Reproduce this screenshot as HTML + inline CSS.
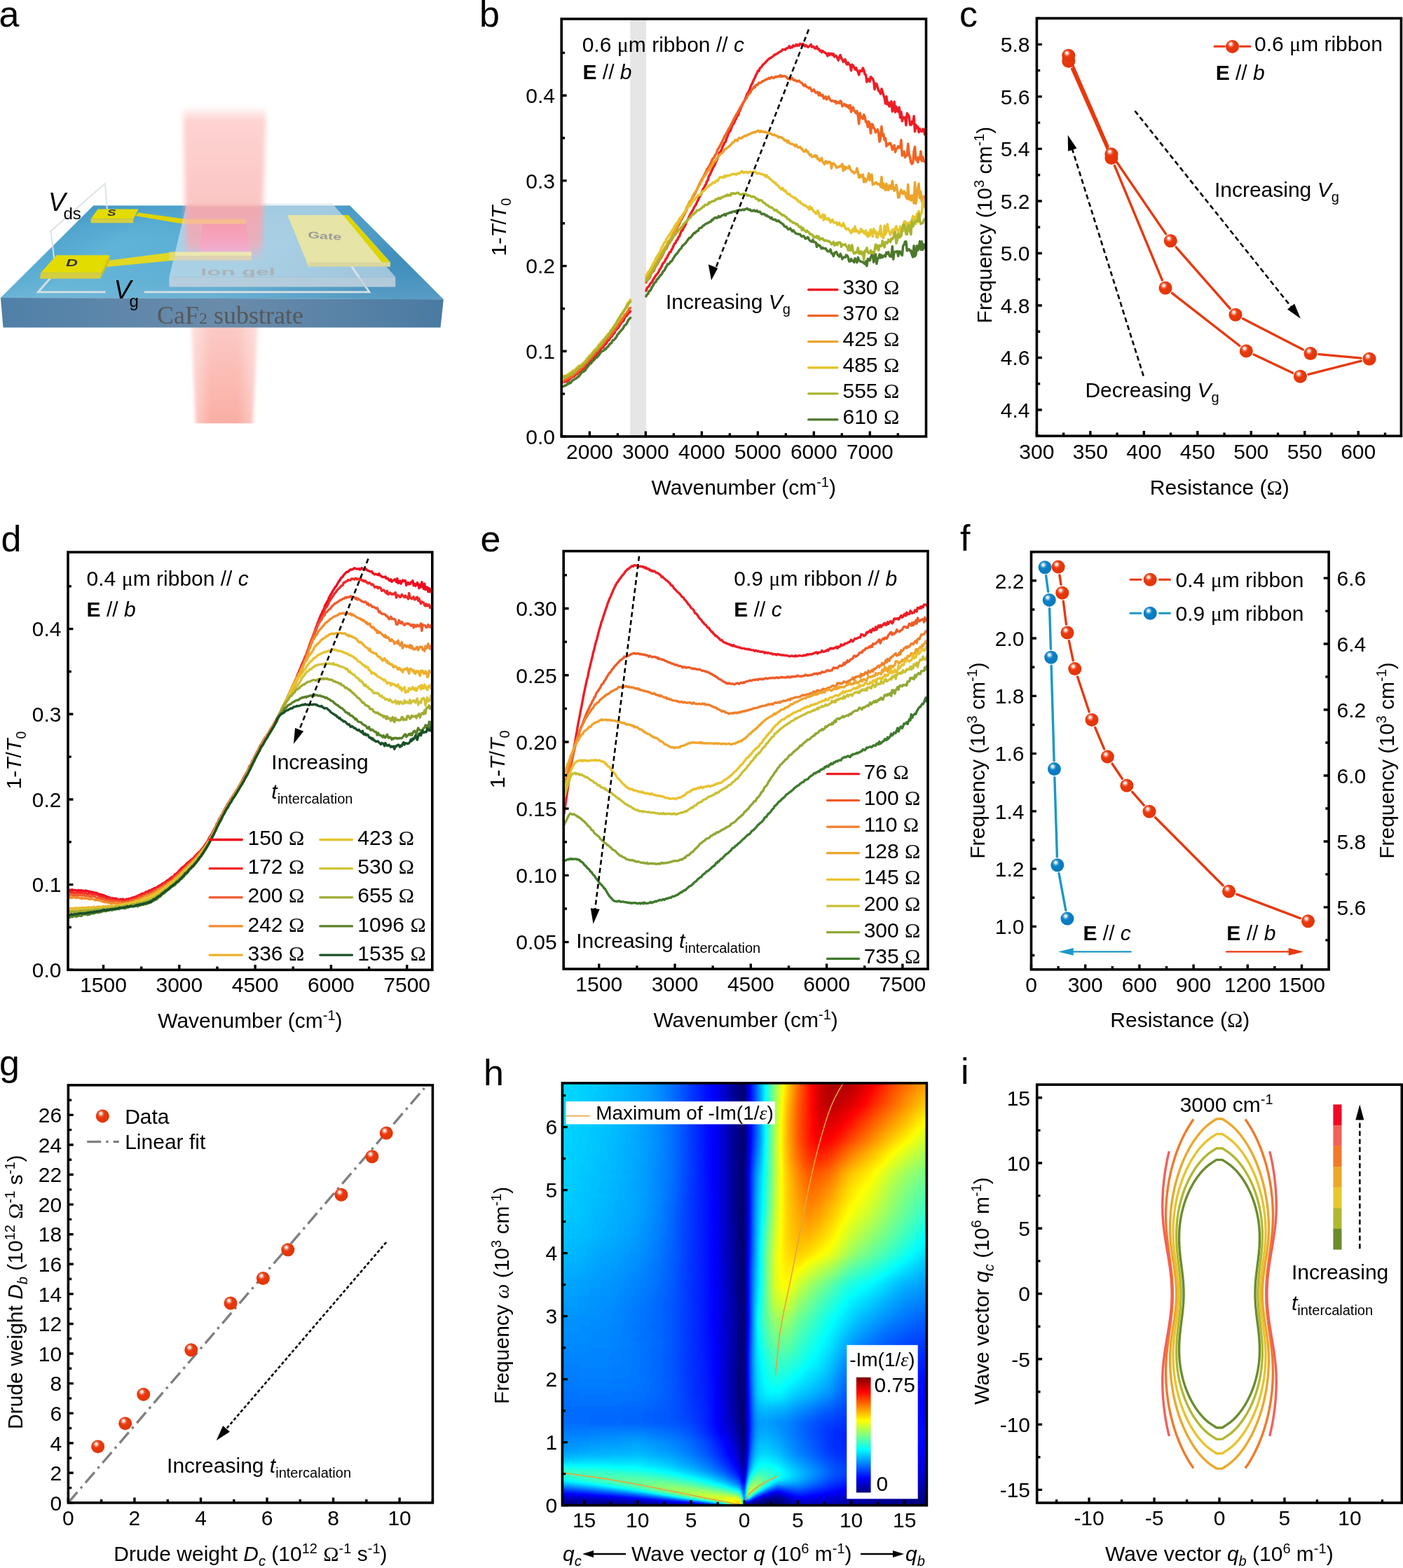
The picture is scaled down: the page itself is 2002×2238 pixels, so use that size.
<!DOCTYPE html>
<html><head><meta charset="utf-8"><title>Figure</title>
<style>html,body{margin:0;padding:0;background:#fff;}svg{display:block;}</style></head>
<body><svg xmlns="http://www.w3.org/2000/svg" width="2002" height="2238" viewBox="0 0 2002 2238" font-family="'Liberation Sans', Arial, sans-serif">
<defs><radialGradient id="ballR" cx="0.4" cy="0.37" r="0.62" fx="0.37" fy="0.3">
<stop offset="0" stop-color="#ffffff"/><stop offset="0.12" stop-color="#fde4dc"/><stop offset="0.3" stop-color="#ef6a48"/><stop offset="0.45" stop-color="#e8380d"/><stop offset="1" stop-color="#e33508"/></radialGradient>
<radialGradient id="ballB" cx="0.4" cy="0.37" r="0.62" fx="0.37" fy="0.3">
<stop offset="0" stop-color="#ffffff"/><stop offset="0.12" stop-color="#d8ecf6"/><stop offset="0.3" stop-color="#4aa2d4"/><stop offset="0.45" stop-color="#0a7fc4"/><stop offset="1" stop-color="#0479bf"/></radialGradient>
<linearGradient id="subTop" x1="0" y1="0" x2="1" y2="0.3">
 <stop offset="0" stop-color="#3f8fc0"/><stop offset="0.35" stop-color="#5fb4d8"/><stop offset="0.7" stop-color="#5aaad2"/><stop offset="1" stop-color="#3d8bba"/></linearGradient>
<linearGradient id="subTop2" x1="0" y1="0" x2="0" y2="1">
 <stop offset="0" stop-color="#3a8cbc" stop-opacity="0.5"/><stop offset="0.5" stop-color="#60b5d8" stop-opacity="0"/><stop offset="1" stop-color="#8fbfd8" stop-opacity="0.35"/></linearGradient>
<linearGradient id="subFront" x1="0" y1="0" x2="1" y2="0">
 <stop offset="0" stop-color="#5080a8"/><stop offset="0.5" stop-color="#6a8cab"/><stop offset="1" stop-color="#4a7aa2"/></linearGradient>
<linearGradient id="beamTop" gradientUnits="userSpaceOnUse" x1="0" y1="150" x2="0" y2="375">
 <stop offset="0" stop-color="#fdd6d4" stop-opacity="0"/>
 <stop offset="0.1" stop-color="#fdd3d1" stop-opacity="1"/>
 <stop offset="0.63" stop-color="#fbc6c4" stop-opacity="1"/>
 <stop offset="0.64" stop-color="#f7a5ab" stop-opacity="0.92"/>
 <stop offset="0.88" stop-color="#f7a8b4" stop-opacity="0.8"/>
 <stop offset="1" stop-color="#f7b4c4" stop-opacity="0"/></linearGradient>
<linearGradient id="beamBot" x1="0" y1="0" x2="0" y2="1">
 <stop offset="0" stop-color="#fccbc6"/><stop offset="1" stop-color="#faaea4"/></linearGradient>
<linearGradient id="beamEdge" x1="0" y1="0" x2="1" y2="0">
 <stop offset="0" stop-color="#fff" stop-opacity="0.45"/><stop offset="0.3" stop-color="#fff" stop-opacity="0"/><stop offset="0.7" stop-color="#fff" stop-opacity="0"/><stop offset="1" stop-color="#fff" stop-opacity="0.45"/></linearGradient>
<filter id="blur3" x="-20%" y="-20%" width="140%" height="140%"><feGaussianBlur stdDeviation="2.5 0.5"/></filter>
<filter id="blur6" x="-20%" y="-20%" width="140%" height="140%"><feGaussianBlur stdDeviation="3.5 2"/></filter>
<linearGradient id="chan" x1="0" y1="0" x2="0" y2="1">
 <stop offset="0" stop-color="#f59cae"/><stop offset="0.6" stop-color="#f6a4c0"/><stop offset="1" stop-color="#f2b0d4"/></linearGradient>
<filter id="jet" x="0" y="0" width="1" height="1" color-interpolation-filters="sRGB"><feGaussianBlur stdDeviation="2.5"/><feComponentTransfer><feFuncR type="table" tableValues="0 0 0 0 0.5 1 1 1 0.5"/><feFuncG type="table" tableValues="0 0 0.5 1 1 1 0.5 0 0"/><feFuncB type="table" tableValues="0.4 1 1 1 0.5 0 0 0 0"/></feComponentTransfer></filter><linearGradient id="vramp" x1="0" y1="0" x2="0" y2="1"><stop offset="0" stop-color="#000" stop-opacity="1"/><stop offset="1" stop-color="#000" stop-opacity="0"/></linearGradient><mask id="vm" maskContentUnits="objectBoundingBox" style="mask-type:alpha"><rect width="1" height="1" fill="url(#vramp)"/></mask><linearGradient id="hr0" gradientUnits="userSpaceOnUse" x1="803.12" y1="0" x2="1321.28" y2="0"><stop offset="0.0000" stop-color="#050505"/><stop offset="0.0294" stop-color="#050505"/><stop offset="0.0588" stop-color="#050505"/><stop offset="0.0882" stop-color="#050505"/><stop offset="0.1176" stop-color="#050505"/><stop offset="0.1471" stop-color="#060606"/><stop offset="0.1765" stop-color="#060606"/><stop offset="0.2059" stop-color="#060606"/><stop offset="0.2353" stop-color="#060606"/><stop offset="0.2647" stop-color="#070707"/><stop offset="0.2941" stop-color="#070707"/><stop offset="0.3235" stop-color="#080808"/><stop offset="0.3529" stop-color="#090909"/><stop offset="0.3824" stop-color="#0a0a0a"/><stop offset="0.3971" stop-color="#0b0b0b"/><stop offset="0.4118" stop-color="#0d0d0d"/><stop offset="0.4265" stop-color="#0f0f0f"/><stop offset="0.4412" stop-color="#121212"/><stop offset="0.4559" stop-color="#181818"/><stop offset="0.4632" stop-color="#1d1d1d"/><stop offset="0.4706" stop-color="#252525"/><stop offset="0.4779" stop-color="#333333"/><stop offset="0.4853" stop-color="#4b4b4b"/><stop offset="0.4926" stop-color="#7d7d7d"/><stop offset="0.5000" stop-color="#000000"/><stop offset="0.5074" stop-color="#040404"/><stop offset="0.5147" stop-color="#020202"/><stop offset="0.5221" stop-color="#020202"/><stop offset="0.5294" stop-color="#020202"/><stop offset="0.5368" stop-color="#020202"/><stop offset="0.5441" stop-color="#020202"/><stop offset="0.5588" stop-color="#010101"/><stop offset="0.5735" stop-color="#010101"/><stop offset="0.5882" stop-color="#010101"/><stop offset="0.6029" stop-color="#030303"/><stop offset="0.6176" stop-color="#060606"/><stop offset="0.6471" stop-color="#101010"/><stop offset="0.6765" stop-color="#0f0f0f"/><stop offset="0.7059" stop-color="#0f0f0f"/><stop offset="0.7353" stop-color="#0e0e0e"/><stop offset="0.7647" stop-color="#0c0c0c"/><stop offset="0.7941" stop-color="#0b0b0b"/><stop offset="0.8235" stop-color="#090909"/><stop offset="0.8529" stop-color="#080808"/><stop offset="0.8824" stop-color="#070707"/><stop offset="0.9118" stop-color="#060606"/><stop offset="0.9412" stop-color="#060606"/><stop offset="0.9706" stop-color="#050505"/><stop offset="1.0000" stop-color="#040404"/></linearGradient><linearGradient id="hr1" gradientUnits="userSpaceOnUse" x1="803.12" y1="0" x2="1321.28" y2="0"><stop offset="0.0000" stop-color="#060606"/><stop offset="0.0294" stop-color="#060606"/><stop offset="0.0588" stop-color="#070707"/><stop offset="0.0882" stop-color="#070707"/><stop offset="0.1176" stop-color="#070707"/><stop offset="0.1471" stop-color="#080808"/><stop offset="0.1765" stop-color="#080808"/><stop offset="0.2059" stop-color="#080808"/><stop offset="0.2353" stop-color="#090909"/><stop offset="0.2647" stop-color="#0a0a0a"/><stop offset="0.2941" stop-color="#0c0c0c"/><stop offset="0.3235" stop-color="#0e0e0e"/><stop offset="0.3529" stop-color="#111111"/><stop offset="0.3824" stop-color="#161616"/><stop offset="0.3971" stop-color="#1a1a1a"/><stop offset="0.4118" stop-color="#202020"/><stop offset="0.4265" stop-color="#2a2a2a"/><stop offset="0.4412" stop-color="#3a3a3a"/><stop offset="0.4559" stop-color="#585858"/><stop offset="0.4632" stop-color="#707070"/><stop offset="0.4706" stop-color="#8e8e8e"/><stop offset="0.4779" stop-color="#ababab"/><stop offset="0.4853" stop-color="#b2b2b2"/><stop offset="0.4926" stop-color="#b8b8b8"/><stop offset="0.5000" stop-color="#000000"/><stop offset="0.5074" stop-color="#0a0a0a"/><stop offset="0.5147" stop-color="#060606"/><stop offset="0.5221" stop-color="#040404"/><stop offset="0.5294" stop-color="#030303"/><stop offset="0.5368" stop-color="#030303"/><stop offset="0.5441" stop-color="#030303"/><stop offset="0.5588" stop-color="#020202"/><stop offset="0.5735" stop-color="#020202"/><stop offset="0.5882" stop-color="#020202"/><stop offset="0.6029" stop-color="#040404"/><stop offset="0.6176" stop-color="#080808"/><stop offset="0.6471" stop-color="#121212"/><stop offset="0.6765" stop-color="#111111"/><stop offset="0.7059" stop-color="#101010"/><stop offset="0.7353" stop-color="#0f0f0f"/><stop offset="0.7647" stop-color="#0d0d0d"/><stop offset="0.7941" stop-color="#0c0c0c"/><stop offset="0.8235" stop-color="#0a0a0a"/><stop offset="0.8529" stop-color="#090909"/><stop offset="0.8824" stop-color="#080808"/><stop offset="0.9118" stop-color="#070707"/><stop offset="0.9412" stop-color="#060606"/><stop offset="0.9706" stop-color="#050505"/><stop offset="1.0000" stop-color="#050505"/></linearGradient><linearGradient id="hr2" gradientUnits="userSpaceOnUse" x1="803.12" y1="0" x2="1321.28" y2="0"><stop offset="0.0000" stop-color="#080808"/><stop offset="0.0294" stop-color="#080808"/><stop offset="0.0588" stop-color="#090909"/><stop offset="0.0882" stop-color="#090909"/><stop offset="0.1176" stop-color="#090909"/><stop offset="0.1471" stop-color="#0a0a0a"/><stop offset="0.1765" stop-color="#0b0b0b"/><stop offset="0.2059" stop-color="#0c0c0c"/><stop offset="0.2353" stop-color="#0d0d0d"/><stop offset="0.2647" stop-color="#0f0f0f"/><stop offset="0.2941" stop-color="#121212"/><stop offset="0.3235" stop-color="#161616"/><stop offset="0.3529" stop-color="#1d1d1d"/><stop offset="0.3824" stop-color="#292929"/><stop offset="0.3971" stop-color="#333333"/><stop offset="0.4118" stop-color="#424242"/><stop offset="0.4265" stop-color="#585858"/><stop offset="0.4412" stop-color="#777777"/><stop offset="0.4559" stop-color="#9f9f9f"/><stop offset="0.4632" stop-color="#a8a8a8"/><stop offset="0.4706" stop-color="#ababab"/><stop offset="0.4779" stop-color="#aeaeae"/><stop offset="0.4853" stop-color="#b0b0b0"/><stop offset="0.4926" stop-color="#b5b5b5"/><stop offset="0.5000" stop-color="#000000"/><stop offset="0.5074" stop-color="#191919"/><stop offset="0.5147" stop-color="#0c0c0c"/><stop offset="0.5221" stop-color="#080808"/><stop offset="0.5294" stop-color="#060606"/><stop offset="0.5368" stop-color="#050505"/><stop offset="0.5441" stop-color="#040404"/><stop offset="0.5588" stop-color="#030303"/><stop offset="0.5735" stop-color="#030303"/><stop offset="0.5882" stop-color="#020202"/><stop offset="0.6029" stop-color="#050505"/><stop offset="0.6176" stop-color="#0a0a0a"/><stop offset="0.6471" stop-color="#141414"/><stop offset="0.6765" stop-color="#131313"/><stop offset="0.7059" stop-color="#121212"/><stop offset="0.7353" stop-color="#111111"/><stop offset="0.7647" stop-color="#0f0f0f"/><stop offset="0.7941" stop-color="#0d0d0d"/><stop offset="0.8235" stop-color="#0b0b0b"/><stop offset="0.8529" stop-color="#0a0a0a"/><stop offset="0.8824" stop-color="#090909"/><stop offset="0.9118" stop-color="#080808"/><stop offset="0.9412" stop-color="#070707"/><stop offset="0.9706" stop-color="#060606"/><stop offset="1.0000" stop-color="#050505"/></linearGradient><linearGradient id="hr3" gradientUnits="userSpaceOnUse" x1="803.12" y1="0" x2="1321.28" y2="0"><stop offset="0.0000" stop-color="#0a0a0a"/><stop offset="0.0294" stop-color="#0a0a0a"/><stop offset="0.0588" stop-color="#0b0b0b"/><stop offset="0.0882" stop-color="#0b0b0b"/><stop offset="0.1176" stop-color="#0c0c0c"/><stop offset="0.1471" stop-color="#0d0d0d"/><stop offset="0.1765" stop-color="#0e0e0e"/><stop offset="0.2059" stop-color="#101010"/><stop offset="0.2353" stop-color="#131313"/><stop offset="0.2647" stop-color="#161616"/><stop offset="0.2941" stop-color="#1b1b1b"/><stop offset="0.3235" stop-color="#232323"/><stop offset="0.3529" stop-color="#2f2f2f"/><stop offset="0.3824" stop-color="#454545"/><stop offset="0.3971" stop-color="#565656"/><stop offset="0.4118" stop-color="#6c6c6c"/><stop offset="0.4265" stop-color="#888888"/><stop offset="0.4412" stop-color="#9d9d9d"/><stop offset="0.4559" stop-color="#a4a4a4"/><stop offset="0.4632" stop-color="#a7a7a7"/><stop offset="0.4706" stop-color="#a9a9a9"/><stop offset="0.4779" stop-color="#ababab"/><stop offset="0.4853" stop-color="#ababab"/><stop offset="0.4926" stop-color="#aeaeae"/><stop offset="0.5000" stop-color="#000000"/><stop offset="0.5074" stop-color="#343434"/><stop offset="0.5147" stop-color="#171717"/><stop offset="0.5221" stop-color="#0f0f0f"/><stop offset="0.5294" stop-color="#0b0b0b"/><stop offset="0.5368" stop-color="#080808"/><stop offset="0.5441" stop-color="#070707"/><stop offset="0.5588" stop-color="#050505"/><stop offset="0.5735" stop-color="#040404"/><stop offset="0.5882" stop-color="#030303"/><stop offset="0.6029" stop-color="#060606"/><stop offset="0.6176" stop-color="#0c0c0c"/><stop offset="0.6471" stop-color="#171717"/><stop offset="0.6765" stop-color="#161616"/><stop offset="0.7059" stop-color="#141414"/><stop offset="0.7353" stop-color="#121212"/><stop offset="0.7647" stop-color="#101010"/><stop offset="0.7941" stop-color="#0e0e0e"/><stop offset="0.8235" stop-color="#0c0c0c"/><stop offset="0.8529" stop-color="#0b0b0b"/><stop offset="0.8824" stop-color="#0a0a0a"/><stop offset="0.9118" stop-color="#080808"/><stop offset="0.9412" stop-color="#080808"/><stop offset="0.9706" stop-color="#070707"/><stop offset="1.0000" stop-color="#060606"/></linearGradient><linearGradient id="hr4" gradientUnits="userSpaceOnUse" x1="803.12" y1="0" x2="1321.28" y2="0"><stop offset="0.0000" stop-color="#0c0c0c"/><stop offset="0.0294" stop-color="#0d0d0d"/><stop offset="0.0588" stop-color="#0e0e0e"/><stop offset="0.0882" stop-color="#0e0e0e"/><stop offset="0.1176" stop-color="#101010"/><stop offset="0.1471" stop-color="#111111"/><stop offset="0.1765" stop-color="#131313"/><stop offset="0.2059" stop-color="#151515"/><stop offset="0.2353" stop-color="#191919"/><stop offset="0.2647" stop-color="#1f1f1f"/><stop offset="0.2941" stop-color="#262626"/><stop offset="0.3235" stop-color="#323232"/><stop offset="0.3529" stop-color="#454545"/><stop offset="0.3824" stop-color="#656565"/><stop offset="0.3971" stop-color="#7a7a7a"/><stop offset="0.4118" stop-color="#8f8f8f"/><stop offset="0.4265" stop-color="#9c9c9c"/><stop offset="0.4412" stop-color="#9e9e9e"/><stop offset="0.4559" stop-color="#a2a2a2"/><stop offset="0.4632" stop-color="#a4a4a4"/><stop offset="0.4706" stop-color="#a5a5a5"/><stop offset="0.4779" stop-color="#a5a5a5"/><stop offset="0.4853" stop-color="#a4a4a4"/><stop offset="0.4926" stop-color="#a5a5a5"/><stop offset="0.5000" stop-color="#000000"/><stop offset="0.5074" stop-color="#5a5a5a"/><stop offset="0.5147" stop-color="#282828"/><stop offset="0.5221" stop-color="#181818"/><stop offset="0.5294" stop-color="#111111"/><stop offset="0.5368" stop-color="#0d0d0d"/><stop offset="0.5441" stop-color="#0a0a0a"/><stop offset="0.5588" stop-color="#070707"/><stop offset="0.5735" stop-color="#060606"/><stop offset="0.5882" stop-color="#050505"/><stop offset="0.6029" stop-color="#080808"/><stop offset="0.6176" stop-color="#0e0e0e"/><stop offset="0.6471" stop-color="#1a1a1a"/><stop offset="0.6765" stop-color="#181818"/><stop offset="0.7059" stop-color="#161616"/><stop offset="0.7353" stop-color="#141414"/><stop offset="0.7647" stop-color="#121212"/><stop offset="0.7941" stop-color="#101010"/><stop offset="0.8235" stop-color="#0e0e0e"/><stop offset="0.8529" stop-color="#0c0c0c"/><stop offset="0.8824" stop-color="#0a0a0a"/><stop offset="0.9118" stop-color="#090909"/><stop offset="0.9412" stop-color="#080808"/><stop offset="0.9706" stop-color="#070707"/><stop offset="1.0000" stop-color="#060606"/></linearGradient><linearGradient id="hr5" gradientUnits="userSpaceOnUse" x1="803.12" y1="0" x2="1321.28" y2="0"><stop offset="0.0000" stop-color="#0f0f0f"/><stop offset="0.0294" stop-color="#101010"/><stop offset="0.0588" stop-color="#111111"/><stop offset="0.0882" stop-color="#121212"/><stop offset="0.1176" stop-color="#141414"/><stop offset="0.1471" stop-color="#161616"/><stop offset="0.1765" stop-color="#181818"/><stop offset="0.2059" stop-color="#1c1c1c"/><stop offset="0.2353" stop-color="#212121"/><stop offset="0.2647" stop-color="#292929"/><stop offset="0.2941" stop-color="#343434"/><stop offset="0.3235" stop-color="#454545"/><stop offset="0.3529" stop-color="#5e5e5e"/><stop offset="0.3824" stop-color="#818181"/><stop offset="0.3971" stop-color="#929292"/><stop offset="0.4118" stop-color="#999999"/><stop offset="0.4265" stop-color="#9b9b9b"/><stop offset="0.4412" stop-color="#9b9b9b"/><stop offset="0.4559" stop-color="#9e9e9e"/><stop offset="0.4632" stop-color="#9f9f9f"/><stop offset="0.4706" stop-color="#9f9f9f"/><stop offset="0.4779" stop-color="#9e9e9e"/><stop offset="0.4853" stop-color="#9c9c9c"/><stop offset="0.4926" stop-color="#9b9b9b"/><stop offset="0.5000" stop-color="#000000"/><stop offset="0.5074" stop-color="#828282"/><stop offset="0.5147" stop-color="#3f3f3f"/><stop offset="0.5221" stop-color="#262626"/><stop offset="0.5294" stop-color="#1a1a1a"/><stop offset="0.5368" stop-color="#141414"/><stop offset="0.5441" stop-color="#101010"/><stop offset="0.5588" stop-color="#0b0b0b"/><stop offset="0.5735" stop-color="#080808"/><stop offset="0.5882" stop-color="#060606"/><stop offset="0.6029" stop-color="#0a0a0a"/><stop offset="0.6176" stop-color="#111111"/><stop offset="0.6471" stop-color="#1d1d1d"/><stop offset="0.6765" stop-color="#1b1b1b"/><stop offset="0.7059" stop-color="#191919"/><stop offset="0.7353" stop-color="#161616"/><stop offset="0.7647" stop-color="#141414"/><stop offset="0.7941" stop-color="#111111"/><stop offset="0.8235" stop-color="#0f0f0f"/><stop offset="0.8529" stop-color="#0d0d0d"/><stop offset="0.8824" stop-color="#0b0b0b"/><stop offset="0.9118" stop-color="#0a0a0a"/><stop offset="0.9412" stop-color="#090909"/><stop offset="0.9706" stop-color="#080808"/><stop offset="1.0000" stop-color="#070707"/></linearGradient><linearGradient id="hr6" gradientUnits="userSpaceOnUse" x1="803.12" y1="0" x2="1321.28" y2="0"><stop offset="0.0000" stop-color="#141414"/><stop offset="0.0294" stop-color="#151515"/><stop offset="0.0588" stop-color="#171717"/><stop offset="0.0882" stop-color="#191919"/><stop offset="0.1176" stop-color="#1b1b1b"/><stop offset="0.1471" stop-color="#1e1e1e"/><stop offset="0.1765" stop-color="#222222"/><stop offset="0.2059" stop-color="#282828"/><stop offset="0.2353" stop-color="#303030"/><stop offset="0.2647" stop-color="#3c3c3c"/><stop offset="0.2941" stop-color="#4c4c4c"/><stop offset="0.3235" stop-color="#636363"/><stop offset="0.3529" stop-color="#7f7f7f"/><stop offset="0.3824" stop-color="#949494"/><stop offset="0.3971" stop-color="#969696"/><stop offset="0.4118" stop-color="#979797"/><stop offset="0.4265" stop-color="#979797"/><stop offset="0.4412" stop-color="#969696"/><stop offset="0.4559" stop-color="#969696"/><stop offset="0.4632" stop-color="#959595"/><stop offset="0.4706" stop-color="#939393"/><stop offset="0.4779" stop-color="#909090"/><stop offset="0.4853" stop-color="#8d8d8d"/><stop offset="0.4926" stop-color="#8a8a8a"/><stop offset="0.5000" stop-color="#000000"/><stop offset="0.5074" stop-color="#a2a2a2"/><stop offset="0.5147" stop-color="#696969"/><stop offset="0.5221" stop-color="#434343"/><stop offset="0.5294" stop-color="#2e2e2e"/><stop offset="0.5368" stop-color="#222222"/><stop offset="0.5441" stop-color="#1a1a1a"/><stop offset="0.5588" stop-color="#111111"/><stop offset="0.5735" stop-color="#0d0d0d"/><stop offset="0.5882" stop-color="#0a0a0a"/><stop offset="0.6029" stop-color="#0f0f0f"/><stop offset="0.6176" stop-color="#161616"/><stop offset="0.6471" stop-color="#212121"/><stop offset="0.6765" stop-color="#1f1f1f"/><stop offset="0.7059" stop-color="#1c1c1c"/><stop offset="0.7353" stop-color="#191919"/><stop offset="0.7647" stop-color="#161616"/><stop offset="0.7941" stop-color="#131313"/><stop offset="0.8235" stop-color="#111111"/><stop offset="0.8529" stop-color="#0f0f0f"/><stop offset="0.8824" stop-color="#0d0d0d"/><stop offset="0.9118" stop-color="#0c0c0c"/><stop offset="0.9412" stop-color="#0a0a0a"/><stop offset="0.9706" stop-color="#090909"/><stop offset="1.0000" stop-color="#080808"/></linearGradient><linearGradient id="hr7" gradientUnits="userSpaceOnUse" x1="803.12" y1="0" x2="1321.28" y2="0"><stop offset="0.0000" stop-color="#191919"/><stop offset="0.0294" stop-color="#1b1b1b"/><stop offset="0.0588" stop-color="#1e1e1e"/><stop offset="0.0882" stop-color="#212121"/><stop offset="0.1176" stop-color="#242424"/><stop offset="0.1471" stop-color="#292929"/><stop offset="0.1765" stop-color="#2f2f2f"/><stop offset="0.2059" stop-color="#363636"/><stop offset="0.2353" stop-color="#424242"/><stop offset="0.2647" stop-color="#515151"/><stop offset="0.2941" stop-color="#666666"/><stop offset="0.3235" stop-color="#7d7d7d"/><stop offset="0.3529" stop-color="#8f8f8f"/><stop offset="0.3824" stop-color="#939393"/><stop offset="0.3971" stop-color="#939393"/><stop offset="0.4118" stop-color="#929292"/><stop offset="0.4265" stop-color="#919191"/><stop offset="0.4412" stop-color="#8e8e8e"/><stop offset="0.4559" stop-color="#8b8b8b"/><stop offset="0.4632" stop-color="#898989"/><stop offset="0.4706" stop-color="#868686"/><stop offset="0.4779" stop-color="#828282"/><stop offset="0.4853" stop-color="#7d7d7d"/><stop offset="0.4926" stop-color="#797979"/><stop offset="0.5000" stop-color="#000000"/><stop offset="0.5074" stop-color="#a1a1a1"/><stop offset="0.5147" stop-color="#8d8d8d"/><stop offset="0.5221" stop-color="#646464"/><stop offset="0.5294" stop-color="#484848"/><stop offset="0.5368" stop-color="#363636"/><stop offset="0.5441" stop-color="#2a2a2a"/><stop offset="0.5588" stop-color="#1b1b1b"/><stop offset="0.5735" stop-color="#141414"/><stop offset="0.5882" stop-color="#0f0f0f"/><stop offset="0.6029" stop-color="#141414"/><stop offset="0.6176" stop-color="#1c1c1c"/><stop offset="0.6471" stop-color="#272727"/><stop offset="0.6765" stop-color="#232323"/><stop offset="0.7059" stop-color="#202020"/><stop offset="0.7353" stop-color="#1c1c1c"/><stop offset="0.7647" stop-color="#191919"/><stop offset="0.7941" stop-color="#161616"/><stop offset="0.8235" stop-color="#131313"/><stop offset="0.8529" stop-color="#101010"/><stop offset="0.8824" stop-color="#0f0f0f"/><stop offset="0.9118" stop-color="#0d0d0d"/><stop offset="0.9412" stop-color="#0c0c0c"/><stop offset="0.9706" stop-color="#0a0a0a"/><stop offset="1.0000" stop-color="#090909"/></linearGradient><linearGradient id="hr8" gradientUnits="userSpaceOnUse" x1="803.12" y1="0" x2="1321.28" y2="0"><stop offset="0.0000" stop-color="#232323"/><stop offset="0.0294" stop-color="#262626"/><stop offset="0.0588" stop-color="#292929"/><stop offset="0.0882" stop-color="#2d2d2d"/><stop offset="0.1176" stop-color="#333333"/><stop offset="0.1471" stop-color="#393939"/><stop offset="0.1765" stop-color="#414141"/><stop offset="0.2059" stop-color="#4c4c4c"/><stop offset="0.2353" stop-color="#5b5b5b"/><stop offset="0.2647" stop-color="#6d6d6d"/><stop offset="0.2941" stop-color="#7f7f7f"/><stop offset="0.3235" stop-color="#8b8b8b"/><stop offset="0.3529" stop-color="#8d8d8d"/><stop offset="0.3824" stop-color="#8d8d8d"/><stop offset="0.3971" stop-color="#8c8c8c"/><stop offset="0.4118" stop-color="#898989"/><stop offset="0.4265" stop-color="#868686"/><stop offset="0.4412" stop-color="#818181"/><stop offset="0.4559" stop-color="#7c7c7c"/><stop offset="0.4632" stop-color="#797979"/><stop offset="0.4706" stop-color="#757575"/><stop offset="0.4779" stop-color="#707070"/><stop offset="0.4853" stop-color="#6a6a6a"/><stop offset="0.4926" stop-color="#656565"/><stop offset="0.5000" stop-color="#000000"/><stop offset="0.5074" stop-color="#999999"/><stop offset="0.5147" stop-color="#999999"/><stop offset="0.5221" stop-color="#898989"/><stop offset="0.5294" stop-color="#6d6d6d"/><stop offset="0.5368" stop-color="#565656"/><stop offset="0.5441" stop-color="#444444"/><stop offset="0.5588" stop-color="#2d2d2d"/><stop offset="0.5735" stop-color="#212121"/><stop offset="0.5882" stop-color="#191919"/><stop offset="0.6029" stop-color="#1e1e1e"/><stop offset="0.6176" stop-color="#262626"/><stop offset="0.6471" stop-color="#2e2e2e"/><stop offset="0.6765" stop-color="#292929"/><stop offset="0.7059" stop-color="#252525"/><stop offset="0.7353" stop-color="#202020"/><stop offset="0.7647" stop-color="#1d1d1d"/><stop offset="0.7941" stop-color="#191919"/><stop offset="0.8235" stop-color="#161616"/><stop offset="0.8529" stop-color="#131313"/><stop offset="0.8824" stop-color="#111111"/><stop offset="0.9118" stop-color="#0f0f0f"/><stop offset="0.9412" stop-color="#0e0e0e"/><stop offset="0.9706" stop-color="#0c0c0c"/><stop offset="1.0000" stop-color="#0b0b0b"/></linearGradient><linearGradient id="hr9" gradientUnits="userSpaceOnUse" x1="803.12" y1="0" x2="1321.28" y2="0"><stop offset="0.0000" stop-color="#313131"/><stop offset="0.0294" stop-color="#353535"/><stop offset="0.0588" stop-color="#3a3a3a"/><stop offset="0.0882" stop-color="#404040"/><stop offset="0.1176" stop-color="#474747"/><stop offset="0.1471" stop-color="#505050"/><stop offset="0.1765" stop-color="#5a5a5a"/><stop offset="0.2059" stop-color="#666666"/><stop offset="0.2353" stop-color="#757575"/><stop offset="0.2647" stop-color="#818181"/><stop offset="0.2941" stop-color="#868686"/><stop offset="0.3235" stop-color="#888888"/><stop offset="0.3529" stop-color="#868686"/><stop offset="0.3824" stop-color="#828282"/><stop offset="0.3971" stop-color="#7f7f7f"/><stop offset="0.4118" stop-color="#7b7b7b"/><stop offset="0.4265" stop-color="#767676"/><stop offset="0.4412" stop-color="#717171"/><stop offset="0.4559" stop-color="#6a6a6a"/><stop offset="0.4632" stop-color="#666666"/><stop offset="0.4706" stop-color="#616161"/><stop offset="0.4779" stop-color="#5c5c5c"/><stop offset="0.4853" stop-color="#565656"/><stop offset="0.4926" stop-color="#505050"/><stop offset="0.5000" stop-color="#000000"/><stop offset="0.5074" stop-color="#898989"/><stop offset="0.5147" stop-color="#939393"/><stop offset="0.5221" stop-color="#929292"/><stop offset="0.5294" stop-color="#8b8b8b"/><stop offset="0.5368" stop-color="#7a7a7a"/><stop offset="0.5441" stop-color="#676767"/><stop offset="0.5588" stop-color="#484848"/><stop offset="0.5735" stop-color="#363636"/><stop offset="0.5882" stop-color="#292929"/><stop offset="0.6029" stop-color="#2d2d2d"/><stop offset="0.6176" stop-color="#323232"/><stop offset="0.6471" stop-color="#373737"/><stop offset="0.6765" stop-color="#313131"/><stop offset="0.7059" stop-color="#2b2b2b"/><stop offset="0.7353" stop-color="#262626"/><stop offset="0.7647" stop-color="#222222"/><stop offset="0.7941" stop-color="#1e1e1e"/><stop offset="0.8235" stop-color="#1a1a1a"/><stop offset="0.8529" stop-color="#161616"/><stop offset="0.8824" stop-color="#141414"/><stop offset="0.9118" stop-color="#121212"/><stop offset="0.9412" stop-color="#101010"/><stop offset="0.9706" stop-color="#0e0e0e"/><stop offset="1.0000" stop-color="#0d0d0d"/></linearGradient><linearGradient id="hr10" gradientUnits="userSpaceOnUse" x1="803.12" y1="0" x2="1321.28" y2="0"><stop offset="0.0000" stop-color="#414141"/><stop offset="0.0294" stop-color="#474747"/><stop offset="0.0588" stop-color="#4d4d4d"/><stop offset="0.0882" stop-color="#545454"/><stop offset="0.1176" stop-color="#5c5c5c"/><stop offset="0.1471" stop-color="#656565"/><stop offset="0.1765" stop-color="#6e6e6e"/><stop offset="0.2059" stop-color="#777777"/><stop offset="0.2353" stop-color="#7e7e7e"/><stop offset="0.2647" stop-color="#828282"/><stop offset="0.2941" stop-color="#828282"/><stop offset="0.3235" stop-color="#818181"/><stop offset="0.3529" stop-color="#7c7c7c"/><stop offset="0.3824" stop-color="#767676"/><stop offset="0.3971" stop-color="#727272"/><stop offset="0.4118" stop-color="#6d6d6d"/><stop offset="0.4265" stop-color="#686868"/><stop offset="0.4412" stop-color="#626262"/><stop offset="0.4559" stop-color="#5a5a5a"/><stop offset="0.4632" stop-color="#565656"/><stop offset="0.4706" stop-color="#515151"/><stop offset="0.4779" stop-color="#4c4c4c"/><stop offset="0.4853" stop-color="#464646"/><stop offset="0.4926" stop-color="#404040"/><stop offset="0.5000" stop-color="#000000"/><stop offset="0.5074" stop-color="#767676"/><stop offset="0.5147" stop-color="#878787"/><stop offset="0.5221" stop-color="#8c8c8c"/><stop offset="0.5294" stop-color="#8b8b8b"/><stop offset="0.5368" stop-color="#868686"/><stop offset="0.5441" stop-color="#7e7e7e"/><stop offset="0.5588" stop-color="#636363"/><stop offset="0.5735" stop-color="#4e4e4e"/><stop offset="0.5882" stop-color="#3d3d3d"/><stop offset="0.6029" stop-color="#3e3e3e"/><stop offset="0.6176" stop-color="#404040"/><stop offset="0.6471" stop-color="#404040"/><stop offset="0.6765" stop-color="#393939"/><stop offset="0.7059" stop-color="#323232"/><stop offset="0.7353" stop-color="#2b2b2b"/><stop offset="0.7647" stop-color="#262626"/><stop offset="0.7941" stop-color="#222222"/><stop offset="0.8235" stop-color="#1e1e1e"/><stop offset="0.8529" stop-color="#1a1a1a"/><stop offset="0.8824" stop-color="#171717"/><stop offset="0.9118" stop-color="#151515"/><stop offset="0.9412" stop-color="#131313"/><stop offset="0.9706" stop-color="#111111"/><stop offset="1.0000" stop-color="#0f0f0f"/></linearGradient><linearGradient id="hr11" gradientUnits="userSpaceOnUse" x1="803.12" y1="0" x2="1321.28" y2="0"><stop offset="0.0000" stop-color="#555555"/><stop offset="0.0294" stop-color="#5b5b5b"/><stop offset="0.0588" stop-color="#616161"/><stop offset="0.0882" stop-color="#686868"/><stop offset="0.1176" stop-color="#6f6f6f"/><stop offset="0.1471" stop-color="#757575"/><stop offset="0.1765" stop-color="#797979"/><stop offset="0.2059" stop-color="#7a7a7a"/><stop offset="0.2353" stop-color="#7c7c7c"/><stop offset="0.2647" stop-color="#7c7c7c"/><stop offset="0.2941" stop-color="#7a7a7a"/><stop offset="0.3235" stop-color="#757575"/><stop offset="0.3529" stop-color="#6f6f6f"/><stop offset="0.3824" stop-color="#686868"/><stop offset="0.3971" stop-color="#636363"/><stop offset="0.4118" stop-color="#5e5e5e"/><stop offset="0.4265" stop-color="#595959"/><stop offset="0.4412" stop-color="#535353"/><stop offset="0.4559" stop-color="#4b4b4b"/><stop offset="0.4632" stop-color="#474747"/><stop offset="0.4706" stop-color="#434343"/><stop offset="0.4779" stop-color="#3d3d3d"/><stop offset="0.4853" stop-color="#373737"/><stop offset="0.4926" stop-color="#2f2f2f"/><stop offset="0.5000" stop-color="#000000"/><stop offset="0.5074" stop-color="#5c5c5c"/><stop offset="0.5147" stop-color="#767676"/><stop offset="0.5221" stop-color="#808080"/><stop offset="0.5294" stop-color="#848484"/><stop offset="0.5368" stop-color="#838383"/><stop offset="0.5441" stop-color="#808080"/><stop offset="0.5588" stop-color="#757575"/><stop offset="0.5735" stop-color="#666666"/><stop offset="0.5882" stop-color="#555555"/><stop offset="0.6029" stop-color="#515151"/><stop offset="0.6176" stop-color="#4f4f4f"/><stop offset="0.6471" stop-color="#494949"/><stop offset="0.6765" stop-color="#404040"/><stop offset="0.7059" stop-color="#383838"/><stop offset="0.7353" stop-color="#303030"/><stop offset="0.7647" stop-color="#2b2b2b"/><stop offset="0.7941" stop-color="#272727"/><stop offset="0.8235" stop-color="#222222"/><stop offset="0.8529" stop-color="#1e1e1e"/><stop offset="0.8824" stop-color="#1b1b1b"/><stop offset="0.9118" stop-color="#191919"/><stop offset="0.9412" stop-color="#161616"/><stop offset="0.9706" stop-color="#141414"/><stop offset="1.0000" stop-color="#111111"/></linearGradient><linearGradient id="hr12" gradientUnits="userSpaceOnUse" x1="803.12" y1="0" x2="1321.28" y2="0"><stop offset="0.0000" stop-color="#676767"/><stop offset="0.0294" stop-color="#6c6c6c"/><stop offset="0.0588" stop-color="#717171"/><stop offset="0.0882" stop-color="#747474"/><stop offset="0.1176" stop-color="#767676"/><stop offset="0.1471" stop-color="#767676"/><stop offset="0.1765" stop-color="#767676"/><stop offset="0.2059" stop-color="#757575"/><stop offset="0.2353" stop-color="#747474"/><stop offset="0.2647" stop-color="#717171"/><stop offset="0.2941" stop-color="#6d6d6d"/><stop offset="0.3235" stop-color="#686868"/><stop offset="0.3529" stop-color="#626262"/><stop offset="0.3824" stop-color="#5a5a5a"/><stop offset="0.3971" stop-color="#565656"/><stop offset="0.4118" stop-color="#515151"/><stop offset="0.4265" stop-color="#4b4b4b"/><stop offset="0.4412" stop-color="#464646"/><stop offset="0.4559" stop-color="#3e3e3e"/><stop offset="0.4632" stop-color="#3a3a3a"/><stop offset="0.4706" stop-color="#363636"/><stop offset="0.4779" stop-color="#313131"/><stop offset="0.4853" stop-color="#2c2c2c"/><stop offset="0.4926" stop-color="#222222"/><stop offset="0.5000" stop-color="#000000"/><stop offset="0.5074" stop-color="#464646"/><stop offset="0.5147" stop-color="#646464"/><stop offset="0.5221" stop-color="#707070"/><stop offset="0.5294" stop-color="#787878"/><stop offset="0.5368" stop-color="#7a7a7a"/><stop offset="0.5441" stop-color="#7a7a7a"/><stop offset="0.5588" stop-color="#747474"/><stop offset="0.5735" stop-color="#6f6f6f"/><stop offset="0.5882" stop-color="#676767"/><stop offset="0.6029" stop-color="#606060"/><stop offset="0.6176" stop-color="#5a5a5a"/><stop offset="0.6471" stop-color="#505050"/><stop offset="0.6765" stop-color="#474747"/><stop offset="0.7059" stop-color="#3e3e3e"/><stop offset="0.7353" stop-color="#353535"/><stop offset="0.7647" stop-color="#303030"/><stop offset="0.7941" stop-color="#2b2b2b"/><stop offset="0.8235" stop-color="#272727"/><stop offset="0.8529" stop-color="#222222"/><stop offset="0.8824" stop-color="#1f1f1f"/><stop offset="0.9118" stop-color="#1c1c1c"/><stop offset="0.9412" stop-color="#191919"/><stop offset="0.9706" stop-color="#171717"/><stop offset="1.0000" stop-color="#141414"/></linearGradient><linearGradient id="hr13" gradientUnits="userSpaceOnUse" x1="803.12" y1="0" x2="1321.28" y2="0"><stop offset="0.0000" stop-color="#707070"/><stop offset="0.0294" stop-color="#717171"/><stop offset="0.0588" stop-color="#707070"/><stop offset="0.0882" stop-color="#6f6f6f"/><stop offset="0.1176" stop-color="#6e6e6e"/><stop offset="0.1471" stop-color="#6c6c6c"/><stop offset="0.1765" stop-color="#6b6b6b"/><stop offset="0.2059" stop-color="#696969"/><stop offset="0.2353" stop-color="#676767"/><stop offset="0.2647" stop-color="#646464"/><stop offset="0.2941" stop-color="#606060"/><stop offset="0.3235" stop-color="#5a5a5a"/><stop offset="0.3529" stop-color="#545454"/><stop offset="0.3824" stop-color="#4d4d4d"/><stop offset="0.3971" stop-color="#494949"/><stop offset="0.4118" stop-color="#454545"/><stop offset="0.4265" stop-color="#3f3f3f"/><stop offset="0.4412" stop-color="#3a3a3a"/><stop offset="0.4559" stop-color="#333333"/><stop offset="0.4632" stop-color="#2f2f2f"/><stop offset="0.4706" stop-color="#2c2c2c"/><stop offset="0.4779" stop-color="#272727"/><stop offset="0.4853" stop-color="#222222"/><stop offset="0.4926" stop-color="#181818"/><stop offset="0.5000" stop-color="#000000"/><stop offset="0.5074" stop-color="#333333"/><stop offset="0.5147" stop-color="#525252"/><stop offset="0.5221" stop-color="#5f5f5f"/><stop offset="0.5294" stop-color="#696969"/><stop offset="0.5368" stop-color="#6c6c6c"/><stop offset="0.5441" stop-color="#6e6e6e"/><stop offset="0.5588" stop-color="#6c6c6c"/><stop offset="0.5735" stop-color="#6a6a6a"/><stop offset="0.5882" stop-color="#676767"/><stop offset="0.6029" stop-color="#616161"/><stop offset="0.6176" stop-color="#5b5b5b"/><stop offset="0.6471" stop-color="#515151"/><stop offset="0.6765" stop-color="#494949"/><stop offset="0.7059" stop-color="#414141"/><stop offset="0.7353" stop-color="#383838"/><stop offset="0.7647" stop-color="#333333"/><stop offset="0.7941" stop-color="#2f2f2f"/><stop offset="0.8235" stop-color="#2a2a2a"/><stop offset="0.8529" stop-color="#252525"/><stop offset="0.8824" stop-color="#222222"/><stop offset="0.9118" stop-color="#202020"/><stop offset="0.9412" stop-color="#1d1d1d"/><stop offset="0.9706" stop-color="#1a1a1a"/><stop offset="1.0000" stop-color="#171717"/></linearGradient><linearGradient id="hr14" gradientUnits="userSpaceOnUse" x1="803.12" y1="0" x2="1321.28" y2="0"><stop offset="0.0000" stop-color="#656565"/><stop offset="0.0294" stop-color="#646464"/><stop offset="0.0588" stop-color="#636363"/><stop offset="0.0882" stop-color="#636363"/><stop offset="0.1176" stop-color="#626262"/><stop offset="0.1471" stop-color="#616161"/><stop offset="0.1765" stop-color="#606060"/><stop offset="0.2059" stop-color="#606060"/><stop offset="0.2353" stop-color="#5d5d5d"/><stop offset="0.2647" stop-color="#5a5a5a"/><stop offset="0.2941" stop-color="#565656"/><stop offset="0.3235" stop-color="#515151"/><stop offset="0.3529" stop-color="#4c4c4c"/><stop offset="0.3824" stop-color="#454545"/><stop offset="0.3971" stop-color="#414141"/><stop offset="0.4118" stop-color="#3d3d3d"/><stop offset="0.4265" stop-color="#383838"/><stop offset="0.4412" stop-color="#333333"/><stop offset="0.4559" stop-color="#2c2c2c"/><stop offset="0.4632" stop-color="#292929"/><stop offset="0.4706" stop-color="#252525"/><stop offset="0.4779" stop-color="#212121"/><stop offset="0.4853" stop-color="#1c1c1c"/><stop offset="0.4926" stop-color="#121212"/><stop offset="0.5000" stop-color="#000000"/><stop offset="0.5074" stop-color="#282828"/><stop offset="0.5147" stop-color="#474747"/><stop offset="0.5221" stop-color="#545454"/><stop offset="0.5294" stop-color="#5e5e5e"/><stop offset="0.5368" stop-color="#626262"/><stop offset="0.5441" stop-color="#656565"/><stop offset="0.5588" stop-color="#656565"/><stop offset="0.5735" stop-color="#636363"/><stop offset="0.5882" stop-color="#616161"/><stop offset="0.6029" stop-color="#5c5c5c"/><stop offset="0.6176" stop-color="#565656"/><stop offset="0.6471" stop-color="#4e4e4e"/><stop offset="0.6765" stop-color="#464646"/><stop offset="0.7059" stop-color="#3f3f3f"/><stop offset="0.7353" stop-color="#373737"/><stop offset="0.7647" stop-color="#333333"/><stop offset="0.7941" stop-color="#2f2f2f"/><stop offset="0.8235" stop-color="#2b2b2b"/><stop offset="0.8529" stop-color="#262626"/><stop offset="0.8824" stop-color="#242424"/><stop offset="0.9118" stop-color="#212121"/><stop offset="0.9412" stop-color="#1e1e1e"/><stop offset="0.9706" stop-color="#1c1c1c"/><stop offset="1.0000" stop-color="#191919"/></linearGradient><linearGradient id="hr15" gradientUnits="userSpaceOnUse" x1="803.12" y1="0" x2="1321.28" y2="0"><stop offset="0.0000" stop-color="#565656"/><stop offset="0.0294" stop-color="#575757"/><stop offset="0.0588" stop-color="#585858"/><stop offset="0.0882" stop-color="#585858"/><stop offset="0.1176" stop-color="#585858"/><stop offset="0.1471" stop-color="#585858"/><stop offset="0.1765" stop-color="#585858"/><stop offset="0.2059" stop-color="#585858"/><stop offset="0.2353" stop-color="#555555"/><stop offset="0.2647" stop-color="#535353"/><stop offset="0.2941" stop-color="#505050"/><stop offset="0.3235" stop-color="#4b4b4b"/><stop offset="0.3529" stop-color="#464646"/><stop offset="0.3824" stop-color="#404040"/><stop offset="0.3971" stop-color="#3c3c3c"/><stop offset="0.4118" stop-color="#383838"/><stop offset="0.4265" stop-color="#333333"/><stop offset="0.4412" stop-color="#2d2d2d"/><stop offset="0.4559" stop-color="#272727"/><stop offset="0.4632" stop-color="#242424"/><stop offset="0.4706" stop-color="#212121"/><stop offset="0.4779" stop-color="#1c1c1c"/><stop offset="0.4853" stop-color="#181818"/><stop offset="0.4926" stop-color="#0e0e0e"/><stop offset="0.5000" stop-color="#000000"/><stop offset="0.5074" stop-color="#212121"/><stop offset="0.5147" stop-color="#404040"/><stop offset="0.5221" stop-color="#4c4c4c"/><stop offset="0.5294" stop-color="#575757"/><stop offset="0.5368" stop-color="#5b5b5b"/><stop offset="0.5441" stop-color="#5e5e5e"/><stop offset="0.5588" stop-color="#5e5e5e"/><stop offset="0.5735" stop-color="#5c5c5c"/><stop offset="0.5882" stop-color="#5a5a5a"/><stop offset="0.6029" stop-color="#565656"/><stop offset="0.6176" stop-color="#505050"/><stop offset="0.6471" stop-color="#494949"/><stop offset="0.6765" stop-color="#424242"/><stop offset="0.7059" stop-color="#3b3b3b"/><stop offset="0.7353" stop-color="#343434"/><stop offset="0.7647" stop-color="#303030"/><stop offset="0.7941" stop-color="#2d2d2d"/><stop offset="0.8235" stop-color="#2a2a2a"/><stop offset="0.8529" stop-color="#262626"/><stop offset="0.8824" stop-color="#242424"/><stop offset="0.9118" stop-color="#212121"/><stop offset="0.9412" stop-color="#1f1f1f"/><stop offset="0.9706" stop-color="#1c1c1c"/><stop offset="1.0000" stop-color="#1a1a1a"/></linearGradient><linearGradient id="hr16" gradientUnits="userSpaceOnUse" x1="803.12" y1="0" x2="1321.28" y2="0"><stop offset="0.0000" stop-color="#4a4a4a"/><stop offset="0.0294" stop-color="#4c4c4c"/><stop offset="0.0588" stop-color="#4d4d4d"/><stop offset="0.0882" stop-color="#4e4e4e"/><stop offset="0.1176" stop-color="#4e4e4e"/><stop offset="0.1471" stop-color="#4f4f4f"/><stop offset="0.1765" stop-color="#4f4f4f"/><stop offset="0.2059" stop-color="#505050"/><stop offset="0.2353" stop-color="#4e4e4e"/><stop offset="0.2647" stop-color="#4b4b4b"/><stop offset="0.2941" stop-color="#494949"/><stop offset="0.3235" stop-color="#454545"/><stop offset="0.3529" stop-color="#404040"/><stop offset="0.3824" stop-color="#3a3a3a"/><stop offset="0.3971" stop-color="#363636"/><stop offset="0.4118" stop-color="#323232"/><stop offset="0.4265" stop-color="#2d2d2d"/><stop offset="0.4412" stop-color="#282828"/><stop offset="0.4559" stop-color="#222222"/><stop offset="0.4632" stop-color="#1f1f1f"/><stop offset="0.4706" stop-color="#1c1c1c"/><stop offset="0.4779" stop-color="#181818"/><stop offset="0.4853" stop-color="#141414"/><stop offset="0.4926" stop-color="#0a0a0a"/><stop offset="0.5000" stop-color="#000000"/><stop offset="0.5074" stop-color="#191919"/><stop offset="0.5147" stop-color="#383838"/><stop offset="0.5221" stop-color="#444444"/><stop offset="0.5294" stop-color="#505050"/><stop offset="0.5368" stop-color="#535353"/><stop offset="0.5441" stop-color="#575757"/><stop offset="0.5588" stop-color="#575757"/><stop offset="0.5735" stop-color="#555555"/><stop offset="0.5882" stop-color="#535353"/><stop offset="0.6029" stop-color="#4f4f4f"/><stop offset="0.6176" stop-color="#4a4a4a"/><stop offset="0.6471" stop-color="#434343"/><stop offset="0.6765" stop-color="#3d3d3d"/><stop offset="0.7059" stop-color="#363636"/><stop offset="0.7353" stop-color="#303030"/><stop offset="0.7647" stop-color="#2d2d2d"/><stop offset="0.7941" stop-color="#2a2a2a"/><stop offset="0.8235" stop-color="#282828"/><stop offset="0.8529" stop-color="#252525"/><stop offset="0.8824" stop-color="#242424"/><stop offset="0.9118" stop-color="#222222"/><stop offset="0.9412" stop-color="#212121"/><stop offset="0.9706" stop-color="#1f1f1f"/><stop offset="1.0000" stop-color="#1d1d1d"/></linearGradient><linearGradient id="hr17" gradientUnits="userSpaceOnUse" x1="803.12" y1="0" x2="1321.28" y2="0"><stop offset="0.0000" stop-color="#464646"/><stop offset="0.0294" stop-color="#474747"/><stop offset="0.0588" stop-color="#484848"/><stop offset="0.0882" stop-color="#494949"/><stop offset="0.1176" stop-color="#4a4a4a"/><stop offset="0.1471" stop-color="#4a4a4a"/><stop offset="0.1765" stop-color="#4b4b4b"/><stop offset="0.2059" stop-color="#4c4c4c"/><stop offset="0.2353" stop-color="#4a4a4a"/><stop offset="0.2647" stop-color="#474747"/><stop offset="0.2941" stop-color="#454545"/><stop offset="0.3235" stop-color="#414141"/><stop offset="0.3529" stop-color="#3d3d3d"/><stop offset="0.3824" stop-color="#373737"/><stop offset="0.3971" stop-color="#333333"/><stop offset="0.4118" stop-color="#2f2f2f"/><stop offset="0.4265" stop-color="#2a2a2a"/><stop offset="0.4412" stop-color="#252525"/><stop offset="0.4559" stop-color="#1f1f1f"/><stop offset="0.4632" stop-color="#1c1c1c"/><stop offset="0.4706" stop-color="#1a1a1a"/><stop offset="0.4779" stop-color="#151515"/><stop offset="0.4853" stop-color="#111111"/><stop offset="0.4926" stop-color="#080808"/><stop offset="0.5000" stop-color="#000000"/><stop offset="0.5074" stop-color="#151515"/><stop offset="0.5147" stop-color="#323232"/><stop offset="0.5221" stop-color="#404040"/><stop offset="0.5294" stop-color="#4c4c4c"/><stop offset="0.5368" stop-color="#4f4f4f"/><stop offset="0.5441" stop-color="#535353"/><stop offset="0.5588" stop-color="#535353"/><stop offset="0.5735" stop-color="#515151"/><stop offset="0.5882" stop-color="#4f4f4f"/><stop offset="0.6029" stop-color="#4b4b4b"/><stop offset="0.6176" stop-color="#474747"/><stop offset="0.6471" stop-color="#404040"/><stop offset="0.6765" stop-color="#3a3a3a"/><stop offset="0.7059" stop-color="#343434"/><stop offset="0.7353" stop-color="#2e2e2e"/><stop offset="0.7647" stop-color="#2b2b2b"/><stop offset="0.7941" stop-color="#292929"/><stop offset="0.8235" stop-color="#272727"/><stop offset="0.8529" stop-color="#242424"/><stop offset="0.8824" stop-color="#242424"/><stop offset="0.9118" stop-color="#232323"/><stop offset="0.9412" stop-color="#222222"/><stop offset="0.9706" stop-color="#212121"/><stop offset="1.0000" stop-color="#1f1f1f"/></linearGradient><linearGradient id="hr18" gradientUnits="userSpaceOnUse" x1="803.12" y1="0" x2="1321.28" y2="0"><stop offset="0.0000" stop-color="#434343"/><stop offset="0.0294" stop-color="#444444"/><stop offset="0.0588" stop-color="#454545"/><stop offset="0.0882" stop-color="#464646"/><stop offset="0.1176" stop-color="#474747"/><stop offset="0.1471" stop-color="#474747"/><stop offset="0.1765" stop-color="#484848"/><stop offset="0.2059" stop-color="#494949"/><stop offset="0.2353" stop-color="#474747"/><stop offset="0.2647" stop-color="#454545"/><stop offset="0.2941" stop-color="#434343"/><stop offset="0.3235" stop-color="#3f3f3f"/><stop offset="0.3529" stop-color="#3b3b3b"/><stop offset="0.3824" stop-color="#353535"/><stop offset="0.3971" stop-color="#313131"/><stop offset="0.4118" stop-color="#2d2d2d"/><stop offset="0.4265" stop-color="#282828"/><stop offset="0.4412" stop-color="#232323"/><stop offset="0.4559" stop-color="#1d1d1d"/><stop offset="0.4632" stop-color="#1b1b1b"/><stop offset="0.4706" stop-color="#181818"/><stop offset="0.4779" stop-color="#141414"/><stop offset="0.4853" stop-color="#0e0e0e"/><stop offset="0.4926" stop-color="#070707"/><stop offset="0.5000" stop-color="#000000"/><stop offset="0.5074" stop-color="#131313"/><stop offset="0.5147" stop-color="#2d2d2d"/><stop offset="0.5221" stop-color="#3d3d3d"/><stop offset="0.5294" stop-color="#494949"/><stop offset="0.5368" stop-color="#4d4d4d"/><stop offset="0.5441" stop-color="#505050"/><stop offset="0.5588" stop-color="#505050"/><stop offset="0.5735" stop-color="#4e4e4e"/><stop offset="0.5882" stop-color="#4c4c4c"/><stop offset="0.6029" stop-color="#494949"/><stop offset="0.6176" stop-color="#454545"/><stop offset="0.6471" stop-color="#3f3f3f"/><stop offset="0.6765" stop-color="#393939"/><stop offset="0.7059" stop-color="#333333"/><stop offset="0.7353" stop-color="#2d2d2d"/><stop offset="0.7647" stop-color="#2b2b2b"/><stop offset="0.7941" stop-color="#282828"/><stop offset="0.8235" stop-color="#262626"/><stop offset="0.8529" stop-color="#242424"/><stop offset="0.8824" stop-color="#242424"/><stop offset="0.9118" stop-color="#232323"/><stop offset="0.9412" stop-color="#232323"/><stop offset="0.9706" stop-color="#222222"/><stop offset="1.0000" stop-color="#212121"/></linearGradient><linearGradient id="hr19" gradientUnits="userSpaceOnUse" x1="803.12" y1="0" x2="1321.28" y2="0"><stop offset="0.0000" stop-color="#414141"/><stop offset="0.0294" stop-color="#424242"/><stop offset="0.0588" stop-color="#424242"/><stop offset="0.0882" stop-color="#424242"/><stop offset="0.1176" stop-color="#434343"/><stop offset="0.1471" stop-color="#434343"/><stop offset="0.1765" stop-color="#444444"/><stop offset="0.2059" stop-color="#444444"/><stop offset="0.2353" stop-color="#424242"/><stop offset="0.2647" stop-color="#404040"/><stop offset="0.2941" stop-color="#3e3e3e"/><stop offset="0.3235" stop-color="#3b3b3b"/><stop offset="0.3529" stop-color="#373737"/><stop offset="0.3824" stop-color="#313131"/><stop offset="0.3971" stop-color="#2d2d2d"/><stop offset="0.4118" stop-color="#292929"/><stop offset="0.4265" stop-color="#242424"/><stop offset="0.4412" stop-color="#1f1f1f"/><stop offset="0.4559" stop-color="#1a1a1a"/><stop offset="0.4632" stop-color="#171717"/><stop offset="0.4706" stop-color="#141414"/><stop offset="0.4779" stop-color="#101010"/><stop offset="0.4853" stop-color="#0b0b0b"/><stop offset="0.4926" stop-color="#050505"/><stop offset="0.5000" stop-color="#000000"/><stop offset="0.5074" stop-color="#121212"/><stop offset="0.5147" stop-color="#292929"/><stop offset="0.5221" stop-color="#3a3a3a"/><stop offset="0.5294" stop-color="#454545"/><stop offset="0.5368" stop-color="#494949"/><stop offset="0.5441" stop-color="#4c4c4c"/><stop offset="0.5588" stop-color="#4c4c4c"/><stop offset="0.5735" stop-color="#4b4b4b"/><stop offset="0.5882" stop-color="#494949"/><stop offset="0.6029" stop-color="#464646"/><stop offset="0.6176" stop-color="#434343"/><stop offset="0.6471" stop-color="#3d3d3d"/><stop offset="0.6765" stop-color="#373737"/><stop offset="0.7059" stop-color="#323232"/><stop offset="0.7353" stop-color="#2d2d2d"/><stop offset="0.7647" stop-color="#2a2a2a"/><stop offset="0.7941" stop-color="#272727"/><stop offset="0.8235" stop-color="#262626"/><stop offset="0.8529" stop-color="#242424"/><stop offset="0.8824" stop-color="#242424"/><stop offset="0.9118" stop-color="#232323"/><stop offset="0.9412" stop-color="#232323"/><stop offset="0.9706" stop-color="#232323"/><stop offset="1.0000" stop-color="#222222"/></linearGradient><linearGradient id="hr20" gradientUnits="userSpaceOnUse" x1="803.12" y1="0" x2="1321.28" y2="0"><stop offset="0.0000" stop-color="#3e3e3e"/><stop offset="0.0294" stop-color="#3e3e3e"/><stop offset="0.0588" stop-color="#3e3e3e"/><stop offset="0.0882" stop-color="#3f3f3f"/><stop offset="0.1176" stop-color="#3f3f3f"/><stop offset="0.1471" stop-color="#3f3f3f"/><stop offset="0.1765" stop-color="#3f3f3f"/><stop offset="0.2059" stop-color="#3f3f3f"/><stop offset="0.2353" stop-color="#3e3e3e"/><stop offset="0.2647" stop-color="#3c3c3c"/><stop offset="0.2941" stop-color="#3a3a3a"/><stop offset="0.3235" stop-color="#383838"/><stop offset="0.3529" stop-color="#343434"/><stop offset="0.3824" stop-color="#2e2e2e"/><stop offset="0.3971" stop-color="#2a2a2a"/><stop offset="0.4118" stop-color="#262626"/><stop offset="0.4265" stop-color="#212121"/><stop offset="0.4412" stop-color="#1c1c1c"/><stop offset="0.4559" stop-color="#171717"/><stop offset="0.4632" stop-color="#151515"/><stop offset="0.4706" stop-color="#121212"/><stop offset="0.4779" stop-color="#0e0e0e"/><stop offset="0.4853" stop-color="#090909"/><stop offset="0.4926" stop-color="#040404"/><stop offset="0.5000" stop-color="#000000"/><stop offset="0.5074" stop-color="#121212"/><stop offset="0.5147" stop-color="#262626"/><stop offset="0.5221" stop-color="#383838"/><stop offset="0.5294" stop-color="#434343"/><stop offset="0.5368" stop-color="#474747"/><stop offset="0.5441" stop-color="#4a4a4a"/><stop offset="0.5588" stop-color="#4a4a4a"/><stop offset="0.5735" stop-color="#484848"/><stop offset="0.5882" stop-color="#474747"/><stop offset="0.6029" stop-color="#444444"/><stop offset="0.6176" stop-color="#424242"/><stop offset="0.6471" stop-color="#3c3c3c"/><stop offset="0.6765" stop-color="#373737"/><stop offset="0.7059" stop-color="#323232"/><stop offset="0.7353" stop-color="#2d2d2d"/><stop offset="0.7647" stop-color="#2b2b2b"/><stop offset="0.7941" stop-color="#282828"/><stop offset="0.8235" stop-color="#262626"/><stop offset="0.8529" stop-color="#252525"/><stop offset="0.8824" stop-color="#242424"/><stop offset="0.9118" stop-color="#242424"/><stop offset="0.9412" stop-color="#232323"/><stop offset="0.9706" stop-color="#232323"/><stop offset="1.0000" stop-color="#222222"/></linearGradient><linearGradient id="hr21" gradientUnits="userSpaceOnUse" x1="803.12" y1="0" x2="1321.28" y2="0"><stop offset="0.0000" stop-color="#3b3b3b"/><stop offset="0.0294" stop-color="#3b3b3b"/><stop offset="0.0588" stop-color="#3b3b3b"/><stop offset="0.0882" stop-color="#3a3a3a"/><stop offset="0.1176" stop-color="#3a3a3a"/><stop offset="0.1471" stop-color="#3a3a3a"/><stop offset="0.1765" stop-color="#393939"/><stop offset="0.2059" stop-color="#393939"/><stop offset="0.2353" stop-color="#383838"/><stop offset="0.2647" stop-color="#373737"/><stop offset="0.2941" stop-color="#363636"/><stop offset="0.3235" stop-color="#343434"/><stop offset="0.3529" stop-color="#313131"/><stop offset="0.3824" stop-color="#2c2c2c"/><stop offset="0.3971" stop-color="#282828"/><stop offset="0.4118" stop-color="#242424"/><stop offset="0.4265" stop-color="#1f1f1f"/><stop offset="0.4412" stop-color="#1a1a1a"/><stop offset="0.4559" stop-color="#151515"/><stop offset="0.4632" stop-color="#121212"/><stop offset="0.4706" stop-color="#101010"/><stop offset="0.4779" stop-color="#0c0c0c"/><stop offset="0.4853" stop-color="#080808"/><stop offset="0.4926" stop-color="#040404"/><stop offset="0.5000" stop-color="#000000"/><stop offset="0.5074" stop-color="#141414"/><stop offset="0.5147" stop-color="#262626"/><stop offset="0.5221" stop-color="#373737"/><stop offset="0.5294" stop-color="#424242"/><stop offset="0.5368" stop-color="#464646"/><stop offset="0.5441" stop-color="#484848"/><stop offset="0.5588" stop-color="#484848"/><stop offset="0.5735" stop-color="#474747"/><stop offset="0.5882" stop-color="#454545"/><stop offset="0.6029" stop-color="#444444"/><stop offset="0.6176" stop-color="#424242"/><stop offset="0.6471" stop-color="#3d3d3d"/><stop offset="0.6765" stop-color="#383838"/><stop offset="0.7059" stop-color="#333333"/><stop offset="0.7353" stop-color="#303030"/><stop offset="0.7647" stop-color="#2e2e2e"/><stop offset="0.7941" stop-color="#2b2b2b"/><stop offset="0.8235" stop-color="#282828"/><stop offset="0.8529" stop-color="#262626"/><stop offset="0.8824" stop-color="#252525"/><stop offset="0.9118" stop-color="#242424"/><stop offset="0.9412" stop-color="#232323"/><stop offset="0.9706" stop-color="#222222"/><stop offset="1.0000" stop-color="#212121"/></linearGradient><linearGradient id="hr22" gradientUnits="userSpaceOnUse" x1="803.12" y1="0" x2="1321.28" y2="0"><stop offset="0.0000" stop-color="#3b3b3b"/><stop offset="0.0294" stop-color="#3b3b3b"/><stop offset="0.0588" stop-color="#3b3b3b"/><stop offset="0.0882" stop-color="#3b3b3b"/><stop offset="0.1176" stop-color="#3b3b3b"/><stop offset="0.1471" stop-color="#3b3b3b"/><stop offset="0.1765" stop-color="#3a3a3a"/><stop offset="0.2059" stop-color="#3a3a3a"/><stop offset="0.2353" stop-color="#393939"/><stop offset="0.2647" stop-color="#383838"/><stop offset="0.2941" stop-color="#363636"/><stop offset="0.3235" stop-color="#333333"/><stop offset="0.3529" stop-color="#2f2f2f"/><stop offset="0.3824" stop-color="#2b2b2b"/><stop offset="0.3971" stop-color="#282828"/><stop offset="0.4118" stop-color="#242424"/><stop offset="0.4265" stop-color="#1f1f1f"/><stop offset="0.4412" stop-color="#1a1a1a"/><stop offset="0.4559" stop-color="#141414"/><stop offset="0.4632" stop-color="#111111"/><stop offset="0.4706" stop-color="#0e0e0e"/><stop offset="0.4779" stop-color="#0b0b0b"/><stop offset="0.4853" stop-color="#070707"/><stop offset="0.4926" stop-color="#030303"/><stop offset="0.5000" stop-color="#000000"/><stop offset="0.5074" stop-color="#151515"/><stop offset="0.5147" stop-color="#282828"/><stop offset="0.5221" stop-color="#3a3a3a"/><stop offset="0.5294" stop-color="#464646"/><stop offset="0.5368" stop-color="#4b4b4b"/><stop offset="0.5441" stop-color="#4d4d4d"/><stop offset="0.5588" stop-color="#4e4e4e"/><stop offset="0.5735" stop-color="#4d4d4d"/><stop offset="0.5882" stop-color="#4c4c4c"/><stop offset="0.6029" stop-color="#4b4b4b"/><stop offset="0.6176" stop-color="#4a4a4a"/><stop offset="0.6471" stop-color="#444444"/><stop offset="0.6765" stop-color="#404040"/><stop offset="0.7059" stop-color="#3a3a3a"/><stop offset="0.7353" stop-color="#373737"/><stop offset="0.7647" stop-color="#333333"/><stop offset="0.7941" stop-color="#2e2e2e"/><stop offset="0.8235" stop-color="#2b2b2b"/><stop offset="0.8529" stop-color="#282828"/><stop offset="0.8824" stop-color="#262626"/><stop offset="0.9118" stop-color="#242424"/><stop offset="0.9412" stop-color="#232323"/><stop offset="0.9706" stop-color="#222222"/><stop offset="1.0000" stop-color="#212121"/></linearGradient><linearGradient id="hr23" gradientUnits="userSpaceOnUse" x1="803.12" y1="0" x2="1321.28" y2="0"><stop offset="0.0000" stop-color="#3d3d3d"/><stop offset="0.0294" stop-color="#3e3e3e"/><stop offset="0.0588" stop-color="#3e3e3e"/><stop offset="0.0882" stop-color="#3e3e3e"/><stop offset="0.1176" stop-color="#3e3e3e"/><stop offset="0.1471" stop-color="#3e3e3e"/><stop offset="0.1765" stop-color="#3e3e3e"/><stop offset="0.2059" stop-color="#3d3d3d"/><stop offset="0.2353" stop-color="#3c3c3c"/><stop offset="0.2647" stop-color="#3a3a3a"/><stop offset="0.2941" stop-color="#373737"/><stop offset="0.3235" stop-color="#333333"/><stop offset="0.3529" stop-color="#2e2e2e"/><stop offset="0.3824" stop-color="#2a2a2a"/><stop offset="0.3971" stop-color="#272727"/><stop offset="0.4118" stop-color="#242424"/><stop offset="0.4265" stop-color="#1f1f1f"/><stop offset="0.4412" stop-color="#1a1a1a"/><stop offset="0.4559" stop-color="#131313"/><stop offset="0.4632" stop-color="#101010"/><stop offset="0.4706" stop-color="#0d0d0d"/><stop offset="0.4779" stop-color="#090909"/><stop offset="0.4853" stop-color="#060606"/><stop offset="0.4926" stop-color="#030303"/><stop offset="0.5000" stop-color="#000000"/><stop offset="0.5074" stop-color="#171717"/><stop offset="0.5147" stop-color="#2b2b2b"/><stop offset="0.5221" stop-color="#3e3e3e"/><stop offset="0.5294" stop-color="#4c4c4c"/><stop offset="0.5368" stop-color="#545454"/><stop offset="0.5441" stop-color="#585858"/><stop offset="0.5588" stop-color="#5c5c5c"/><stop offset="0.5735" stop-color="#5e5e5e"/><stop offset="0.5882" stop-color="#5e5e5e"/><stop offset="0.6029" stop-color="#5d5d5d"/><stop offset="0.6176" stop-color="#595959"/><stop offset="0.6471" stop-color="#535353"/><stop offset="0.6765" stop-color="#4f4f4f"/><stop offset="0.7059" stop-color="#4a4a4a"/><stop offset="0.7353" stop-color="#444444"/><stop offset="0.7647" stop-color="#3b3b3b"/><stop offset="0.7941" stop-color="#333333"/><stop offset="0.8235" stop-color="#2f2f2f"/><stop offset="0.8529" stop-color="#2b2b2b"/><stop offset="0.8824" stop-color="#292929"/><stop offset="0.9118" stop-color="#262626"/><stop offset="0.9412" stop-color="#242424"/><stop offset="0.9706" stop-color="#232323"/><stop offset="1.0000" stop-color="#212121"/></linearGradient><linearGradient id="hr24" gradientUnits="userSpaceOnUse" x1="803.12" y1="0" x2="1321.28" y2="0"><stop offset="0.0000" stop-color="#3f3f3f"/><stop offset="0.0294" stop-color="#3f3f3f"/><stop offset="0.0588" stop-color="#404040"/><stop offset="0.0882" stop-color="#404040"/><stop offset="0.1176" stop-color="#404040"/><stop offset="0.1471" stop-color="#3f3f3f"/><stop offset="0.1765" stop-color="#3f3f3f"/><stop offset="0.2059" stop-color="#3e3e3e"/><stop offset="0.2353" stop-color="#3c3c3c"/><stop offset="0.2647" stop-color="#3a3a3a"/><stop offset="0.2941" stop-color="#373737"/><stop offset="0.3235" stop-color="#323232"/><stop offset="0.3529" stop-color="#2d2d2d"/><stop offset="0.3824" stop-color="#292929"/><stop offset="0.3971" stop-color="#272727"/><stop offset="0.4118" stop-color="#232323"/><stop offset="0.4265" stop-color="#1f1f1f"/><stop offset="0.4412" stop-color="#191919"/><stop offset="0.4559" stop-color="#131313"/><stop offset="0.4632" stop-color="#101010"/><stop offset="0.4706" stop-color="#0d0d0d"/><stop offset="0.4779" stop-color="#090909"/><stop offset="0.4853" stop-color="#060606"/><stop offset="0.4926" stop-color="#030303"/><stop offset="0.5000" stop-color="#000000"/><stop offset="0.5074" stop-color="#191919"/><stop offset="0.5147" stop-color="#2e2e2e"/><stop offset="0.5221" stop-color="#424242"/><stop offset="0.5294" stop-color="#4f4f4f"/><stop offset="0.5368" stop-color="#565656"/><stop offset="0.5441" stop-color="#5b5b5b"/><stop offset="0.5588" stop-color="#616161"/><stop offset="0.5735" stop-color="#656565"/><stop offset="0.5882" stop-color="#676767"/><stop offset="0.6029" stop-color="#656565"/><stop offset="0.6176" stop-color="#636363"/><stop offset="0.6471" stop-color="#5d5d5d"/><stop offset="0.6765" stop-color="#585858"/><stop offset="0.7059" stop-color="#535353"/><stop offset="0.7353" stop-color="#4c4c4c"/><stop offset="0.7647" stop-color="#414141"/><stop offset="0.7941" stop-color="#383838"/><stop offset="0.8235" stop-color="#333333"/><stop offset="0.8529" stop-color="#2f2f2f"/><stop offset="0.8824" stop-color="#2c2c2c"/><stop offset="0.9118" stop-color="#292929"/><stop offset="0.9412" stop-color="#272727"/><stop offset="0.9706" stop-color="#252525"/><stop offset="1.0000" stop-color="#232323"/></linearGradient><linearGradient id="hr25" gradientUnits="userSpaceOnUse" x1="803.12" y1="0" x2="1321.28" y2="0"><stop offset="0.0000" stop-color="#414141"/><stop offset="0.0294" stop-color="#414141"/><stop offset="0.0588" stop-color="#414141"/><stop offset="0.0882" stop-color="#414141"/><stop offset="0.1176" stop-color="#414141"/><stop offset="0.1471" stop-color="#404040"/><stop offset="0.1765" stop-color="#3f3f3f"/><stop offset="0.2059" stop-color="#3e3e3e"/><stop offset="0.2353" stop-color="#3c3c3c"/><stop offset="0.2647" stop-color="#3a3a3a"/><stop offset="0.2941" stop-color="#373737"/><stop offset="0.3235" stop-color="#323232"/><stop offset="0.3529" stop-color="#2d2d2d"/><stop offset="0.3824" stop-color="#292929"/><stop offset="0.3971" stop-color="#262626"/><stop offset="0.4118" stop-color="#232323"/><stop offset="0.4265" stop-color="#1e1e1e"/><stop offset="0.4412" stop-color="#191919"/><stop offset="0.4559" stop-color="#131313"/><stop offset="0.4632" stop-color="#101010"/><stop offset="0.4706" stop-color="#0d0d0d"/><stop offset="0.4779" stop-color="#0a0a0a"/><stop offset="0.4853" stop-color="#070707"/><stop offset="0.4926" stop-color="#030303"/><stop offset="0.5000" stop-color="#000000"/><stop offset="0.5074" stop-color="#1a1a1a"/><stop offset="0.5147" stop-color="#303030"/><stop offset="0.5221" stop-color="#444444"/><stop offset="0.5294" stop-color="#525252"/><stop offset="0.5368" stop-color="#595959"/><stop offset="0.5441" stop-color="#5e5e5e"/><stop offset="0.5588" stop-color="#666666"/><stop offset="0.5735" stop-color="#6d6d6d"/><stop offset="0.5882" stop-color="#707070"/><stop offset="0.6029" stop-color="#6f6f6f"/><stop offset="0.6176" stop-color="#6e6e6e"/><stop offset="0.6471" stop-color="#696969"/><stop offset="0.6765" stop-color="#616161"/><stop offset="0.7059" stop-color="#5c5c5c"/><stop offset="0.7353" stop-color="#545454"/><stop offset="0.7647" stop-color="#494949"/><stop offset="0.7941" stop-color="#404040"/><stop offset="0.8235" stop-color="#3a3a3a"/><stop offset="0.8529" stop-color="#363636"/><stop offset="0.8824" stop-color="#313131"/><stop offset="0.9118" stop-color="#2e2e2e"/><stop offset="0.9412" stop-color="#2c2c2c"/><stop offset="0.9706" stop-color="#2a2a2a"/><stop offset="1.0000" stop-color="#292929"/></linearGradient><linearGradient id="hr26" gradientUnits="userSpaceOnUse" x1="803.12" y1="0" x2="1321.28" y2="0"><stop offset="0.0000" stop-color="#434343"/><stop offset="0.0294" stop-color="#434343"/><stop offset="0.0588" stop-color="#434343"/><stop offset="0.0882" stop-color="#424242"/><stop offset="0.1176" stop-color="#424242"/><stop offset="0.1471" stop-color="#414141"/><stop offset="0.1765" stop-color="#404040"/><stop offset="0.2059" stop-color="#3e3e3e"/><stop offset="0.2353" stop-color="#3c3c3c"/><stop offset="0.2647" stop-color="#3a3a3a"/><stop offset="0.2941" stop-color="#373737"/><stop offset="0.3235" stop-color="#323232"/><stop offset="0.3529" stop-color="#2d2d2d"/><stop offset="0.3824" stop-color="#282828"/><stop offset="0.3971" stop-color="#252525"/><stop offset="0.4118" stop-color="#222222"/><stop offset="0.4265" stop-color="#1d1d1d"/><stop offset="0.4412" stop-color="#191919"/><stop offset="0.4559" stop-color="#131313"/><stop offset="0.4632" stop-color="#111111"/><stop offset="0.4706" stop-color="#0e0e0e"/><stop offset="0.4779" stop-color="#0b0b0b"/><stop offset="0.4853" stop-color="#070707"/><stop offset="0.4926" stop-color="#040404"/><stop offset="0.5000" stop-color="#000000"/><stop offset="0.5074" stop-color="#171717"/><stop offset="0.5147" stop-color="#2d2d2d"/><stop offset="0.5221" stop-color="#424242"/><stop offset="0.5294" stop-color="#535353"/><stop offset="0.5368" stop-color="#5d5d5d"/><stop offset="0.5441" stop-color="#646464"/><stop offset="0.5588" stop-color="#6e6e6e"/><stop offset="0.5735" stop-color="#777777"/><stop offset="0.5882" stop-color="#7b7b7b"/><stop offset="0.6029" stop-color="#7a7a7a"/><stop offset="0.6176" stop-color="#7a7a7a"/><stop offset="0.6471" stop-color="#717171"/><stop offset="0.6765" stop-color="#696969"/><stop offset="0.7059" stop-color="#626262"/><stop offset="0.7353" stop-color="#5b5b5b"/><stop offset="0.7647" stop-color="#525252"/><stop offset="0.7941" stop-color="#494949"/><stop offset="0.8235" stop-color="#434343"/><stop offset="0.8529" stop-color="#3e3e3e"/><stop offset="0.8824" stop-color="#393939"/><stop offset="0.9118" stop-color="#363636"/><stop offset="0.9412" stop-color="#333333"/><stop offset="0.9706" stop-color="#313131"/><stop offset="1.0000" stop-color="#2f2f2f"/></linearGradient><linearGradient id="hr27" gradientUnits="userSpaceOnUse" x1="803.12" y1="0" x2="1321.28" y2="0"><stop offset="0.0000" stop-color="#454545"/><stop offset="0.0294" stop-color="#454545"/><stop offset="0.0588" stop-color="#444444"/><stop offset="0.0882" stop-color="#444444"/><stop offset="0.1176" stop-color="#434343"/><stop offset="0.1471" stop-color="#424242"/><stop offset="0.1765" stop-color="#404040"/><stop offset="0.2059" stop-color="#3e3e3e"/><stop offset="0.2353" stop-color="#3c3c3c"/><stop offset="0.2647" stop-color="#3a3a3a"/><stop offset="0.2941" stop-color="#373737"/><stop offset="0.3235" stop-color="#323232"/><stop offset="0.3529" stop-color="#2d2d2d"/><stop offset="0.3824" stop-color="#282828"/><stop offset="0.3971" stop-color="#252525"/><stop offset="0.4118" stop-color="#212121"/><stop offset="0.4265" stop-color="#1d1d1d"/><stop offset="0.4412" stop-color="#181818"/><stop offset="0.4559" stop-color="#131313"/><stop offset="0.4632" stop-color="#111111"/><stop offset="0.4706" stop-color="#0e0e0e"/><stop offset="0.4779" stop-color="#0b0b0b"/><stop offset="0.4853" stop-color="#080808"/><stop offset="0.4926" stop-color="#040404"/><stop offset="0.5000" stop-color="#000000"/><stop offset="0.5074" stop-color="#141414"/><stop offset="0.5147" stop-color="#292929"/><stop offset="0.5221" stop-color="#404040"/><stop offset="0.5294" stop-color="#545454"/><stop offset="0.5368" stop-color="#606060"/><stop offset="0.5441" stop-color="#696969"/><stop offset="0.5588" stop-color="#757575"/><stop offset="0.5735" stop-color="#818181"/><stop offset="0.5882" stop-color="#878787"/><stop offset="0.6029" stop-color="#878787"/><stop offset="0.6176" stop-color="#878787"/><stop offset="0.6471" stop-color="#7a7a7a"/><stop offset="0.6765" stop-color="#737373"/><stop offset="0.7059" stop-color="#6a6a6a"/><stop offset="0.7353" stop-color="#626262"/><stop offset="0.7647" stop-color="#5b5b5b"/><stop offset="0.7941" stop-color="#545454"/><stop offset="0.8235" stop-color="#4e4e4e"/><stop offset="0.8529" stop-color="#494949"/><stop offset="0.8824" stop-color="#444444"/><stop offset="0.9118" stop-color="#404040"/><stop offset="0.9412" stop-color="#3d3d3d"/><stop offset="0.9706" stop-color="#3a3a3a"/><stop offset="1.0000" stop-color="#383838"/></linearGradient><linearGradient id="hr28" gradientUnits="userSpaceOnUse" x1="803.12" y1="0" x2="1321.28" y2="0"><stop offset="0.0000" stop-color="#474747"/><stop offset="0.0294" stop-color="#474747"/><stop offset="0.0588" stop-color="#464646"/><stop offset="0.0882" stop-color="#454545"/><stop offset="0.1176" stop-color="#444444"/><stop offset="0.1471" stop-color="#434343"/><stop offset="0.1765" stop-color="#414141"/><stop offset="0.2059" stop-color="#3f3f3f"/><stop offset="0.2353" stop-color="#3d3d3d"/><stop offset="0.2647" stop-color="#3a3a3a"/><stop offset="0.2941" stop-color="#373737"/><stop offset="0.3235" stop-color="#323232"/><stop offset="0.3529" stop-color="#2d2d2d"/><stop offset="0.3824" stop-color="#282828"/><stop offset="0.3971" stop-color="#252525"/><stop offset="0.4118" stop-color="#212121"/><stop offset="0.4265" stop-color="#1d1d1d"/><stop offset="0.4412" stop-color="#181818"/><stop offset="0.4559" stop-color="#131313"/><stop offset="0.4632" stop-color="#101010"/><stop offset="0.4706" stop-color="#0e0e0e"/><stop offset="0.4779" stop-color="#0b0b0b"/><stop offset="0.4853" stop-color="#070707"/><stop offset="0.4926" stop-color="#040404"/><stop offset="0.5000" stop-color="#000000"/><stop offset="0.5074" stop-color="#151515"/><stop offset="0.5147" stop-color="#2a2a2a"/><stop offset="0.5221" stop-color="#3f3f3f"/><stop offset="0.5294" stop-color="#515151"/><stop offset="0.5368" stop-color="#5c5c5c"/><stop offset="0.5441" stop-color="#656565"/><stop offset="0.5588" stop-color="#777777"/><stop offset="0.5735" stop-color="#888888"/><stop offset="0.5882" stop-color="#929292"/><stop offset="0.6029" stop-color="#949494"/><stop offset="0.6176" stop-color="#959595"/><stop offset="0.6471" stop-color="#868686"/><stop offset="0.6765" stop-color="#7d7d7d"/><stop offset="0.7059" stop-color="#737373"/><stop offset="0.7353" stop-color="#6b6b6b"/><stop offset="0.7647" stop-color="#636363"/><stop offset="0.7941" stop-color="#5c5c5c"/><stop offset="0.8235" stop-color="#575757"/><stop offset="0.8529" stop-color="#525252"/><stop offset="0.8824" stop-color="#4d4d4d"/><stop offset="0.9118" stop-color="#484848"/><stop offset="0.9412" stop-color="#444444"/><stop offset="0.9706" stop-color="#414141"/><stop offset="1.0000" stop-color="#3f3f3f"/></linearGradient><linearGradient id="hr29" gradientUnits="userSpaceOnUse" x1="803.12" y1="0" x2="1321.28" y2="0"><stop offset="0.0000" stop-color="#4a4a4a"/><stop offset="0.0294" stop-color="#494949"/><stop offset="0.0588" stop-color="#484848"/><stop offset="0.0882" stop-color="#474747"/><stop offset="0.1176" stop-color="#464646"/><stop offset="0.1471" stop-color="#454545"/><stop offset="0.1765" stop-color="#434343"/><stop offset="0.2059" stop-color="#414141"/><stop offset="0.2353" stop-color="#3f3f3f"/><stop offset="0.2647" stop-color="#3c3c3c"/><stop offset="0.2941" stop-color="#383838"/><stop offset="0.3235" stop-color="#333333"/><stop offset="0.3529" stop-color="#2d2d2d"/><stop offset="0.3824" stop-color="#282828"/><stop offset="0.3971" stop-color="#252525"/><stop offset="0.4118" stop-color="#212121"/><stop offset="0.4265" stop-color="#1d1d1d"/><stop offset="0.4412" stop-color="#181818"/><stop offset="0.4559" stop-color="#121212"/><stop offset="0.4632" stop-color="#101010"/><stop offset="0.4706" stop-color="#0d0d0d"/><stop offset="0.4779" stop-color="#0a0a0a"/><stop offset="0.4853" stop-color="#070707"/><stop offset="0.4926" stop-color="#030303"/><stop offset="0.5000" stop-color="#000000"/><stop offset="0.5074" stop-color="#171717"/><stop offset="0.5147" stop-color="#2b2b2b"/><stop offset="0.5221" stop-color="#3d3d3d"/><stop offset="0.5294" stop-color="#4c4c4c"/><stop offset="0.5368" stop-color="#575757"/><stop offset="0.5441" stop-color="#616161"/><stop offset="0.5588" stop-color="#787878"/><stop offset="0.5735" stop-color="#8c8c8c"/><stop offset="0.5882" stop-color="#999999"/><stop offset="0.6029" stop-color="#9e9e9e"/><stop offset="0.6176" stop-color="#a1a1a1"/><stop offset="0.6471" stop-color="#949494"/><stop offset="0.6765" stop-color="#8a8a8a"/><stop offset="0.7059" stop-color="#808080"/><stop offset="0.7353" stop-color="#787878"/><stop offset="0.7647" stop-color="#6e6e6e"/><stop offset="0.7941" stop-color="#666666"/><stop offset="0.8235" stop-color="#626262"/><stop offset="0.8529" stop-color="#5e5e5e"/><stop offset="0.8824" stop-color="#585858"/><stop offset="0.9118" stop-color="#525252"/><stop offset="0.9412" stop-color="#4d4d4d"/><stop offset="0.9706" stop-color="#4a4a4a"/><stop offset="1.0000" stop-color="#474747"/></linearGradient><linearGradient id="hr30" gradientUnits="userSpaceOnUse" x1="803.12" y1="0" x2="1321.28" y2="0"><stop offset="0.0000" stop-color="#4c4c4c"/><stop offset="0.0294" stop-color="#4c4c4c"/><stop offset="0.0588" stop-color="#4b4b4b"/><stop offset="0.0882" stop-color="#494949"/><stop offset="0.1176" stop-color="#484848"/><stop offset="0.1471" stop-color="#474747"/><stop offset="0.1765" stop-color="#454545"/><stop offset="0.2059" stop-color="#434343"/><stop offset="0.2353" stop-color="#404040"/><stop offset="0.2647" stop-color="#3d3d3d"/><stop offset="0.2941" stop-color="#393939"/><stop offset="0.3235" stop-color="#333333"/><stop offset="0.3529" stop-color="#2d2d2d"/><stop offset="0.3824" stop-color="#282828"/><stop offset="0.3971" stop-color="#252525"/><stop offset="0.4118" stop-color="#212121"/><stop offset="0.4265" stop-color="#1d1d1d"/><stop offset="0.4412" stop-color="#171717"/><stop offset="0.4559" stop-color="#121212"/><stop offset="0.4632" stop-color="#0f0f0f"/><stop offset="0.4706" stop-color="#0d0d0d"/><stop offset="0.4779" stop-color="#0a0a0a"/><stop offset="0.4853" stop-color="#060606"/><stop offset="0.4926" stop-color="#030303"/><stop offset="0.5000" stop-color="#000000"/><stop offset="0.5074" stop-color="#161616"/><stop offset="0.5147" stop-color="#292929"/><stop offset="0.5221" stop-color="#3b3b3b"/><stop offset="0.5294" stop-color="#4a4a4a"/><stop offset="0.5368" stop-color="#555555"/><stop offset="0.5441" stop-color="#606060"/><stop offset="0.5588" stop-color="#787878"/><stop offset="0.5735" stop-color="#8c8c8c"/><stop offset="0.5882" stop-color="#999999"/><stop offset="0.6029" stop-color="#a1a1a1"/><stop offset="0.6176" stop-color="#a5a5a5"/><stop offset="0.6471" stop-color="#a2a2a2"/><stop offset="0.6765" stop-color="#999999"/><stop offset="0.7059" stop-color="#919191"/><stop offset="0.7353" stop-color="#8a8a8a"/><stop offset="0.7647" stop-color="#808080"/><stop offset="0.7941" stop-color="#767676"/><stop offset="0.8235" stop-color="#717171"/><stop offset="0.8529" stop-color="#6c6c6c"/><stop offset="0.8824" stop-color="#656565"/><stop offset="0.9118" stop-color="#5f5f5f"/><stop offset="0.9412" stop-color="#595959"/><stop offset="0.9706" stop-color="#545454"/><stop offset="1.0000" stop-color="#4f4f4f"/></linearGradient><linearGradient id="hr31" gradientUnits="userSpaceOnUse" x1="803.12" y1="0" x2="1321.28" y2="0"><stop offset="0.0000" stop-color="#4f4f4f"/><stop offset="0.0294" stop-color="#4e4e4e"/><stop offset="0.0588" stop-color="#4d4d4d"/><stop offset="0.0882" stop-color="#4b4b4b"/><stop offset="0.1176" stop-color="#4a4a4a"/><stop offset="0.1471" stop-color="#494949"/><stop offset="0.1765" stop-color="#474747"/><stop offset="0.2059" stop-color="#454545"/><stop offset="0.2353" stop-color="#424242"/><stop offset="0.2647" stop-color="#3e3e3e"/><stop offset="0.2941" stop-color="#3a3a3a"/><stop offset="0.3235" stop-color="#343434"/><stop offset="0.3529" stop-color="#2d2d2d"/><stop offset="0.3824" stop-color="#282828"/><stop offset="0.3971" stop-color="#252525"/><stop offset="0.4118" stop-color="#212121"/><stop offset="0.4265" stop-color="#1d1d1d"/><stop offset="0.4412" stop-color="#171717"/><stop offset="0.4559" stop-color="#111111"/><stop offset="0.4632" stop-color="#0f0f0f"/><stop offset="0.4706" stop-color="#0c0c0c"/><stop offset="0.4779" stop-color="#090909"/><stop offset="0.4853" stop-color="#060606"/><stop offset="0.4926" stop-color="#030303"/><stop offset="0.5000" stop-color="#000000"/><stop offset="0.5074" stop-color="#141414"/><stop offset="0.5147" stop-color="#262626"/><stop offset="0.5221" stop-color="#383838"/><stop offset="0.5294" stop-color="#474747"/><stop offset="0.5368" stop-color="#545454"/><stop offset="0.5441" stop-color="#606060"/><stop offset="0.5588" stop-color="#787878"/><stop offset="0.5735" stop-color="#8b8b8b"/><stop offset="0.5882" stop-color="#999999"/><stop offset="0.6029" stop-color="#a2a2a2"/><stop offset="0.6176" stop-color="#a8a8a8"/><stop offset="0.6471" stop-color="#adadad"/><stop offset="0.6765" stop-color="#a8a8a8"/><stop offset="0.7059" stop-color="#a2a2a2"/><stop offset="0.7353" stop-color="#9c9c9c"/><stop offset="0.7647" stop-color="#929292"/><stop offset="0.7941" stop-color="#878787"/><stop offset="0.8235" stop-color="#808080"/><stop offset="0.8529" stop-color="#797979"/><stop offset="0.8824" stop-color="#737373"/><stop offset="0.9118" stop-color="#6c6c6c"/><stop offset="0.9412" stop-color="#656565"/><stop offset="0.9706" stop-color="#5e5e5e"/><stop offset="1.0000" stop-color="#575757"/></linearGradient><linearGradient id="hr32" gradientUnits="userSpaceOnUse" x1="803.12" y1="0" x2="1321.28" y2="0"><stop offset="0.0000" stop-color="#515151"/><stop offset="0.0294" stop-color="#505050"/><stop offset="0.0588" stop-color="#4f4f4f"/><stop offset="0.0882" stop-color="#4e4e4e"/><stop offset="0.1176" stop-color="#4c4c4c"/><stop offset="0.1471" stop-color="#4b4b4b"/><stop offset="0.1765" stop-color="#494949"/><stop offset="0.2059" stop-color="#474747"/><stop offset="0.2353" stop-color="#444444"/><stop offset="0.2647" stop-color="#404040"/><stop offset="0.2941" stop-color="#3b3b3b"/><stop offset="0.3235" stop-color="#343434"/><stop offset="0.3529" stop-color="#2e2e2e"/><stop offset="0.3824" stop-color="#282828"/><stop offset="0.3971" stop-color="#252525"/><stop offset="0.4118" stop-color="#212121"/><stop offset="0.4265" stop-color="#1d1d1d"/><stop offset="0.4412" stop-color="#171717"/><stop offset="0.4559" stop-color="#111111"/><stop offset="0.4632" stop-color="#0e0e0e"/><stop offset="0.4706" stop-color="#0c0c0c"/><stop offset="0.4779" stop-color="#080808"/><stop offset="0.4853" stop-color="#050505"/><stop offset="0.4926" stop-color="#020202"/><stop offset="0.5000" stop-color="#000000"/><stop offset="0.5074" stop-color="#131313"/><stop offset="0.5147" stop-color="#252525"/><stop offset="0.5221" stop-color="#373737"/><stop offset="0.5294" stop-color="#464646"/><stop offset="0.5368" stop-color="#525252"/><stop offset="0.5441" stop-color="#5d5d5d"/><stop offset="0.5588" stop-color="#737373"/><stop offset="0.5735" stop-color="#878787"/><stop offset="0.5882" stop-color="#979797"/><stop offset="0.6029" stop-color="#a2a2a2"/><stop offset="0.6176" stop-color="#aaaaaa"/><stop offset="0.6471" stop-color="#b2b2b2"/><stop offset="0.6765" stop-color="#b3b3b3"/><stop offset="0.7059" stop-color="#adadad"/><stop offset="0.7353" stop-color="#a6a6a6"/><stop offset="0.7647" stop-color="#9d9d9d"/><stop offset="0.7941" stop-color="#939393"/><stop offset="0.8235" stop-color="#8c8c8c"/><stop offset="0.8529" stop-color="#858585"/><stop offset="0.8824" stop-color="#7e7e7e"/><stop offset="0.9118" stop-color="#777777"/><stop offset="0.9412" stop-color="#707070"/><stop offset="0.9706" stop-color="#696969"/><stop offset="1.0000" stop-color="#616161"/></linearGradient><linearGradient id="hr33" gradientUnits="userSpaceOnUse" x1="803.12" y1="0" x2="1321.28" y2="0"><stop offset="0.0000" stop-color="#535353"/><stop offset="0.0294" stop-color="#525252"/><stop offset="0.0588" stop-color="#515151"/><stop offset="0.0882" stop-color="#4f4f4f"/><stop offset="0.1176" stop-color="#4e4e4e"/><stop offset="0.1471" stop-color="#4c4c4c"/><stop offset="0.1765" stop-color="#4b4b4b"/><stop offset="0.2059" stop-color="#494949"/><stop offset="0.2353" stop-color="#454545"/><stop offset="0.2647" stop-color="#414141"/><stop offset="0.2941" stop-color="#3c3c3c"/><stop offset="0.3235" stop-color="#353535"/><stop offset="0.3529" stop-color="#2e2e2e"/><stop offset="0.3824" stop-color="#282828"/><stop offset="0.3971" stop-color="#252525"/><stop offset="0.4118" stop-color="#212121"/><stop offset="0.4265" stop-color="#1d1d1d"/><stop offset="0.4412" stop-color="#171717"/><stop offset="0.4559" stop-color="#111111"/><stop offset="0.4632" stop-color="#0e0e0e"/><stop offset="0.4706" stop-color="#0b0b0b"/><stop offset="0.4779" stop-color="#080808"/><stop offset="0.4853" stop-color="#050505"/><stop offset="0.4926" stop-color="#020202"/><stop offset="0.5000" stop-color="#000000"/><stop offset="0.5074" stop-color="#121212"/><stop offset="0.5147" stop-color="#242424"/><stop offset="0.5221" stop-color="#353535"/><stop offset="0.5294" stop-color="#454545"/><stop offset="0.5368" stop-color="#505050"/><stop offset="0.5441" stop-color="#595959"/><stop offset="0.5588" stop-color="#6b6b6b"/><stop offset="0.5735" stop-color="#818181"/><stop offset="0.5882" stop-color="#949494"/><stop offset="0.6029" stop-color="#a1a1a1"/><stop offset="0.6176" stop-color="#ababab"/><stop offset="0.6471" stop-color="#b5b5b5"/><stop offset="0.6765" stop-color="#bdbdbd"/><stop offset="0.7059" stop-color="#b8b8b8"/><stop offset="0.7353" stop-color="#b0b0b0"/><stop offset="0.7647" stop-color="#a7a7a7"/><stop offset="0.7941" stop-color="#9e9e9e"/><stop offset="0.8235" stop-color="#989898"/><stop offset="0.8529" stop-color="#919191"/><stop offset="0.8824" stop-color="#898989"/><stop offset="0.9118" stop-color="#818181"/><stop offset="0.9412" stop-color="#7a7a7a"/><stop offset="0.9706" stop-color="#737373"/><stop offset="1.0000" stop-color="#6e6e6e"/></linearGradient><linearGradient id="hr34" gradientUnits="userSpaceOnUse" x1="803.12" y1="0" x2="1321.28" y2="0"><stop offset="0.0000" stop-color="#545454"/><stop offset="0.0294" stop-color="#535353"/><stop offset="0.0588" stop-color="#515151"/><stop offset="0.0882" stop-color="#505050"/><stop offset="0.1176" stop-color="#4f4f4f"/><stop offset="0.1471" stop-color="#4d4d4d"/><stop offset="0.1765" stop-color="#4b4b4b"/><stop offset="0.2059" stop-color="#494949"/><stop offset="0.2353" stop-color="#464646"/><stop offset="0.2647" stop-color="#424242"/><stop offset="0.2941" stop-color="#3d3d3d"/><stop offset="0.3235" stop-color="#363636"/><stop offset="0.3529" stop-color="#2e2e2e"/><stop offset="0.3824" stop-color="#282828"/><stop offset="0.3971" stop-color="#252525"/><stop offset="0.4118" stop-color="#212121"/><stop offset="0.4265" stop-color="#1d1d1d"/><stop offset="0.4412" stop-color="#171717"/><stop offset="0.4559" stop-color="#111111"/><stop offset="0.4632" stop-color="#0e0e0e"/><stop offset="0.4706" stop-color="#0b0b0b"/><stop offset="0.4779" stop-color="#080808"/><stop offset="0.4853" stop-color="#050505"/><stop offset="0.4926" stop-color="#020202"/><stop offset="0.5000" stop-color="#000000"/><stop offset="0.5074" stop-color="#131313"/><stop offset="0.5147" stop-color="#242424"/><stop offset="0.5221" stop-color="#343434"/><stop offset="0.5294" stop-color="#434343"/><stop offset="0.5368" stop-color="#4e4e4e"/><stop offset="0.5441" stop-color="#575757"/><stop offset="0.5588" stop-color="#686868"/><stop offset="0.5735" stop-color="#7e7e7e"/><stop offset="0.5882" stop-color="#929292"/><stop offset="0.6029" stop-color="#a1a1a1"/><stop offset="0.6176" stop-color="#acacac"/><stop offset="0.6471" stop-color="#b9b9b9"/><stop offset="0.6765" stop-color="#c3c3c3"/><stop offset="0.7059" stop-color="#c0c0c0"/><stop offset="0.7353" stop-color="#b9b9b9"/><stop offset="0.7647" stop-color="#afafaf"/><stop offset="0.7941" stop-color="#a5a5a5"/><stop offset="0.8235" stop-color="#9f9f9f"/><stop offset="0.8529" stop-color="#999999"/><stop offset="0.8824" stop-color="#909090"/><stop offset="0.9118" stop-color="#878787"/><stop offset="0.9412" stop-color="#808080"/><stop offset="0.9706" stop-color="#7a7a7a"/><stop offset="1.0000" stop-color="#757575"/></linearGradient><linearGradient id="hr35" gradientUnits="userSpaceOnUse" x1="803.12" y1="0" x2="1321.28" y2="0"><stop offset="0.0000" stop-color="#545454"/><stop offset="0.0294" stop-color="#535353"/><stop offset="0.0588" stop-color="#525252"/><stop offset="0.0882" stop-color="#515151"/><stop offset="0.1176" stop-color="#4f4f4f"/><stop offset="0.1471" stop-color="#4e4e4e"/><stop offset="0.1765" stop-color="#4c4c4c"/><stop offset="0.2059" stop-color="#494949"/><stop offset="0.2353" stop-color="#464646"/><stop offset="0.2647" stop-color="#424242"/><stop offset="0.2941" stop-color="#3e3e3e"/><stop offset="0.3235" stop-color="#373737"/><stop offset="0.3529" stop-color="#2f2f2f"/><stop offset="0.3824" stop-color="#282828"/><stop offset="0.3971" stop-color="#242424"/><stop offset="0.4118" stop-color="#212121"/><stop offset="0.4265" stop-color="#1d1d1d"/><stop offset="0.4412" stop-color="#171717"/><stop offset="0.4559" stop-color="#111111"/><stop offset="0.4632" stop-color="#0e0e0e"/><stop offset="0.4706" stop-color="#0b0b0b"/><stop offset="0.4779" stop-color="#090909"/><stop offset="0.4853" stop-color="#060606"/><stop offset="0.4926" stop-color="#030303"/><stop offset="0.5000" stop-color="#000000"/><stop offset="0.5074" stop-color="#131313"/><stop offset="0.5147" stop-color="#242424"/><stop offset="0.5221" stop-color="#333333"/><stop offset="0.5294" stop-color="#404040"/><stop offset="0.5368" stop-color="#4b4b4b"/><stop offset="0.5441" stop-color="#545454"/><stop offset="0.5588" stop-color="#666666"/><stop offset="0.5735" stop-color="#7c7c7c"/><stop offset="0.5882" stop-color="#919191"/><stop offset="0.6029" stop-color="#a1a1a1"/><stop offset="0.6176" stop-color="#adadad"/><stop offset="0.6471" stop-color="#bdbdbd"/><stop offset="0.6765" stop-color="#c9c9c9"/><stop offset="0.7059" stop-color="#c9c9c9"/><stop offset="0.7353" stop-color="#c3c3c3"/><stop offset="0.7647" stop-color="#b8b8b8"/><stop offset="0.7941" stop-color="#adadad"/><stop offset="0.8235" stop-color="#a7a7a7"/><stop offset="0.8529" stop-color="#a1a1a1"/><stop offset="0.8824" stop-color="#989898"/><stop offset="0.9118" stop-color="#8f8f8f"/><stop offset="0.9412" stop-color="#888888"/><stop offset="0.9706" stop-color="#828282"/><stop offset="1.0000" stop-color="#7d7d7d"/></linearGradient><linearGradient id="hr36" gradientUnits="userSpaceOnUse" x1="803.12" y1="0" x2="1321.28" y2="0"><stop offset="0.0000" stop-color="#555555"/><stop offset="0.0294" stop-color="#545454"/><stop offset="0.0588" stop-color="#535353"/><stop offset="0.0882" stop-color="#515151"/><stop offset="0.1176" stop-color="#505050"/><stop offset="0.1471" stop-color="#4e4e4e"/><stop offset="0.1765" stop-color="#4c4c4c"/><stop offset="0.2059" stop-color="#4a4a4a"/><stop offset="0.2353" stop-color="#474747"/><stop offset="0.2647" stop-color="#434343"/><stop offset="0.2941" stop-color="#3e3e3e"/><stop offset="0.3235" stop-color="#373737"/><stop offset="0.3529" stop-color="#2f2f2f"/><stop offset="0.3824" stop-color="#282828"/><stop offset="0.3971" stop-color="#242424"/><stop offset="0.4118" stop-color="#212121"/><stop offset="0.4265" stop-color="#1d1d1d"/><stop offset="0.4412" stop-color="#171717"/><stop offset="0.4559" stop-color="#111111"/><stop offset="0.4632" stop-color="#0e0e0e"/><stop offset="0.4706" stop-color="#0b0b0b"/><stop offset="0.4779" stop-color="#090909"/><stop offset="0.4853" stop-color="#060606"/><stop offset="0.4926" stop-color="#030303"/><stop offset="0.5000" stop-color="#000000"/><stop offset="0.5074" stop-color="#111111"/><stop offset="0.5147" stop-color="#202020"/><stop offset="0.5221" stop-color="#2c2c2c"/><stop offset="0.5294" stop-color="#383838"/><stop offset="0.5368" stop-color="#424242"/><stop offset="0.5441" stop-color="#4c4c4c"/><stop offset="0.5588" stop-color="#636363"/><stop offset="0.5735" stop-color="#7b7b7b"/><stop offset="0.5882" stop-color="#919191"/><stop offset="0.6029" stop-color="#a2a2a2"/><stop offset="0.6176" stop-color="#b1b1b1"/><stop offset="0.6471" stop-color="#c5c5c5"/><stop offset="0.6765" stop-color="#d3d3d3"/><stop offset="0.7059" stop-color="#d8d8d8"/><stop offset="0.7353" stop-color="#d3d3d3"/><stop offset="0.7647" stop-color="#c9c9c9"/><stop offset="0.7941" stop-color="#bebebe"/><stop offset="0.8235" stop-color="#b6b6b6"/><stop offset="0.8529" stop-color="#aeaeae"/><stop offset="0.8824" stop-color="#a6a6a6"/><stop offset="0.9118" stop-color="#9d9d9d"/><stop offset="0.9412" stop-color="#969696"/><stop offset="0.9706" stop-color="#8f8f8f"/><stop offset="1.0000" stop-color="#888888"/></linearGradient><linearGradient id="hr37" gradientUnits="userSpaceOnUse" x1="803.12" y1="0" x2="1321.28" y2="0"><stop offset="0.0000" stop-color="#555555"/><stop offset="0.0294" stop-color="#545454"/><stop offset="0.0588" stop-color="#535353"/><stop offset="0.0882" stop-color="#525252"/><stop offset="0.1176" stop-color="#505050"/><stop offset="0.1471" stop-color="#4f4f4f"/><stop offset="0.1765" stop-color="#4c4c4c"/><stop offset="0.2059" stop-color="#4a4a4a"/><stop offset="0.2353" stop-color="#474747"/><stop offset="0.2647" stop-color="#434343"/><stop offset="0.2941" stop-color="#3e3e3e"/><stop offset="0.3235" stop-color="#373737"/><stop offset="0.3529" stop-color="#2f2f2f"/><stop offset="0.3824" stop-color="#282828"/><stop offset="0.3971" stop-color="#242424"/><stop offset="0.4118" stop-color="#212121"/><stop offset="0.4265" stop-color="#1d1d1d"/><stop offset="0.4412" stop-color="#171717"/><stop offset="0.4559" stop-color="#111111"/><stop offset="0.4632" stop-color="#0e0e0e"/><stop offset="0.4706" stop-color="#0b0b0b"/><stop offset="0.4779" stop-color="#090909"/><stop offset="0.4853" stop-color="#060606"/><stop offset="0.4926" stop-color="#030303"/><stop offset="0.5000" stop-color="#000000"/><stop offset="0.5074" stop-color="#0f0f0f"/><stop offset="0.5147" stop-color="#1c1c1c"/><stop offset="0.5221" stop-color="#282828"/><stop offset="0.5294" stop-color="#333333"/><stop offset="0.5368" stop-color="#3d3d3d"/><stop offset="0.5441" stop-color="#474747"/><stop offset="0.5588" stop-color="#616161"/><stop offset="0.5735" stop-color="#7a7a7a"/><stop offset="0.5882" stop-color="#909090"/><stop offset="0.6029" stop-color="#a3a3a3"/><stop offset="0.6176" stop-color="#b2b2b2"/><stop offset="0.6471" stop-color="#c9c9c9"/><stop offset="0.6765" stop-color="#d9d9d9"/><stop offset="0.7059" stop-color="#e3e3e3"/><stop offset="0.7353" stop-color="#e0e0e0"/><stop offset="0.7647" stop-color="#d9d9d9"/><stop offset="0.7941" stop-color="#cfcfcf"/><stop offset="0.8235" stop-color="#c6c6c6"/><stop offset="0.8529" stop-color="#bdbdbd"/><stop offset="0.8824" stop-color="#b4b4b4"/><stop offset="0.9118" stop-color="#acacac"/><stop offset="0.9412" stop-color="#a4a4a4"/><stop offset="0.9706" stop-color="#9c9c9c"/><stop offset="1.0000" stop-color="#949494"/></linearGradient><linearGradient id="hr38" gradientUnits="userSpaceOnUse" x1="803.12" y1="0" x2="1321.28" y2="0"><stop offset="0.0000" stop-color="#565656"/><stop offset="0.0294" stop-color="#555555"/><stop offset="0.0588" stop-color="#545454"/><stop offset="0.0882" stop-color="#525252"/><stop offset="0.1176" stop-color="#515151"/><stop offset="0.1471" stop-color="#4f4f4f"/><stop offset="0.1765" stop-color="#4d4d4d"/><stop offset="0.2059" stop-color="#4a4a4a"/><stop offset="0.2353" stop-color="#474747"/><stop offset="0.2647" stop-color="#434343"/><stop offset="0.2941" stop-color="#3e3e3e"/><stop offset="0.3235" stop-color="#373737"/><stop offset="0.3529" stop-color="#2f2f2f"/><stop offset="0.3824" stop-color="#282828"/><stop offset="0.3971" stop-color="#242424"/><stop offset="0.4118" stop-color="#212121"/><stop offset="0.4265" stop-color="#1d1d1d"/><stop offset="0.4412" stop-color="#171717"/><stop offset="0.4559" stop-color="#111111"/><stop offset="0.4632" stop-color="#0e0e0e"/><stop offset="0.4706" stop-color="#0b0b0b"/><stop offset="0.4779" stop-color="#090909"/><stop offset="0.4853" stop-color="#060606"/><stop offset="0.4926" stop-color="#030303"/><stop offset="0.5000" stop-color="#000000"/><stop offset="0.5074" stop-color="#0f0f0f"/><stop offset="0.5147" stop-color="#1c1c1c"/><stop offset="0.5221" stop-color="#282828"/><stop offset="0.5294" stop-color="#333333"/><stop offset="0.5368" stop-color="#3d3d3d"/><stop offset="0.5441" stop-color="#484848"/><stop offset="0.5588" stop-color="#616161"/><stop offset="0.5735" stop-color="#787878"/><stop offset="0.5882" stop-color="#8e8e8e"/><stop offset="0.6029" stop-color="#a2a2a2"/><stop offset="0.6176" stop-color="#b2b2b2"/><stop offset="0.6471" stop-color="#c9c9c9"/><stop offset="0.6765" stop-color="#d9d9d9"/><stop offset="0.7059" stop-color="#e7e7e7"/><stop offset="0.7353" stop-color="#e9e9e9"/><stop offset="0.7647" stop-color="#e4e4e4"/><stop offset="0.7941" stop-color="#dcdcdc"/><stop offset="0.8235" stop-color="#d3d3d3"/><stop offset="0.8529" stop-color="#cacaca"/><stop offset="0.8824" stop-color="#c1c1c1"/><stop offset="0.9118" stop-color="#b9b9b9"/><stop offset="0.9412" stop-color="#b1b1b1"/><stop offset="0.9706" stop-color="#a8a8a8"/><stop offset="1.0000" stop-color="#a0a0a0"/></linearGradient><linearGradient id="hr39" gradientUnits="userSpaceOnUse" x1="803.12" y1="0" x2="1321.28" y2="0"><stop offset="0.0000" stop-color="#565656"/><stop offset="0.0294" stop-color="#555555"/><stop offset="0.0588" stop-color="#545454"/><stop offset="0.0882" stop-color="#535353"/><stop offset="0.1176" stop-color="#515151"/><stop offset="0.1471" stop-color="#4f4f4f"/><stop offset="0.1765" stop-color="#4d4d4d"/><stop offset="0.2059" stop-color="#4b4b4b"/><stop offset="0.2353" stop-color="#484848"/><stop offset="0.2647" stop-color="#444444"/><stop offset="0.2941" stop-color="#3e3e3e"/><stop offset="0.3235" stop-color="#373737"/><stop offset="0.3529" stop-color="#2f2f2f"/><stop offset="0.3824" stop-color="#282828"/><stop offset="0.3971" stop-color="#242424"/><stop offset="0.4118" stop-color="#212121"/><stop offset="0.4265" stop-color="#1d1d1d"/><stop offset="0.4412" stop-color="#171717"/><stop offset="0.4559" stop-color="#111111"/><stop offset="0.4632" stop-color="#0e0e0e"/><stop offset="0.4706" stop-color="#0b0b0b"/><stop offset="0.4779" stop-color="#090909"/><stop offset="0.4853" stop-color="#060606"/><stop offset="0.4926" stop-color="#030303"/><stop offset="0.5000" stop-color="#000000"/><stop offset="0.5074" stop-color="#101010"/><stop offset="0.5147" stop-color="#1e1e1e"/><stop offset="0.5221" stop-color="#292929"/><stop offset="0.5294" stop-color="#333333"/><stop offset="0.5368" stop-color="#3e3e3e"/><stop offset="0.5441" stop-color="#494949"/><stop offset="0.5588" stop-color="#616161"/><stop offset="0.5735" stop-color="#767676"/><stop offset="0.5882" stop-color="#8b8b8b"/><stop offset="0.6029" stop-color="#9e9e9e"/><stop offset="0.6176" stop-color="#aeaeae"/><stop offset="0.6471" stop-color="#c7c7c7"/><stop offset="0.6765" stop-color="#d9d9d9"/><stop offset="0.7059" stop-color="#eaeaea"/><stop offset="0.7353" stop-color="#f1f1f1"/><stop offset="0.7647" stop-color="#eeeeee"/><stop offset="0.7941" stop-color="#e9e9e9"/><stop offset="0.8235" stop-color="#e2e2e2"/><stop offset="0.8529" stop-color="#d8d8d8"/><stop offset="0.8824" stop-color="#cfcfcf"/><stop offset="0.9118" stop-color="#c6c6c6"/><stop offset="0.9412" stop-color="#bdbdbd"/><stop offset="0.9706" stop-color="#b5b5b5"/><stop offset="1.0000" stop-color="#aeaeae"/></linearGradient><linearGradient id="hr40" gradientUnits="userSpaceOnUse" x1="803.12" y1="0" x2="1321.28" y2="0"><stop offset="0.0000" stop-color="#575757"/><stop offset="0.0294" stop-color="#565656"/><stop offset="0.0588" stop-color="#555555"/><stop offset="0.0882" stop-color="#535353"/><stop offset="0.1176" stop-color="#525252"/><stop offset="0.1471" stop-color="#505050"/><stop offset="0.1765" stop-color="#4e4e4e"/><stop offset="0.2059" stop-color="#4b4b4b"/><stop offset="0.2353" stop-color="#484848"/><stop offset="0.2647" stop-color="#444444"/><stop offset="0.2941" stop-color="#3e3e3e"/><stop offset="0.3235" stop-color="#373737"/><stop offset="0.3529" stop-color="#2f2f2f"/><stop offset="0.3824" stop-color="#282828"/><stop offset="0.3971" stop-color="#242424"/><stop offset="0.4118" stop-color="#212121"/><stop offset="0.4265" stop-color="#1d1d1d"/><stop offset="0.4412" stop-color="#171717"/><stop offset="0.4559" stop-color="#111111"/><stop offset="0.4632" stop-color="#0e0e0e"/><stop offset="0.4706" stop-color="#0b0b0b"/><stop offset="0.4779" stop-color="#090909"/><stop offset="0.4853" stop-color="#060606"/><stop offset="0.4926" stop-color="#030303"/><stop offset="0.5000" stop-color="#000000"/><stop offset="0.5074" stop-color="#131313"/><stop offset="0.5147" stop-color="#212121"/><stop offset="0.5221" stop-color="#2a2a2a"/><stop offset="0.5294" stop-color="#333333"/><stop offset="0.5368" stop-color="#404040"/><stop offset="0.5441" stop-color="#4c4c4c"/><stop offset="0.5588" stop-color="#616161"/><stop offset="0.5735" stop-color="#757575"/><stop offset="0.5882" stop-color="#878787"/><stop offset="0.6029" stop-color="#999999"/><stop offset="0.6176" stop-color="#a8a8a8"/><stop offset="0.6471" stop-color="#c2c2c2"/><stop offset="0.6765" stop-color="#d9d9d9"/><stop offset="0.7059" stop-color="#ebebeb"/><stop offset="0.7353" stop-color="#f5f5f5"/><stop offset="0.7647" stop-color="#f5f5f5"/><stop offset="0.7941" stop-color="#f5f5f5"/><stop offset="0.8235" stop-color="#efefef"/><stop offset="0.8529" stop-color="#e6e6e6"/><stop offset="0.8824" stop-color="#dbdbdb"/><stop offset="0.9118" stop-color="#d1d1d1"/><stop offset="0.9412" stop-color="#c9c9c9"/><stop offset="0.9706" stop-color="#c2c2c2"/><stop offset="1.0000" stop-color="#bdbdbd"/></linearGradient><linearGradient id="cbar" x1="0" y1="1" x2="0" y2="0"><stop offset="0" stop-color="#00007f"/><stop offset="0.125" stop-color="#0000ff"/><stop offset="0.375" stop-color="#00ffff"/><stop offset="0.625" stop-color="#ffff00"/><stop offset="0.875" stop-color="#ff0000"/><stop offset="1" stop-color="#7f0000"/></linearGradient></defs>
<rect width="2002" height="2238" fill="#fff"/>
<g filter="url(#blur3)"><path d="M273 462L368 462L360.8 604.3L279 604.3Z" fill="url(#beamBot)"/><path d="M273 462L368 462L360.8 604.3L279 604.3Z" fill="url(#beamEdge)"/></g>
<path d="M133.3 293.5L499.3 293.5L632.9 427.3L0.9 424.9Z" fill="url(#subTop)"/>
<path d="M133.3 293.5L499.3 293.5L632.9 427.3L0.9 424.9Z" fill="url(#subTop2)"/>
<path d="M0.9 424.9L632.9 427.3L628.6 467.5L4.5 467.5Z" fill="url(#subFront)"/>
<path d="M152.9 299.8L150.1 261.7L72.5 329.7L79.2 385" stroke="#dde3e6" stroke-width="2" fill="none"/>
<path d="M74.3 394.1L54.4 416.8L150.5 416.8M205.8 416.8L527 416.8L499.3 376.8" stroke="#d8e0e4" stroke-width="2.8" fill="none"/>
<path d="M197.6 303.4L262.9 312.5L262.9 319.8L193.1 308Z" fill="#dfd400"/>
<path d="M262.9 312.5L351 312.5L351 319.8L262.9 319.8Z" fill="#e6d21a"/>
<path d="M139.6 298.5L197.6 298.5L190.4 312.5L129.6 312.5Z" fill="#e3dc00"/>
<path d="M129.6 312.5L190.4 312.5L190.4 318.3L129.6 318.3Z" fill="#d6cd40"/>
<path d="M156.8 371.4L249.8 359.5L249.8 371.4L146.9 381.4Z" fill="#e2d823"/>
<path d="M80.7 364.2L156.8 364.2L145 389.6L58 389.6Z" fill="#e3dc00"/>
<path d="M58 389.6L145 389.6L143 397.7L57 397.7Z" fill="#d6cd40"/>
<path d="M145 389.6L156.8 364.2L156.8 371.4L143 397.7Z" fill="#cfc020"/>
<text x="0" y="0" font-size="15" font-weight="bold" font-style="italic" font-family="'Liberation Sans', Arial, sans-serif" fill="#333" transform="translate(153 308) scale(1.25 0.8)">S</text>
<text x="0" y="0" font-size="18" font-weight="bold" font-style="italic" font-family="'Liberation Sans', Arial, sans-serif" fill="#333" transform="translate(94 380) scale(1.3 0.85)">D</text>
<path d="M266.6 290.1L474 290.1L564.3 395.6L241.4 395.6Z" fill="#dce8f0" fill-opacity="0.6"/>
<path d="M241.4 395.6L564.3 395.6L564.3 409.5L241.4 409.5Z" fill="#c4d3de" fill-opacity="0.85"/>
<g filter="url(#blur6)"><path d="M261 150L380 150L373 375L266 375Z" fill="url(#beamTop)"/></g>
<path d="M289.3 319.5L350.7 319.5L356.1 359L284.2 359Z" fill="url(#chan)" fill-opacity="0.95"/>
<path d="M262.9 312.5L350.7 312.5L350.7 319.5L262.9 319.5Z" fill="#f8c08a" fill-opacity="0.75"/>
<path d="M249.8 359.5L359 359.5L359 365L249.8 365Z" fill="#ece6b0"/>
<path d="M249.8 365L359 365L359 371.4L249.8 371.4Z" fill="#dcd4b4"/>
<path d="M241.4 359.5L249.8 359.5L249.8 371.4L241.4 371.4Z" fill="#e0da70"/>
<path d="M410.2 307L496.9 307L557 374.4L440.3 380.4Z" fill="#e6e4a6"/>
<path d="M489.7 307L496.9 307L557 374.4L557 380.4L550 380.4Z" fill="#dcd400"/>
<path d="M440.3 374.4L557 374.4L557 380.4L440.3 380.4Z" fill="#d9d79e"/>
<text x="0" y="0" font-size="14" font-weight="bold" font-family="'Liberation Sans', Arial, sans-serif" fill="#9c9c98" transform="translate(439 339.5) rotate(4) scale(1.55 0.95)">Gate</text>
<text x="0" y="0" font-size="17" font-weight="bold" font-family="'Liberation Sans', Arial, sans-serif" fill="#aeb2b6" transform="translate(286 392.7) scale(1.95 0.85)">Ion  gel</text>
<text x="0" y="462" font-size="36" font-family="'Liberation Serif', 'Times New Roman', serif" fill="#555" fill-opacity="0.95"><tspan x="224">CaF</tspan><tspan font-size="24" dy="0">2</tspan><tspan> substrate</tspan></text>
<text x="69" y="300.7" font-size="37" font-style="italic" font-family="'Liberation Sans', Arial, sans-serif">V</text>
<text x="90.5" y="313.4" font-size="24" font-family="'Liberation Sans', Arial, sans-serif">ds</text>
<text x="162.5" y="425.8" font-size="37" font-style="italic" font-family="'Liberation Sans', Arial, sans-serif">V</text>
<text x="184.5" y="438" font-size="24" font-family="'Liberation Sans', Arial, sans-serif">g</text>
<rect x="899.3" y="27" width="22.8" height="596" fill="#e6e6e6"/>
<path d="M801.5 546.05 802.9 545.77 804.3 545.14 805.7 545.25 807.1 544.21 808.5 543.76 809.9 543.51 811.3 542.73 812.7 541.63 814.1 540.13 815.5 539.02 816.9 538.06 818.3 537.44 819.7 536.67 821.1 535.02 822.5 533.89 823.9 533.85 825.3 531.28 826.7 531.37 828.1 530.69 829.5 528.58 830.9 527.28 832.3 526.23 833.7 525.85 835.1 523.88 836.5 521.17 837.9 520.65 839.3 520.09 840.7 518.46 842.1 516.59 843.5 514.35 844.9 511.58 846.3 511.36 847.7 509.49 849.1 508.07 850.5 507.52 851.9 505 853.3 503.49 854.7 502.14 856.1 499.95 857.5 498.07 858.9 496.42 860.3 495.86 861.7 494.05 863.1 491.71 864.5 491.21 865.9 488.86 867.3 486.11 868.7 485.77 870.1 483.52 871.5 480.94 872.9 480.46 874.3 478.06 875.7 476.19 877.1 475.02 878.5 471.2 879.9 469.94 881.3 468.63 882.7 467.17 884.1 464.59 885.5 462.41 886.9 460.42 888.3 459.12 889.7 457.72 891.1 454.28 892.5 451.89 893.9 451.2 895.3 449.22 896.7 446.93 898.1 446.1 899.5 444.36" fill="none" stroke="#ee1c25" stroke-width="3.5" stroke-linejoin="round" stroke-linecap="round" />
<path d="M921.9 415.05 923.3 411.22 924.7 409.51 926.1 408.6 927.5 405.7 928.9 404.02 930.3 402.46 931.7 399.83 933.1 397.49 934.5 395.06 935.9 393.13 937.3 391.24 938.7 389.95 940.1 387.22 941.5 384.07 942.9 382.56 944.3 379.7 945.7 376.26 947.1 374.9 948.5 373.33 949.9 369.86 951.3 368.57 952.7 365.32 954.1 363.17 955.5 359.93 956.9 359.81 958.3 356.27 959.7 354.23 961.1 350.77 962.5 347.61 963.9 347.02 965.3 343.2 966.7 342.36 968.1 338.58 969.5 337.32 970.9 333.14 972.3 329.86 973.7 329.03 975.1 325.91 976.5 323.37 977.9 321.5 979.3 317.53 980.7 314.61 982.1 312.05 983.5 309.03 984.9 306.27 986.3 303.94 987.7 301.46 989.1 299.1 990.5 295.84 991.9 293.83 993.3 291.69 994.7 288.22 996.1 285.86 997.5 282.09 998.9 280.07 1000.3 277.29 1001.7 273.59 1003.1 270.02 1004.5 267.98 1005.9 265.11 1007.3 263.1 1008.7 258.79 1010.1 257.17 1011.5 251.31 1012.9 249.7 1014.3 246.5 1015.7 243.5 1017.1 240.32 1018.5 237.57 1019.9 235.66 1021.3 231.33 1022.7 229.19 1024.1 225.23 1025.5 222.31 1026.9 217.54 1028.3 216.2 1029.7 213.53 1031.1 209.32 1032.5 206.69 1033.9 203.53 1035.3 202.6 1036.7 197.46 1038.1 194.66 1039.5 190.29 1040.9 188.09 1042.3 186.34 1043.7 182.33 1045.1 178.33 1046.5 177.05 1047.9 174.35 1049.3 171.49 1050.7 168.58 1052.1 164.94 1053.5 164.33 1054.9 159.04 1056.3 156.77 1057.7 152.63 1059.1 150.13 1060.5 146.55 1061.9 144.81 1063.3 141.38 1064.7 137.86 1066.1 133.97 1067.5 132.48 1068.9 129.38 1070.3 126.09 1071.7 122.18 1073.1 119.49 1074.5 116.48 1075.9 113.14 1077.3 110.84 1078.7 106.94 1080.1 104.58 1081.5 100.98 1082.9 101.29 1084.3 97.39 1085.7 96.39 1087.1 94.93 1088.5 92.33 1089.9 91.34 1091.3 90.38 1092.7 88.44 1094.1 86.95 1095.5 85.66 1096.9 84.16 1098.3 83.36 1099.7 82.61 1101.1 81.6 1102.5 81.01 1103.9 79.29 1105.3 77.94 1106.7 77.98 1108.1 76.74 1109.5 76.35 1110.9 74.89 1112.3 74.32 1113.7 73.42 1115.1 72.91 1116.5 70.83 1117.9 70.81 1119.3 70.39 1120.7 71.06 1122.1 69 1123.5 68.95 1124.9 67.93 1126.3 65.81 1127.7 68.43 1129.1 67.52 1130.5 67.69 1131.9 64.77 1133.3 66.03 1134.7 65.59 1136.1 63.46 1137.5 65.34 1138.9 63.94 1140.3 64.97 1141.7 62.39 1143.1 63.18 1144.5 63.35 1145.9 62.38 1147.3 64.41 1148.7 66.16 1150.1 64.67 1151.5 65.77 1152.9 67.21 1154.3 66.3 1155.7 65.35 1157.1 63.49 1158.5 67.14 1159.9 66.53 1161.3 66.73 1162.7 68.96 1164.1 69.17 1165.5 66.35 1166.9 69.99 1168.3 69.83 1169.7 72.68 1171.1 72.06 1172.5 74.65 1173.9 72.69 1175.3 74.03 1176.7 74.57 1178.1 76 1179.5 76.55 1180.9 79.96 1182.3 76.12 1183.7 78.77 1185.1 76.59 1186.5 76.37 1187.9 78.57 1189.3 76.92 1190.7 81.04 1192.1 79.37 1193.5 80.22 1194.9 82.97 1196.3 86.11 1197.7 81.56 1199.1 78.53 1200.5 83.01 1201.9 84.68 1203.3 88.42 1204.7 86.15 1206.1 84.75 1207.5 90.58 1208.9 92.03 1210.3 89.45 1211.7 91.82 1213.1 93.05 1214.5 100.67 1215.9 92.22 1217.3 93.75 1218.7 95.67 1220.1 99.16 1221.5 96.85 1222.9 100.32 1224.3 102.45 1225.7 106.89 1227.1 100.62 1228.5 100.9 1229.9 101.64 1231.3 97.12 1232.7 100.32 1234.1 105.97 1235.5 106.94 1236.9 117 1238.3 113.13 1239.7 112.55 1241.1 116.52 1242.5 109.68 1243.9 111.44 1245.3 112.27 1246.7 116.29 1248.1 127.55 1249.5 119.39 1250.9 119.62 1252.3 124.39 1253.7 129.73 1255.1 130.11 1256.5 133.82 1257.9 126.84 1259.3 130.64 1260.7 135.9 1262.1 139.77 1263.5 148.07 1264.9 137.8 1266.3 148.93 1267.7 146.45 1269.1 152.1 1270.5 147.21 1271.9 144.77 1273.3 159.07 1274.7 155.73 1276.1 145.22 1277.5 160.11 1278.9 152.12 1280.3 157.94 1281.7 159.43 1283.1 153.1 1284.5 167.71 1285.9 159.6 1287.3 172.75 1288.7 167.17 1290.1 168.24 1291.5 167.68 1292.9 178.65 1294.3 161.7 1295.7 164 1297.1 165.64 1298.5 177.82 1299.9 178.38 1301.3 173.65 1302.7 176.33 1304.1 165.69 1305.5 187.67 1306.9 178.31 1308.3 182.24 1309.7 180.94 1311.1 188.67 1312.5 183.8 1313.9 187.01 1315.3 187.66 1316.7 184.27 1318.1 184.21 1319.5 191.97" fill="none" stroke="#ee1c25" stroke-width="3.5" stroke-linejoin="round" stroke-linecap="round" />
<path d="M801.5 544.83 802.9 545.17 804.3 544.44 805.7 542.55 807.1 541.98 808.5 541.06 809.9 541.03 811.3 539.75 812.7 539.44 814.1 536.71 815.5 538.16 816.9 536.02 818.3 535.57 819.7 533.97 821.1 532.74 822.5 532.25 823.9 531.41 825.3 529.57 826.7 528.46 828.1 527.9 829.5 525.62 830.9 523.89 832.3 523.87 833.7 521.68 835.1 519.3 836.5 518.52 837.9 517.15 839.3 514.99 840.7 513.11 842.1 512.49 843.5 511.39 844.9 508.89 846.3 506.84 847.7 505.95 849.1 504.54 850.5 502.22 851.9 501.21 853.3 499.97 854.7 497.51 856.1 495.5 857.5 494.73 858.9 493.06 860.3 492.06 861.7 488.78 863.1 487.59 864.5 485.83 865.9 483.54 867.3 483.16 868.7 481.74 870.1 479.12 871.5 478.84 872.9 476.66 874.3 474.71 875.7 472.72 877.1 471.25 878.5 467.76 879.9 467.23 881.3 465.3 882.7 461.71 884.1 461.23 885.5 458.85 886.9 457.58 888.3 454.73 889.7 453.01 891.1 451.24 892.5 448.35 893.9 447.34 895.3 444.8 896.7 443.15 898.1 440.37 899.5 439.42" fill="none" stroke="#f26322" stroke-width="3.5" stroke-linejoin="round" stroke-linecap="round" />
<path d="M921.9 403.23 923.3 400.24 924.7 399.03 926.1 397.62 927.5 395.66 928.9 390.69 930.3 389.21 931.7 387.77 933.1 386.05 934.5 382.89 935.9 379.71 937.3 378.08 938.7 375.48 940.1 372.97 941.5 370.2 942.9 368.57 944.3 366.1 945.7 363.39 947.1 360.85 948.5 357.65 949.9 355.74 951.3 354.44 952.7 350.96 954.1 347.58 955.5 346.99 956.9 343.88 958.3 342.43 959.7 338.4 961.1 335.42 962.5 332.09 963.9 331.36 965.3 329.55 966.7 324.47 968.1 321.86 969.5 320 970.9 316.24 972.3 313.87 973.7 311.04 975.1 308.63 976.5 306.48 977.9 302.93 979.3 300.76 980.7 297.02 982.1 294.75 983.5 290.23 984.9 287.92 986.3 286.71 987.7 282.97 989.1 281.02 990.5 278.24 991.9 276.05 993.3 272.97 994.7 270.41 996.1 266.93 997.5 263.83 998.9 261.11 1000.3 258.59 1001.7 255.46 1003.1 253.18 1004.5 250.82 1005.9 248.38 1007.3 245.29 1008.7 241.51 1010.1 240.14 1011.5 237.68 1012.9 235.62 1014.3 232.6 1015.7 229.1 1017.1 226.39 1018.5 225.66 1019.9 222.14 1021.3 220.25 1022.7 217.83 1024.1 213.14 1025.5 211.36 1026.9 208.79 1028.3 206.25 1029.7 203.63 1031.1 200.79 1032.5 198.18 1033.9 194.39 1035.3 192.69 1036.7 189.63 1038.1 187.58 1039.5 184.48 1040.9 182.57 1042.3 180.03 1043.7 177 1045.1 174.34 1046.5 171.54 1047.9 168.54 1049.3 166.13 1050.7 163.33 1052.1 161.41 1053.5 158.65 1054.9 156.6 1056.3 152.86 1057.7 152.06 1059.1 148.61 1060.5 146.4 1061.9 144.61 1063.3 142.22 1064.7 140.66 1066.1 137.89 1067.5 135.41 1068.9 133.46 1070.3 132.93 1071.7 130.09 1073.1 127.39 1074.5 126.49 1075.9 123.82 1077.3 124.75 1078.7 121.21 1080.1 121.53 1081.5 120.53 1082.9 118.13 1084.3 118.41 1085.7 117.99 1087.1 116.76 1088.5 115.81 1089.9 115.55 1091.3 114.31 1092.7 113.8 1094.1 112.9 1095.5 112.93 1096.9 111.38 1098.3 112.21 1099.7 110.92 1101.1 110.13 1102.5 110.8 1103.9 111.41 1105.3 110.59 1106.7 109.26 1108.1 109.93 1109.5 108.91 1110.9 109.05 1112.3 109.17 1113.7 107.33 1115.1 109.38 1116.5 108.56 1117.9 109.03 1119.3 108.64 1120.7 108.9 1122.1 109.72 1123.5 111.66 1124.9 112.85 1126.3 111.77 1127.7 113.28 1129.1 112.48 1130.5 111.35 1131.9 113.85 1133.3 114.64 1134.7 114.22 1136.1 115.48 1137.5 116.31 1138.9 115.32 1140.3 115.22 1141.7 117.29 1143.1 117.98 1144.5 118.52 1145.9 120.9 1147.3 122.62 1148.7 120.71 1150.1 122.97 1151.5 124.13 1152.9 124.68 1154.3 126.01 1155.7 124.85 1157.1 127.33 1158.5 130.11 1159.9 129.17 1161.3 127.85 1162.7 130.6 1164.1 132.53 1165.5 132.03 1166.9 131.46 1168.3 136.03 1169.7 132.27 1171.1 136.34 1172.5 136.43 1173.9 135.25 1175.3 140.64 1176.7 139.88 1178.1 137.74 1179.5 141.87 1180.9 140.4 1182.3 137.88 1183.7 140.81 1185.1 143.23 1186.5 144.44 1187.9 143.8 1189.3 143.89 1190.7 145.21 1192.1 144 1193.5 147.63 1194.9 145.6 1196.3 146.38 1197.7 147.47 1199.1 143.98 1200.5 145.4 1201.9 151.81 1203.3 149.42 1204.7 148.52 1206.1 151.01 1207.5 149.59 1208.9 152.59 1210.3 150.84 1211.7 154.5 1213.1 150.06 1214.5 159.7 1215.9 155.22 1217.3 152.99 1218.7 158.25 1220.1 158.88 1221.5 161.66 1222.9 158.57 1224.3 164.75 1225.7 176.72 1227.1 161.34 1228.5 167.98 1229.9 166.83 1231.3 169.72 1232.7 163.67 1234.1 167.17 1235.5 174.26 1236.9 173.64 1238.3 181.23 1239.7 173.58 1241.1 178.24 1242.5 190.35 1243.9 177.1 1245.3 177.8 1246.7 182.63 1248.1 183.9 1249.5 188.95 1250.9 187.27 1252.3 184.76 1253.7 190.24 1255.1 202.26 1256.5 197.57 1257.9 180.56 1259.3 193.74 1260.7 191.56 1262.1 199.78 1263.5 197.32 1264.9 208.7 1266.3 205.24 1267.7 206.38 1269.1 204.22 1270.5 204.35 1271.9 207.52 1273.3 213.65 1274.7 210.93 1276.1 207.41 1277.5 217.07 1278.9 212.31 1280.3 211.77 1281.7 208.71 1283.1 210.76 1284.5 211.15 1285.9 199.69 1287.3 222.1 1288.7 220.3 1290.1 216.49 1291.5 224.61 1292.9 221.7 1294.3 221.96 1295.7 205.26 1297.1 219.47 1298.5 224.76 1299.9 232.07 1301.3 234.12 1302.7 232.07 1304.1 215.9 1305.5 209.53 1306.9 228.09 1308.3 224.94 1309.7 231.65 1311.1 224.73 1312.5 227.47 1313.9 215.96 1315.3 229.8 1316.7 223.86 1318.1 229.79 1319.5 230.87" fill="none" stroke="#f26322" stroke-width="3.5" stroke-linejoin="round" stroke-linecap="round" />
<path d="M801.5 539.79 802.9 539.91 804.3 539.03 805.7 538.32 807.1 538.21 808.5 535.46 809.9 535.06 811.3 533.73 812.7 533.7 814.1 533.57 815.5 531.91 816.9 531.31 818.3 528.63 819.7 529.06 821.1 527.28 822.5 528.09 823.9 526.39 825.3 525.33 826.7 523.5 828.1 522.84 829.5 521.71 830.9 519.77 832.3 518.35 833.7 517.25 835.1 515.48 836.5 514.01 837.9 512.71 839.3 510.85 840.7 510.31 842.1 507.05 843.5 507.12 844.9 504.47 846.3 502.9 847.7 500.7 849.1 499.93 850.5 498.26 851.9 496.96 853.3 494.85 854.7 493.67 856.1 493.25 857.5 490.62 858.9 488.28 860.3 487.68 861.7 485.24 863.1 484.03 864.5 482.32 865.9 479.87 867.3 477.01 868.7 476.32 870.1 475.11 871.5 472.6 872.9 471.27 874.3 469.7 875.7 466.64 877.1 465.85 878.5 464.06 879.9 461.59 881.3 459.53 882.7 457.34 884.1 455.99 885.5 452.37 886.9 450.06 888.3 448.29 889.7 445.05 891.1 442.41 892.5 440.7 893.9 439.41 895.3 437.33 896.7 433.78 898.1 431.43 899.5 430.44" fill="none" stroke="#eca42a" stroke-width="3.5" stroke-linejoin="round" stroke-linecap="round" />
<path d="M921.9 397.17 923.3 395.84 924.7 393.75 926.1 390.07 927.5 389.74 928.9 386.38 930.3 384.28 931.7 382.38 933.1 380.45 934.5 376.64 935.9 376.04 937.3 373.1 938.7 370.19 940.1 368.21 941.5 364.54 942.9 363.26 944.3 361.48 945.7 358.49 947.1 356.38 948.5 354.11 949.9 351.85 951.3 350.12 952.7 346.97 954.1 344.38 955.5 342.5 956.9 341.13 958.3 336.98 959.7 335.08 961.1 331.08 962.5 330.57 963.9 327.49 965.3 325.35 966.7 321.74 968.1 318.39 969.5 317.07 970.9 314.3 972.3 310.48 973.7 307.36 975.1 306.01 976.5 302.88 977.9 302.14 979.3 297.2 980.7 294.6 982.1 292.24 983.5 288.52 984.9 286.45 986.3 285.64 987.7 281.84 989.1 278.98 990.5 276.03 991.9 274.87 993.3 272.52 994.7 269.88 996.1 267.08 997.5 265.22 998.9 262.92 1000.3 259.82 1001.7 258.38 1003.1 254.13 1004.5 252.39 1005.9 250.78 1007.3 248.64 1008.7 245.66 1010.1 244.49 1011.5 242.84 1012.9 240.29 1014.3 238.06 1015.7 236.47 1017.1 234.21 1018.5 231.24 1019.9 230.07 1021.3 229.37 1022.7 226 1024.1 225.22 1025.5 223.3 1026.9 221.35 1028.3 219.7 1029.7 218.93 1031.1 217.56 1032.5 216.06 1033.9 213.37 1035.3 212.75 1036.7 211.81 1038.1 210.89 1039.5 209.4 1040.9 208.26 1042.3 207.26 1043.7 205.92 1045.1 203.7 1046.5 203.29 1047.9 201.8 1049.3 199.74 1050.7 199.42 1052.1 201.29 1053.5 198.26 1054.9 196.69 1056.3 197.08 1057.7 197.78 1059.1 195.93 1060.5 195.5 1061.9 194.29 1063.3 193.72 1064.7 193.97 1066.1 192.98 1067.5 191.73 1068.9 191.81 1070.3 191.38 1071.7 189.94 1073.1 189.8 1074.5 189.35 1075.9 188.31 1077.3 189.24 1078.7 188.03 1080.1 187.48 1081.5 186.57 1082.9 186.75 1084.3 188.67 1085.7 186.83 1087.1 188.03 1088.5 187.63 1089.9 188.46 1091.3 188.79 1092.7 188.14 1094.1 188.84 1095.5 189.5 1096.9 189.93 1098.3 190.27 1099.7 190.54 1101.1 191.67 1102.5 192.65 1103.9 192.59 1105.3 192.16 1106.7 193.45 1108.1 193.7 1109.5 194.55 1110.9 196.18 1112.3 195.27 1113.7 196.09 1115.1 196.11 1116.5 197.32 1117.9 197.85 1119.3 200.43 1120.7 200.16 1122.1 200.23 1123.5 203.25 1124.9 201.19 1126.3 204.01 1127.7 205.01 1129.1 205.43 1130.5 205.45 1131.9 206.38 1133.3 206.94 1134.7 208.86 1136.1 206.32 1137.5 208.98 1138.9 210.45 1140.3 210.36 1141.7 209.66 1143.1 212.22 1144.5 212.34 1145.9 214.97 1147.3 216.48 1148.7 215.56 1150.1 213.68 1151.5 216.69 1152.9 216.44 1154.3 219.4 1155.7 221.6 1157.1 220.4 1158.5 223.7 1159.9 223.73 1161.3 223.27 1162.7 221.59 1164.1 224.06 1165.5 222.34 1166.9 227.28 1168.3 226.62 1169.7 229.66 1171.1 228.65 1172.5 225.49 1173.9 230.98 1175.3 232.3 1176.7 234.44 1178.1 230.04 1179.5 230.68 1180.9 233.14 1182.3 231.31 1183.7 231.03 1185.1 231.97 1186.5 240.26 1187.9 233.61 1189.3 233.05 1190.7 234.6 1192.1 235.91 1193.5 239.23 1194.9 238.75 1196.3 238.69 1197.7 237.17 1199.1 237.76 1200.5 236.04 1201.9 234.08 1203.3 243.71 1204.7 237.46 1206.1 241.82 1207.5 238.59 1208.9 239.65 1210.3 239.94 1211.7 236.91 1213.1 241.25 1214.5 243.25 1215.9 245.29 1217.3 245.01 1218.7 247.42 1220.1 245.94 1221.5 245.79 1222.9 240.21 1224.3 245.68 1225.7 253.5 1227.1 249.55 1228.5 252.74 1229.9 250.09 1231.3 249.27 1232.7 259.84 1234.1 254.59 1235.5 259.58 1236.9 256.79 1238.3 254.39 1239.7 247.56 1241.1 257.17 1242.5 251.26 1243.9 249.17 1245.3 263.66 1246.7 262.18 1248.1 262.45 1249.5 260.55 1250.9 260.74 1252.3 263.27 1253.7 262.66 1255.1 262.84 1256.5 266.37 1257.9 252.47 1259.3 268.22 1260.7 261.73 1262.1 269.22 1263.5 271.33 1264.9 262.25 1266.3 270.71 1267.7 271.28 1269.1 264.49 1270.5 265.93 1271.9 269.78 1273.3 258.38 1274.7 268.15 1276.1 272.1 1277.5 269.4 1278.9 263.83 1280.3 270.93 1281.7 282 1283.1 281.64 1284.5 274.19 1285.9 270.85 1287.3 275.84 1288.7 276.5 1290.1 272.89 1291.5 275.27 1292.9 281.33 1294.3 283.54 1295.7 263.28 1297.1 284.4 1298.5 279.47 1299.9 286.08 1301.3 278.95 1302.7 282.12 1304.1 290.12 1305.5 260.31 1306.9 290.39 1308.3 281.35 1309.7 267.99 1311.1 262.3 1312.5 282.68 1313.9 273.55 1315.3 287.78 1316.7 282.38 1318.1 279.98 1319.5 288.12" fill="none" stroke="#eca42a" stroke-width="3.5" stroke-linejoin="round" stroke-linecap="round" />
<path d="M801.5 540.07 802.9 536.02 804.3 538.19 805.7 536.87 807.1 537 808.5 535.57 809.9 535.77 811.3 533.67 812.7 532.41 814.1 532.27 815.5 531.23 816.9 529.71 818.3 528.8 819.7 528.46 821.1 527.41 822.5 525.5 823.9 524.51 825.3 522.4 826.7 523.72 828.1 521.25 829.5 521.18 830.9 519.3 832.3 519.06 833.7 517.41 835.1 515.13 836.5 514.47 837.9 511.25 839.3 511.24 840.7 507.74 842.1 507.41 843.5 506.29 844.9 504.07 846.3 502.02 847.7 500.08 849.1 498.79 850.5 498.17 851.9 496.45 853.3 494.04 854.7 491.74 856.1 491.46 857.5 488.34 858.9 487.34 860.3 485.53 861.7 484.89 863.1 482.83 864.5 481.26 865.9 479.37 867.3 476.93 868.7 475.96 870.1 474.73 871.5 471.84 872.9 470.38 874.3 467.88 875.7 466.66 877.1 464.35 878.5 462.39 879.9 459.89 881.3 458.63 882.7 455.04 884.1 452.85 885.5 450.45 886.9 449.05 888.3 445.94 889.7 443.68 891.1 442.39 892.5 440.45 893.9 437.8 895.3 433.29 896.7 432.29 898.1 430.02 899.5 427.77" fill="none" stroke="#e6c52e" stroke-width="3.5" stroke-linejoin="round" stroke-linecap="round" />
<path d="M921.9 393.33 923.3 391.63 924.7 388.6 926.1 386.83 927.5 385.81 928.9 382.28 930.3 380.51 931.7 377.01 933.1 374.87 934.5 373.01 935.9 368.51 937.3 366.6 938.7 364.12 940.1 361.82 941.5 360.11 942.9 356.91 944.3 352.8 945.7 351.1 947.1 348.13 948.5 345.61 949.9 345.21 951.3 340.62 952.7 339.15 954.1 336.16 955.5 334.99 956.9 332.42 958.3 330.1 959.7 327.81 961.1 326.5 962.5 322.91 963.9 320.91 965.3 318.5 966.7 318.1 968.1 314.85 969.5 312.24 970.9 310.6 972.3 310.59 973.7 306.74 975.1 305.41 976.5 303.17 977.9 300.89 979.3 298.51 980.7 296.89 982.1 295.04 983.5 291.95 984.9 293.56 986.3 290.69 987.7 288.46 989.1 286.63 990.5 284.67 991.9 284.39 993.3 282.15 994.7 281.24 996.1 278.58 997.5 278.47 998.9 278.27 1000.3 275.34 1001.7 274.78 1003.1 272.94 1004.5 272.41 1005.9 271.11 1007.3 269.16 1008.7 267.5 1010.1 266.89 1011.5 265.54 1012.9 263.94 1014.3 263.58 1015.7 262.48 1017.1 260.52 1018.5 260.06 1019.9 261.22 1021.3 258.83 1022.7 257.46 1024.1 258.32 1025.5 255.47 1026.9 253.34 1028.3 253.07 1029.7 252.74 1031.1 253.44 1032.5 253.45 1033.9 250.78 1035.3 252.61 1036.7 250.51 1038.1 251.09 1039.5 250.79 1040.9 250.33 1042.3 249.61 1043.7 249.31 1045.1 247.99 1046.5 248.6 1047.9 248.72 1049.3 248.34 1050.7 249.19 1052.1 247.81 1053.5 247.28 1054.9 247.67 1056.3 246.44 1057.7 245.17 1059.1 244.33 1060.5 246.64 1061.9 246.03 1063.3 246.15 1064.7 245.28 1066.1 245.74 1067.5 246.85 1068.9 245.84 1070.3 244.93 1071.7 245.54 1073.1 246.98 1074.5 245.45 1075.9 244.63 1077.3 245.08 1078.7 246.02 1080.1 247.81 1081.5 247.62 1082.9 247.36 1084.3 247.33 1085.7 248.5 1087.1 248.83 1088.5 248.92 1089.9 249.61 1091.3 249.83 1092.7 252.32 1094.1 250.2 1095.5 252.82 1096.9 252.99 1098.3 255.23 1099.7 255.66 1101.1 257.22 1102.5 258.52 1103.9 259.5 1105.3 261.3 1106.7 260.82 1108.1 263.77 1109.5 264.14 1110.9 265.8 1112.3 267.89 1113.7 268.72 1115.1 270.52 1116.5 268.19 1117.9 270.25 1119.3 272.87 1120.7 272.16 1122.1 274.01 1123.5 276.73 1124.9 277.06 1126.3 276.45 1127.7 278.82 1129.1 280.06 1130.5 280.56 1131.9 281.44 1133.3 282.73 1134.7 282.06 1136.1 284.78 1137.5 284.62 1138.9 287.11 1140.3 288.15 1141.7 287.62 1143.1 290.34 1144.5 291 1145.9 291.47 1147.3 293.38 1148.7 293.01 1150.1 293.98 1151.5 295.4 1152.9 296.15 1154.3 298.75 1155.7 294.71 1157.1 298.56 1158.5 296.94 1159.9 300.04 1161.3 302.09 1162.7 302.59 1164.1 305.01 1165.5 304.85 1166.9 300.61 1168.3 304.12 1169.7 309.56 1171.1 310.44 1172.5 308.67 1173.9 306.44 1175.3 314.13 1176.7 306.84 1178.1 312.18 1179.5 312.22 1180.9 313.52 1182.3 311.34 1183.7 313.6 1185.1 317.41 1186.5 314.75 1187.9 313.44 1189.3 317.1 1190.7 317.99 1192.1 318.11 1193.5 317.19 1194.9 320.96 1196.3 319.97 1197.7 317.96 1199.1 322 1200.5 321.95 1201.9 322.96 1203.3 318.62 1204.7 321.59 1206.1 325.43 1207.5 327.31 1208.9 326.25 1210.3 326.29 1211.7 328.5 1213.1 329.84 1214.5 332.77 1215.9 329.45 1217.3 326.8 1218.7 330.54 1220.1 323.34 1221.5 330.16 1222.9 328.95 1224.3 330.71 1225.7 332.79 1227.1 331.62 1228.5 326.7 1229.9 330.67 1231.3 329.26 1232.7 332.21 1234.1 333.78 1235.5 329.07 1236.9 335.54 1238.3 337.89 1239.7 332.06 1241.1 336.08 1242.5 327.52 1243.9 331.33 1245.3 337.5 1246.7 326.46 1248.1 331.68 1249.5 330.08 1250.9 338.8 1252.3 338.88 1253.7 331.25 1255.1 334.52 1256.5 322.27 1257.9 337.71 1259.3 335.33 1260.7 339.69 1262.1 322.13 1263.5 334.71 1264.9 331.06 1266.3 319.74 1267.7 328.65 1269.1 331.26 1270.5 335.28 1271.9 331.8 1273.3 327.69 1274.7 332.17 1276.1 328.8 1277.5 325.42 1278.9 322.89 1280.3 328.66 1281.7 328.13 1283.1 336.81 1284.5 323.3 1285.9 334.08 1287.3 326.09 1288.7 329.92 1290.1 316.78 1291.5 315.84 1292.9 318.05 1294.3 324.16 1295.7 318.67 1297.1 321.06 1298.5 317.22 1299.9 320.53 1301.3 314.14 1302.7 308.29 1304.1 313.72 1305.5 309.67 1306.9 319.26 1308.3 305.29 1309.7 305.66 1311.1 301.39 1312.5 309.89 1313.9 306.5 1315.3 303.43 1316.7 288.51 1318.1 284.89 1319.5 295.92" fill="none" stroke="#e6c52e" stroke-width="3.5" stroke-linejoin="round" stroke-linecap="round" />
<path d="M801.5 541.28 802.9 539.49 804.3 538.41 805.7 536.77 807.1 537.83 808.5 538.18 809.9 536.52 811.3 536.01 812.7 535.49 814.1 533.25 815.5 534.79 816.9 531.35 818.3 531.23 819.7 531.87 821.1 528.83 822.5 527.93 823.9 526.41 825.3 525.9 826.7 523.06 828.1 522.96 829.5 523.43 830.9 521.16 832.3 519.54 833.7 518.61 835.1 517.22 836.5 515.57 837.9 514.36 839.3 511.25 840.7 511.25 842.1 508.76 843.5 508.16 844.9 505.96 846.3 503.63 847.7 502.64 849.1 500.34 850.5 500.13 851.9 497.76 853.3 496.72 854.7 493.68 856.1 493.9 857.5 490.85 858.9 490.3 860.3 488.19 861.7 485.06 863.1 484.27 864.5 481.86 865.9 480.7 867.3 479.57 868.7 477.17 870.1 475.53 871.5 472.04 872.9 471.03 874.3 469.11 875.7 467.53 877.1 464.21 878.5 462.87 879.9 460.57 881.3 456.97 882.7 455.06 884.1 453.84 885.5 450.44 886.9 448.14 888.3 447.37 889.7 444.7 891.1 442.11 892.5 440.15 893.9 437.63 895.3 435.42 896.7 433.4 898.1 431.98 899.5 430.67" fill="none" stroke="#a9b52f" stroke-width="3.5" stroke-linejoin="round" stroke-linecap="round" />
<path d="M921.9 400.23 923.3 399 924.7 398.09 926.1 394.95 927.5 392.66 928.9 389.25 930.3 387.79 931.7 384.86 933.1 383.78 934.5 380.59 935.9 378.44 937.3 375.95 938.7 373.32 940.1 371.59 941.5 368.75 942.9 365.68 944.3 363.53 945.7 361.35 947.1 359.5 948.5 356.26 949.9 354.85 951.3 351.16 952.7 349.21 954.1 346.21 955.5 345.79 956.9 342.55 958.3 340.68 959.7 340.15 961.1 337.36 962.5 335.39 963.9 334.78 965.3 332.21 966.7 331.22 968.1 328.55 969.5 327.63 970.9 326.18 972.3 323.82 973.7 323.38 975.1 320.22 976.5 318.77 977.9 317.42 979.3 316.54 980.7 314.14 982.1 312.58 983.5 311.64 984.9 310.95 986.3 308.44 987.7 306.53 989.1 306.06 990.5 305.36 991.9 303.36 993.3 302.68 994.7 300.19 996.1 300.45 997.5 299.46 998.9 298.8 1000.3 297.58 1001.7 296.92 1003.1 294.73 1004.5 294.95 1005.9 292.42 1007.3 292.26 1008.7 292.59 1010.1 291.58 1011.5 288.87 1012.9 289.79 1014.3 288.32 1015.7 287.35 1017.1 287.34 1018.5 286.61 1019.9 286.86 1021.3 284.27 1022.7 284.4 1024.1 284.03 1025.5 282.27 1026.9 283.8 1028.3 283.62 1029.7 281.37 1031.1 281.51 1032.5 280.49 1033.9 280.32 1035.3 279.13 1036.7 279.68 1038.1 277.81 1039.5 279.14 1040.9 278.02 1042.3 279.11 1043.7 275.93 1045.1 276.75 1046.5 275.7 1047.9 276.34 1049.3 276.64 1050.7 275.66 1052.1 275.32 1053.5 275.18 1054.9 276.65 1056.3 277.53 1057.7 277.63 1059.1 277.04 1060.5 276.58 1061.9 277.25 1063.3 276.72 1064.7 276.96 1066.1 279.11 1067.5 278.48 1068.9 279.21 1070.3 279.13 1071.7 280.65 1073.1 281.2 1074.5 280.18 1075.9 281.06 1077.3 281.49 1078.7 283.58 1080.1 284.26 1081.5 283.96 1082.9 286.58 1084.3 285.83 1085.7 285.81 1087.1 286.12 1088.5 288.33 1089.9 289.54 1091.3 289.8 1092.7 291.36 1094.1 292.82 1095.5 292.81 1096.9 294.29 1098.3 295.7 1099.7 295.74 1101.1 295.85 1102.5 297.44 1103.9 298.42 1105.3 300.48 1106.7 299.56 1108.1 299.68 1109.5 301.98 1110.9 302.96 1112.3 303.35 1113.7 305.07 1115.1 305.85 1116.5 307.53 1117.9 306.84 1119.3 307.91 1120.7 309.43 1122.1 309.97 1123.5 312.48 1124.9 312.82 1126.3 313.22 1127.7 315.61 1129.1 315.62 1130.5 317.09 1131.9 317.89 1133.3 317.92 1134.7 318.9 1136.1 320.04 1137.5 319.83 1138.9 321.61 1140.3 323.93 1141.7 324.28 1143.1 323.76 1144.5 328.66 1145.9 325.47 1147.3 328.43 1148.7 329.46 1150.1 331.07 1151.5 329.09 1152.9 331.09 1154.3 331.59 1155.7 334.29 1157.1 334.03 1158.5 334.9 1159.9 335.91 1161.3 338.92 1162.7 337.76 1164.1 338.9 1165.5 336.74 1166.9 340.17 1168.3 337.62 1169.7 342.09 1171.1 341.4 1172.5 340.19 1173.9 340.28 1175.3 342.78 1176.7 343.71 1178.1 342.86 1179.5 343.73 1180.9 344.14 1182.3 344.01 1183.7 345 1185.1 346.26 1186.5 348.74 1187.9 347.59 1189.3 345.14 1190.7 350.31 1192.1 349.58 1193.5 346.46 1194.9 349.71 1196.3 346.2 1197.7 345.86 1199.1 346.16 1200.5 352.38 1201.9 348.9 1203.3 349.69 1204.7 349.4 1206.1 348.54 1207.5 351.52 1208.9 352.73 1210.3 357.15 1211.7 349.91 1213.1 357.74 1214.5 356.13 1215.9 349.84 1217.3 359.01 1218.7 361.99 1220.1 361.32 1221.5 359.52 1222.9 360.08 1224.3 353.76 1225.7 362.06 1227.1 362.15 1228.5 358.78 1229.9 363 1231.3 360.12 1232.7 370.58 1234.1 357.94 1235.5 358.84 1236.9 353.78 1238.3 359.96 1239.7 361.45 1241.1 360.51 1242.5 357.36 1243.9 362.75 1245.3 359.53 1246.7 362.71 1248.1 356.63 1249.5 348.93 1250.9 354.89 1252.3 350.35 1253.7 357.47 1255.1 350.36 1256.5 351.13 1257.9 351.33 1259.3 343.67 1260.7 348.06 1262.1 353.13 1263.5 345.48 1264.9 346.49 1266.3 347.15 1267.7 342.07 1269.1 342.9 1270.5 345.53 1271.9 340.35 1273.3 341.46 1274.7 339.36 1276.1 333.5 1277.5 331 1278.9 347.36 1280.3 343.09 1281.7 333.84 1283.1 338.64 1284.5 338.47 1285.9 336.63 1287.3 328.05 1288.7 320.8 1290.1 320.7 1291.5 325.65 1292.9 334.14 1294.3 334.57 1295.7 322.84 1297.1 321.4 1298.5 330.07 1299.9 334.68 1301.3 315.13 1302.7 323.17 1304.1 320.31 1305.5 316.5 1306.9 315.72 1308.3 314.85 1309.7 316.28 1311.1 305.15 1312.5 314.83 1313.9 319.56 1315.3 318.68 1316.7 318.3 1318.1 314.4 1319.5 312.78" fill="none" stroke="#a9b52f" stroke-width="3.5" stroke-linejoin="round" stroke-linecap="round" />
<path d="M801.5 551.76 802.9 551.41 804.3 551.62 805.7 550.21 807.1 550.14 808.5 549.5 809.9 547.06 811.3 547.88 812.7 545.83 814.1 546.75 815.5 544.81 816.9 542.92 818.3 542.4 819.7 541.35 821.1 540.35 822.5 539.99 823.9 538.27 825.3 537.92 826.7 536.04 828.1 534.3 829.5 532.15 830.9 530.84 832.3 530.72 833.7 529.63 835.1 528.67 836.5 525.71 837.9 524.62 839.3 522.41 840.7 521.07 842.1 518.16 843.5 518.66 844.9 516.04 846.3 514.92 847.7 513.74 849.1 512.17 850.5 509.57 851.9 510.15 853.3 508.24 854.7 506.71 856.1 504.57 857.5 502.59 858.9 501.26 860.3 500.95 861.7 499.89 863.1 497.96 864.5 498.38 865.9 495.94 867.3 495.03 868.7 493.53 870.1 490.67 871.5 490.58 872.9 488.63 874.3 485.81 875.7 485.56 877.1 484.12 878.5 482.33 879.9 480.64 881.3 477.15 882.7 476.16 884.1 474.14 885.5 472.72 886.9 470.9 888.3 469.74 889.7 467.6 891.1 464.6 892.5 463.92 893.9 462.52 895.3 459.69 896.7 456.52 898.1 455.23 899.5 453.65" fill="none" stroke="#4b782c" stroke-width="3.5" stroke-linejoin="round" stroke-linecap="round" />
<path d="M921.9 422.87 923.3 420.31 924.7 419.26 926.1 415.56 927.5 415.35 928.9 413.3 930.3 409.59 931.7 408.12 933.1 404.93 934.5 403.12 935.9 402.23 937.3 399.03 938.7 398 940.1 396.19 941.5 393.99 942.9 392.61 944.3 391.35 945.7 388.17 947.1 386.82 948.5 385.25 949.9 381.99 951.3 379.97 952.7 376.88 954.1 377.05 955.5 375.67 956.9 373.45 958.3 372.85 959.7 370.68 961.1 368.4 962.5 366.01 963.9 363.64 965.3 362.54 966.7 361.03 968.1 358.86 969.5 356.92 970.9 355.11 972.3 354.12 973.7 350.7 975.1 349.97 976.5 348.55 977.9 347.32 979.3 345.68 980.7 343.41 982.1 341.58 983.5 339.62 984.9 339.74 986.3 337.86 987.7 336.15 989.1 334.11 990.5 332.48 991.9 332.79 993.3 330.71 994.7 329.85 996.1 329.62 997.5 326.14 998.9 325.55 1000.3 325.24 1001.7 324.33 1003.1 322.1 1004.5 321.73 1005.9 320.34 1007.3 319.36 1008.7 319.07 1010.1 318 1011.5 317.77 1012.9 316.49 1014.3 316.26 1015.7 313.82 1017.1 313.89 1018.5 311.85 1019.9 310.97 1021.3 310.47 1022.7 311.31 1024.1 310.34 1025.5 308.46 1026.9 309.95 1028.3 309.15 1029.7 307.81 1031.1 307.24 1032.5 306.9 1033.9 305.56 1035.3 307.59 1036.7 305.15 1038.1 304.9 1039.5 304.37 1040.9 303.71 1042.3 303.13 1043.7 303.6 1045.1 302.11 1046.5 301.86 1047.9 301.65 1049.3 302.42 1050.7 300.8 1052.1 300.42 1053.5 300.96 1054.9 299.53 1056.3 299.7 1057.7 300.19 1059.1 299.53 1060.5 299 1061.9 299.86 1063.3 298.41 1064.7 298.28 1066.1 297.56 1067.5 298.97 1068.9 299.59 1070.3 298.94 1071.7 301.02 1073.1 300.74 1074.5 301.02 1075.9 299.89 1077.3 301.31 1078.7 301.72 1080.1 300.41 1081.5 302.26 1082.9 302.58 1084.3 302.04 1085.7 304.16 1087.1 305.84 1088.5 305.55 1089.9 305.07 1091.3 306.17 1092.7 307.83 1094.1 307.18 1095.5 308.74 1096.9 309.26 1098.3 310.12 1099.7 311.92 1101.1 310.45 1102.5 313.11 1103.9 313.24 1105.3 313.73 1106.7 313.33 1108.1 315.52 1109.5 315.75 1110.9 314.63 1112.3 316.61 1113.7 317.55 1115.1 318.53 1116.5 319.69 1117.9 320.36 1119.3 323.22 1120.7 323.71 1122.1 323.6 1123.5 325.79 1124.9 327.36 1126.3 326.76 1127.7 325.94 1129.1 328.4 1130.5 330.28 1131.9 328.72 1133.3 330.53 1134.7 332.32 1136.1 333.38 1137.5 333.82 1138.9 334.06 1140.3 334.23 1141.7 334.46 1143.1 337.03 1144.5 337.68 1145.9 336.68 1147.3 337.12 1148.7 340.32 1150.1 340.73 1151.5 339.11 1152.9 338.6 1154.3 341.75 1155.7 343.48 1157.1 344.48 1158.5 345.06 1159.9 342.28 1161.3 345.49 1162.7 345.63 1164.1 345.9 1165.5 352.3 1166.9 348.92 1168.3 350.31 1169.7 350.33 1171.1 353.05 1172.5 354.92 1173.9 353.25 1175.3 354.65 1176.7 354.74 1178.1 354.45 1179.5 356.86 1180.9 358.65 1182.3 358.71 1183.7 358.87 1185.1 356.1 1186.5 361.52 1187.9 361.84 1189.3 365.58 1190.7 361.33 1192.1 360.21 1193.5 359.48 1194.9 363.07 1196.3 365 1197.7 366.33 1199.1 362.22 1200.5 365.23 1201.9 369.74 1203.3 367.67 1204.7 366.94 1206.1 367.18 1207.5 364.13 1208.9 364.88 1210.3 367.64 1211.7 373.01 1213.1 373.16 1214.5 369.59 1215.9 372.23 1217.3 371.9 1218.7 374.48 1220.1 368.86 1221.5 372.14 1222.9 374.57 1224.3 367.45 1225.7 371.52 1227.1 372.7 1228.5 373.36 1229.9 373.76 1231.3 374.02 1232.7 375.47 1234.1 376.84 1235.5 373.01 1236.9 379.67 1238.3 369.43 1239.7 370.25 1241.1 371.99 1242.5 367.35 1243.9 364.22 1245.3 364.45 1246.7 374.2 1248.1 366.36 1249.5 363.07 1250.9 376.37 1252.3 369.57 1253.7 368.43 1255.1 362.96 1256.5 368.06 1257.9 364.17 1259.3 367.25 1260.7 365.67 1262.1 364.34 1263.5 366.03 1264.9 360.24 1266.3 362.06 1267.7 359.75 1269.1 365.07 1270.5 366.19 1271.9 366.2 1273.3 351.69 1274.7 370.04 1276.1 359.4 1277.5 359.39 1278.9 359.27 1280.3 358.72 1281.7 365.46 1283.1 358.85 1284.5 359.4 1285.9 362.72 1287.3 364.53 1288.7 350.83 1290.1 349.31 1291.5 344.87 1292.9 344.7 1294.3 357.81 1295.7 356.48 1297.1 355.74 1298.5 358.03 1299.9 357.85 1301.3 363.52 1302.7 366.87 1304.1 350.8 1305.5 365.76 1306.9 363.04 1308.3 350.73 1309.7 357.28 1311.1 353.15 1312.5 344.48 1313.9 356.37 1315.3 344.76 1316.7 356.41 1318.1 348.7 1319.5 353.72" fill="none" stroke="#4b782c" stroke-width="3.5" stroke-linejoin="round" stroke-linecap="round" />
<rect x="801.2" y="27" width="520.3" height="596" fill="none" stroke="#000" stroke-width="3.6"/>
<path d="M841.4 623v-7.4M921.38 623v-7.4M1001.36 623v-7.4M1081.34 623v-7.4M1161.32 623v-7.4M1241.3 623v-7.4M801.41 623v-4.8M881.39 623v-4.8M961.37 623v-4.8M1041.35 623v-4.8M1121.33 623v-4.8M1201.31 623v-4.8M1281.29 623v-4.8" stroke="#000" stroke-width="3.4" fill="none"/>
<path d="M801.2 623h7.4M801.2 501.3h7.4M801.2 379.6h7.4M801.2 257.9h7.4M801.2 136.2h7.4M801.2 562.15h4.8M801.2 440.45h4.8M801.2 318.75h4.8M801.2 197.05h4.8M801.2 75.35h4.8" stroke="#000" stroke-width="3.4" fill="none"/>
<text x="841.4" y="654.5" font-size="30" text-anchor="middle" font-family="'Liberation Sans', Arial, sans-serif" >2000</text>
<text x="921.38" y="654.5" font-size="30" text-anchor="middle" font-family="'Liberation Sans', Arial, sans-serif" >3000</text>
<text x="1001.36" y="654.5" font-size="30" text-anchor="middle" font-family="'Liberation Sans', Arial, sans-serif" >4000</text>
<text x="1081.34" y="654.5" font-size="30" text-anchor="middle" font-family="'Liberation Sans', Arial, sans-serif" >5000</text>
<text x="1161.32" y="654.5" font-size="30" text-anchor="middle" font-family="'Liberation Sans', Arial, sans-serif" >6000</text>
<text x="1241.3" y="654.5" font-size="30" text-anchor="middle" font-family="'Liberation Sans', Arial, sans-serif" >7000</text>
<text x="792" y="633.8" font-size="30" text-anchor="end" font-family="'Liberation Sans', Arial, sans-serif" >0.0</text>
<text x="792" y="512.1" font-size="30" text-anchor="end" font-family="'Liberation Sans', Arial, sans-serif" >0.1</text>
<text x="792" y="390.4" font-size="30" text-anchor="end" font-family="'Liberation Sans', Arial, sans-serif" >0.2</text>
<text x="792" y="268.7" font-size="30" text-anchor="end" font-family="'Liberation Sans', Arial, sans-serif" >0.3</text>
<text x="792" y="147" font-size="30" text-anchor="end" font-family="'Liberation Sans', Arial, sans-serif" >0.4</text>
<text x="1061.3" y="705.8" font-size="30" text-anchor="middle" font-family="'Liberation Sans', Arial, sans-serif" >Wavenumber (cm<tspan dy="-11" font-size="20">-1</tspan><tspan dy="11">)</tspan></text>
<text x="0" y="0" font-size="30" text-anchor="middle" font-family="'Liberation Sans', Arial, sans-serif" transform="translate(722.1 324) rotate(-90)">1-<tspan font-style="italic">T</tspan>/<tspan font-style="italic">T</tspan><tspan dy="7" font-size="20">0</tspan></text>
<path d="M1153.7 413.5H1194.9" stroke="#ee1c25" stroke-width="3.3" stroke-linecap="round"/>
<text x="1202.5" y="419.5" font-size="30" text-anchor="start" font-family="'Liberation Sans', Arial, sans-serif" >330 <tspan font-family="'Liberation Serif', 'Times New Roman', serif">Ω</tspan></text>
<path d="M1153.7 450.58H1194.9" stroke="#f26322" stroke-width="3.3" stroke-linecap="round"/>
<text x="1202.5" y="456.58" font-size="30" text-anchor="start" font-family="'Liberation Sans', Arial, sans-serif" >370 <tspan font-family="'Liberation Serif', 'Times New Roman', serif">Ω</tspan></text>
<path d="M1153.7 487.66H1194.9" stroke="#eca42a" stroke-width="3.3" stroke-linecap="round"/>
<text x="1202.5" y="493.66" font-size="30" text-anchor="start" font-family="'Liberation Sans', Arial, sans-serif" >425 <tspan font-family="'Liberation Serif', 'Times New Roman', serif">Ω</tspan></text>
<path d="M1153.7 524.74H1194.9" stroke="#e6c52e" stroke-width="3.3" stroke-linecap="round"/>
<text x="1202.5" y="530.74" font-size="30" text-anchor="start" font-family="'Liberation Sans', Arial, sans-serif" >485 <tspan font-family="'Liberation Serif', 'Times New Roman', serif">Ω</tspan></text>
<path d="M1153.7 561.82H1194.9" stroke="#a9b52f" stroke-width="3.3" stroke-linecap="round"/>
<text x="1202.5" y="567.82" font-size="30" text-anchor="start" font-family="'Liberation Sans', Arial, sans-serif" >555 <tspan font-family="'Liberation Serif', 'Times New Roman', serif">Ω</tspan></text>
<path d="M1153.7 598.9H1194.9" stroke="#4b782c" stroke-width="3.3" stroke-linecap="round"/>
<text x="1202.5" y="604.9" font-size="30" text-anchor="start" font-family="'Liberation Sans', Arial, sans-serif" >610 <tspan font-family="'Liberation Serif', 'Times New Roman', serif">Ω</tspan></text>
<text x="830.7" y="73.9" font-size="30" text-anchor="start" font-family="'Liberation Sans', Arial, sans-serif" >0.6 <tspan font-family="'Liberation Serif', 'Times New Roman', serif">μ</tspan>m ribbon // <tspan font-style="italic">c</tspan></text>
<text x="831.5" y="112.9" font-size="30" text-anchor="start" font-family="'Liberation Sans', Arial, sans-serif" ><tspan font-weight="bold">E</tspan> // <tspan font-style="italic">b</tspan></text>
<path d="M1154 42L1020 386" stroke="#000" stroke-width="2.6" stroke-dasharray="7 4.5" fill="none"/>
<path d="M1015 400L1010.8 377.5L1024.2 382.8Z" fill="#000"/>
<text x="950" y="441" font-size="30" text-anchor="start" font-family="'Liberation Sans', Arial, sans-serif" >Increasing <tspan font-style="italic">V</tspan><tspan dy="7" font-size="20">g</tspan></text>
<rect x="1479.4" y="26.1" width="520" height="596.2" fill="none" stroke="#000" stroke-width="3.6"/>
<path d="M1479.4 622.3v-7.4M1555.87 622.3v-7.4M1632.34 622.3v-7.4M1708.81 622.3v-7.4M1785.28 622.3v-7.4M1861.75 622.3v-7.4M1938.22 622.3v-7.4M1517.64 622.3v-4.8M1594.11 622.3v-4.8M1670.58 622.3v-4.8M1747.05 622.3v-4.8M1823.52 622.3v-4.8M1899.99 622.3v-4.8M1976.46 622.3v-4.8" stroke="#000" stroke-width="3.4" fill="none"/>
<path d="M1479.4 585.04h7.4M1479.4 510.51h7.4M1479.4 435.99h7.4M1479.4 361.46h7.4M1479.4 286.94h7.4M1479.4 212.41h7.4M1479.4 137.89h7.4M1479.4 63.36h7.4M1479.4 622.3h4.8M1479.4 547.77h4.8M1479.4 473.25h4.8M1479.4 398.72h4.8M1479.4 324.2h4.8M1479.4 249.68h4.8M1479.4 175.15h4.8M1479.4 100.62h4.8M1479.4 26.1h4.8" stroke="#000" stroke-width="3.4" fill="none"/>
<text x="1479.4" y="655" font-size="30" text-anchor="middle" font-family="'Liberation Sans', Arial, sans-serif" >300</text>
<text x="1555.87" y="655" font-size="30" text-anchor="middle" font-family="'Liberation Sans', Arial, sans-serif" >350</text>
<text x="1632.34" y="655" font-size="30" text-anchor="middle" font-family="'Liberation Sans', Arial, sans-serif" >400</text>
<text x="1708.81" y="655" font-size="30" text-anchor="middle" font-family="'Liberation Sans', Arial, sans-serif" >450</text>
<text x="1785.28" y="655" font-size="30" text-anchor="middle" font-family="'Liberation Sans', Arial, sans-serif" >500</text>
<text x="1861.75" y="655" font-size="30" text-anchor="middle" font-family="'Liberation Sans', Arial, sans-serif" >550</text>
<text x="1938.22" y="655" font-size="30" text-anchor="middle" font-family="'Liberation Sans', Arial, sans-serif" >600</text>
<text x="1469.5" y="595.84" font-size="30" text-anchor="end" font-family="'Liberation Sans', Arial, sans-serif" >4.4</text>
<text x="1469.5" y="521.31" font-size="30" text-anchor="end" font-family="'Liberation Sans', Arial, sans-serif" >4.6</text>
<text x="1469.5" y="446.79" font-size="30" text-anchor="end" font-family="'Liberation Sans', Arial, sans-serif" >4.8</text>
<text x="1469.5" y="372.26" font-size="30" text-anchor="end" font-family="'Liberation Sans', Arial, sans-serif" >5.0</text>
<text x="1469.5" y="297.74" font-size="30" text-anchor="end" font-family="'Liberation Sans', Arial, sans-serif" >5.2</text>
<text x="1469.5" y="223.21" font-size="30" text-anchor="end" font-family="'Liberation Sans', Arial, sans-serif" >5.4</text>
<text x="1469.5" y="148.69" font-size="30" text-anchor="end" font-family="'Liberation Sans', Arial, sans-serif" >5.6</text>
<text x="1469.5" y="74.16" font-size="30" text-anchor="end" font-family="'Liberation Sans', Arial, sans-serif" >5.8</text>
<text x="1740.3" y="705.7" font-size="30" text-anchor="middle" font-family="'Liberation Sans', Arial, sans-serif" >Resistance (<tspan font-family="'Liberation Serif', 'Times New Roman', serif">Ω</tspan>)</text>
<text x="0" y="0" font-size="30" text-anchor="middle" font-family="'Liberation Sans', Arial, sans-serif" transform="translate(1414.6 321.1) rotate(-90)">Frequency (10<tspan dy="-11" font-size="20">3</tspan><tspan dy="11"> cm</tspan><tspan dy="-11" font-size="20">-1</tspan><tspan dy="11">)</tspan></text>
<path d="M1529.58 90.31L1581.12 209.09M1592.66 230.01L1663.54 333.89M1678.22 352.81L1755.08 440.29M1773.66 454.8L1859.34 499M1881.95 505.6L1942.05 511.1M1942.37 515.16L1867.03 534.34M1844.55 532.18L1789.15 506.02M1768.84 493.52L1672.46 418.38M1658.39 399.92L1590.51 236.58M1581.05 214.52L1529.65 98.28" stroke="#e8380d" stroke-width="3.4" stroke-linecap="round" fill="none"/>
<circle cx="1524.8" cy="87.3" r="9.5" fill="url(#ballR)"/>
<circle cx="1585.9" cy="225.5" r="9.5" fill="url(#ballR)"/>
<circle cx="1663" cy="411" r="9.5" fill="url(#ballR)"/>
<circle cx="1778.3" cy="500.9" r="9.5" fill="url(#ballR)"/>
<circle cx="1855.4" cy="537.3" r="9.5" fill="url(#ballR)"/>
<circle cx="1954" cy="512.2" r="9.5" fill="url(#ballR)"/>
<circle cx="1870" cy="504.5" r="9.5" fill="url(#ballR)"/>
<circle cx="1763" cy="449.3" r="9.5" fill="url(#ballR)"/>
<circle cx="1670.3" cy="343.8" r="9.5" fill="url(#ballR)"/>
<circle cx="1585.9" cy="220.1" r="9.5" fill="url(#ballR)"/>
<circle cx="1524.8" cy="79.3" r="9.5" fill="url(#ballR)"/>
<path d="M1733 66.2H1747.5M1769.5 66.2H1784" stroke="#e8380d" stroke-width="3" stroke-linecap="round"/>
<circle cx="1758.5" cy="66.4" r="9.5" fill="url(#ballR)"/>
<text x="1790" y="72.9" font-size="30" text-anchor="start" font-family="'Liberation Sans', Arial, sans-serif" >0.6 <tspan font-family="'Liberation Serif', 'Times New Roman', serif">μ</tspan>m ribbon</text>
<text x="1734.7" y="113.5" font-size="30" text-anchor="start" font-family="'Liberation Sans', Arial, sans-serif" ><tspan font-weight="bold">E</tspan> // <tspan font-style="italic">b</tspan></text>
<path d="M1619.4 158.2L1843.33 439.06" stroke="#000" stroke-width="2.6" stroke-dasharray="7 4.5" fill="none"/>
<path d="M1855.8 454.7L1837 441.55L1847.17 433.45Z" fill="#000"/>
<path d="M1631.7 536.6L1529.69 211.88" stroke="#000" stroke-width="2.6" stroke-dasharray="7 4.5" fill="none"/>
<path d="M1523.7 192.8L1536.49 211.84L1524.09 215.74Z" fill="#000"/>
<text x="1732.9" y="280.8" font-size="30" text-anchor="start" font-family="'Liberation Sans', Arial, sans-serif" >Increasing <tspan font-style="italic">V</tspan><tspan dy="7" font-size="20">g</tspan></text>
<text x="1548.4" y="566.8" font-size="30" text-anchor="start" font-family="'Liberation Sans', Arial, sans-serif" >Decreasing <tspan font-style="italic">V</tspan><tspan dy="7" font-size="20">g</tspan></text>
<path d="M97.5 1269.48 98.8 1270.14 100.1 1270.39 101.4 1270.32 102.7 1269.69 104 1270.66 105.3 1270.57 106.6 1270.65 107.9 1270.76 109.2 1271.02 110.5 1271.64 111.8 1270.48 113.1 1270.9 114.4 1271.8 115.7 1270.55 117 1271.44 118.3 1271.14 119.6 1271.59 120.9 1271.98 122.2 1271.06 123.5 1271.66 124.8 1271.64 126.1 1272.35 127.4 1272.32 128.7 1273.5 130 1272.73 131.3 1273.98 132.6 1273.28 133.9 1273.88 135.2 1274.1 136.5 1274.45 137.8 1274.33 139.1 1275.4 140.4 1275.86 141.7 1276.24 143 1276.87 144.3 1276.69 145.6 1277.39 146.9 1277.69 148.2 1277.67 149.5 1279.05 150.8 1279.03 152.1 1279.69 153.4 1281.12 154.7 1280.56 156 1280.83 157.3 1281.55 158.6 1281.91 159.9 1282.45 161.2 1281.7 162.5 1283.03 163.8 1282.45 165.1 1282.27 166.4 1282.63 167.7 1283.79 169 1283.84 170.3 1284.26 171.6 1283.41 172.9 1283.78 174.2 1283.45 175.5 1283.11 176.8 1283.94 178.1 1284.57 179.4 1284.22 180.7 1283.19 182 1283.85 183.3 1282.81 184.6 1282.91 185.9 1282.81 187.2 1281.89 188.5 1281.29 189.8 1281.56 191.1 1280.74 192.4 1280.1 193.7 1280.15 195 1279.26 196.3 1279 197.6 1277.86 198.9 1278.06 200.2 1276.75 201.5 1276.43 202.8 1275.19 204.1 1275.98 205.4 1274.92 206.7 1274.51 208 1272.96 209.3 1273.22 210.6 1272.42 211.9 1272.58 213.2 1270.78 214.5 1271.07 215.8 1270.79 217.1 1269.16 218.4 1269.11 219.7 1267.92 221 1267.75 222.3 1267.19 223.6 1266.92 224.9 1265.67 226.2 1264.54 227.5 1264.34 228.8 1263.31 230.1 1263 231.4 1261.43 232.7 1261.48 234 1260.11 235.3 1259.29 236.6 1258.77 237.9 1257.2 239.2 1256.32 240.5 1255.88 241.8 1254.67 243.1 1253.75 244.4 1252.54 245.7 1251.53 247 1250.98 248.3 1250.37 249.6 1247.74 250.9 1247.89 252.2 1246.37 253.5 1245.4 254.8 1243.74 256.1 1242.12 257.4 1241.15 258.7 1239.6 260 1238.05 261.3 1237.55 262.6 1236.49 263.9 1235.04 265.2 1234.06 266.5 1232.1 267.8 1232.1 269.1 1230.38 270.4 1229.3 271.7 1228.43 273 1226.67 274.3 1226.9 275.6 1225.09 276.9 1223.86 278.2 1222.13 279.5 1220.48 280.8 1219.73 282.1 1217.85 283.4 1216.92 284.7 1215.52 286 1214.54 287.3 1212.69 288.6 1211.03 289.9 1210.01 291.2 1207.69 292.5 1205.77 293.8 1203.94 295.1 1202.88 296.4 1200.2 297.7 1197.8 299 1194.98 300.3 1193.12 301.6 1191.4 302.9 1189.14 304.2 1187.2 305.5 1183.67 306.8 1181.71 308.1 1179.56 309.4 1175.42 310.7 1174.96 312 1170.88 313.3 1168.37 314.6 1166.81 315.9 1164.11 317.2 1162.04 318.5 1159.41 319.8 1156.92 321.1 1154.46 322.4 1151.95 323.7 1150.39 325 1147.1 326.3 1145.75 327.6 1144.07 328.9 1141.1 330.2 1139.9 331.5 1137.88 332.8 1135.4 334.1 1133.21 335.4 1131.45 336.7 1129.39 338 1126.89 339.3 1125.81 340.6 1123.43 341.9 1121.04 343.2 1119.03 344.5 1116.77 345.8 1113.31 347.1 1112.79 348.4 1108.66 349.7 1107.01 351 1103.98 352.3 1102.29 353.6 1099.69 354.9 1097.06 356.2 1093.1 357.5 1092.18 358.8 1089.35 360.1 1085.73 361.4 1084.75 362.7 1081.42 364 1078.59 365.3 1076.59 366.6 1073.64 367.9 1071.58 369.2 1068.8 370.5 1066.17 371.8 1063.72 373.1 1062.32 374.4 1059.79 375.7 1057.25 377 1055.22 378.3 1053.02 379.6 1052.35 380.9 1049.53 382.2 1047.43 383.5 1046.03 384.8 1043.04 386.1 1040.8 387.4 1039 388.7 1037.2 390 1034.88 391.3 1032.6 392.6 1030.55 393.9 1027.92 395.2 1025.22 396.5 1023.61 397.8 1020.68 399.1 1018.15 400.4 1015.96 401.7 1013.34 403 1010.02 404.3 1007.55 405.6 1004.57 406.9 1001.96 408.2 999.9 409.5 996.78 410.8 993.79 412.1 990.81 413.4 989.15 414.7 985.53 416 982.95 417.3 979.92 418.6 976.61 419.9 974.31 421.2 971.22 422.5 968.8 423.8 965.5 425.1 961.68 426.4 959.19 427.7 956.19 429 953.19 430.3 949.64 431.6 946.36 432.9 943.9 434.2 940.88 435.5 936.88 436.8 934.89 438.1 930.93 439.4 926.95 440.7 924.6 442 919.47 443.3 916.16 444.6 912.58 445.9 910.04 447.2 905.63 448.5 902.77 449.8 899.04 451.1 895.19 452.4 892.07 453.7 888.09 455 885.67 456.3 881.58 457.6 878.43 458.9 876.02 460.2 872.47 461.5 870.6 462.8 867.56 464.1 863.47 465.4 861.63 466.7 858.88 468 857.35 469.3 853.61 470.6 851.11 471.9 848.9 473.2 846.55 474.5 843.97 475.8 842.29 477.1 839.8 478.4 837.62 479.7 836.73 481 834.22 482.3 831.77 483.6 829.69 484.9 828.27 486.2 825.95 487.5 824.09 488.8 823.52 490.1 821.25 491.4 819.5 492.7 818.5 494 816.87 495.3 816.17 496.6 816.3 497.9 814.61 499.2 813.63 500.5 812.71 501.8 813.24 503.1 812.28 504.4 812.29 505.7 810.72 507 811.44 508.3 811.78 509.6 812.14 510.9 812.03 512.2 811.75 513.5 813.06 514.8 812.22 516.1 810.74 517.4 811.55 518.7 812.75 520 813.2 521.3 812.05 522.6 812.36 523.9 814.09 525.2 814.38 526.5 814.93 527.8 815.78 529.1 815.68 530.4 815.39 531.7 818.15 533 818.54 534.3 819.94 535.6 819.19 536.9 819.44 538.2 820.12 539.5 820.77 540.8 818.71 542.1 821.33 543.4 821.66 544.7 823.17 546 823.68 547.3 823.42 548.6 823.79 549.9 823.07 551.2 825.84 552.5 825.23 553.8 825.83 555.1 828.37 556.4 828.7 557.7 826.91 559 830.39 560.3 829.14 561.6 828.31 562.9 826.96 564.2 827.18 565.5 830.55 566.8 825.68 568.1 832.44 569.4 830.85 570.7 829.17 572 833.12 573.3 830.77 574.6 828.11 575.9 829.45 577.2 828.82 578.5 828.77 579.8 835.53 581.1 831.93 582.4 831.56 583.7 833.94 585 833.74 586.3 831.19 587.6 830.74 588.9 828.77 590.2 835.78 591.5 833.33 592.8 836.44 594.1 834.67 595.4 831.59 596.7 833.82 598 839.56 599.3 834.58 600.6 837.88 601.9 830.72 603.2 835.31 604.5 840.52 605.8 833.12 607.1 841.81 608.4 837.95 609.7 838.13 611 844.59 612.3 839.48 613.6 844.84 614.9 841.01 616.2 843.96" fill="none" stroke="#f00a1e" stroke-width="3.4" stroke-linejoin="round" stroke-linecap="round" />
<path d="M97.5 1273.15 98.8 1272.59 100.1 1273.8 101.4 1273.9 102.7 1273.46 104 1273.82 105.3 1274.48 106.6 1274.25 107.9 1274.17 109.2 1274.24 110.5 1273.63 111.8 1274.55 113.1 1273.48 114.4 1274.18 115.7 1274.25 117 1273.79 118.3 1274.65 119.6 1275.57 120.9 1274.81 122.2 1274.56 123.5 1275.21 124.8 1275.78 126.1 1275.63 127.4 1275.69 128.7 1275.21 130 1276.23 131.3 1276.4 132.6 1277 133.9 1277.32 135.2 1277.25 136.5 1276.52 137.8 1276.96 139.1 1277.47 140.4 1278.48 141.7 1278.39 143 1279.74 144.3 1279.67 145.6 1280.13 146.9 1280.71 148.2 1280.93 149.5 1280.53 150.8 1282.64 152.1 1282.56 153.4 1282.92 154.7 1282.2 156 1281.98 157.3 1282.38 158.6 1282.82 159.9 1283.93 161.2 1284.19 162.5 1284.68 163.8 1285.23 165.1 1284.73 166.4 1284.87 167.7 1284.75 169 1284.94 170.3 1284.72 171.6 1285.59 172.9 1285.59 174.2 1285.31 175.5 1285.13 176.8 1285.66 178.1 1285.96 179.4 1285.28 180.7 1285.2 182 1284.61 183.3 1284.5 184.6 1284.19 185.9 1283.89 187.2 1283.41 188.5 1283.48 189.8 1283.49 191.1 1282.05 192.4 1282.66 193.7 1281.38 195 1280.91 196.3 1279.61 197.6 1278.97 198.9 1279.87 200.2 1278.51 201.5 1278.81 202.8 1277.92 204.1 1277.46 205.4 1277.39 206.7 1276.2 208 1274.2 209.3 1274.34 210.6 1275.01 211.9 1274.94 213.2 1273.46 214.5 1272.62 215.8 1271.72 217.1 1271.98 218.4 1270.29 219.7 1269.89 221 1269.84 222.3 1269.13 223.6 1268.25 224.9 1268.11 226.2 1266.33 227.5 1265.58 228.8 1265.15 230.1 1264.56 231.4 1263.57 232.7 1263.79 234 1261.78 235.3 1261.48 236.6 1260.06 237.9 1259.59 239.2 1258.35 240.5 1257.47 241.8 1257.44 243.1 1255.59 244.4 1255.5 245.7 1253.35 247 1252.4 248.3 1252.02 249.6 1249.28 250.9 1248.5 252.2 1248.09 253.5 1247.12 254.8 1245.97 256.1 1244.35 257.4 1242.63 258.7 1242.44 260 1241.04 261.3 1239.09 262.6 1238.42 263.9 1237.97 265.2 1235.99 266.5 1234.19 267.8 1233.33 269.1 1232.14 270.4 1231.25 271.7 1230.29 273 1228.23 274.3 1227.11 275.6 1226.62 276.9 1225.21 278.2 1224.2 279.5 1221.59 280.8 1220.47 282.1 1219.98 283.4 1217.67 284.7 1216.8 286 1215.14 287.3 1213.29 288.6 1212.72 289.9 1210.41 291.2 1208.5 292.5 1206.89 293.8 1205.19 295.1 1202.38 296.4 1200.63 297.7 1198.28 299 1195.68 300.3 1194.79 301.6 1192.64 302.9 1190.12 304.2 1186.32 305.5 1184.83 306.8 1182.44 308.1 1179.34 309.4 1177.43 310.7 1174 312 1171.48 313.3 1169.07 314.6 1166.61 315.9 1164 317.2 1162.47 318.5 1159.14 319.8 1157.08 321.1 1154.72 322.4 1153.8 323.7 1150.19 325 1148.66 326.3 1147.14 327.6 1143.65 328.9 1141.7 330.2 1139.84 331.5 1137.31 332.8 1136.39 334.1 1133.54 335.4 1132.15 336.7 1129.83 338 1127.5 339.3 1125.81 340.6 1123.1 341.9 1121.56 343.2 1118.3 344.5 1116.34 345.8 1114.98 347.1 1111.19 348.4 1110.02 349.7 1107.23 351 1104.73 352.3 1102.19 353.6 1100.58 354.9 1096.77 356.2 1095.28 357.5 1092.55 358.8 1089.56 360.1 1087.13 361.4 1084.9 362.7 1081.74 364 1078.76 365.3 1077.04 366.6 1074.02 367.9 1071.73 369.2 1069.5 370.5 1067.42 371.8 1065.56 373.1 1062.61 374.4 1060.28 375.7 1058.43 377 1056.08 378.3 1053.11 379.6 1051.55 380.9 1049.23 382.2 1048.08 383.5 1046.32 384.8 1043.87 386.1 1041.2 387.4 1039.95 388.7 1037.04 390 1035.43 391.3 1032.56 392.6 1030.19 393.9 1027.83 395.2 1026.06 396.5 1023.31 397.8 1021.32 399.1 1018.02 400.4 1016.27 401.7 1013.18 403 1011.4 404.3 1008.65 405.6 1005.41 406.9 1002.85 408.2 1000.17 409.5 997.52 410.8 994.4 412.1 992.21 413.4 988.67 414.7 985.19 416 983.31 417.3 980.27 418.6 977.81 419.9 974.8 421.2 971.68 422.5 968.75 423.8 965.83 425.1 962.54 426.4 959.35 427.7 956.58 429 953.96 430.3 950.04 431.6 947.87 432.9 944.56 434.2 941.82 435.5 938.29 436.8 935.43 438.1 932 439.4 929.35 440.7 925.24 442 921.9 443.3 918.62 444.6 914.39 445.9 911.33 447.2 909.08 448.5 905.3 449.8 901.77 451.1 898.92 452.4 895.1 453.7 891.87 455 888.71 456.3 884.99 457.6 883.22 458.9 879.81 460.2 877.05 461.5 874.24 462.8 871.52 464.1 868.31 465.4 866.97 466.7 865.49 468 862.61 469.3 859.74 470.6 857.21 471.9 855.46 473.2 853.52 474.5 851.28 475.8 849.78 477.1 847.14 478.4 846.32 479.7 844.29 481 842.46 482.3 841.1 483.6 839.92 484.9 838.69 486.2 836.98 487.5 835.89 488.8 835.52 490.1 832.31 491.4 830.99 492.7 831.05 494 829.57 495.3 829.36 496.6 827.72 497.9 828.14 499.2 828.28 500.5 827.65 501.8 825.86 503.1 825.99 504.4 826.54 505.7 827.13 507 825.33 508.3 825.52 509.6 827.11 510.9 826.31 512.2 826.11 513.5 828.04 514.8 826.31 516.1 827.49 517.4 829.27 518.7 828.39 520 830.03 521.3 828.74 522.6 830.96 523.9 831.18 525.2 832.82 526.5 831.65 527.8 832.18 529.1 833.1 530.4 834.96 531.7 833.81 533 835.16 534.3 838.18 535.6 837.63 536.9 838.28 538.2 837.52 539.5 839.82 540.8 838.06 542.1 838.34 543.4 839.74 544.7 843.51 546 842.63 547.3 841.88 548.6 843.35 549.9 845.15 551.2 846.83 552.5 843.35 553.8 848.21 555.1 848.07 556.4 845.97 557.7 846.75 559 848.46 560.3 847.5 561.6 848.45 562.9 846.7 564.2 845.6 565.5 853.14 566.8 849.46 568.1 849.78 569.4 850.53 570.7 852.32 572 851.84 573.3 848.38 574.6 850.38 575.9 850.97 577.2 852.59 578.5 850.07 579.8 852.32 581.1 852.24 582.4 854.95 583.7 846.63 585 852.72 586.3 853.58 587.6 854.66 588.9 853.45 590.2 851.91 591.5 855.8 592.8 855.53 594.1 853.05 595.4 852.22 596.7 857.46 598 854.4 599.3 858.81 600.6 861.66 601.9 858.86 603.2 859.55 604.5 859.92 605.8 864.04 607.1 864.85 608.4 861.96 609.7 864.66 611 863.55 612.3 862.9 613.6 867.58 614.9 866.04 616.2 864.75" fill="none" stroke="#f22828" stroke-width="3.4" stroke-linejoin="round" stroke-linecap="round" />
<path d="M97.5 1277.28 98.8 1277.98 100.1 1277.45 101.4 1276.56 102.7 1276.81 104 1277.5 105.3 1277.14 106.6 1277.75 107.9 1276.39 109.2 1278.28 110.5 1278.25 111.8 1276.83 113.1 1277.43 114.4 1277.38 115.7 1277.57 117 1278.28 118.3 1277.72 119.6 1277.64 120.9 1278.49 122.2 1278.89 123.5 1278.2 124.8 1278.66 126.1 1277.99 127.4 1279.23 128.7 1279.95 130 1279.31 131.3 1279.17 132.6 1278.47 133.9 1279.51 135.2 1279.01 136.5 1280.65 137.8 1281.47 139.1 1281.68 140.4 1281.52 141.7 1282.09 143 1281.98 144.3 1282.83 145.6 1283.27 146.9 1283.58 148.2 1282.75 149.5 1284.5 150.8 1284.96 152.1 1284.74 153.4 1285.59 154.7 1286.03 156 1284.88 157.3 1286.47 158.6 1285.96 159.9 1285.81 161.2 1286.57 162.5 1286.27 163.8 1286.56 165.1 1286.44 166.4 1286.72 167.7 1286.58 169 1286.97 170.3 1286.82 171.6 1286.77 172.9 1287.94 174.2 1287.49 175.5 1287.67 176.8 1288.24 178.1 1287.66 179.4 1287.23 180.7 1286.54 182 1287.22 183.3 1286.82 184.6 1286.8 185.9 1285.95 187.2 1285.49 188.5 1284.32 189.8 1285.15 191.1 1283.75 192.4 1283.78 193.7 1283.77 195 1283.09 196.3 1282.51 197.6 1282.25 198.9 1280.68 200.2 1280.99 201.5 1281.01 202.8 1280.41 204.1 1278.62 205.4 1279.2 206.7 1278.4 208 1277.19 209.3 1276.46 210.6 1276.48 211.9 1276.66 213.2 1275.7 214.5 1274.46 215.8 1274.37 217.1 1274.2 218.4 1273.03 219.7 1272.2 221 1271.96 222.3 1270.08 223.6 1270.54 224.9 1268.97 226.2 1268.81 227.5 1268.26 228.8 1267.24 230.1 1266.16 231.4 1265.51 232.7 1265.24 234 1263.39 235.3 1262.75 236.6 1262.44 237.9 1261.79 239.2 1260.52 240.5 1259.37 241.8 1259.01 243.1 1257.53 244.4 1257.66 245.7 1256.29 247 1255.49 248.3 1253.07 249.6 1252.18 250.9 1251.13 252.2 1249.52 253.5 1248.68 254.8 1248.17 256.1 1246.05 257.4 1245.17 258.7 1244.78 260 1242.99 261.3 1241.84 262.6 1240.37 263.9 1238.82 265.2 1237.71 266.5 1236.76 267.8 1235.12 269.1 1234.17 270.4 1232.69 271.7 1231.59 273 1231.09 274.3 1229.35 275.6 1227.15 276.9 1226.34 278.2 1225.93 279.5 1224.55 280.8 1221.75 282.1 1221.06 283.4 1219.39 284.7 1216.71 286 1216.47 287.3 1215.68 288.6 1212.78 289.9 1211.3 291.2 1210.16 292.5 1207.69 293.8 1205.77 295.1 1204.09 296.4 1201.18 297.7 1199.9 299 1196.79 300.3 1195.11 301.6 1193.08 302.9 1191.04 304.2 1187.44 305.5 1185.4 306.8 1182.88 308.1 1179.37 309.4 1177.61 310.7 1175.2 312 1172.8 313.3 1170.92 314.6 1167.54 315.9 1164.97 317.2 1162.51 318.5 1160.14 319.8 1158.02 321.1 1156.24 322.4 1152.79 323.7 1151.09 325 1147.8 326.3 1145.99 327.6 1144.72 328.9 1141.56 330.2 1140.61 331.5 1138.97 332.8 1135.89 334.1 1133.88 335.4 1132.14 336.7 1129.81 338 1127.92 339.3 1125.51 340.6 1124.11 341.9 1121.69 343.2 1119.34 344.5 1116.11 345.8 1114.58 347.1 1112.64 348.4 1110.61 349.7 1107.59 351 1105.74 352.3 1103.38 353.6 1100.2 354.9 1098.28 356.2 1095.31 357.5 1092.31 358.8 1090.22 360.1 1088.26 361.4 1085.26 362.7 1082.51 364 1080.33 365.3 1077.73 366.6 1074.98 367.9 1071.56 369.2 1068.8 370.5 1066.82 371.8 1065.97 373.1 1063.23 374.4 1059.97 375.7 1058.86 377 1055.72 378.3 1054.35 379.6 1052.61 380.9 1050.08 382.2 1048.46 383.5 1046.45 384.8 1043.23 386.1 1041.89 387.4 1040.06 388.7 1037.48 390 1034.93 391.3 1034 392.6 1031.18 393.9 1028.46 395.2 1025.95 396.5 1023.95 397.8 1022.12 399.1 1018.95 400.4 1016.97 401.7 1014.43 403 1011.73 404.3 1009.34 405.6 1006.85 406.9 1003.86 408.2 1001.08 409.5 999.46 410.8 997.19 412.1 994.16 413.4 990.84 414.7 988.55 416 985.57 417.3 982.42 418.6 979.8 419.9 977.17 421.2 974.82 422.5 971.17 423.8 969.26 425.1 965.79 426.4 963.31 427.7 960.17 429 956.73 430.3 953.57 431.6 950.36 432.9 946.84 434.2 943.33 435.5 940 436.8 935.55 438.1 932.01 439.4 927.78 440.7 923.28 442 919.87 443.3 916.27 444.6 912.91 445.9 909.12 447.2 906.83 448.5 903.27 449.8 900.71 451.1 898.4 452.4 895.57 453.7 892.58 455 889.95 456.3 887.93 457.6 885.6 458.9 884.71 460.2 881.23 461.5 879.13 462.8 878.94 464.1 875.5 465.4 874.35 466.7 873.24 468 871.47 469.3 870.1 470.6 869.22 471.9 868.19 473.2 865.93 474.5 864.77 475.8 863.31 477.1 862.14 478.4 861.21 479.7 860.62 481 859.51 482.3 859.08 483.6 857.95 484.9 856.89 486.2 856.47 487.5 855.78 488.8 854.96 490.1 854.33 491.4 854.22 492.7 852.71 494 853.4 495.3 852.16 496.6 852.08 497.9 852.63 499.2 852.31 500.5 850.62 501.8 852.02 503.1 852.91 504.4 851.81 505.7 852.6 507 854.37 508.3 853.18 509.6 855.96 510.9 854.39 512.2 855.46 513.5 856.17 514.8 856.8 516.1 858.33 517.4 858.64 518.7 859.04 520 859.69 521.3 858.71 522.6 860.2 523.9 862.43 525.2 860.97 526.5 864.14 527.8 863.33 529.1 863.19 530.4 865.78 531.7 866.55 533 865.88 534.3 866.87 535.6 867.46 536.9 868.67 538.2 867.65 539.5 870.53 540.8 873.88 542.1 872.65 543.4 874.71 544.7 876.19 546 876.18 547.3 876.09 548.6 876.75 549.9 877.46 551.2 879.42 552.5 879.13 553.8 881.49 555.1 883.74 556.4 882.5 557.7 880.13 559 883.52 560.3 883.24 561.6 883.45 562.9 883.41 564.2 884.68 565.5 891.19 566.8 891.58 568.1 889.66 569.4 885.28 570.7 887.66 572 889.78 573.3 887.48 574.6 889.7 575.9 891.05 577.2 892.32 578.5 890.43 579.8 890.54 581.1 889.65 582.4 889.75 583.7 891.1 585 890.89 586.3 893.24 587.6 892.55 588.9 891.62 590.2 895.88 591.5 891.92 592.8 894.37 594.1 894.32 595.4 891.77 596.7 893.25 598 893.89 599.3 891.82 600.6 889.84 601.9 900.2 603.2 891.53 604.5 892.37 605.8 892.52 607.1 893.19 608.4 895.64 609.7 895.5 611 891.51 612.3 894.24 613.6 895.18 614.9 892.64 616.2 896.59" fill="none" stroke="#f05a2d" stroke-width="3.4" stroke-linejoin="round" stroke-linecap="round" />
<path d="M97.5 1281.5 98.8 1280.43 100.1 1281.32 101.4 1280.51 102.7 1281.56 104 1280.42 105.3 1280.85 106.6 1280.95 107.9 1280.33 109.2 1281.73 110.5 1280.72 111.8 1280.91 113.1 1281.33 114.4 1282 115.7 1281.4 117 1282.75 118.3 1281.95 119.6 1281.94 120.9 1282.38 122.2 1282.23 123.5 1281.92 124.8 1282.27 126.1 1282.71 127.4 1283.46 128.7 1283 130 1283.21 131.3 1282.14 132.6 1283.21 133.9 1283.53 135.2 1284.58 136.5 1284.78 137.8 1284.41 139.1 1284.9 140.4 1284.95 141.7 1284.99 143 1285.66 144.3 1285.83 145.6 1286.48 146.9 1286.97 148.2 1286.89 149.5 1287.78 150.8 1287.05 152.1 1287.82 153.4 1288.14 154.7 1287.42 156 1288.68 157.3 1288.85 158.6 1289.41 159.9 1288.72 161.2 1289.12 162.5 1289.24 163.8 1288.31 165.1 1289.27 166.4 1288.56 167.7 1289.42 169 1289.68 170.3 1289.53 171.6 1288.53 172.9 1290.14 174.2 1289.63 175.5 1289.95 176.8 1289.15 178.1 1289.19 179.4 1290.18 180.7 1288.98 182 1288.67 183.3 1288.45 184.6 1288.79 185.9 1287.32 187.2 1287.54 188.5 1286.92 189.8 1288.05 191.1 1286.99 192.4 1286.1 193.7 1285.69 195 1285 196.3 1284.41 197.6 1284.01 198.9 1284.36 200.2 1282.89 201.5 1282.36 202.8 1282.06 204.1 1282.04 205.4 1281.02 206.7 1279.77 208 1279.72 209.3 1279.14 210.6 1277.99 211.9 1277.71 213.2 1277.65 214.5 1276.72 215.8 1277.07 217.1 1275.85 218.4 1274.83 219.7 1274.33 221 1273.25 222.3 1272.64 223.6 1272.55 224.9 1271.41 226.2 1269.8 227.5 1269.26 228.8 1269.32 230.1 1267.71 231.4 1267.24 232.7 1267.02 234 1265.55 235.3 1264.65 236.6 1263.71 237.9 1263.47 239.2 1261.76 240.5 1260.6 241.8 1260.24 243.1 1259.96 244.4 1258.39 245.7 1257.88 247 1256.67 248.3 1254.53 249.6 1253.95 250.9 1252.74 252.2 1251.64 253.5 1251.02 254.8 1249.92 256.1 1248.41 257.4 1247.41 258.7 1245.37 260 1244.77 261.3 1242.69 262.6 1241.76 263.9 1240.1 265.2 1239.97 266.5 1237.97 267.8 1237.25 269.1 1235.05 270.4 1234.47 271.7 1233.45 273 1231.83 274.3 1230.56 275.6 1229.21 276.9 1227.76 278.2 1226.24 279.5 1224.62 280.8 1224.03 282.1 1222.11 283.4 1220.64 284.7 1219.22 286 1216.93 287.3 1215.27 288.6 1213.62 289.9 1213.33 291.2 1210.65 292.5 1209.26 293.8 1206.16 295.1 1204.77 296.4 1202.86 297.7 1200.34 299 1198.81 300.3 1195.81 301.6 1193.52 302.9 1191.61 304.2 1189.33 305.5 1186.23 306.8 1183.32 308.1 1180.82 309.4 1178.91 310.7 1175.3 312 1172.75 313.3 1170.21 314.6 1168.57 315.9 1165.79 317.2 1162.73 318.5 1160.38 319.8 1158.34 321.1 1155.81 322.4 1153.33 323.7 1151.22 325 1149.34 326.3 1147 327.6 1145.14 328.9 1142.88 330.2 1140.63 331.5 1139.07 332.8 1137.01 334.1 1133.83 335.4 1132.77 336.7 1130.35 338 1128.01 339.3 1126.7 340.6 1124.35 341.9 1122.33 343.2 1119.65 344.5 1118.5 345.8 1115.67 347.1 1112.88 348.4 1111.68 349.7 1108.05 351 1106.68 352.3 1103.38 353.6 1100.73 354.9 1098.15 356.2 1095.47 357.5 1092.94 358.8 1090.94 360.1 1088.15 361.4 1084.87 362.7 1083.13 364 1079.8 365.3 1078.17 366.6 1075.22 367.9 1072.84 369.2 1071.04 370.5 1067.17 371.8 1066.75 373.1 1064.85 374.4 1061.7 375.7 1059.26 377 1056.54 378.3 1055.23 379.6 1052.55 380.9 1050.43 382.2 1048.13 383.5 1047.07 384.8 1044.76 386.1 1041.64 387.4 1040.15 388.7 1037.47 390 1036.33 391.3 1033.29 392.6 1031.42 393.9 1029.4 395.2 1026.73 396.5 1023.91 397.8 1021.93 399.1 1019.16 400.4 1018.05 401.7 1015.44 403 1011.81 404.3 1009.67 405.6 1008.79 406.9 1005.61 408.2 1002.7 409.5 1000.78 410.8 998 412.1 995.67 413.4 992.58 414.7 990.92 416 987.68 417.3 984.39 418.6 982.25 419.9 979.43 421.2 977.04 422.5 974.24 423.8 971.38 425.1 968.13 426.4 965.77 427.7 962.52 429 960.6 430.3 956.38 431.6 953.66 432.9 950.2 434.2 946.45 435.5 943.43 436.8 939.66 438.1 935.85 439.4 932.73 440.7 928.13 442 925.08 443.3 921.59 444.6 918.57 445.9 915.05 447.2 912.6 448.5 911.22 449.8 908.06 451.1 906.96 452.4 905.07 453.7 902.13 455 900.65 456.3 898.77 457.6 897.66 458.9 896.32 460.2 894.18 461.5 892.78 462.8 891.62 464.1 889.38 465.4 888.6 466.7 887.87 468 886.13 469.3 886.04 470.6 883.82 471.9 883.18 473.2 882.4 474.5 881.8 475.8 880.28 477.1 879.81 478.4 879.51 479.7 878.82 481 878.56 482.3 877.44 483.6 876.84 484.9 875.55 486.2 875.84 487.5 875.85 488.8 875.01 490.1 875.27 491.4 875.71 492.7 874.9 494 875.62 495.3 875.62 496.6 875.43 497.9 876.14 499.2 876.65 500.5 875.76 501.8 878.14 503.1 876.62 504.4 878.57 505.7 878.68 507 879.42 508.3 880.67 509.6 880.98 510.9 881.84 512.2 882.65 513.5 882.67 514.8 884.2 516.1 883.81 517.4 885.86 518.7 885.12 520 887.11 521.3 887.21 522.6 889.8 523.9 888.39 525.2 891.26 526.5 890.6 527.8 890.24 529.1 894.14 530.4 894.65 531.7 896.35 533 895.08 534.3 897.6 535.6 899.4 536.9 899.01 538.2 903.31 539.5 900.81 540.8 903.46 542.1 902.26 543.4 903.51 544.7 905.01 546 906.39 547.3 907.76 548.6 909.04 549.9 906.24 551.2 910.29 552.5 910.18 553.8 909.19 555.1 911.58 556.4 914.52 557.7 915.04 559 912.53 560.3 914.64 561.6 915.4 562.9 919.01 564.2 916.81 565.5 916.41 566.8 918.12 568.1 914.13 569.4 919.17 570.7 921.17 572 920.51 573.3 916.61 574.6 925.18 575.9 921.97 577.2 920.86 578.5 921.24 579.8 923.48 581.1 921.78 582.4 922.12 583.7 924.08 585 920.71 586.3 925.13 587.6 921.64 588.9 925.12 590.2 926.86 591.5 925.92 592.8 926.87 594.1 924.18 595.4 923.3 596.7 927.89 598 924.95 599.3 923.13 600.6 923.89 601.9 923.38 603.2 927.18 604.5 926.79 605.8 929.14 607.1 922 608.4 925.15 609.7 924.65 611 918.78 612.3 924.4 613.6 926.2 614.9 921.72 616.2 920.15" fill="none" stroke="#f08c2d" stroke-width="3.4" stroke-linejoin="round" stroke-linecap="round" />
<path d="M97.5 1297.22 98.8 1297.14 100.1 1296.52 101.4 1296.72 102.7 1296.64 104 1296.59 105.3 1297.46 106.6 1296.27 107.9 1296.19 109.2 1296.03 110.5 1296.63 111.8 1295.89 113.1 1295.96 114.4 1296.32 115.7 1296.19 117 1295.33 118.3 1296.51 119.6 1295.74 120.9 1295.96 122.2 1295.61 123.5 1296.15 124.8 1295.15 126.1 1294.95 127.4 1295.34 128.7 1295.7 130 1295 131.3 1295.34 132.6 1295.56 133.9 1294.16 135.2 1295.35 136.5 1295.18 137.8 1294.39 139.1 1294.52 140.4 1294.27 141.7 1294.8 143 1294.08 144.3 1294.59 145.6 1294.86 146.9 1293.38 148.2 1294.29 149.5 1293.99 150.8 1293.73 152.1 1294.07 153.4 1293.72 154.7 1292.99 156 1293.32 157.3 1293.47 158.6 1293.03 159.9 1292.63 161.2 1294.21 162.5 1293.6 163.8 1293.37 165.1 1292.66 166.4 1291.49 167.7 1292.1 169 1292.27 170.3 1291.61 171.6 1291.34 172.9 1291.54 174.2 1292.11 175.5 1291.06 176.8 1290.73 178.1 1290.1 179.4 1290.85 180.7 1290.04 182 1289.59 183.3 1289.17 184.6 1288.74 185.9 1288.8 187.2 1289.29 188.5 1288.06 189.8 1287.92 191.1 1286.97 192.4 1287.08 193.7 1285.91 195 1286.82 196.3 1285.53 197.6 1285.58 198.9 1284.99 200.2 1285.14 201.5 1284.32 202.8 1283.88 204.1 1282.4 205.4 1282.15 206.7 1281.65 208 1281.19 209.3 1280.73 210.6 1281 211.9 1280.04 213.2 1279.53 214.5 1278.53 215.8 1277.91 217.1 1277.08 218.4 1277.51 219.7 1276.38 221 1275.93 222.3 1274.96 223.6 1273.67 224.9 1273.26 226.2 1271.51 227.5 1271.97 228.8 1270.81 230.1 1270.03 231.4 1269.1 232.7 1268.44 234 1267.16 235.3 1266.37 236.6 1265.12 237.9 1264.39 239.2 1263.72 240.5 1263.05 241.8 1261.51 243.1 1260.05 244.4 1258.83 245.7 1258.51 247 1257.24 248.3 1256.75 249.6 1256.11 250.9 1253.89 252.2 1253.69 253.5 1252.49 254.8 1250.32 256.1 1249.36 257.4 1248.68 258.7 1246.76 260 1245.44 261.3 1245 262.6 1243.13 263.9 1241.84 265.2 1241.17 266.5 1239.66 267.8 1238.45 269.1 1237.72 270.4 1236.37 271.7 1233.7 273 1233.58 274.3 1231.83 275.6 1230.62 276.9 1229.46 278.2 1228.5 279.5 1226.62 280.8 1224.74 282.1 1223.49 283.4 1221.08 284.7 1220.45 286 1218.7 287.3 1216.42 288.6 1214.64 289.9 1212.94 291.2 1211.39 292.5 1210.14 293.8 1207.84 295.1 1205.54 296.4 1203.57 297.7 1202.02 299 1199 300.3 1196.39 301.6 1195.31 302.9 1191.47 304.2 1189.54 305.5 1187.17 306.8 1184.26 308.1 1181.49 309.4 1179.56 310.7 1176.45 312 1174.08 313.3 1171.2 314.6 1169.4 315.9 1165.74 317.2 1163.11 318.5 1160.85 319.8 1158.8 321.1 1156.43 322.4 1154.36 323.7 1151.8 325 1150.12 326.3 1147.14 327.6 1145.08 328.9 1143.41 330.2 1141.12 331.5 1138.99 332.8 1137.02 334.1 1134.88 335.4 1133.25 336.7 1131.37 338 1129.51 339.3 1126.92 340.6 1124.42 341.9 1122.1 343.2 1119.92 344.5 1117.49 345.8 1116.21 347.1 1114.42 348.4 1111.28 349.7 1109.05 351 1105.52 352.3 1104 353.6 1101.25 354.9 1099.03 356.2 1096.09 357.5 1093.56 358.8 1090.92 360.1 1088.44 361.4 1087.05 362.7 1083.88 364 1080.37 365.3 1078.38 366.6 1075.8 367.9 1074.39 369.2 1070.23 370.5 1068.9 371.8 1066.63 373.1 1064.91 374.4 1062.47 375.7 1059.45 377 1056.67 378.3 1054.82 379.6 1052.89 380.9 1051.03 382.2 1048.77 383.5 1046.41 384.8 1045.22 386.1 1042.92 387.4 1040.57 388.7 1038.38 390 1036.12 391.3 1033.7 392.6 1032.98 393.9 1029.31 395.2 1026.73 396.5 1025.14 397.8 1021.7 399.1 1019.34 400.4 1016.03 401.7 1013.54 403 1010.11 404.3 1008.31 405.6 1006.16 406.9 1002.49 408.2 999.66 409.5 997.14 410.8 994.26 412.1 990.48 413.4 987.69 414.7 985.06 416 982.99 417.3 979.15 418.6 976.73 419.9 974.24 421.2 971.78 422.5 969.35 423.8 966.58 425.1 964.82 426.4 961.46 427.7 960.28 429 957.03 430.3 954.86 431.6 951.64 432.9 950.03 434.2 947.06 435.5 944.74 436.8 943.59 438.1 941.13 439.4 938.56 440.7 936.1 442 935.27 443.3 932.9 444.6 931.22 445.9 929.3 447.2 927.46 448.5 924.06 449.8 921.83 451.1 921.89 452.4 919.16 453.7 919.06 455 917.41 456.3 916.01 457.6 914.77 458.9 912.89 460.2 912.4 461.5 911.23 462.8 910.42 464.1 910.13 465.4 908.07 466.7 907.78 468 907.55 469.3 905.8 470.6 905.24 471.9 904.92 473.2 904.48 474.5 904 475.8 904.8 477.1 904.98 478.4 904.37 479.7 903.69 481 903.53 482.3 903.81 483.6 903.28 484.9 903.51 486.2 903.35 487.5 904.14 488.8 904.19 490.1 904.2 491.4 903.87 492.7 904.55 494 905.64 495.3 906.7 496.6 905.94 497.9 908.27 499.2 907.11 500.5 907.71 501.8 908.77 503.1 908.76 504.4 909.82 505.7 910.51 507 910.84 508.3 911.79 509.6 913.32 510.9 914.86 512.2 916.72 513.5 916.32 514.8 916.21 516.1 918.17 517.4 918.38 518.7 920.94 520 921.38 521.3 923.33 522.6 923.78 523.9 924.97 525.2 925.53 526.5 928.34 527.8 925.92 529.1 929.78 530.4 930.76 531.7 931.1 533 931.63 534.3 932.7 535.6 932.66 536.9 932.8 538.2 935.88 539.5 936.74 540.8 937.91 542.1 937.56 543.4 940.04 544.7 940.48 546 943.11 547.3 941.57 548.6 939.57 549.9 941.93 551.2 944.88 552.5 943.13 553.8 947.05 555.1 945.69 556.4 947.76 557.7 948.78 559 947.69 560.3 950.48 561.6 952.51 562.9 950.37 564.2 951.43 565.5 951.58 566.8 954.4 568.1 955.64 569.4 953.17 570.7 954.07 572 956.82 573.3 955.72 574.6 959.3 575.9 956.15 577.2 955.24 578.5 954.31 579.8 955.72 581.1 953.63 582.4 958.14 583.7 961.5 585 954.51 586.3 955.04 587.6 955.73 588.9 958.11 590.2 956.48 591.5 960.89 592.8 961.6 594.1 957.61 595.4 958.85 596.7 957.75 598 961.46 599.3 964.61 600.6 957.4 601.9 958.91 603.2 957.24 604.5 961.58 605.8 961.57 607.1 958.06 608.4 959.53 609.7 966.54 611 966.02 612.3 957.2 613.6 959.63 614.9 958.18 616.2 960.44" fill="none" stroke="#eeaf2d" stroke-width="3.4" stroke-linejoin="round" stroke-linecap="round" />
<path d="M97.5 1298.95 98.8 1299.48 100.1 1299.75 101.4 1298.77 102.7 1298.63 104 1299.15 105.3 1298.63 106.6 1298.9 107.9 1299.18 109.2 1298.64 110.5 1298.8 111.8 1297.18 113.1 1298.62 114.4 1298 115.7 1297.57 117 1297.84 118.3 1297.29 119.6 1297.21 120.9 1296.73 122.2 1297.27 123.5 1296.85 124.8 1297.02 126.1 1297.65 127.4 1297.22 128.7 1296.52 130 1297.2 131.3 1297.35 132.6 1296.82 133.9 1296.71 135.2 1296.55 136.5 1296.03 137.8 1296.85 139.1 1296.48 140.4 1296.11 141.7 1296.01 143 1295.85 144.3 1296.47 145.6 1295.54 146.9 1294.78 148.2 1295.48 149.5 1295.69 150.8 1295.46 152.1 1294.84 153.4 1294.14 154.7 1295.68 156 1294.15 157.3 1294.51 158.6 1294.22 159.9 1293.84 161.2 1293.79 162.5 1293.32 163.8 1293.24 165.1 1293.25 166.4 1293.24 167.7 1294.22 169 1292.48 170.3 1293.24 171.6 1292.56 172.9 1292.13 174.2 1291.45 175.5 1291.83 176.8 1291.15 178.1 1291.51 179.4 1291.29 180.7 1290.32 182 1291.13 183.3 1290.26 184.6 1290.08 185.9 1289.91 187.2 1289.32 188.5 1289.66 189.8 1289.61 191.1 1288.64 192.4 1288.66 193.7 1288.76 195 1287.87 196.3 1287.1 197.6 1287.38 198.9 1286.52 200.2 1285.98 201.5 1285.01 202.8 1285.32 204.1 1284.44 205.4 1284.51 206.7 1282.99 208 1282.94 209.3 1283.68 210.6 1283.32 211.9 1282.2 213.2 1281.64 214.5 1279.88 215.8 1280.55 217.1 1279.38 218.4 1278.01 219.7 1277.82 221 1277.05 222.3 1277.07 223.6 1276.05 224.9 1276.23 226.2 1274.97 227.5 1273.46 228.8 1272.79 230.1 1271.08 231.4 1271.12 232.7 1269.65 234 1268.95 235.3 1268.09 236.6 1267.01 237.9 1265.85 239.2 1265.42 240.5 1264.48 241.8 1262.01 243.1 1261.88 244.4 1261.06 245.7 1259.84 247 1259.11 248.3 1258.35 249.6 1256.92 250.9 1255.66 252.2 1255.07 253.5 1253.61 254.8 1252.4 256.1 1252.03 257.4 1250.38 258.7 1248.21 260 1248.05 261.3 1245.85 262.6 1245.02 263.9 1242.8 265.2 1242.83 266.5 1240.29 267.8 1239.99 269.1 1239.45 270.4 1237.44 271.7 1235.85 273 1234.02 274.3 1232.97 275.6 1232.13 276.9 1229.24 278.2 1228.36 279.5 1227.96 280.8 1225.69 282.1 1224.89 283.4 1223.11 284.7 1220.81 286 1219.53 287.3 1218.57 288.6 1216.07 289.9 1214.45 291.2 1212.92 292.5 1210.52 293.8 1208.65 295.1 1206.92 296.4 1204.42 297.7 1202.25 299 1200.21 300.3 1198.36 301.6 1195.04 302.9 1192.3 304.2 1191.39 305.5 1187.91 306.8 1183.98 308.1 1182.02 309.4 1178.87 310.7 1177.35 312 1173.85 313.3 1171.57 314.6 1169.99 315.9 1166.39 317.2 1164.19 318.5 1161.92 319.8 1159.83 321.1 1157.53 322.4 1155.48 323.7 1152.27 325 1150.59 326.3 1147.43 327.6 1146.09 328.9 1143.89 330.2 1142.7 331.5 1139.95 332.8 1137.56 334.1 1135.49 335.4 1133.17 336.7 1131.28 338 1129.1 339.3 1127.3 340.6 1124.92 341.9 1123.05 343.2 1121.34 344.5 1118.13 345.8 1116.05 347.1 1113.53 348.4 1112.73 349.7 1110.17 351 1107.2 352.3 1104.53 353.6 1101.57 354.9 1099.94 356.2 1096.97 357.5 1094.56 358.8 1091.83 360.1 1087.88 361.4 1085.86 362.7 1083.82 364 1081.75 365.3 1078.5 366.6 1076.53 367.9 1073.8 369.2 1071 370.5 1069.39 371.8 1066.21 373.1 1063.84 374.4 1062.95 375.7 1060.66 377 1057.95 378.3 1056.25 379.6 1053.32 380.9 1051.44 382.2 1049.67 383.5 1047.61 384.8 1045.62 386.1 1042.65 387.4 1041.59 388.7 1038.47 390 1036.75 391.3 1035.73 392.6 1032.67 393.9 1029.57 395.2 1027.46 396.5 1024.36 397.8 1021.69 399.1 1018.86 400.4 1016.26 401.7 1013.57 403 1011 404.3 1008.84 405.6 1005.2 406.9 1002.28 408.2 998.85 409.5 997.25 410.8 994.09 412.1 992.23 413.4 989.12 414.7 987.54 416 984.22 417.3 982.08 418.6 979.96 419.9 977.78 421.2 975.94 422.5 973.81 423.8 970.77 425.1 969.14 426.4 967.32 427.7 966.02 429 963.69 430.3 962.28 431.6 960.38 432.9 958.27 434.2 955.33 435.5 955.24 436.8 952.7 438.1 950.4 439.4 949.02 440.7 946.93 442 945.56 443.3 943.63 444.6 943.57 445.9 941.22 447.2 940.43 448.5 938.88 449.8 938.57 451.1 937.88 452.4 936.4 453.7 935.05 455 934.7 456.3 933.72 457.6 933.46 458.9 932.52 460.2 931.93 461.5 931.14 462.8 930.62 464.1 930.33 465.4 930.49 466.7 929.5 468 929.4 469.3 928.56 470.6 928.31 471.9 927.66 473.2 927.92 474.5 927.59 475.8 926.85 477.1 927.48 478.4 927.31 479.7 928.02 481 928.18 482.3 929.21 483.6 928.99 484.9 929 486.2 929.44 487.5 929.85 488.8 930.26 490.1 931.2 491.4 931.15 492.7 932.08 494 932.98 495.3 932.68 496.6 933.47 497.9 934.99 499.2 934.97 500.5 935.19 501.8 936.58 503.1 936.93 504.4 937.49 505.7 939.58 507 939.39 508.3 940.57 509.6 941.97 510.9 943.72 512.2 944.62 513.5 944.65 514.8 946.09 516.1 946.83 517.4 948.82 518.7 949.45 520 949.66 521.3 952.05 522.6 951.21 523.9 953.13 525.2 952.73 526.5 956.48 527.8 956.46 529.1 958.23 530.4 961.39 531.7 959.89 533 960.82 534.3 960.94 535.6 962.78 536.9 962.94 538.2 965.04 539.5 965.91 540.8 966.55 542.1 966.83 543.4 967.76 544.7 968.71 546 969.37 547.3 971.02 548.6 970.11 549.9 971.43 551.2 973.06 552.5 975.66 553.8 974.37 555.1 974.3 556.4 974.86 557.7 978.16 559 975.47 560.3 976.09 561.6 977.31 562.9 976.78 564.2 978.01 565.5 979.76 566.8 979.22 568.1 976.84 569.4 981.45 570.7 982.78 572 980.8 573.3 985.74 574.6 983.09 575.9 983.63 577.2 980.7 578.5 988.37 579.8 987.85 581.1 986.36 582.4 987.3 583.7 982.12 585 982.33 586.3 984.34 587.6 983.37 588.9 980.62 590.2 983.46 591.5 984.84 592.8 982.11 594.1 986.04 595.4 983.16 596.7 981.05 598 979.85 599.3 978.9 600.6 983.82 601.9 977.68 603.2 982.71 604.5 982.44 605.8 977.03 607.1 981.93 608.4 980.19 609.7 984.78 611 980.62 612.3 978.57 613.6 980.22 614.9 982.13 616.2 975.32" fill="none" stroke="#e8c32d" stroke-width="3.4" stroke-linejoin="round" stroke-linecap="round" />
<path d="M97.5 1300.86 98.8 1300.53 100.1 1300.51 101.4 1300.13 102.7 1300.54 104 1299.33 105.3 1300.43 106.6 1299.7 107.9 1299.66 109.2 1299.16 110.5 1298.81 111.8 1299.24 113.1 1299.67 114.4 1299.38 115.7 1299.54 117 1298.95 118.3 1299.04 119.6 1298.78 120.9 1298.26 122.2 1298.59 123.5 1298.33 124.8 1298.78 126.1 1298.22 127.4 1298.19 128.7 1298.34 130 1298.41 131.3 1297.83 132.6 1297.72 133.9 1297.74 135.2 1298.01 136.5 1297.03 137.8 1296.85 139.1 1298.53 140.4 1297.05 141.7 1297.05 143 1295.96 144.3 1296.57 145.6 1296.59 146.9 1296.26 148.2 1296.21 149.5 1296.2 150.8 1296.29 152.1 1296.43 153.4 1295.33 154.7 1295.17 156 1295.84 157.3 1295.53 158.6 1294.92 159.9 1294.53 161.2 1294.64 162.5 1294.83 163.8 1294.93 165.1 1294.94 166.4 1294.64 167.7 1293.68 169 1294.72 170.3 1294.05 171.6 1293.49 172.9 1293.26 174.2 1293.53 175.5 1292.71 176.8 1292.53 178.1 1292.49 179.4 1292.85 180.7 1291.34 182 1292.18 183.3 1290.57 184.6 1290.84 185.9 1291.06 187.2 1291.16 188.5 1289.88 189.8 1290.61 191.1 1290.43 192.4 1289.4 193.7 1289.18 195 1288.92 196.3 1287.83 197.6 1289.45 198.9 1288.26 200.2 1287.09 201.5 1287.58 202.8 1287.17 204.1 1286.5 205.4 1286.25 206.7 1286.21 208 1285.15 209.3 1284.51 210.6 1285.27 211.9 1284.21 213.2 1283.36 214.5 1283.72 215.8 1281.4 217.1 1281.26 218.4 1281.36 219.7 1280.44 221 1279.71 222.3 1278.53 223.6 1277.65 224.9 1276.83 226.2 1276.03 227.5 1275.58 228.8 1274.81 230.1 1273.67 231.4 1273.08 232.7 1270.72 234 1270.44 235.3 1269.05 236.6 1269.33 237.9 1267.45 239.2 1266.86 240.5 1265.71 241.8 1264.29 243.1 1263.22 244.4 1262.83 245.7 1261.9 247 1260.29 248.3 1260.21 249.6 1258.35 250.9 1257.59 252.2 1256.23 253.5 1255.35 254.8 1253.07 256.1 1253.22 257.4 1251.73 258.7 1250.5 260 1249.47 261.3 1247.94 262.6 1245.73 263.9 1244.85 265.2 1243.3 266.5 1242.27 267.8 1241.47 269.1 1240.55 270.4 1237.9 271.7 1236.67 273 1235.83 274.3 1234.66 275.6 1233.13 276.9 1231.33 278.2 1230.3 279.5 1228.79 280.8 1226.78 282.1 1226.13 283.4 1223.32 284.7 1222.37 286 1220.7 287.3 1219.19 288.6 1217.72 289.9 1215.28 291.2 1213.63 292.5 1212.03 293.8 1210.49 295.1 1207.35 296.4 1205.73 297.7 1203.23 299 1200.38 300.3 1198.59 301.6 1195.44 302.9 1193.35 304.2 1190.85 305.5 1189.15 306.8 1185.14 308.1 1183.22 309.4 1180.39 310.7 1177.57 312 1174.83 313.3 1173.01 314.6 1169.51 315.9 1167.59 317.2 1164.63 318.5 1162.56 319.8 1160.22 321.1 1156.84 322.4 1154.84 323.7 1153 325 1150.89 326.3 1148.07 327.6 1146.76 328.9 1144.88 330.2 1142.33 331.5 1140.35 332.8 1137.67 334.1 1136.63 335.4 1134.9 336.7 1133.24 338 1129.99 339.3 1128.65 340.6 1125.46 341.9 1123.74 343.2 1121.43 344.5 1118.49 345.8 1116.65 347.1 1114.64 348.4 1112.3 349.7 1109.72 351 1107.47 352.3 1105.41 353.6 1103.02 354.9 1098.99 356.2 1097.21 357.5 1094.9 358.8 1091.25 360.1 1089.93 361.4 1087.74 362.7 1083.98 364 1080.99 365.3 1079.24 366.6 1077.57 367.9 1075.72 369.2 1072.22 370.5 1069.63 371.8 1066.87 373.1 1065.26 374.4 1062.35 375.7 1060.55 377 1058.84 378.3 1056.29 379.6 1053.7 380.9 1052.25 382.2 1050.54 383.5 1048.51 384.8 1045.14 386.1 1043.98 387.4 1041.86 388.7 1039.34 390 1036.73 391.3 1034.61 392.6 1032.2 393.9 1031.06 395.2 1027.58 396.5 1024.51 397.8 1021.85 399.1 1019.28 400.4 1015.59 401.7 1013 403 1010.01 404.3 1006.75 405.6 1005.12 406.9 1002.26 408.2 1000.58 409.5 998.75 410.8 996.09 412.1 994.18 413.4 992.59 414.7 992.23 416 989.66 417.3 987.88 418.6 987.14 419.9 984.48 421.2 983.95 422.5 981.02 423.8 979.59 425.1 977.5 426.4 975.59 427.7 973.8 429 971.66 430.3 968.74 431.6 966.83 432.9 965.36 434.2 963.95 435.5 961.8 436.8 960.21 438.1 958.36 439.4 958.33 440.7 957.12 442 955.54 443.3 954.85 444.6 954.7 445.9 952.87 447.2 951.97 448.5 951.83 449.8 949.98 451.1 950.01 452.4 949.52 453.7 948.81 455 948.61 456.3 948.35 457.6 948.28 458.9 947.86 460.2 948.02 461.5 947.86 462.8 947.31 464.1 947.05 465.4 946.08 466.7 947.48 468 947.16 469.3 947.21 470.6 947.7 471.9 947.11 473.2 947.27 474.5 948.11 475.8 946.53 477.1 948.75 478.4 948.81 479.7 948.46 481 949.06 482.3 950.32 483.6 949.91 484.9 951.07 486.2 951.31 487.5 951.6 488.8 952.01 490.1 952.51 491.4 953.01 492.7 954.1 494 955.24 495.3 954.56 496.6 957.42 497.9 958.91 499.2 957.74 500.5 960.45 501.8 960.88 503.1 962.36 504.4 962.91 505.7 963.26 507 965.49 508.3 966.29 509.6 967.69 510.9 967.84 512.2 969.67 513.5 971.79 514.8 971.06 516.1 973.8 517.4 973.38 518.7 976.69 520 979.01 521.3 976.95 522.6 979.1 523.9 980.76 525.2 980.28 526.5 983.08 527.8 983.4 529.1 983.77 530.4 986.05 531.7 986.04 533 989.53 534.3 988.88 535.6 988.82 536.9 989.69 538.2 988.85 539.5 990.14 540.8 990.67 542.1 993.21 543.4 994.01 544.7 992.84 546 995.59 547.3 995.94 548.6 995.97 549.9 998.42 551.2 997.95 552.5 997.96 553.8 998.73 555.1 1000.35 556.4 998.26 557.7 999.74 559 1001.53 560.3 1002.74 561.6 1002.02 562.9 1001.75 564.2 999.8 565.5 1004.4 566.8 1001.43 568.1 1001.15 569.4 1004.83 570.7 1001.83 572 1001.36 573.3 1003.7 574.6 1004.48 575.9 1003.85 577.2 999.54 578.5 1003.39 579.8 1001.86 581.1 1001.54 582.4 1003.49 583.7 1003.62 585 998.77 586.3 1004 587.6 1001.2 588.9 1001.16 590.2 999.46 591.5 1001.51 592.8 1002.84 594.1 999.48 595.4 996.99 596.7 1006.12 598 1002.84 599.3 1001.54 600.6 1003.35 601.9 997.43 603.2 997.82 604.5 996.13 605.8 998.53 607.1 1006.65 608.4 1002.45 609.7 995.53 611 1001.07 612.3 999.22 613.6 1000.08 614.9 993.25 616.2 994.71" fill="none" stroke="#d2c337" stroke-width="3.4" stroke-linejoin="round" stroke-linecap="round" />
<path d="M97.5 1302.14 98.8 1301.05 100.1 1301.8 101.4 1302.54 102.7 1300.98 104 1301.84 105.3 1301.22 106.6 1302.11 107.9 1301.11 109.2 1300.94 110.5 1301.89 111.8 1301.61 113.1 1300.77 114.4 1299.92 115.7 1299.97 117 1300.83 118.3 1300.74 119.6 1299.76 120.9 1300.88 122.2 1300.44 123.5 1299.84 124.8 1299.91 126.1 1299.94 127.4 1299.47 128.7 1299.94 130 1299.43 131.3 1299.32 132.6 1299.69 133.9 1299.35 135.2 1298.33 136.5 1298.88 137.8 1298.25 139.1 1298.68 140.4 1298.67 141.7 1297.69 143 1298.63 144.3 1298.86 145.6 1298.06 146.9 1297.21 148.2 1297.5 149.5 1297.56 150.8 1297.49 152.1 1297.36 153.4 1296.62 154.7 1296.56 156 1296.97 157.3 1297.83 158.6 1296.44 159.9 1296.15 161.2 1296.27 162.5 1296.6 163.8 1295.69 165.1 1294.32 166.4 1295.06 167.7 1294.8 169 1294.45 170.3 1294.11 171.6 1294.1 172.9 1295.5 174.2 1294.46 175.5 1294.02 176.8 1293.11 178.1 1293.29 179.4 1293.44 180.7 1292.98 182 1292.76 183.3 1293.38 184.6 1293.04 185.9 1292.42 187.2 1291.22 188.5 1291.76 189.8 1290.96 191.1 1290.9 192.4 1290.9 193.7 1290.87 195 1290.91 196.3 1289.09 197.6 1290.22 198.9 1289.33 200.2 1289.28 201.5 1288.56 202.8 1289.38 204.1 1288.32 205.4 1288.35 206.7 1287.23 208 1287.69 209.3 1286.93 210.6 1286.05 211.9 1285.92 213.2 1285.26 214.5 1284.64 215.8 1285.05 217.1 1283.91 218.4 1282.89 219.7 1281.62 221 1282.01 222.3 1280.69 223.6 1279.7 224.9 1278.57 226.2 1278.72 227.5 1277.61 228.8 1275.93 230.1 1274.87 231.4 1273.92 232.7 1273.03 234 1272.07 235.3 1270.41 236.6 1269.73 237.9 1269.04 239.2 1268.53 240.5 1267.32 241.8 1266.14 243.1 1264.68 244.4 1264.2 245.7 1263.36 247 1262.36 248.3 1261.45 249.6 1259.61 250.9 1258.37 252.2 1258 253.5 1256.15 254.8 1255.48 256.1 1254.04 257.4 1252.13 258.7 1251.61 260 1250.26 261.3 1248.94 262.6 1247.62 263.9 1245.94 265.2 1244.98 266.5 1243.69 267.8 1243.05 269.1 1241.15 270.4 1240.02 271.7 1239.31 273 1236.29 274.3 1236.23 275.6 1234.41 276.9 1232.68 278.2 1230.81 279.5 1230.35 280.8 1228.47 282.1 1226.58 283.4 1224.63 284.7 1223.97 286 1222.53 287.3 1219.69 288.6 1218.32 289.9 1216.7 291.2 1215.1 292.5 1212.59 293.8 1211.66 295.1 1208.56 296.4 1206.2 297.7 1203.67 299 1201.14 300.3 1199.52 301.6 1196.72 302.9 1193.77 304.2 1191.08 305.5 1189.35 306.8 1186.78 308.1 1183.88 309.4 1181.01 310.7 1178.01 312 1176.08 313.3 1173.57 314.6 1170.48 315.9 1167.71 317.2 1166.05 318.5 1162.47 319.8 1160.61 321.1 1159.02 322.4 1155.85 323.7 1153.49 325 1150.38 326.3 1148.81 327.6 1147.02 328.9 1145.83 330.2 1142.32 331.5 1141.84 332.8 1138.76 334.1 1136.57 335.4 1134.81 336.7 1131.96 338 1130.68 339.3 1129.1 340.6 1125.35 341.9 1123.68 343.2 1121.34 344.5 1119.79 345.8 1117.53 347.1 1116.05 348.4 1112.35 349.7 1111 351 1107.81 352.3 1105.77 353.6 1103.02 354.9 1100.85 356.2 1097.59 357.5 1095.89 358.8 1093.19 360.1 1089.55 361.4 1087.49 362.7 1085.21 364 1082.01 365.3 1079.45 366.6 1077.16 367.9 1075.12 369.2 1072.74 370.5 1069.7 371.8 1067.98 373.1 1064.53 374.4 1064.18 375.7 1060.84 377 1059.56 378.3 1056.63 379.6 1054.6 380.9 1052.92 382.2 1050.82 383.5 1047.9 384.8 1046.29 386.1 1044.36 387.4 1042.11 388.7 1039.9 390 1037.57 391.3 1035.25 392.6 1033.21 393.9 1030.36 395.2 1027.41 396.5 1024.03 397.8 1021.73 399.1 1017.88 400.4 1015.76 401.7 1012.34 403 1009.74 404.3 1007.95 405.6 1005.88 406.9 1003.97 408.2 1002.23 409.5 1000.46 410.8 999.39 412.1 996.82 413.4 995.19 414.7 993.65 416 993.12 417.3 990.95 418.6 989.63 419.9 988.71 421.2 986.73 422.5 984.7 423.8 984.2 425.1 983.26 426.4 982.6 427.7 981.25 429 979.65 430.3 978.81 431.6 978.01 432.9 977 434.2 977.1 435.5 975.63 436.8 974.88 438.1 973.85 439.4 973.09 440.7 973.13 442 973 443.3 971.84 444.6 971.63 445.9 970.9 447.2 970.69 448.5 970.49 449.8 971.03 451.1 971.33 452.4 970.59 453.7 969.92 455 969.3 456.3 969.87 457.6 968.74 458.9 968.39 460.2 969.42 461.5 968.19 462.8 969.22 464.1 968.72 465.4 969.23 466.7 968.24 468 969.49 469.3 969.78 470.6 970.24 471.9 969.75 473.2 970.65 474.5 970.6 475.8 972.52 477.1 972.34 478.4 972.84 479.7 973.89 481 973.78 482.3 974.62 483.6 975.01 484.9 976.18 486.2 975.5 487.5 977.87 488.8 978.18 490.1 978.43 491.4 980.42 492.7 981.84 494 981.19 495.3 982.54 496.6 983.48 497.9 984.77 499.2 984.54 500.5 986.48 501.8 987.18 503.1 989.03 504.4 989.45 505.7 990.97 507 992.14 508.3 993.4 509.6 995.06 510.9 996.32 512.2 996.42 513.5 998.1 514.8 999.53 516.1 1001.36 517.4 1003.02 518.7 1002.77 520 1004.42 521.3 1006.44 522.6 1006.92 523.9 1007.04 525.2 1008.09 526.5 1008.41 527.8 1012.05 529.1 1011.76 530.4 1011.89 531.7 1012.88 533 1015.43 534.3 1015.97 535.6 1016.88 536.9 1017.73 538.2 1016.85 539.5 1017.59 540.8 1019.5 542.1 1019.25 543.4 1020.84 544.7 1020.74 546 1021.52 547.3 1023.65 548.6 1021.91 549.9 1022.6 551.2 1026.21 552.5 1022.55 553.8 1025.46 555.1 1025.48 556.4 1025.27 557.7 1028.91 559 1025.63 560.3 1023.43 561.6 1028.97 562.9 1030.59 564.2 1024.56 565.5 1027.82 566.8 1027.29 568.1 1027.5 569.4 1028.49 570.7 1027.43 572 1027.5 573.3 1023.39 574.6 1023.84 575.9 1027.76 577.2 1026.46 578.5 1026.81 579.8 1027.35 581.1 1022.18 582.4 1021.66 583.7 1023.18 585 1026.06 586.3 1024.68 587.6 1021.29 588.9 1022.91 590.2 1023.07 591.5 1021.92 592.8 1022.03 594.1 1024.91 595.4 1021.12 596.7 1021.15 598 1018.68 599.3 1024.11 600.6 1020.26 601.9 1018.03 603.2 1017.82 604.5 1019.35 605.8 1013.95 607.1 1018.38 608.4 1010.68 609.7 1009.66 611 1010.08 612.3 1006.87 613.6 1011.67 614.9 1008.66 616.2 1009.24" fill="none" stroke="#a0aa32" stroke-width="3.4" stroke-linejoin="round" stroke-linecap="round" />
<path d="M97.5 1310.25 98.8 1308.78 100.1 1309.49 101.4 1307.87 102.7 1308.53 104 1308.53 105.3 1306.99 106.6 1307.56 107.9 1307.79 109.2 1308.42 110.5 1306.94 111.8 1307.32 113.1 1306.44 114.4 1306.96 115.7 1307.44 117 1306.79 118.3 1305.21 119.6 1305.16 120.9 1304.8 122.2 1305.07 123.5 1304.43 124.8 1305.84 126.1 1304.77 127.4 1305.55 128.7 1304.26 130 1304.12 131.3 1303.76 132.6 1303.75 133.9 1303.59 135.2 1303.3 136.5 1302.62 137.8 1302.12 139.1 1302.48 140.4 1302.6 141.7 1302.19 143 1301.17 144.3 1301.88 145.6 1300.96 146.9 1300.1 148.2 1300.66 149.5 1299.73 150.8 1300.75 152.1 1300.02 153.4 1299.29 154.7 1299.19 156 1299.19 157.3 1298.75 158.6 1298.37 159.9 1299.43 161.2 1298.1 162.5 1297.82 163.8 1296.97 165.1 1297.93 166.4 1297.65 167.7 1297.56 169 1296.62 170.3 1297.52 171.6 1296.15 172.9 1295.9 174.2 1296.11 175.5 1295.87 176.8 1296.07 178.1 1296.74 179.4 1295.44 180.7 1295.83 182 1295.29 183.3 1294.45 184.6 1293.77 185.9 1294.23 187.2 1293.55 188.5 1293.52 189.8 1293.81 191.1 1293.28 192.4 1293.69 193.7 1292.15 195 1292.28 196.3 1293.85 197.6 1292.82 198.9 1292.3 200.2 1292.23 201.5 1291.02 202.8 1290.82 204.1 1291.48 205.4 1289.8 206.7 1290.71 208 1289.1 209.3 1290.38 210.6 1289.64 211.9 1288.93 213.2 1288.78 214.5 1288.22 215.8 1287.07 217.1 1286.24 218.4 1286.04 219.7 1285.64 221 1284.14 222.3 1283.82 223.6 1283.74 224.9 1281.86 226.2 1280.88 227.5 1279.2 228.8 1279.64 230.1 1277.83 231.4 1276.69 232.7 1275.25 234 1275.27 235.3 1273.73 236.6 1272.84 237.9 1271.51 239.2 1270.08 240.5 1269.74 241.8 1268.8 243.1 1267.23 244.4 1266.19 245.7 1265.47 247 1264.26 248.3 1264.08 249.6 1263.31 250.9 1261.04 252.2 1259.75 253.5 1259.42 254.8 1257.99 256.1 1256.67 257.4 1255.4 258.7 1254.6 260 1253.09 261.3 1251.84 262.6 1250.71 263.9 1247.91 265.2 1247.85 266.5 1246.49 267.8 1244.96 269.1 1243.33 270.4 1241.43 271.7 1239.77 273 1239.14 274.3 1237.05 275.6 1236.95 276.9 1235 278.2 1233.08 279.5 1232.07 280.8 1230.1 282.1 1228.16 283.4 1227.28 284.7 1225.03 286 1223.19 287.3 1221.6 288.6 1219.73 289.9 1217.96 291.2 1215.57 292.5 1213.68 293.8 1211.99 295.1 1209.64 296.4 1207.51 297.7 1204.38 299 1202.43 300.3 1199.82 301.6 1197.65 302.9 1195.37 304.2 1192.28 305.5 1189.91 306.8 1187.28 308.1 1184.84 309.4 1181.98 310.7 1179.19 312 1176.45 313.3 1173.96 314.6 1172.08 315.9 1169.62 317.2 1166.56 318.5 1163.58 319.8 1161.52 321.1 1159.46 322.4 1156.02 323.7 1154.4 325 1153.21 326.3 1150.27 327.6 1147.57 328.9 1145.75 330.2 1142.97 331.5 1141.61 332.8 1139.5 334.1 1137.47 335.4 1135.41 336.7 1133.34 338 1131.76 339.3 1129.37 340.6 1126.95 341.9 1125.01 343.2 1121.96 344.5 1120.55 345.8 1119.34 347.1 1116.77 348.4 1114.13 349.7 1111.06 351 1109.04 352.3 1107.66 353.6 1104.12 354.9 1101.58 356.2 1099.61 357.5 1097.3 358.8 1094.34 360.1 1092.14 361.4 1088.54 362.7 1086.98 364 1083.67 365.3 1081.49 366.6 1077.9 367.9 1076.4 369.2 1073.6 370.5 1071.46 371.8 1068.47 373.1 1065.79 374.4 1064.03 375.7 1062.19 377 1059.47 378.3 1057.05 379.6 1054.85 380.9 1053.45 382.2 1050.52 383.5 1047.8 384.8 1046.86 386.1 1044.03 387.4 1042.05 388.7 1038.94 390 1037.4 391.3 1035.51 392.6 1033.55 393.9 1031.2 395.2 1029.23 396.5 1026.36 397.8 1023.6 399.1 1020.7 400.4 1019.72 401.7 1017.16 403 1016.12 404.3 1014.17 405.6 1011.59 406.9 1011.05 408.2 1009.88 409.5 1008.85 410.8 1006.88 412.1 1006.22 413.4 1005.3 414.7 1005.18 416 1003.86 417.3 1002.62 418.6 1001.87 419.9 1001.51 421.2 1000.28 422.5 999.78 423.8 999.53 425.1 999.39 426.4 998.43 427.7 997.7 429 996.59 430.3 996.1 431.6 995.15 432.9 995.67 434.2 995.07 435.5 994.39 436.8 995.39 438.1 993.9 439.4 994.31 440.7 993.49 442 993.42 443.3 992.41 444.6 992.8 445.9 992.91 447.2 991.36 448.5 992.92 449.8 991.76 451.1 992.12 452.4 992.12 453.7 992.99 455 993.05 456.3 992.81 457.6 993.23 458.9 994.09 460.2 994.07 461.5 994.47 462.8 995.03 464.1 996.18 465.4 995.56 466.7 996.16 468 997.64 469.3 997.88 470.6 998.29 471.9 1000.06 473.2 1000.3 474.5 1001 475.8 1001.77 477.1 1003.94 478.4 1004.09 479.7 1005.82 481 1006.28 482.3 1006.6 483.6 1008.62 484.9 1008.97 486.2 1010.43 487.5 1010.45 488.8 1011.51 490.1 1013.05 491.4 1013.95 492.7 1015.98 494 1016.84 495.3 1016.98 496.6 1018.69 497.9 1018.04 499.2 1020.3 500.5 1021.43 501.8 1021.46 503.1 1022.34 504.4 1024.07 505.7 1024.6 507 1026.87 508.3 1025.99 509.6 1027.88 510.9 1029.66 512.2 1030.37 513.5 1030.67 514.8 1030.72 516.1 1031.98 517.4 1033.67 518.7 1034.07 520 1035.22 521.3 1035.58 522.6 1036.58 523.9 1039.47 525.2 1039.82 526.5 1037.51 527.8 1040.97 529.1 1042.29 530.4 1041.13 531.7 1041.72 533 1043.19 534.3 1043.93 535.6 1044.82 536.9 1044.87 538.2 1049.24 539.5 1046 540.8 1048.76 542.1 1049.47 543.4 1049.29 544.7 1050.6 546 1052.1 547.3 1049.84 548.6 1052.35 549.9 1052.85 551.2 1050.74 552.5 1048.39 553.8 1052.43 555.1 1053.18 556.4 1052.01 557.7 1052.88 559 1055.77 560.3 1053.52 561.6 1054.66 562.9 1053.19 564.2 1053.53 565.5 1053.29 566.8 1054.3 568.1 1053.46 569.4 1054.1 570.7 1053.19 572 1053.88 573.3 1053.69 574.6 1052.24 575.9 1050.72 577.2 1048.62 578.5 1047.95 579.8 1051.69 581.1 1050.37 582.4 1049.07 583.7 1047.44 585 1048.85 586.3 1046.97 587.6 1049.6 588.9 1046.63 590.2 1044.13 591.5 1043.06 592.8 1044.04 594.1 1049.56 595.4 1042.72 596.7 1039.09 598 1041.06 599.3 1042.84 600.6 1042.67 601.9 1042.09 603.2 1041.44 604.5 1039.29 605.8 1038.53 607.1 1034.92 608.4 1037.8 609.7 1035.5 611 1040.32 612.3 1030.26 613.6 1038.14 614.9 1030.5 616.2 1033.52" fill="none" stroke="#5a8228" stroke-width="3.4" stroke-linejoin="round" stroke-linecap="round" />
<path d="M97.5 1306.32 98.8 1306.31 100.1 1305.67 101.4 1304.95 102.7 1305.71 104 1305.41 105.3 1304.98 106.6 1304.91 107.9 1304.68 109.2 1304.77 110.5 1304.58 111.8 1303.92 113.1 1304.19 114.4 1303.71 115.7 1303.28 117 1303.65 118.3 1303.93 119.6 1303.52 120.9 1303.37 122.2 1303.66 123.5 1303.13 124.8 1302.75 126.1 1302.47 127.4 1303.01 128.7 1302 130 1301.84 131.3 1302.19 132.6 1302.1 133.9 1301.04 135.2 1301.61 136.5 1301.1 137.8 1301.01 139.1 1300.62 140.4 1300.53 141.7 1300.94 143 1300.41 144.3 1299.68 145.6 1299.61 146.9 1299.09 148.2 1298.52 149.5 1298.89 150.8 1299.31 152.1 1299.03 153.4 1298.17 154.7 1299.38 156 1298.6 157.3 1297.73 158.6 1297.84 159.9 1297.69 161.2 1297.33 162.5 1297.95 163.8 1297.87 165.1 1296.95 166.4 1296.99 167.7 1296.79 169 1296.31 170.3 1295.74 171.6 1295.5 172.9 1296 174.2 1295.73 175.5 1295.46 176.8 1295.29 178.1 1295.14 179.4 1294.66 180.7 1293.86 182 1293.56 183.3 1294.67 184.6 1294.01 185.9 1293.2 187.2 1293.23 188.5 1293.54 189.8 1293.78 191.1 1293.41 192.4 1292.85 193.7 1292.6 195 1291.72 196.3 1292.04 197.6 1291.44 198.9 1291.45 200.2 1290.42 201.5 1291.02 202.8 1290.3 204.1 1290.57 205.4 1289.2 206.7 1289.79 208 1289.23 209.3 1288.5 210.6 1288.53 211.9 1287.64 213.2 1288.06 214.5 1286.3 215.8 1287.54 217.1 1285.35 218.4 1284.38 219.7 1283.44 221 1283.65 222.3 1282.44 223.6 1281.25 224.9 1280.31 226.2 1279.16 227.5 1279.03 228.8 1277.96 230.1 1276.93 231.4 1275.08 232.7 1274.85 234 1273.37 235.3 1272.59 236.6 1271.19 237.9 1270.73 239.2 1270.04 240.5 1268.49 241.8 1267.67 243.1 1266.49 244.4 1265.05 245.7 1264.57 247 1263 248.3 1262.37 249.6 1261.54 250.9 1260.77 252.2 1258.66 253.5 1258.32 254.8 1257.48 256.1 1255.67 257.4 1254.53 258.7 1253.43 260 1252.19 261.3 1250.61 262.6 1249.65 263.9 1246.9 265.2 1246.22 266.5 1245.37 267.8 1244.53 269.1 1242.17 270.4 1240.74 271.7 1239.51 273 1238.71 274.3 1236.52 275.6 1235.75 276.9 1234.74 278.2 1232.54 279.5 1231.47 280.8 1229.66 282.1 1228.36 283.4 1225.76 284.7 1223.89 286 1222.95 287.3 1221.52 288.6 1218.72 289.9 1217.43 291.2 1214.82 292.5 1213.11 293.8 1210.44 295.1 1208.82 296.4 1206.33 297.7 1205 299 1202.01 300.3 1200.08 301.6 1197.88 302.9 1193.76 304.2 1192.71 305.5 1189.38 306.8 1186.82 308.1 1183.8 309.4 1180.55 310.7 1178.2 312 1175.88 313.3 1172.76 314.6 1170.83 315.9 1168.57 317.2 1165.33 318.5 1163.03 319.8 1161.27 321.1 1157.87 322.4 1156.53 323.7 1153.29 325 1152.3 326.3 1149.63 327.6 1147.25 328.9 1145.33 330.2 1144.15 331.5 1140.66 332.8 1138.63 334.1 1137.54 335.4 1135.45 336.7 1132.86 338 1131.24 339.3 1128.77 340.6 1126.97 341.9 1124.54 343.2 1122.47 344.5 1120.27 345.8 1117.71 347.1 1115.64 348.4 1113.53 349.7 1110.98 351 1107.94 352.3 1106.17 353.6 1104.57 354.9 1101.43 356.2 1098.7 357.5 1095.8 358.8 1092.71 360.1 1090.63 361.4 1087.71 362.7 1085.74 364 1082.26 365.3 1080.54 366.6 1077.68 367.9 1075.56 369.2 1072.84 370.5 1070.88 371.8 1067.24 373.1 1065.71 374.4 1063.72 375.7 1061.97 377 1059.16 378.3 1056.89 379.6 1054.88 380.9 1053.21 382.2 1050.89 383.5 1048.35 384.8 1046.46 386.1 1044.17 387.4 1042.3 388.7 1040.15 390 1038.37 391.3 1035.6 392.6 1032.61 393.9 1030.35 395.2 1026.73 396.5 1024.06 397.8 1022.54 399.1 1021.3 400.4 1019.88 401.7 1019.06 403 1018.41 404.3 1017.58 405.6 1016.98 406.9 1015.22 408.2 1014.41 409.5 1013.79 410.8 1013.6 412.1 1012.58 413.4 1012.15 414.7 1010.97 416 1010.82 417.3 1010.96 418.6 1009.19 419.9 1008.89 421.2 1008.61 422.5 1008.46 423.8 1007.45 425.1 1007.78 426.4 1007.57 427.7 1007.32 429 1006.67 430.3 1006.29 431.6 1005.74 432.9 1006.03 434.2 1006.02 435.5 1004.87 436.8 1005.8 438.1 1005.75 439.4 1005.83 440.7 1006.54 442 1005.6 443.3 1005.67 444.6 1005.92 445.9 1005.53 447.2 1005.78 448.5 1005.09 449.8 1005.64 451.1 1006.19 452.4 1005.89 453.7 1007.45 455 1007.7 456.3 1008.12 457.6 1008.26 458.9 1007.51 460.2 1009.54 461.5 1009.64 462.8 1011.02 464.1 1011.04 465.4 1010.61 466.7 1011.12 468 1012.63 469.3 1013.57 470.6 1014.63 471.9 1016.37 473.2 1017.44 474.5 1018.02 475.8 1018.93 477.1 1019.69 478.4 1021.1 479.7 1020.9 481 1023.05 482.3 1023.56 483.6 1025.28 484.9 1024.49 486.2 1026.75 487.5 1027.53 488.8 1028.15 490.1 1029.93 491.4 1029.49 492.7 1030.26 494 1031.44 495.3 1033.19 496.6 1034.03 497.9 1033.59 499.2 1035.45 500.5 1037.59 501.8 1036.28 503.1 1037 504.4 1038.18 505.7 1039.42 507 1039.23 508.3 1041.01 509.6 1041.65 510.9 1042.44 512.2 1041.43 513.5 1043.56 514.8 1043.96 516.1 1045.64 517.4 1043.2 518.7 1047.72 520 1048.45 521.3 1046.99 522.6 1049.45 523.9 1048.5 525.2 1049.13 526.5 1052.14 527.8 1053.32 529.1 1052.78 530.4 1055.05 531.7 1053.72 533 1056.46 534.3 1056.24 535.6 1058.14 536.9 1058.56 538.2 1057.89 539.5 1057.97 540.8 1059.78 542.1 1060.79 543.4 1062.51 544.7 1060.4 546 1061.59 547.3 1061.28 548.6 1064.71 549.9 1060.56 551.2 1062.58 552.5 1064.44 553.8 1064.19 555.1 1063.15 556.4 1064.76 557.7 1066.31 559 1065.08 560.3 1066.08 561.6 1065.07 562.9 1069.23 564.2 1065.08 565.5 1065.56 566.8 1063.73 568.1 1063.05 569.4 1063.83 570.7 1066.17 572 1063.92 573.3 1064.73 574.6 1061.53 575.9 1059.54 577.2 1062.89 578.5 1060.68 579.8 1060.77 581.1 1061.31 582.4 1061.45 583.7 1060.52 585 1058.82 586.3 1055.49 587.6 1057.5 588.9 1054.04 590.2 1055.26 591.5 1052.98 592.8 1050 594.1 1053.45 595.4 1055.97 596.7 1051.56 598 1047.97 599.3 1046.48 600.6 1049.76 601.9 1045.25 603.2 1042.82 604.5 1045.8 605.8 1045.09 607.1 1044.52 608.4 1044.72 609.7 1039.71 611 1041.55 612.3 1042.68 613.6 1041.07 614.9 1043.04 616.2 1036.5" fill="none" stroke="#195028" stroke-width="3.4" stroke-linejoin="round" stroke-linecap="round" />
<rect x="97" y="788.1" width="519.8" height="596.2" fill="none" stroke="#000" stroke-width="3.6"/>
<path d="M147.54 1384.3v-7.4M255.83 1384.3v-7.4M364.12 1384.3v-7.4M472.41 1384.3v-7.4M580.7 1384.3v-7.4M201.68 1384.3v-4.8M309.97 1384.3v-4.8M418.27 1384.3v-4.8M526.56 1384.3v-4.8" stroke="#000" stroke-width="3.4" fill="none"/>
<path d="M97 1384.3h7.4M97 1262.63h7.4M97 1140.95h7.4M97 1019.28h7.4M97 897.61h7.4M97 1323.46h4.8M97 1201.79h4.8M97 1080.12h4.8M97 958.44h4.8M97 836.77h4.8" stroke="#000" stroke-width="3.4" fill="none"/>
<text x="147.54" y="1416" font-size="30" text-anchor="middle" font-family="'Liberation Sans', Arial, sans-serif" >1500</text>
<text x="255.83" y="1416" font-size="30" text-anchor="middle" font-family="'Liberation Sans', Arial, sans-serif" >3000</text>
<text x="364.12" y="1416" font-size="30" text-anchor="middle" font-family="'Liberation Sans', Arial, sans-serif" >4500</text>
<text x="472.41" y="1416" font-size="30" text-anchor="middle" font-family="'Liberation Sans', Arial, sans-serif" >6000</text>
<text x="580.7" y="1416" font-size="30" text-anchor="middle" font-family="'Liberation Sans', Arial, sans-serif" >7500</text>
<text x="87.5" y="1395.1" font-size="30" text-anchor="end" font-family="'Liberation Sans', Arial, sans-serif" >0.0</text>
<text x="87.5" y="1273.43" font-size="30" text-anchor="end" font-family="'Liberation Sans', Arial, sans-serif" >0.1</text>
<text x="87.5" y="1151.75" font-size="30" text-anchor="end" font-family="'Liberation Sans', Arial, sans-serif" >0.2</text>
<text x="87.5" y="1030.08" font-size="30" text-anchor="end" font-family="'Liberation Sans', Arial, sans-serif" >0.3</text>
<text x="87.5" y="908.41" font-size="30" text-anchor="end" font-family="'Liberation Sans', Arial, sans-serif" >0.4</text>
<text x="356.9" y="1467" font-size="30" text-anchor="middle" font-family="'Liberation Sans', Arial, sans-serif" >Wavenumber (cm<tspan dy="-11" font-size="20">-1</tspan><tspan dy="11">)</tspan></text>
<text x="0" y="0" font-size="30" text-anchor="middle" font-family="'Liberation Sans', Arial, sans-serif" transform="translate(29.8 1085) rotate(-90)">1-<tspan font-style="italic">T</tspan>/<tspan font-style="italic">T</tspan><tspan dy="7" font-size="20">0</tspan></text>
<path d="M299.1 1198.5H345.3" stroke="#f00a1e" stroke-width="3.3" stroke-linecap="round"/>
<text x="353.5" y="1206.1" font-size="30" text-anchor="start" font-family="'Liberation Sans', Arial, sans-serif" >150 <tspan font-family="'Liberation Serif', 'Times New Roman', serif">Ω</tspan></text>
<path d="M299.1 1239.65H345.3" stroke="#f22828" stroke-width="3.3" stroke-linecap="round"/>
<text x="353.5" y="1247.25" font-size="30" text-anchor="start" font-family="'Liberation Sans', Arial, sans-serif" >172 <tspan font-family="'Liberation Serif', 'Times New Roman', serif">Ω</tspan></text>
<path d="M299.1 1280.8H345.3" stroke="#f05a2d" stroke-width="3.3" stroke-linecap="round"/>
<text x="353.5" y="1288.4" font-size="30" text-anchor="start" font-family="'Liberation Sans', Arial, sans-serif" >200 <tspan font-family="'Liberation Serif', 'Times New Roman', serif">Ω</tspan></text>
<path d="M299.1 1321.95H345.3" stroke="#f08c2d" stroke-width="3.3" stroke-linecap="round"/>
<text x="353.5" y="1329.55" font-size="30" text-anchor="start" font-family="'Liberation Sans', Arial, sans-serif" >242 <tspan font-family="'Liberation Serif', 'Times New Roman', serif">Ω</tspan></text>
<path d="M299.1 1363.1H345.3" stroke="#eeaf2d" stroke-width="3.3" stroke-linecap="round"/>
<text x="353.5" y="1370.7" font-size="30" text-anchor="start" font-family="'Liberation Sans', Arial, sans-serif" >336 <tspan font-family="'Liberation Serif', 'Times New Roman', serif">Ω</tspan></text>
<path d="M456.8 1198.5H502.5" stroke="#e8c32d" stroke-width="3.3" stroke-linecap="round"/>
<text x="510.3" y="1206.1" font-size="30" text-anchor="start" font-family="'Liberation Sans', Arial, sans-serif" >423 <tspan font-family="'Liberation Serif', 'Times New Roman', serif">Ω</tspan></text>
<path d="M456.8 1239.65H502.5" stroke="#d2c337" stroke-width="3.3" stroke-linecap="round"/>
<text x="510.3" y="1247.25" font-size="30" text-anchor="start" font-family="'Liberation Sans', Arial, sans-serif" >530 <tspan font-family="'Liberation Serif', 'Times New Roman', serif">Ω</tspan></text>
<path d="M456.8 1280.8H502.5" stroke="#a0aa32" stroke-width="3.3" stroke-linecap="round"/>
<text x="510.3" y="1288.4" font-size="30" text-anchor="start" font-family="'Liberation Sans', Arial, sans-serif" >655 <tspan font-family="'Liberation Serif', 'Times New Roman', serif">Ω</tspan></text>
<path d="M456.8 1321.95H502.5" stroke="#5a8228" stroke-width="3.3" stroke-linecap="round"/>
<text x="510.3" y="1329.55" font-size="30" text-anchor="start" font-family="'Liberation Sans', Arial, sans-serif" >1096 <tspan font-family="'Liberation Serif', 'Times New Roman', serif">Ω</tspan></text>
<path d="M456.8 1363.1H502.5" stroke="#195028" stroke-width="3.3" stroke-linecap="round"/>
<text x="510.3" y="1370.7" font-size="30" text-anchor="start" font-family="'Liberation Sans', Arial, sans-serif" >1535 <tspan font-family="'Liberation Serif', 'Times New Roman', serif">Ω</tspan></text>
<text x="123.6" y="836.4" font-size="30" text-anchor="start" font-family="'Liberation Sans', Arial, sans-serif" >0.4 <tspan font-family="'Liberation Serif', 'Times New Roman', serif">μ</tspan>m ribbon // <tspan font-style="italic">c</tspan></text>
<text x="123.6" y="880" font-size="30" text-anchor="start" font-family="'Liberation Sans', Arial, sans-serif" ><tspan font-weight="bold">E</tspan> // <tspan font-style="italic">b</tspan></text>
<path d="M525.5 797.5L426.38 1043.25" stroke="#000" stroke-width="2.6" stroke-dasharray="7 4.5" fill="none"/>
<path d="M418.9 1061.8L421.1 1038.97L433.16 1043.83Z" fill="#000"/>
<text x="387.3" y="1098.2" font-size="30" text-anchor="start" font-family="'Liberation Sans', Arial, sans-serif" >Increasing</text>
<text x="387.3" y="1140" font-size="30" text-anchor="start" font-family="'Liberation Sans', Arial, sans-serif" ><tspan font-style="italic">t</tspan><tspan dy="7" font-size="20">intercalation</tspan></text>
<path d="M805 1161.6 806.3 1151.94 807.6 1142.72 808.9 1134 810.2 1125.4 811.5 1116.32 812.8 1107.36 814.1 1098.3 815.4 1090.24 816.7 1082.06 818 1074.79 819.3 1065.38 820.6 1058.8 821.9 1050.71 823.2 1043.69 824.5 1035.3 825.8 1028.94 827.1 1022.26 828.4 1015.11 829.7 1008.73 831 1001.81 832.3 995.19 833.6 988.06 834.9 982.14 836.2 975.85 837.5 970.05 838.8 965.62 840.1 958.35 841.4 953.23 842.7 947.72 844 942.55 845.3 937.28 846.6 930.82 847.9 926.67 849.2 920.84 850.5 915.87 851.8 912.14 853.1 906.75 854.4 901.48 855.7 896.77 857 892.86 858.3 887.44 859.6 884.68 860.9 880.09 862.2 876.12 863.5 872.28 864.8 868.31 866.1 864.83 867.4 860.54 868.7 857.45 870 853.79 871.3 851.9 872.6 848.08 873.9 845.26 875.2 841.79 876.5 839.25 877.8 836.68 879.1 833.99 880.4 831.62 881.7 830.47 883 827.88 884.3 826.54 885.6 824.73 886.9 822.77 888.2 821.14 889.5 820.05 890.8 818.07 892.1 816.01 893.4 814.61 894.7 813.31 896 811.83 897.3 811.7 898.6 810.04 899.9 809.91 901.2 808.02 902.5 807.56 903.8 808.48 905.1 806.62 906.4 806.95 907.7 806.91 909 807.37 910.3 807.77 911.6 808.3 912.9 808.61 914.2 808.19 915.5 808.82 916.8 808.48 918.1 809.76 919.4 809.24 920.7 811.11 922 809.98 923.3 811.74 924.6 812.03 925.9 812.04 927.2 814.02 928.5 813.39 929.8 815.21 931.1 814.71 932.4 815.5 933.7 814.98 935 816.26 936.3 817.31 937.6 817.56 938.9 818.37 940.2 819.02 941.5 820.36 942.8 821.08 944.1 823.63 945.4 823.08 946.7 824.57 948 825.91 949.3 826.82 950.6 828.27 951.9 828.74 953.2 830.16 954.5 831.33 955.8 832.39 957.1 834.86 958.4 835.84 959.7 835.96 961 838.47 962.3 840.52 963.6 841.21 964.9 842.91 966.2 844.3 967.5 845.59 968.8 846.41 970.1 847.9 971.4 849.34 972.7 851.38 974 852.23 975.3 852.99 976.6 855.67 977.9 856.65 979.2 858.25 980.5 859.81 981.8 862.16 983.1 863.14 984.4 864.78 985.7 866.94 987 868.2 988.3 869.34 989.6 870.43 990.9 873.36 992.2 875.66 993.5 875.73 994.8 877.46 996.1 879.42 997.4 881.64 998.7 883.12 1000 883.94 1001.3 885.99 1002.6 888.16 1003.9 888.65 1005.2 890.99 1006.5 891.44 1007.8 892.96 1009.1 894.83 1010.4 895.9 1011.7 896.36 1013 899.08 1014.3 900.19 1015.6 901.98 1016.9 902.16 1018.2 904.63 1019.5 905.39 1020.8 907.66 1022.1 907.42 1023.4 908.79 1024.7 910.21 1026 910.95 1027.3 912.87 1028.6 913.76 1029.9 913.54 1031.2 915.2 1032.5 916.49 1033.8 917.12 1035.1 917.18 1036.4 918.24 1037.7 918.72 1039 919.01 1040.3 919.73 1041.6 919.72 1042.9 921.01 1044.2 920.77 1045.5 921.97 1046.8 920.66 1048.1 922.1 1049.4 922.63 1050.7 923.07 1052 922.94 1053.3 924.02 1054.6 923.93 1055.9 924.19 1057.2 925.03 1058.5 925.31 1059.8 925.33 1061.1 925.37 1062.4 925.7 1063.7 926.37 1065 926.44 1066.3 926.12 1067.6 927.01 1068.9 926.4 1070.2 927.27 1071.5 927.55 1072.8 927.87 1074.1 927.86 1075.4 927.95 1076.7 929.32 1078 928.16 1079.3 928.86 1080.6 929.54 1081.9 929.1 1083.2 929.52 1084.5 930.31 1085.8 930.26 1087.1 930.13 1088.4 930.25 1089.7 930.67 1091 932.16 1092.3 931 1093.6 931.45 1094.9 932.38 1096.2 931.57 1097.5 932.06 1098.8 932.38 1100.1 932.83 1101.4 932.69 1102.7 934.04 1104 933.51 1105.3 933.91 1106.6 933.78 1107.9 934.82 1109.2 933.62 1110.5 933.7 1111.8 934.52 1113.1 934.39 1114.4 934.92 1115.7 935.04 1117 935.25 1118.3 934.92 1119.6 935.37 1120.9 935.77 1122.2 935.24 1123.5 935.81 1124.8 936.14 1126.1 936.87 1127.4 936.54 1128.7 936.08 1130 936.05 1131.3 936.46 1132.6 936.54 1133.9 936.92 1135.2 935.51 1136.5 936.74 1137.8 936.39 1139.1 936.13 1140.4 935.62 1141.7 935.83 1143 935.92 1144.3 936.17 1145.6 936.09 1146.9 935.09 1148.2 935.88 1149.5 934.91 1150.8 935.18 1152.1 933.7 1153.4 934.35 1154.7 933.77 1156 933.78 1157.3 933.66 1158.6 933.74 1159.9 933.06 1161.2 932.14 1162.5 932.29 1163.8 931.25 1165.1 930.99 1166.4 932.92 1167.7 931.15 1169 931.55 1170.3 931.02 1171.6 930.89 1172.9 928.61 1174.2 930.08 1175.5 930.41 1176.8 929.88 1178.1 928.62 1179.4 928.96 1180.7 927.19 1182 928.62 1183.3 926.42 1184.6 925.18 1185.9 926.16 1187.2 924.99 1188.5 926.04 1189.8 925.26 1191.1 924.43 1192.4 924.5 1193.7 923.15 1195 925.37 1196.3 923 1197.6 923.61 1198.9 922.43 1200.2 919.77 1201.5 921.33 1202.8 920.34 1204.1 920.47 1205.4 918.55 1206.7 918.36 1208 918.21 1209.3 917.8 1210.6 916.5 1211.9 916.62 1213.2 915.29 1214.5 913.03 1215.8 915.26 1217.1 915.61 1218.4 913.51 1219.7 911.43 1221 911.57 1222.3 911.85 1223.6 910.68 1224.9 910 1226.2 909.93 1227.5 909.91 1228.8 905.38 1230.1 906.02 1231.4 905.87 1232.7 907.71 1234 906.94 1235.3 905.9 1236.6 902.58 1237.9 903.37 1239.2 901.49 1240.5 901.56 1241.8 899.2 1243.1 902.53 1244.4 899.22 1245.7 897.21 1247 899.73 1248.3 899.56 1249.6 894.78 1250.9 898.73 1252.2 895.23 1253.5 892.89 1254.8 895.3 1256.1 892.2 1257.4 895.07 1258.7 892.49 1260 892.35 1261.3 889.86 1262.6 889.43 1263.9 892.15 1265.2 891.6 1266.5 887.82 1267.8 890.4 1269.1 888.29 1270.4 886.75 1271.7 887.01 1273 889.84 1274.3 888.17 1275.6 883.5 1276.9 882.71 1278.2 883.67 1279.5 883.18 1280.8 882.32 1282.1 884.22 1283.4 882.8 1284.7 880.32 1286 878.49 1287.3 881.18 1288.6 880.27 1289.9 877.22 1291.2 876.22 1292.5 878.89 1293.8 874.02 1295.1 877.01 1296.4 876.23 1297.7 876.41 1299 871.84 1300.3 873.55 1301.6 875.35 1302.9 874.11 1304.2 874.56 1305.5 870.82 1306.8 871.42 1308.1 872.94 1309.4 867.35 1310.7 867.62 1312 868.49 1313.3 865.95 1314.6 868.07 1315.9 865.25 1317.2 866.7 1318.5 863.04 1319.8 863.05 1321.1 863.05 1322.4 864.48" fill="none" stroke="#ee1c25" stroke-width="3.4" stroke-linejoin="round" stroke-linecap="round" />
<path d="M805 1143.33 806.3 1135.16 807.6 1127.51 808.9 1121.16 810.2 1115.47 811.5 1108.1 812.8 1101.26 814.1 1095.05 815.4 1088.86 816.7 1083.13 818 1076.92 819.3 1071.9 820.6 1065.78 821.9 1061.01 823.2 1056.11 824.5 1052.07 825.8 1048.99 827.1 1043.52 828.4 1039.89 829.7 1036.7 831 1034.03 832.3 1030.25 833.6 1026.44 834.9 1023.65 836.2 1019.86 837.5 1016.92 838.8 1014.16 840.1 1011.87 841.4 1008.7 842.7 1006.14 844 1004.05 845.3 1000.69 846.6 998.98 847.9 995.45 849.2 994.51 850.5 990.49 851.8 987.89 853.1 986.72 854.4 984.34 855.7 982.65 857 980.58 858.3 977.44 859.6 976.09 860.9 975.27 862.2 971.99 863.5 970.99 864.8 968.3 866.1 966.16 867.4 963.9 868.7 962.2 870 959.88 871.3 959.5 872.6 956.91 873.9 954.86 875.2 953.88 876.5 951.33 877.8 950.44 879.1 948.99 880.4 947.61 881.7 945.91 883 945.03 884.3 943.07 885.6 942.28 886.9 941.53 888.2 940.08 889.5 939.52 890.8 937.14 892.1 937.87 893.4 937.16 894.7 936.12 896 936 897.3 935.88 898.6 934.65 899.9 934.24 901.2 933.26 902.5 932.84 903.8 932.89 905.1 932.25 906.4 932.74 907.7 933.2 909 932.81 910.3 932.86 911.6 932.77 912.9 933.81 914.2 933.53 915.5 933.77 916.8 934.16 918.1 934.7 919.4 934.05 920.7 934.59 922 935.6 923.3 935.17 924.6 935.9 925.9 937.21 927.2 935.78 928.5 936.8 929.8 937.34 931.1 938.07 932.4 937.67 933.7 937.4 935 937.8 936.3 938.56 937.6 938.24 938.9 940.29 940.2 939.33 941.5 940.76 942.8 940.91 944.1 941.12 945.4 941.74 946.7 941.4 948 942.38 949.3 943.3 950.6 943.61 951.9 944.29 953.2 944.77 954.5 945.72 955.8 945.34 957.1 946.33 958.4 947.2 959.7 947.11 961 947.46 962.3 948.58 963.6 949.06 964.9 948.79 966.2 949.14 967.5 950.13 968.8 950.77 970.1 950.36 971.4 950.65 972.7 951.6 974 952.89 975.3 951.82 976.6 951.98 977.9 952.03 979.2 953.2 980.5 952.8 981.8 952.34 983.1 952.69 984.4 952.96 985.7 953.54 987 953.94 988.3 954.5 989.6 953.93 990.9 954.85 992.2 954.17 993.5 955.29 994.8 955.31 996.1 955.7 997.4 955.12 998.7 955.68 1000 956.26 1001.3 957.26 1002.6 957.09 1003.9 957.66 1005.2 957.73 1006.5 958.41 1007.8 958.3 1009.1 959.45 1010.4 959.44 1011.7 959.81 1013 961.12 1014.3 961.8 1015.6 961.95 1016.9 963.35 1018.2 963.29 1019.5 964.86 1020.8 964.72 1022.1 966.66 1023.4 966.73 1024.7 968.21 1026 969.15 1027.3 969.81 1028.6 969.92 1029.9 971.22 1031.2 972.13 1032.5 973.11 1033.8 973.45 1035.1 974 1036.4 975.32 1037.7 975.17 1039 975.95 1040.3 974.81 1041.6 975.58 1042.9 976.04 1044.2 975.9 1045.5 975.91 1046.8 976.56 1048.1 976.8 1049.4 976.08 1050.7 975.52 1052 975.06 1053.3 975.09 1054.6 976.23 1055.9 974.84 1057.2 974.5 1058.5 974.44 1059.8 974.92 1061.1 973.83 1062.4 974.4 1063.7 973.26 1065 972.65 1066.3 972.41 1067.6 972.08 1068.9 971.66 1070.2 971.02 1071.5 971.48 1072.8 971.38 1074.1 970.78 1075.4 970.16 1076.7 970.54 1078 970.1 1079.3 969.73 1080.6 970.06 1081.9 970.2 1083.2 969.16 1084.5 968.86 1085.8 969.65 1087.1 969.04 1088.4 969.72 1089.7 969.06 1091 968.75 1092.3 968.19 1093.6 967.9 1094.9 968.77 1096.2 968.33 1097.5 967.88 1098.8 967.73 1100.1 967.77 1101.4 967.4 1102.7 967.62 1104 967.31 1105.3 967.99 1106.6 967.57 1107.9 967 1109.2 966.93 1110.5 967.73 1111.8 967.43 1113.1 967.26 1114.4 966.29 1115.7 966.81 1117 966.57 1118.3 966.89 1119.6 966.97 1120.9 966.99 1122.2 966.97 1123.5 965.69 1124.8 966.81 1126.1 965.81 1127.4 966.77 1128.7 966.69 1130 965.29 1131.3 965.93 1132.6 965.7 1133.9 965.53 1135.2 965.69 1136.5 965.45 1137.8 964.11 1139.1 964.98 1140.4 964.83 1141.7 965.07 1143 965.51 1144.3 965.23 1145.6 964.69 1146.9 964.52 1148.2 964.48 1149.5 962.97 1150.8 963.52 1152.1 964.24 1153.4 963.99 1154.7 963.84 1156 963.39 1157.3 963.63 1158.6 962.99 1159.9 962.88 1161.2 961.73 1162.5 961.56 1163.8 961.69 1165.1 961 1166.4 962.41 1167.7 961.34 1169 960.57 1170.3 961.18 1171.6 960.59 1172.9 958.75 1174.2 959.43 1175.5 959.26 1176.8 959.09 1178.1 958.78 1179.4 957 1180.7 956.99 1182 956.78 1183.3 957.76 1184.6 957.24 1185.9 956.84 1187.2 956.88 1188.5 953.87 1189.8 952.81 1191.1 953.99 1192.4 953.06 1193.7 953.71 1195 953.59 1196.3 951.91 1197.6 950.55 1198.9 949.87 1200.2 950.75 1201.5 950.14 1202.8 948.93 1204.1 946.15 1205.4 948.38 1206.7 945.47 1208 945.99 1209.3 942.6 1210.6 944.48 1211.9 944.07 1213.2 941.54 1214.5 941.31 1215.8 940.14 1217.1 939.7 1218.4 936.08 1219.7 936.04 1221 937.36 1222.3 936.45 1223.6 935.62 1224.9 934.32 1226.2 931.98 1227.5 931.64 1228.8 930.8 1230.1 931.48 1231.4 928.34 1232.7 927.98 1234 927.79 1235.3 925.18 1236.6 925.6 1237.9 924.87 1239.2 924.33 1240.5 922.73 1241.8 924.07 1243.1 921.44 1244.4 923.33 1245.7 918.64 1247 919.48 1248.3 918.85 1249.6 918.62 1250.9 916.66 1252.2 916.29 1253.5 913.94 1254.8 912.81 1256.1 918.08 1257.4 914.65 1258.7 913 1260 911.22 1261.3 912.63 1262.6 910.1 1263.9 909.94 1265.2 911.83 1266.5 909.1 1267.8 906.43 1269.1 905 1270.4 902.94 1271.7 902.24 1273 906.02 1274.3 903.93 1275.6 905.1 1276.9 903.21 1278.2 903.05 1279.5 898.65 1280.8 900.53 1282.1 901.16 1283.4 901.72 1284.7 900.28 1286 899.35 1287.3 899.16 1288.6 896.11 1289.9 894.44 1291.2 894.82 1292.5 894.61 1293.8 896.01 1295.1 896.15 1296.4 892.94 1297.7 889.97 1299 890.64 1300.3 892.95 1301.6 888.85 1302.9 892.75 1304.2 888.12 1305.5 890.55 1306.8 885.4 1308.1 890.06 1309.4 881.97 1310.7 886.67 1312 886.9 1313.3 885.52 1314.6 884.83 1315.9 883.96 1317.2 883.58 1318.5 887.93 1319.8 881.24 1321.1 885.52 1322.4 885.13" fill="none" stroke="#f05a28" stroke-width="3.4" stroke-linejoin="round" stroke-linecap="round" />
<path d="M805 1124.61 806.3 1117.83 807.6 1112.11 808.9 1106.93 810.2 1101.19 811.5 1097.08 812.8 1091.6 814.1 1086.4 815.4 1081.78 816.7 1076.04 818 1071.03 819.3 1067.23 820.6 1062.82 821.9 1058.07 823.2 1054.65 824.5 1051.21 825.8 1046.63 827.1 1043.49 828.4 1040.29 829.7 1037.31 831 1034.74 832.3 1031.97 833.6 1029.96 834.9 1026.67 836.2 1024.61 837.5 1023.04 838.8 1020.39 840.1 1018.32 841.4 1016.61 842.7 1014.91 844 1012.72 845.3 1011.47 846.6 1010.15 847.9 1007.11 849.2 1005.33 850.5 1005.22 851.8 1003.1 853.1 1002.75 854.4 1002.09 855.7 999.5 857 998.21 858.3 997.27 859.6 996.34 860.9 995.2 862.2 993.87 863.5 993.53 864.8 991.49 866.1 991.65 867.4 990.59 868.7 990.21 870 988.8 871.3 988.06 872.6 986.56 873.9 986.23 875.2 985.71 876.5 985.06 877.8 983.93 879.1 983.92 880.4 983.17 881.7 981.73 883 980.41 884.3 980.59 885.6 980.74 886.9 980.48 888.2 980.06 889.5 979.86 890.8 980.29 892.1 979.75 893.4 979.11 894.7 980.01 896 980.73 897.3 980.03 898.6 980.88 899.9 981.06 901.2 981.02 902.5 981.47 903.8 981.15 905.1 981.89 906.4 982.85 907.7 982.48 909 982.37 910.3 983.9 911.6 983.01 912.9 984.76 914.2 984.46 915.5 985.11 916.8 985.41 918.1 985.69 919.4 986.6 920.7 986.51 922 986.61 923.3 987.43 924.6 987.06 925.9 988.21 927.2 987.9 928.5 989.12 929.8 989.85 931.1 990.21 932.4 990.24 933.7 989.46 935 990.82 936.3 991.98 937.6 991.52 938.9 992.44 940.2 992.32 941.5 993.75 942.8 992.53 944.1 993.69 945.4 994.2 946.7 995.06 948 995.3 949.3 995.81 950.6 995.16 951.9 997.54 953.2 997.18 954.5 997.25 955.8 998.59 957.1 997.89 958.4 998.96 959.7 999.65 961 999.93 962.3 1000.06 963.6 1000.26 964.9 1000.18 966.2 1001.09 967.5 1000.64 968.8 1001.95 970.1 1002.09 971.4 1001.91 972.7 1001.22 974 1002.55 975.3 1002.7 976.6 1002.07 977.9 1002.51 979.2 1002.89 980.5 1003.26 981.8 1002.89 983.1 1002.8 984.4 1003.04 985.7 1002.93 987 1004.26 988.3 1004.39 989.6 1002.74 990.9 1003.58 992.2 1004.55 993.5 1004.58 994.8 1004.94 996.1 1004.73 997.4 1004.49 998.7 1004.54 1000 1005.16 1001.3 1004.88 1002.6 1004.08 1003.9 1005.05 1005.2 1004.36 1006.5 1005.71 1007.8 1005.7 1009.1 1005.75 1010.4 1006.26 1011.7 1005.74 1013 1006.71 1014.3 1007.15 1015.6 1007.97 1016.9 1008.38 1018.2 1009.13 1019.5 1009.75 1020.8 1009.64 1022.1 1010.34 1023.4 1012.03 1024.7 1011.78 1026 1012.72 1027.3 1013.77 1028.6 1013.87 1029.9 1015.59 1031.2 1014.76 1032.5 1015.43 1033.8 1015.29 1035.1 1017.02 1036.4 1016.88 1037.7 1017.68 1039 1017.93 1040.3 1019.02 1041.6 1018.33 1042.9 1017.98 1044.2 1017.97 1045.5 1018.5 1046.8 1017.21 1048.1 1017.73 1049.4 1017.11 1050.7 1017.19 1052 1017.96 1053.3 1016.77 1054.6 1016.72 1055.9 1017.01 1057.2 1015.64 1058.5 1016.06 1059.8 1015.12 1061.1 1015.39 1062.4 1014.73 1063.7 1015.01 1065 1014.13 1066.3 1013.99 1067.6 1014.03 1068.9 1012.95 1070.2 1013.18 1071.5 1012.51 1072.8 1012.21 1074.1 1011.09 1075.4 1011.14 1076.7 1010.75 1078 1010.66 1079.3 1010.5 1080.6 1010.13 1081.9 1009.65 1083.2 1008.81 1084.5 1008.53 1085.8 1008.65 1087.1 1007.59 1088.4 1007.64 1089.7 1007.43 1091 1007.37 1092.3 1007.1 1093.6 1006.01 1094.9 1006.51 1096.2 1005.04 1097.5 1005.29 1098.8 1005.67 1100.1 1004.8 1101.4 1004.81 1102.7 1005.42 1104 1003.88 1105.3 1003.57 1106.6 1002.39 1107.9 1003.16 1109.2 1003.32 1110.5 1002.45 1111.8 1002.07 1113.1 1003.04 1114.4 1001.45 1115.7 1001.12 1117 1000.77 1118.3 999.93 1119.6 1000.39 1120.9 1000.3 1122.2 999.87 1123.5 999.42 1124.8 998.37 1126.1 998.15 1127.4 999.28 1128.7 997.11 1130 996.7 1131.3 996.96 1132.6 995.95 1133.9 995.71 1135.2 995.25 1136.5 995.03 1137.8 995.1 1139.1 995.16 1140.4 994.53 1141.7 994.45 1143 993.56 1144.3 992.16 1145.6 992.64 1146.9 991.84 1148.2 992.34 1149.5 992.09 1150.8 991.2 1152.1 991.02 1153.4 990.99 1154.7 990.9 1156 989.54 1157.3 990.01 1158.6 988.87 1159.9 989.23 1161.2 986.85 1162.5 987.71 1163.8 987.78 1165.1 986.4 1166.4 985.2 1167.7 985.59 1169 985.78 1170.3 985.84 1171.6 985.56 1172.9 984.72 1174.2 983.26 1175.5 983.13 1176.8 983.87 1178.1 983.77 1179.4 982.75 1180.7 983.74 1182 981.35 1183.3 981.39 1184.6 981.14 1185.9 980.36 1187.2 978.99 1188.5 978.52 1189.8 979.26 1191.1 979.16 1192.4 979.94 1193.7 977.94 1195 974.91 1196.3 975.66 1197.6 974.95 1198.9 975.14 1200.2 976.04 1201.5 975.39 1202.8 974.91 1204.1 972.69 1205.4 973.26 1206.7 973.11 1208 974.84 1209.3 973.56 1210.6 971.44 1211.9 972.08 1213.2 970.75 1214.5 969.76 1215.8 969.16 1217.1 967 1218.4 970.29 1219.7 968.09 1221 965.98 1222.3 966.28 1223.6 965.56 1224.9 965.48 1226.2 964.51 1227.5 966.57 1228.8 961.79 1230.1 964.67 1231.4 962.55 1232.7 963.36 1234 960.78 1235.3 959.53 1236.6 960.46 1237.9 962.42 1239.2 957.2 1240.5 959.23 1241.8 959.54 1243.1 957.55 1244.4 956 1245.7 958.4 1247 954.84 1248.3 955.24 1249.6 953.67 1250.9 953.41 1252.2 951.1 1253.5 949.97 1254.8 952.26 1256.1 949.68 1257.4 949.73 1258.7 946.27 1260 948.78 1261.3 948.62 1262.6 945.97 1263.9 942.29 1265.2 945.35 1266.5 940.54 1267.8 943.4 1269.1 943.03 1270.4 938.61 1271.7 938.74 1273 936.68 1274.3 936.71 1275.6 934.86 1276.9 933.52 1278.2 932.53 1279.5 935.96 1280.8 934.24 1282.1 935.02 1283.4 931.52 1284.7 933.78 1286 927.98 1287.3 929.28 1288.6 928.03 1289.9 925.43 1291.2 924.99 1292.5 923.28 1293.8 924.93 1295.1 922.48 1296.4 923.78 1297.7 922.71 1299 920.74 1300.3 918.73 1301.6 918.53 1302.9 919.82 1304.2 917.62 1305.5 915.41 1306.8 914.56 1308.1 917.82 1309.4 912.21 1310.7 911.42 1312 912.24 1313.3 908.78 1314.6 905.6 1315.9 905.76 1317.2 905.47 1318.5 905.05 1319.8 903.51 1321.1 900.74 1322.4 901.9" fill="none" stroke="#f07f2a" stroke-width="3.4" stroke-linejoin="round" stroke-linecap="round" />
<path d="M805 1104.7 806.3 1101.07 807.6 1097.97 808.9 1094.66 810.2 1089.93 811.5 1087.87 812.8 1083.84 814.1 1079.7 815.4 1076.43 816.7 1073.6 818 1070.34 819.3 1066.95 820.6 1063.88 821.9 1062.41 823.2 1059.05 824.5 1057.79 825.8 1055.76 827.1 1052.45 828.4 1051.35 829.7 1048.66 831 1048.2 832.3 1046.22 833.6 1043.81 834.9 1043.09 836.2 1041.98 837.5 1041.03 838.8 1040.36 840.1 1037.68 841.4 1037.37 842.7 1037.65 844 1035.05 845.3 1033.92 846.6 1033.33 847.9 1031.79 849.2 1031.89 850.5 1030.85 851.8 1030.49 853.1 1029.93 854.4 1029.76 855.7 1028.19 857 1028.12 858.3 1026.79 859.6 1027.91 860.9 1027.4 862.2 1027.49 863.5 1027.14 864.8 1027.32 866.1 1027.91 867.4 1027.46 868.7 1027.71 870 1027.67 871.3 1027.93 872.6 1028.54 873.9 1028.1 875.2 1028.38 876.5 1028.52 877.8 1028.96 879.1 1029.39 880.4 1029.41 881.7 1029.87 883 1030.7 884.3 1030.35 885.6 1030.73 886.9 1031.76 888.2 1031.62 889.5 1032.23 890.8 1031.81 892.1 1032.61 893.4 1034.21 894.7 1033.84 896 1033.94 897.3 1034.43 898.6 1034.2 899.9 1034.67 901.2 1035.47 902.5 1036.31 903.8 1035.5 905.1 1038.05 906.4 1037.23 907.7 1038.01 909 1037.72 910.3 1038.88 911.6 1040.11 912.9 1040.97 914.2 1040.86 915.5 1041.48 916.8 1042.37 918.1 1044.3 919.4 1044.08 920.7 1045.51 922 1045.94 923.3 1047.3 924.6 1047.6 925.9 1047.82 927.2 1048.41 928.5 1050 929.8 1050.35 931.1 1051.13 932.4 1052.23 933.7 1052.41 935 1053.27 936.3 1053.38 937.6 1053.9 938.9 1054.69 940.2 1055.73 941.5 1057.47 942.8 1057.84 944.1 1058.51 945.4 1058.98 946.7 1060.25 948 1061.87 949.3 1062.42 950.6 1062.83 951.9 1063.47 953.2 1064.55 954.5 1064.9 955.8 1065.89 957.1 1066.4 958.4 1066.9 959.7 1066.53 961 1066.57 962.3 1067.93 963.6 1066.82 964.9 1066.82 966.2 1067.02 967.5 1067.06 968.8 1066.45 970.1 1066.61 971.4 1065.11 972.7 1064.62 974 1064.34 975.3 1064.37 976.6 1063.76 977.9 1062.8 979.2 1062.79 980.5 1062.04 981.8 1061.36 983.1 1060.72 984.4 1060.8 985.7 1060.11 987 1060.16 988.3 1059.64 989.6 1059.81 990.9 1059.98 992.2 1059.84 993.5 1060.26 994.8 1060.15 996.1 1060.04 997.4 1060.51 998.7 1059.61 1000 1060.76 1001.3 1059.55 1002.6 1060.81 1003.9 1060.92 1005.2 1061.09 1006.5 1060.67 1007.8 1060.89 1009.1 1060.98 1010.4 1060.74 1011.7 1060.87 1013 1061.17 1014.3 1060.98 1015.6 1060.88 1016.9 1061.08 1018.2 1061.11 1019.5 1061.7 1020.8 1060.8 1022.1 1060.94 1023.4 1061.6 1024.7 1061.12 1026 1060.99 1027.3 1061.47 1028.6 1061.76 1029.9 1062.02 1031.2 1061.11 1032.5 1061.4 1033.8 1061.7 1035.1 1061.81 1036.4 1061.98 1037.7 1061.89 1039 1061.68 1040.3 1061.28 1041.6 1061.67 1042.9 1062.56 1044.2 1062.43 1045.5 1061.97 1046.8 1061.13 1048.1 1061.11 1049.4 1061.38 1050.7 1059.85 1052 1059.65 1053.3 1059.67 1054.6 1058.02 1055.9 1058.49 1057.2 1057.21 1058.5 1057.62 1059.8 1055.78 1061.1 1055.17 1062.4 1054.14 1063.7 1053.7 1065 1051.88 1066.3 1051.08 1067.6 1049.53 1068.9 1047.93 1070.2 1047.47 1071.5 1046.37 1072.8 1044.85 1074.1 1043.54 1075.4 1042.86 1076.7 1041.57 1078 1040.19 1079.3 1040.28 1080.6 1037.84 1081.9 1037.19 1083.2 1034.98 1084.5 1035.01 1085.8 1032.98 1087.1 1031.69 1088.4 1030.64 1089.7 1029.68 1091 1028.4 1092.3 1027.19 1093.6 1026.58 1094.9 1025.28 1096.2 1024.71 1097.5 1023.86 1098.8 1022.8 1100.1 1022.49 1101.4 1021.57 1102.7 1020.73 1104 1019.61 1105.3 1018.21 1106.6 1019.54 1107.9 1017.93 1109.2 1016.8 1110.5 1016.39 1111.8 1015.43 1113.1 1014.6 1114.4 1013.2 1115.7 1012.54 1117 1012.68 1118.3 1012.13 1119.6 1011.48 1120.9 1009.6 1122.2 1009.82 1123.5 1009.84 1124.8 1008.29 1126.1 1007.57 1127.4 1006.79 1128.7 1005.04 1130 1005.58 1131.3 1004.92 1132.6 1003.76 1133.9 1002.81 1135.2 1002.29 1136.5 1001.96 1137.8 1001.66 1139.1 1000.58 1140.4 1000.06 1141.7 999.33 1143 998.43 1144.3 997.7 1145.6 997.62 1146.9 996.87 1148.2 996.47 1149.5 996.91 1150.8 995.69 1152.1 994.21 1153.4 994.59 1154.7 993.91 1156 994.37 1157.3 993.18 1158.6 993.14 1159.9 992.39 1161.2 991.83 1162.5 990.04 1163.8 991.32 1165.1 991.42 1166.4 989.61 1167.7 990.52 1169 988.22 1170.3 988.81 1171.6 988.53 1172.9 988.7 1174.2 988.23 1175.5 986.84 1176.8 988.31 1178.1 985.49 1179.4 985.64 1180.7 985.37 1182 983.83 1183.3 984.21 1184.6 984.82 1185.9 986 1187.2 985.29 1188.5 983.73 1189.8 983.88 1191.1 980.78 1192.4 982.92 1193.7 983.68 1195 981.14 1196.3 982.62 1197.6 980.15 1198.9 980.97 1200.2 980.68 1201.5 980.71 1202.8 980.41 1204.1 981.08 1205.4 980.04 1206.7 978.8 1208 978.19 1209.3 977.01 1210.6 977.15 1211.9 975.32 1213.2 974.96 1214.5 977.23 1215.8 976.76 1217.1 976.42 1218.4 974.55 1219.7 975.26 1221 972.11 1222.3 974.86 1223.6 974.24 1224.9 974.65 1226.2 972.82 1227.5 972.15 1228.8 969.73 1230.1 972.64 1231.4 970.62 1232.7 969.27 1234 969.91 1235.3 971.03 1236.6 971.76 1237.9 967.93 1239.2 965.54 1240.5 966.52 1241.8 966.53 1243.1 965.68 1244.4 966.09 1245.7 964.6 1247 964.11 1248.3 965.06 1249.6 960.75 1250.9 962.8 1252.2 963.24 1253.5 960.61 1254.8 960.57 1256.1 961.17 1257.4 962.42 1258.7 955.99 1260 959.03 1261.3 957.68 1262.6 951.94 1263.9 956.61 1265.2 953.63 1266.5 958.31 1267.8 956.87 1269.1 950.94 1270.4 953.91 1271.7 950.27 1273 950.77 1274.3 952.06 1275.6 949.83 1276.9 949.11 1278.2 943.56 1279.5 943.9 1280.8 943.97 1282.1 946.72 1283.4 946.57 1284.7 944.88 1286 944.38 1287.3 941.43 1288.6 943.66 1289.9 943.42 1291.2 939.74 1292.5 940.17 1293.8 941.92 1295.1 936.08 1296.4 936.03 1297.7 937.03 1299 935.16 1300.3 932.29 1301.6 933.53 1302.9 932.47 1304.2 933.17 1305.5 933.38 1306.8 927.01 1308.1 926.74 1309.4 930.63 1310.7 926.5 1312 924.75 1313.3 923.03 1314.6 924.64 1315.9 920.31 1317.2 922.22 1318.5 918.97 1319.8 918.04 1321.1 915.03 1322.4 918.62" fill="none" stroke="#efa52d" stroke-width="3.4" stroke-linejoin="round" stroke-linecap="round" />
<path d="M805 1127.15 806.3 1123.14 807.6 1120.37 808.9 1116.15 810.2 1112.02 811.5 1108.04 812.8 1104.58 814.1 1101.8 815.4 1097.68 816.7 1095.72 818 1092.49 819.3 1090.41 820.6 1088.69 821.9 1087.83 823.2 1086.44 824.5 1086.38 825.8 1085.87 827.1 1085.11 828.4 1085.59 829.7 1085.11 831 1086.49 832.3 1085.05 833.6 1085.68 834.9 1084.97 836.2 1085.6 837.5 1086.04 838.8 1085.81 840.1 1085.85 841.4 1085.97 842.7 1085.13 844 1085.08 845.3 1085.16 846.6 1085.42 847.9 1085.08 849.2 1084.56 850.5 1085.5 851.8 1085.05 853.1 1085.73 854.4 1085.24 855.7 1084.88 857 1086.14 858.3 1086.7 859.6 1086.77 860.9 1087.26 862.2 1087.68 863.5 1089.98 864.8 1089.79 866.1 1091.84 867.4 1093.72 868.7 1094.16 870 1094.74 871.3 1097.48 872.6 1098.97 873.9 1101.09 875.2 1101.44 876.5 1103.95 877.8 1104.45 879.1 1107.06 880.4 1109.34 881.7 1110.83 883 1111.86 884.3 1113.28 885.6 1115.1 886.9 1116.31 888.2 1117.89 889.5 1119.34 890.8 1120 892.1 1121.52 893.4 1123.01 894.7 1123.15 896 1124.9 897.3 1125.75 898.6 1125.48 899.9 1126.42 901.2 1126.68 902.5 1126.28 903.8 1128.01 905.1 1128.32 906.4 1127.88 907.7 1128.62 909 1128.76 910.3 1129.93 911.6 1129.57 912.9 1130.46 914.2 1130.51 915.5 1129.84 916.8 1131.34 918.1 1131.06 919.4 1131.8 920.7 1132.62 922 1132.29 923.3 1132.16 924.6 1132.62 925.9 1132.63 927.2 1133.55 928.5 1133.98 929.8 1132.4 931.1 1133.56 932.4 1133.94 933.7 1134.93 935 1134.67 936.3 1135.59 937.6 1135.89 938.9 1135.11 940.2 1135.85 941.5 1136.3 942.8 1136.04 944.1 1136.57 945.4 1136.61 946.7 1137.64 948 1137.58 949.3 1138.54 950.6 1138.88 951.9 1138.95 953.2 1139.29 954.5 1139.08 955.8 1140.27 957.1 1140.07 958.4 1139.8 959.7 1139.55 961 1139.92 962.3 1139.74 963.6 1140.66 964.9 1139.92 966.2 1139.1 967.5 1138.95 968.8 1138.23 970.1 1138.25 971.4 1138 972.7 1137.28 974 1136.28 975.3 1135.65 976.6 1135.3 977.9 1134.05 979.2 1132.88 980.5 1131.16 981.8 1130.87 983.1 1130.28 984.4 1130.27 985.7 1128.37 987 1128.15 988.3 1127.01 989.6 1126.25 990.9 1126.99 992.2 1125.64 993.5 1125.93 994.8 1125.15 996.1 1124.06 997.4 1125.01 998.7 1124.12 1000 1122.91 1001.3 1124.44 1002.6 1124.82 1003.9 1123.21 1005.2 1123.2 1006.5 1122.91 1007.8 1122.28 1009.1 1122.76 1010.4 1121.55 1011.7 1121.76 1013 1122.73 1014.3 1121.95 1015.6 1121.47 1016.9 1121.34 1018.2 1120.68 1019.5 1119.99 1020.8 1119.78 1022.1 1118.87 1023.4 1118.07 1024.7 1118.61 1026 1117.57 1027.3 1117.62 1028.6 1117.33 1029.9 1116.23 1031.2 1115.54 1032.5 1114.29 1033.8 1113.51 1035.1 1112.77 1036.4 1111.76 1037.7 1111.22 1039 1109.61 1040.3 1109.48 1041.6 1107.69 1042.9 1106.87 1044.2 1105.88 1045.5 1104.26 1046.8 1103.39 1048.1 1101.49 1049.4 1100.99 1050.7 1099.78 1052 1098.22 1053.3 1096.36 1054.6 1095.78 1055.9 1093.24 1057.2 1092.37 1058.5 1090.99 1059.8 1090 1061.1 1087.63 1062.4 1086.41 1063.7 1084.84 1065 1082.85 1066.3 1081.46 1067.6 1081.02 1068.9 1079.38 1070.2 1077.64 1071.5 1076.66 1072.8 1074.99 1074.1 1073.11 1075.4 1071.58 1076.7 1070.9 1078 1068.64 1079.3 1068.2 1080.6 1066.81 1081.9 1066.12 1083.2 1064.71 1084.5 1062.29 1085.8 1060.97 1087.1 1060.2 1088.4 1057.89 1089.7 1055.46 1091 1054.04 1092.3 1053.01 1093.6 1050.83 1094.9 1049.31 1096.2 1048.01 1097.5 1046.26 1098.8 1045.14 1100.1 1043.95 1101.4 1041.59 1102.7 1040.32 1104 1038.24 1105.3 1037.45 1106.6 1035.19 1107.9 1034.66 1109.2 1033.71 1110.5 1031.93 1111.8 1030.58 1113.1 1029.77 1114.4 1028.66 1115.7 1027.16 1117 1026.79 1118.3 1026.92 1119.6 1025.67 1120.9 1024.62 1122.2 1023.43 1123.5 1023.04 1124.8 1021.45 1126.1 1022.19 1127.4 1021.12 1128.7 1019.71 1130 1019.3 1131.3 1018 1132.6 1017.15 1133.9 1016.85 1135.2 1016.7 1136.5 1015.97 1137.8 1015.19 1139.1 1014.26 1140.4 1014.35 1141.7 1014.52 1143 1012.68 1144.3 1012.18 1145.6 1011.48 1146.9 1011.06 1148.2 1009.8 1149.5 1010.36 1150.8 1008.98 1152.1 1008.24 1153.4 1008.48 1154.7 1008.55 1156 1007.44 1157.3 1005.85 1158.6 1006.61 1159.9 1006.42 1161.2 1005.07 1162.5 1005.57 1163.8 1004.54 1165.1 1004.53 1166.4 1004.19 1167.7 1002.71 1169 1002.35 1170.3 1002.17 1171.6 1001.86 1172.9 1000.39 1174.2 1000.19 1175.5 1000.43 1176.8 1000.28 1178.1 997.62 1179.4 998.52 1180.7 999.07 1182 999.07 1183.3 996.04 1184.6 995.66 1185.9 995.49 1187.2 995.53 1188.5 994.92 1189.8 994.02 1191.1 993.14 1192.4 992.57 1193.7 992.4 1195 992.66 1196.3 993.26 1197.6 991.64 1198.9 990.8 1200.2 989.41 1201.5 989.6 1202.8 986.79 1204.1 988.74 1205.4 988.7 1206.7 987.08 1208 986.71 1209.3 986.67 1210.6 986.01 1211.9 985.82 1213.2 985.96 1214.5 985.11 1215.8 984.23 1217.1 983.87 1218.4 982.07 1219.7 982.24 1221 983.2 1222.3 982.44 1223.6 980.59 1224.9 981.35 1226.2 977.87 1227.5 979.92 1228.8 978.48 1230.1 978.09 1231.4 978.45 1232.7 978.36 1234 975.09 1235.3 975.07 1236.6 974.96 1237.9 976.38 1239.2 976.44 1240.5 976.05 1241.8 973.72 1243.1 974.47 1244.4 974.09 1245.7 971.38 1247 971.01 1248.3 973.1 1249.6 970.38 1250.9 971.26 1252.2 968.42 1253.5 968.76 1254.8 967.78 1256.1 968.87 1257.4 967.31 1258.7 969.27 1260 966.41 1261.3 965.73 1262.6 962.94 1263.9 964.96 1265.2 963.15 1266.5 964.81 1267.8 962.11 1269.1 959.33 1270.4 960.08 1271.7 954.73 1273 960.97 1274.3 958.76 1275.6 959.36 1276.9 955.62 1278.2 959.28 1279.5 960.08 1280.8 956.62 1282.1 949.65 1283.4 954.03 1284.7 952.67 1286 951.12 1287.3 948.41 1288.6 949.42 1289.9 948.02 1291.2 942.8 1292.5 944.09 1293.8 943.07 1295.1 942.23 1296.4 943.22 1297.7 944.28 1299 942.59 1300.3 942.59 1301.6 939.87 1302.9 934.02 1304.2 939.57 1305.5 938 1306.8 938.44 1308.1 932.13 1309.4 932.68 1310.7 933.57 1312 932.23 1313.3 930.66 1314.6 929.2 1315.9 925.79 1317.2 926.87 1318.5 928.81 1319.8 928.28 1321.1 924.92 1322.4 922.61" fill="none" stroke="#e9c22e" stroke-width="3.4" stroke-linejoin="round" stroke-linecap="round" />
<path d="M805 1137.67 806.3 1134.39 807.6 1129.89 808.9 1124.73 810.2 1120.2 811.5 1115.76 812.8 1112.24 814.1 1109.17 815.4 1106.14 816.7 1105.04 818 1103.79 819.3 1104.05 820.6 1102.94 821.9 1104.86 823.2 1104.01 824.5 1104.88 825.8 1104.43 827.1 1106.22 828.4 1105.57 829.7 1105.36 831 1106.31 832.3 1107.39 833.6 1107.47 834.9 1109.02 836.2 1109.35 837.5 1109.07 838.8 1110.32 840.1 1111.32 841.4 1112.44 842.7 1113.26 844 1113.84 845.3 1114.43 846.6 1115.59 847.9 1117.1 849.2 1117.4 850.5 1118.07 851.8 1119.14 853.1 1120.89 854.4 1121.14 855.7 1120.83 857 1123.11 858.3 1123.77 859.6 1124.14 860.9 1124.48 862.2 1125.74 863.5 1124.98 864.8 1127.57 866.1 1127.66 867.4 1128.71 868.7 1130.13 870 1130.65 871.3 1131.28 872.6 1131.85 873.9 1133.6 875.2 1133.9 876.5 1135.29 877.8 1135.93 879.1 1137.55 880.4 1137.93 881.7 1139.88 883 1139.51 884.3 1141.09 885.6 1141.58 886.9 1143.04 888.2 1144.23 889.5 1144.68 890.8 1146.46 892.1 1147.11 893.4 1148.06 894.7 1148.4 896 1149.37 897.3 1150.33 898.6 1151.09 899.9 1151.14 901.2 1151.97 902.5 1153.51 903.8 1153.63 905.1 1154.82 906.4 1155.25 907.7 1156.14 909 1156.21 910.3 1156.3 911.6 1157.48 912.9 1157.81 914.2 1157.68 915.5 1157.82 916.8 1158.73 918.1 1157.77 919.4 1158.42 920.7 1158.67 922 1158.79 923.3 1159.09 924.6 1159.4 925.9 1158.88 927.2 1159.18 928.5 1159.82 929.8 1159.94 931.1 1159.89 932.4 1159.69 933.7 1160.27 935 1160.35 936.3 1160.91 937.6 1160.55 938.9 1160.8 940.2 1161.47 941.5 1161.87 942.8 1160.97 944.1 1161.23 945.4 1161.88 946.7 1160.4 948 1161.72 949.3 1161.63 950.6 1161.77 951.9 1161.19 953.2 1161.75 954.5 1161.27 955.8 1161.09 957.1 1162.14 958.4 1162.09 959.7 1161.51 961 1161.98 962.3 1160.89 963.6 1161.99 964.9 1162.46 966.2 1161.92 967.5 1161.42 968.8 1160.85 970.1 1160.66 971.4 1159.96 972.7 1159.79 974 1159.9 975.3 1159.29 976.6 1158.25 977.9 1158.05 979.2 1158.25 980.5 1156.99 981.8 1156.24 983.1 1155.5 984.4 1154.38 985.7 1153.48 987 1152.39 988.3 1153.08 989.6 1151.18 990.9 1149.82 992.2 1149.55 993.5 1149.27 994.8 1147.25 996.1 1146.22 997.4 1145.43 998.7 1145.36 1000 1144.53 1001.3 1144.26 1002.6 1142.5 1003.9 1141.79 1005.2 1141.08 1006.5 1140.49 1007.8 1140.14 1009.1 1138.9 1010.4 1137.59 1011.7 1137.39 1013 1136.38 1014.3 1136.26 1015.6 1135.84 1016.9 1134.72 1018.2 1134.58 1019.5 1133.83 1020.8 1132.38 1022.1 1131.5 1023.4 1132.17 1024.7 1130.68 1026 1130.76 1027.3 1129.02 1028.6 1127.97 1029.9 1127.7 1031.2 1126.39 1032.5 1125.71 1033.8 1124.96 1035.1 1124.99 1036.4 1123.15 1037.7 1123.4 1039 1121.35 1040.3 1120.56 1041.6 1120.1 1042.9 1119.47 1044.2 1117.46 1045.5 1116.61 1046.8 1115.45 1048.1 1114.98 1049.4 1112.85 1050.7 1111.81 1052 1111.78 1053.3 1110.14 1054.6 1108.19 1055.9 1106.56 1057.2 1105.06 1058.5 1103.35 1059.8 1101.62 1061.1 1100.34 1062.4 1099.39 1063.7 1097.81 1065 1096.71 1066.3 1094.33 1067.6 1092.34 1068.9 1091.45 1070.2 1090.2 1071.5 1087.18 1072.8 1086.48 1074.1 1085.4 1075.4 1083.31 1076.7 1080.99 1078 1080.98 1079.3 1077.89 1080.6 1077.28 1081.9 1076.51 1083.2 1074.18 1084.5 1073.98 1085.8 1071.8 1087.1 1069.89 1088.4 1067.65 1089.7 1067.25 1091 1065.25 1092.3 1064.36 1093.6 1061.38 1094.9 1061.15 1096.2 1059.19 1097.5 1057.07 1098.8 1056.18 1100.1 1054.2 1101.4 1052.16 1102.7 1051.44 1104 1050.79 1105.3 1047.5 1106.6 1047.17 1107.9 1045.83 1109.2 1044.38 1110.5 1043.86 1111.8 1042.09 1113.1 1041.36 1114.4 1039.85 1115.7 1039.15 1117 1038.23 1118.3 1036.82 1119.6 1035.77 1120.9 1035.19 1122.2 1034.66 1123.5 1033.28 1124.8 1032.28 1126.1 1032.11 1127.4 1031.33 1128.7 1029.56 1130 1029.16 1131.3 1028.56 1132.6 1028 1133.9 1026.53 1135.2 1025.4 1136.5 1025.78 1137.8 1024.67 1139.1 1024.05 1140.4 1023.41 1141.7 1022.91 1143 1022.1 1144.3 1020.96 1145.6 1020.88 1146.9 1019.91 1148.2 1020.03 1149.5 1018.79 1150.8 1018.15 1152.1 1017.21 1153.4 1016.7 1154.7 1016.73 1156 1016.09 1157.3 1015.83 1158.6 1014.66 1159.9 1014.62 1161.2 1013.17 1162.5 1013.77 1163.8 1012.86 1165.1 1012.25 1166.4 1010.34 1167.7 1012.39 1169 1009.61 1170.3 1009.62 1171.6 1009.56 1172.9 1007.62 1174.2 1008.7 1175.5 1008.16 1176.8 1007.53 1178.1 1005.36 1179.4 1006.96 1180.7 1006.74 1182 1005.55 1183.3 1005.49 1184.6 1003.81 1185.9 1003.63 1187.2 1000.06 1188.5 1002.08 1189.8 1002.34 1191.1 1000 1192.4 1002.2 1193.7 998.87 1195 998.17 1196.3 998.91 1197.6 997.2 1198.9 997.41 1200.2 996.67 1201.5 996.31 1202.8 997.47 1204.1 993.59 1205.4 996.75 1206.7 994.07 1208 993.72 1209.3 991.48 1210.6 994.03 1211.9 992.17 1213.2 991.52 1214.5 991.06 1215.8 993.1 1217.1 990.55 1218.4 990.21 1219.7 988.55 1221 987.91 1222.3 987.93 1223.6 988.72 1224.9 987.01 1226.2 988.96 1227.5 986.08 1228.8 986.6 1230.1 984.42 1231.4 983.99 1232.7 985.22 1234 985.05 1235.3 983 1236.6 985.7 1237.9 981.53 1239.2 981.24 1240.5 981.89 1241.8 980.82 1243.1 982.58 1244.4 979.08 1245.7 976.72 1247 978.39 1248.3 980.6 1249.6 979.44 1250.9 974.46 1252.2 977.01 1253.5 975.96 1254.8 976.5 1256.1 976.3 1257.4 972.11 1258.7 974.02 1260 975.41 1261.3 973.81 1262.6 970.1 1263.9 969.23 1265.2 972.54 1266.5 972.13 1267.8 970.49 1269.1 969.98 1270.4 968.45 1271.7 969.95 1273 965.6 1274.3 966.89 1275.6 965.2 1276.9 963.54 1278.2 968.91 1279.5 962.86 1280.8 962.72 1282.1 961.13 1283.4 960.39 1284.7 961.79 1286 959.64 1287.3 960.74 1288.6 956.48 1289.9 959.13 1291.2 959.23 1292.5 957.81 1293.8 955.11 1295.1 956.27 1296.4 955.05 1297.7 955.24 1299 951.61 1300.3 955.47 1301.6 951.29 1302.9 954.03 1304.2 947.6 1305.5 948.88 1306.8 949.92 1308.1 945.74 1309.4 952.15 1310.7 946.68 1312 943.97 1313.3 941 1314.6 941.98 1315.9 941.69 1317.2 937.06 1318.5 941.09 1319.8 940.76 1321.1 941.8 1322.4 936.56" fill="none" stroke="#c9c034" stroke-width="3.4" stroke-linejoin="round" stroke-linecap="round" />
<path d="M805 1177.56 806.3 1174.58 807.6 1172.44 808.9 1169.26 810.2 1166.36 811.5 1164.07 812.8 1162.16 814.1 1161.06 815.4 1161.82 816.7 1162.54 818 1162.01 819.3 1162.21 820.6 1162.93 821.9 1163.94 823.2 1164.72 824.5 1166.2 825.8 1165.74 827.1 1167.34 828.4 1168.1 829.7 1168.72 831 1170.73 832.3 1171.31 833.6 1172.45 834.9 1174.14 836.2 1174.88 837.5 1176.81 838.8 1178.28 840.1 1179.55 841.4 1180.4 842.7 1182 844 1184.57 845.3 1184.99 846.6 1186.28 847.9 1188.57 849.2 1189.92 850.5 1190.84 851.8 1191.95 853.1 1193.22 854.4 1193.84 855.7 1195.74 857 1197.8 858.3 1198.68 859.6 1199.81 860.9 1201.02 862.2 1202.14 863.5 1203.55 864.8 1204.08 866.1 1205.48 867.4 1206.7 868.7 1207.02 870 1208.49 871.3 1209.63 872.6 1210.59 873.9 1212.46 875.2 1213.02 876.5 1213.66 877.8 1214.69 879.1 1215.6 880.4 1217.58 881.7 1218.44 883 1219.54 884.3 1221.09 885.6 1221.55 886.9 1221.59 888.2 1223.21 889.5 1223.67 890.8 1223.91 892.1 1224.6 893.4 1226.18 894.7 1226.49 896 1226.48 897.3 1227.25 898.6 1227.85 899.9 1227.51 901.2 1227.99 902.5 1227.46 903.8 1228.52 905.1 1228.49 906.4 1229.43 907.7 1229.34 909 1230.23 910.3 1229.62 911.6 1229.98 912.9 1230.44 914.2 1231.09 915.5 1231.35 916.8 1231.32 918.1 1231.06 919.4 1231.94 920.7 1232.39 922 1232.01 923.3 1231.23 924.6 1232.95 925.9 1232.61 927.2 1232.82 928.5 1232.22 929.8 1232.43 931.1 1232.87 932.4 1232.17 933.7 1232.82 935 1232.85 936.3 1233.4 937.6 1233.03 938.9 1232.68 940.2 1232.76 941.5 1233.06 942.8 1232.57 944.1 1231.24 945.4 1232.03 946.7 1231.86 948 1232.08 949.3 1231.71 950.6 1231.34 951.9 1231.7 953.2 1231.22 954.5 1230.71 955.8 1230.54 957.1 1230.53 958.4 1229.51 959.7 1229.61 961 1228.89 962.3 1228.69 963.6 1228.55 964.9 1228.89 966.2 1228.77 967.5 1228.57 968.8 1228.01 970.1 1227.27 971.4 1226.45 972.7 1227.27 974 1225.84 975.3 1225.61 976.6 1224.02 977.9 1224.41 979.2 1221.88 980.5 1221.12 981.8 1220.76 983.1 1220.54 984.4 1218.78 985.7 1217.9 987 1216.27 988.3 1216.15 989.6 1214.62 990.9 1213.37 992.2 1211.34 993.5 1210.73 994.8 1209.1 996.1 1208 997.4 1206.36 998.7 1204.61 1000 1203.71 1001.3 1202.93 1002.6 1201.45 1003.9 1200.65 1005.2 1199.97 1006.5 1198.49 1007.8 1197.69 1009.1 1196.65 1010.4 1196.33 1011.7 1196.13 1013 1194.52 1014.3 1192.84 1015.6 1193.01 1016.9 1191.84 1018.2 1191.22 1019.5 1190.09 1020.8 1190.25 1022.1 1188.47 1023.4 1187.89 1024.7 1188.17 1026 1187.04 1027.3 1186.65 1028.6 1185.59 1029.9 1184.43 1031.2 1184.17 1032.5 1183.53 1033.8 1182.77 1035.1 1182.08 1036.4 1180.98 1037.7 1180.23 1039 1179.73 1040.3 1179.15 1041.6 1178.68 1042.9 1176.31 1044.2 1175.57 1045.5 1174.89 1046.8 1174.03 1048.1 1173.39 1049.4 1172.48 1050.7 1170.67 1052 1169.4 1053.3 1168.15 1054.6 1166.72 1055.9 1166.23 1057.2 1164.96 1058.5 1163.62 1059.8 1163.03 1061.1 1161.33 1062.4 1158.84 1063.7 1158.2 1065 1156.92 1066.3 1155.41 1067.6 1154.51 1068.9 1152.7 1070.2 1150.75 1071.5 1149.53 1072.8 1147.98 1074.1 1146.87 1075.4 1144.78 1076.7 1143.43 1078 1143.62 1079.3 1140.74 1080.6 1138.66 1081.9 1137.98 1083.2 1136.11 1084.5 1134.62 1085.8 1132.03 1087.1 1130.06 1088.4 1129.61 1089.7 1126.71 1091 1123.64 1092.3 1122.73 1093.6 1121.57 1094.9 1119.62 1096.2 1116.74 1097.5 1114.55 1098.8 1113.26 1100.1 1110.41 1101.4 1108.75 1102.7 1107.26 1104 1105.23 1105.3 1102.8 1106.6 1101.46 1107.9 1099.83 1109.2 1097.26 1110.5 1095.68 1111.8 1094.88 1113.1 1092 1114.4 1090.92 1115.7 1090.07 1117 1088.25 1118.3 1087.26 1119.6 1085.67 1120.9 1084.02 1122.2 1083.79 1123.5 1082.22 1124.8 1080.66 1126.1 1078.47 1127.4 1077.52 1128.7 1077.48 1130 1075.72 1131.3 1074.34 1132.6 1073.06 1133.9 1072.28 1135.2 1071.03 1136.5 1069.61 1137.8 1069.25 1139.1 1067.57 1140.4 1066.87 1141.7 1064.1 1143 1063.87 1144.3 1063.93 1145.6 1061.6 1146.9 1060.76 1148.2 1059.4 1149.5 1058.56 1150.8 1057.43 1152.1 1055.74 1153.4 1055.87 1154.7 1055.49 1156 1054.56 1157.3 1052.77 1158.6 1051.71 1159.9 1051.25 1161.2 1049.53 1162.5 1049.79 1163.8 1046.96 1165.1 1047.08 1166.4 1046.13 1167.7 1045.49 1169 1043.27 1170.3 1042.62 1171.6 1042.72 1172.9 1040.51 1174.2 1041.94 1175.5 1040.84 1176.8 1039.4 1178.1 1036.72 1179.4 1037.89 1180.7 1036.35 1182 1035.36 1183.3 1034.26 1184.6 1033.86 1185.9 1034.22 1187.2 1031.84 1188.5 1033.7 1189.8 1030.51 1191.1 1028.57 1192.4 1030.77 1193.7 1026.83 1195 1025.78 1196.3 1025.64 1197.6 1026.34 1198.9 1024.93 1200.2 1024.51 1201.5 1023.79 1202.8 1022.01 1204.1 1023.91 1205.4 1022.35 1206.7 1022.22 1208 1021.32 1209.3 1020.88 1210.6 1021.65 1211.9 1019.3 1213.2 1018.77 1214.5 1019.77 1215.8 1017.15 1217.1 1016.47 1218.4 1015.31 1219.7 1014.92 1221 1014.13 1222.3 1014.53 1223.6 1013.99 1224.9 1012.62 1226.2 1010.01 1227.5 1010.59 1228.8 1011.52 1230.1 1012.61 1231.4 1009.67 1232.7 1010.06 1234 1009.69 1235.3 1008.03 1236.6 1007.87 1237.9 1006.67 1239.2 1007.8 1240.5 1005.1 1241.8 1002.82 1243.1 1005.23 1244.4 1004.02 1245.7 1002.48 1247 1000.79 1248.3 1002.46 1249.6 1000 1250.9 1002.08 1252.2 1000.58 1253.5 998.53 1254.8 999.07 1256.1 996.73 1257.4 995.83 1258.7 998.65 1260 998.5 1261.3 994.75 1262.6 991.77 1263.9 992.21 1265.2 993.05 1266.5 990.68 1267.8 992.06 1269.1 990.2 1270.4 989.26 1271.7 993.42 1273 984.92 1274.3 988.59 1275.6 985.25 1276.9 990.19 1278.2 984.85 1279.5 983.83 1280.8 980.47 1282.1 984.52 1283.4 979.44 1284.7 978.49 1286 979.38 1287.3 979.7 1288.6 977.48 1289.9 977.9 1291.2 977.98 1292.5 976.94 1293.8 978.33 1295.1 972.72 1296.4 972.78 1297.7 972.32 1299 967.75 1300.3 968.45 1301.6 967.3 1302.9 968.92 1304.2 969.48 1305.5 963.76 1306.8 966.43 1308.1 963.58 1309.4 962.11 1310.7 960.77 1312 961.97 1313.3 961.99 1314.6 957.68 1315.9 957.86 1317.2 957.63 1318.5 957.61 1319.8 952.38 1321.1 955.37 1322.4 950.62" fill="none" stroke="#8fa834" stroke-width="3.4" stroke-linejoin="round" stroke-linecap="round" />
<path d="M805 1229.57 806.3 1227.92 807.6 1228.04 808.9 1227.02 810.2 1226.46 811.5 1226.8 812.8 1225.76 814.1 1226.17 815.4 1225.4 816.7 1226.64 818 1226.16 819.3 1226.03 820.6 1226.09 821.9 1225.88 823.2 1226.7 824.5 1226.43 825.8 1227.61 827.1 1227.41 828.4 1229.57 829.7 1229.96 831 1230.95 832.3 1232.08 833.6 1234.2 834.9 1235.48 836.2 1236.3 837.5 1238.37 838.8 1239.55 840.1 1240.32 841.4 1242.15 842.7 1243.94 844 1244.67 845.3 1246.72 846.6 1248.67 847.9 1249.55 849.2 1251.67 850.5 1253.47 851.8 1255.12 853.1 1257.04 854.4 1258.65 855.7 1260.5 857 1261.74 858.3 1262.92 859.6 1264.44 860.9 1265.83 862.2 1268.08 863.5 1268.65 864.8 1271.36 866.1 1273.46 867.4 1275.66 868.7 1277.86 870 1279.58 871.3 1280.93 872.6 1282.24 873.9 1283.81 875.2 1285.07 876.5 1286.02 877.8 1286.25 879.1 1286.37 880.4 1286.9 881.7 1286.39 883 1285.72 884.3 1286.28 885.6 1287.23 886.9 1287.02 888.2 1287.14 889.5 1286.87 890.8 1287.32 892.1 1287.71 893.4 1287.66 894.7 1288.15 896 1288.5 897.3 1288.45 898.6 1288.72 899.9 1288.43 901.2 1289.35 902.5 1288.9 903.8 1288.57 905.1 1288.8 906.4 1288.75 907.7 1288.97 909 1289.24 910.3 1289.82 911.6 1288.92 912.9 1288.84 914.2 1289.9 915.5 1288.98 916.8 1288.69 918.1 1289.79 919.4 1287.95 920.7 1289.06 922 1289.33 923.3 1289.17 924.6 1289.26 925.9 1288.77 927.2 1288.45 928.5 1287.35 929.8 1288.64 931.1 1287.94 932.4 1287.8 933.7 1287.01 935 1286.31 936.3 1286.92 937.6 1285.83 938.9 1285.78 940.2 1285.18 941.5 1284.14 942.8 1284.82 944.1 1284.89 945.4 1283.81 946.7 1283.38 948 1284.44 949.3 1283.23 950.6 1282.56 951.9 1282.62 953.2 1282.25 954.5 1281.36 955.8 1281.27 957.1 1281.33 958.4 1280.34 959.7 1279.31 961 1279.43 962.3 1279.25 963.6 1278.3 964.9 1277.98 966.2 1277.22 967.5 1276.88 968.8 1275.16 970.1 1275 971.4 1273.52 972.7 1273.84 974 1272.07 975.3 1271.87 976.6 1270.41 977.9 1270.72 979.2 1269.17 980.5 1267.82 981.8 1266.92 983.1 1265.46 984.4 1264.7 985.7 1264.33 987 1263.44 988.3 1262.16 989.6 1260.74 990.9 1259.57 992.2 1258.25 993.5 1257.7 994.8 1255.97 996.1 1254.53 997.4 1253.8 998.7 1252.32 1000 1252.1 1001.3 1250.98 1002.6 1248.76 1003.9 1247.85 1005.2 1246.85 1006.5 1245.88 1007.8 1244.27 1009.1 1243.46 1010.4 1243.08 1011.7 1241.67 1013 1240.54 1014.3 1239.61 1015.6 1237.88 1016.9 1237.34 1018.2 1235.75 1019.5 1235.86 1020.8 1233.65 1022.1 1231.48 1023.4 1231.79 1024.7 1229.12 1026 1229.58 1027.3 1227.66 1028.6 1226.17 1029.9 1225.64 1031.2 1224.63 1032.5 1223.02 1033.8 1221.85 1035.1 1219.91 1036.4 1219.24 1037.7 1218.34 1039 1217.49 1040.3 1216.31 1041.6 1214.7 1042.9 1214.05 1044.2 1211.98 1045.5 1210.38 1046.8 1210.11 1048.1 1209.17 1049.4 1207.31 1050.7 1206.91 1052 1205.89 1053.3 1203.8 1054.6 1203.52 1055.9 1202.51 1057.2 1200.89 1058.5 1199.66 1059.8 1198.34 1061.1 1197.08 1062.4 1196.44 1063.7 1194.79 1065 1193.44 1066.3 1192.49 1067.6 1191.06 1068.9 1191.02 1070.2 1189.77 1071.5 1188.01 1072.8 1185.98 1074.1 1185.45 1075.4 1184.46 1076.7 1183.18 1078 1181.85 1079.3 1180.54 1080.6 1178.57 1081.9 1177.06 1083.2 1176.52 1084.5 1174.65 1085.8 1174.14 1087.1 1172.89 1088.4 1171.33 1089.7 1169.98 1091 1167.08 1092.3 1166.38 1093.6 1165.82 1094.9 1163.58 1096.2 1161.65 1097.5 1161.02 1098.8 1159.44 1100.1 1158.05 1101.4 1155.97 1102.7 1154.51 1104 1153.54 1105.3 1150.46 1106.6 1150.01 1107.9 1148.42 1109.2 1147.46 1110.5 1144.97 1111.8 1144.26 1113.1 1143.08 1114.4 1142.2 1115.7 1140.21 1117 1139.7 1118.3 1138.46 1119.6 1137.46 1120.9 1135.66 1122.2 1133.79 1123.5 1133.32 1124.8 1132.43 1126.1 1131.31 1127.4 1130.29 1128.7 1129.62 1130 1128.26 1131.3 1127.52 1132.6 1125.86 1133.9 1124.62 1135.2 1123.54 1136.5 1122.93 1137.8 1121.48 1139.1 1121.12 1140.4 1120.26 1141.7 1118.66 1143 1117.84 1144.3 1116.78 1145.6 1116.16 1146.9 1116.04 1148.2 1113.44 1149.5 1113.13 1150.8 1112.98 1152.1 1112.02 1153.4 1111.68 1154.7 1109.44 1156 1108.51 1157.3 1107.39 1158.6 1106.75 1159.9 1106.11 1161.2 1104.2 1162.5 1103.34 1163.8 1104 1165.1 1102.33 1166.4 1102.16 1167.7 1100.74 1169 1101.61 1170.3 1099.37 1171.6 1098.29 1172.9 1098.5 1174.2 1097.01 1175.5 1097.4 1176.8 1094.81 1178.1 1095.32 1179.4 1093.2 1180.7 1093.72 1182 1094.24 1183.3 1091.45 1184.6 1091.77 1185.9 1089.48 1187.2 1090.74 1188.5 1090.33 1189.8 1088.01 1191.1 1088.4 1192.4 1086.86 1193.7 1086.1 1195 1086.88 1196.3 1085.53 1197.6 1084.95 1198.9 1085.15 1200.2 1085.02 1201.5 1082.56 1202.8 1081.9 1204.1 1081.02 1205.4 1080.36 1206.7 1080.97 1208 1080.01 1209.3 1078.99 1210.6 1079.02 1211.9 1080.2 1213.2 1080.57 1214.5 1078.03 1215.8 1078.04 1217.1 1076.33 1218.4 1076.56 1219.7 1075.99 1221 1075.88 1222.3 1074.58 1223.6 1075.37 1224.9 1073.83 1226.2 1073.87 1227.5 1073.25 1228.8 1071.95 1230.1 1072.03 1231.4 1069.58 1232.7 1070.06 1234 1070.75 1235.3 1069.45 1236.6 1066.98 1237.9 1067.65 1239.2 1066.66 1240.5 1066.25 1241.8 1065.72 1243.1 1066.62 1244.4 1065.93 1245.7 1064.12 1247 1064.05 1248.3 1064.06 1249.6 1064.2 1250.9 1061.45 1252.2 1060.87 1253.5 1062.36 1254.8 1058.54 1256.1 1061.55 1257.4 1060.61 1258.7 1059.31 1260 1058 1261.3 1057.68 1262.6 1054.64 1263.9 1056.16 1265.2 1056.24 1266.5 1052.32 1267.8 1054.45 1269.1 1052.39 1270.4 1050.9 1271.7 1047.14 1273 1049.84 1274.3 1048.4 1275.6 1045.64 1276.9 1046.59 1278.2 1046.31 1279.5 1042.29 1280.8 1039.05 1282.1 1044.04 1283.4 1040.98 1284.7 1037.74 1286 1037.1 1287.3 1039.45 1288.6 1036.52 1289.9 1032.86 1291.2 1033.27 1292.5 1032.28 1293.8 1030.74 1295.1 1033.52 1296.4 1029.52 1297.7 1026.48 1299 1028 1300.3 1019.56 1301.6 1024.55 1302.9 1020.99 1304.2 1020.04 1305.5 1018.61 1306.8 1019.25 1308.1 1015.45 1309.4 1013.15 1310.7 1011.11 1312 1009.2 1313.3 1008.98 1314.6 1006.73 1315.9 1004.73 1317.2 1004.94 1318.5 1002.28 1319.8 998.67 1321.1 995.73 1322.4 1001.39" fill="none" stroke="#3e7a2c" stroke-width="3.4" stroke-linejoin="round" stroke-linecap="round" />
<rect x="804.2" y="786.6" width="519.8" height="596.4" fill="none" stroke="#000" stroke-width="3.6"/>
<path d="M854.74 1383v-7.4M963.03 1383v-7.4M1071.32 1383v-7.4M1179.61 1383v-7.4M1287.9 1383v-7.4M908.88 1383v-4.8M1017.17 1383v-4.8M1125.47 1383v-4.8M1233.76 1383v-4.8" stroke="#000" stroke-width="3.4" fill="none"/>
<path d="M804.2 1344.6h7.4M804.2 1249.38h7.4M804.2 1154.16h7.4M804.2 1058.94h7.4M804.2 963.72h7.4M804.2 868.5h7.4M804.2 1296.99h4.8M804.2 1201.77h4.8M804.2 1106.55h4.8M804.2 1011.33h4.8M804.2 916.11h4.8M804.2 820.89h4.8" stroke="#000" stroke-width="3.4" fill="none"/>
<text x="854.74" y="1415" font-size="30" text-anchor="middle" font-family="'Liberation Sans', Arial, sans-serif" >1500</text>
<text x="963.03" y="1415" font-size="30" text-anchor="middle" font-family="'Liberation Sans', Arial, sans-serif" >3000</text>
<text x="1071.32" y="1415" font-size="30" text-anchor="middle" font-family="'Liberation Sans', Arial, sans-serif" >4500</text>
<text x="1179.61" y="1415" font-size="30" text-anchor="middle" font-family="'Liberation Sans', Arial, sans-serif" >6000</text>
<text x="1287.9" y="1415" font-size="30" text-anchor="middle" font-family="'Liberation Sans', Arial, sans-serif" >7500</text>
<text x="794.6" y="1355.4" font-size="30" text-anchor="end" font-family="'Liberation Sans', Arial, sans-serif" >0.05</text>
<text x="794.6" y="1260.18" font-size="30" text-anchor="end" font-family="'Liberation Sans', Arial, sans-serif" >0.10</text>
<text x="794.6" y="1164.96" font-size="30" text-anchor="end" font-family="'Liberation Sans', Arial, sans-serif" >0.15</text>
<text x="794.6" y="1069.74" font-size="30" text-anchor="end" font-family="'Liberation Sans', Arial, sans-serif" >0.20</text>
<text x="794.6" y="974.52" font-size="30" text-anchor="end" font-family="'Liberation Sans', Arial, sans-serif" >0.25</text>
<text x="794.6" y="879.3" font-size="30" text-anchor="end" font-family="'Liberation Sans', Arial, sans-serif" >0.30</text>
<text x="1064.1" y="1466" font-size="30" text-anchor="middle" font-family="'Liberation Sans', Arial, sans-serif" >Wavenumber (cm<tspan dy="-11" font-size="20">-1</tspan><tspan dy="11">)</tspan></text>
<text x="0" y="0" font-size="30" text-anchor="middle" font-family="'Liberation Sans', Arial, sans-serif" transform="translate(720.1 1083.8) rotate(-90)">1-<tspan font-style="italic">T</tspan>/<tspan font-style="italic">T</tspan><tspan dy="7" font-size="20">0</tspan></text>
<path d="M1180.5 1104.7H1225.5" stroke="#ee1c25" stroke-width="3.3" stroke-linecap="round"/>
<text x="1232.7" y="1111.7" font-size="30" text-anchor="start" font-family="'Liberation Sans', Arial, sans-serif" >76 <tspan font-family="'Liberation Serif', 'Times New Roman', serif">Ω</tspan></text>
<path d="M1180.5 1142.37H1225.5" stroke="#f05a28" stroke-width="3.3" stroke-linecap="round"/>
<text x="1232.7" y="1149.37" font-size="30" text-anchor="start" font-family="'Liberation Sans', Arial, sans-serif" >100 <tspan font-family="'Liberation Serif', 'Times New Roman', serif">Ω</tspan></text>
<path d="M1180.5 1180.04H1225.5" stroke="#f07f2a" stroke-width="3.3" stroke-linecap="round"/>
<text x="1232.7" y="1187.04" font-size="30" text-anchor="start" font-family="'Liberation Sans', Arial, sans-serif" >110 <tspan font-family="'Liberation Serif', 'Times New Roman', serif">Ω</tspan></text>
<path d="M1180.5 1217.71H1225.5" stroke="#efa52d" stroke-width="3.3" stroke-linecap="round"/>
<text x="1232.7" y="1224.71" font-size="30" text-anchor="start" font-family="'Liberation Sans', Arial, sans-serif" >128 <tspan font-family="'Liberation Serif', 'Times New Roman', serif">Ω</tspan></text>
<path d="M1180.5 1255.38H1225.5" stroke="#e9c22e" stroke-width="3.3" stroke-linecap="round"/>
<text x="1232.7" y="1262.38" font-size="30" text-anchor="start" font-family="'Liberation Sans', Arial, sans-serif" >145 <tspan font-family="'Liberation Serif', 'Times New Roman', serif">Ω</tspan></text>
<path d="M1180.5 1293.05H1225.5" stroke="#c9c034" stroke-width="3.3" stroke-linecap="round"/>
<text x="1232.7" y="1300.05" font-size="30" text-anchor="start" font-family="'Liberation Sans', Arial, sans-serif" >200 <tspan font-family="'Liberation Serif', 'Times New Roman', serif">Ω</tspan></text>
<path d="M1180.5 1330.72H1225.5" stroke="#8fa834" stroke-width="3.3" stroke-linecap="round"/>
<text x="1232.7" y="1337.72" font-size="30" text-anchor="start" font-family="'Liberation Sans', Arial, sans-serif" >300 <tspan font-family="'Liberation Serif', 'Times New Roman', serif">Ω</tspan></text>
<path d="M1180.5 1368.39H1225.5" stroke="#3e7a2c" stroke-width="3.3" stroke-linecap="round"/>
<text x="1232.7" y="1375.39" font-size="30" text-anchor="start" font-family="'Liberation Sans', Arial, sans-serif" >735 <tspan font-family="'Liberation Serif', 'Times New Roman', serif">Ω</tspan></text>
<text x="1047.3" y="836.4" font-size="30" text-anchor="start" font-family="'Liberation Sans', Arial, sans-serif" >0.9 <tspan font-family="'Liberation Serif', 'Times New Roman', serif">μ</tspan>m ribbon // <tspan font-style="italic">b</tspan></text>
<text x="1047.3" y="880" font-size="30" text-anchor="start" font-family="'Liberation Sans', Arial, sans-serif" ><tspan font-weight="bold">E</tspan> // <tspan font-style="italic">c</tspan></text>
<path d="M912 793.8L848.98 1298.95" stroke="#000" stroke-width="2.6" stroke-dasharray="7 4.5" fill="none"/>
<path d="M846.5 1318.8L842.77 1296.16L855.67 1297.77Z" fill="#000"/>
<text x="822.2" y="1352.9" font-size="30" text-anchor="start" font-family="'Liberation Sans', Arial, sans-serif" >Increasing <tspan font-style="italic">t</tspan><tspan dy="7" font-size="20">intercalation</tspan></text>
<rect x="1471.5" y="787.7" width="424.6" height="596.1" fill="none" stroke="#000" stroke-width="3.6"/>
<path d="M1471.5 1383.8v-7.4M1548.7 1383.8v-7.4M1625.9 1383.8v-7.4M1703.1 1383.8v-7.4M1780.3 1383.8v-7.4M1857.5 1383.8v-7.4M1510.1 1383.8v-4.8M1587.3 1383.8v-4.8M1664.5 1383.8v-4.8M1741.7 1383.8v-4.8M1818.9 1383.8v-4.8" stroke="#000" stroke-width="3.4" fill="none"/>
<path d="M1471.5 1322.4h7.4M1471.5 1240.13h7.4M1471.5 1157.87h7.4M1471.5 1075.6h7.4M1471.5 993.33h7.4M1471.5 911.07h7.4M1471.5 828.8h7.4M1471.5 1363.53h4.8M1471.5 1281.27h4.8M1471.5 1199h4.8M1471.5 1116.73h4.8M1471.5 1034.47h4.8M1471.5 952.2h4.8M1471.5 869.93h4.8M1471.5 787.67h4.8" stroke="#000" stroke-width="3.4" fill="none"/>
<path d="M1896.1 1294.9h-7.4M1896.1 1200.94h-7.4M1896.1 1106.98h-7.4M1896.1 1013.02h-7.4M1896.1 919.06h-7.4M1896.1 825.1h-7.4M1896.1 1341.88h-4.8M1896.1 1247.92h-4.8M1896.1 1153.96h-4.8M1896.1 1060h-4.8M1896.1 966.04h-4.8M1896.1 872.08h-4.8" stroke="#000" stroke-width="3.4" fill="none"/>
<text x="1471.5" y="1415.5" font-size="30" text-anchor="middle" font-family="'Liberation Sans', Arial, sans-serif" >0</text>
<text x="1548.7" y="1415.5" font-size="30" text-anchor="middle" font-family="'Liberation Sans', Arial, sans-serif" >300</text>
<text x="1625.9" y="1415.5" font-size="30" text-anchor="middle" font-family="'Liberation Sans', Arial, sans-serif" >600</text>
<text x="1703.1" y="1415.5" font-size="30" text-anchor="middle" font-family="'Liberation Sans', Arial, sans-serif" >900</text>
<text x="1780.3" y="1415.5" font-size="30" text-anchor="middle" font-family="'Liberation Sans', Arial, sans-serif" >1200</text>
<text x="1857.5" y="1415.5" font-size="30" text-anchor="middle" font-family="'Liberation Sans', Arial, sans-serif" >1500</text>
<text x="1461.5" y="1333.2" font-size="30" text-anchor="end" font-family="'Liberation Sans', Arial, sans-serif" >1.0</text>
<text x="1461.5" y="1250.93" font-size="30" text-anchor="end" font-family="'Liberation Sans', Arial, sans-serif" >1.2</text>
<text x="1461.5" y="1168.67" font-size="30" text-anchor="end" font-family="'Liberation Sans', Arial, sans-serif" >1.4</text>
<text x="1461.5" y="1086.4" font-size="30" text-anchor="end" font-family="'Liberation Sans', Arial, sans-serif" >1.6</text>
<text x="1461.5" y="1004.13" font-size="30" text-anchor="end" font-family="'Liberation Sans', Arial, sans-serif" >1.8</text>
<text x="1461.5" y="921.87" font-size="30" text-anchor="end" font-family="'Liberation Sans', Arial, sans-serif" >2.0</text>
<text x="1461.5" y="839.6" font-size="30" text-anchor="end" font-family="'Liberation Sans', Arial, sans-serif" >2.2</text>
<text x="1907.5" y="1305.7" font-size="30" text-anchor="start" font-family="'Liberation Sans', Arial, sans-serif" >5.6</text>
<text x="1907.5" y="1211.74" font-size="30" text-anchor="start" font-family="'Liberation Sans', Arial, sans-serif" >5.8</text>
<text x="1907.5" y="1117.78" font-size="30" text-anchor="start" font-family="'Liberation Sans', Arial, sans-serif" >6.0</text>
<text x="1907.5" y="1023.82" font-size="30" text-anchor="start" font-family="'Liberation Sans', Arial, sans-serif" >6.2</text>
<text x="1907.5" y="929.86" font-size="30" text-anchor="start" font-family="'Liberation Sans', Arial, sans-serif" >6.4</text>
<text x="1907.5" y="835.9" font-size="30" text-anchor="start" font-family="'Liberation Sans', Arial, sans-serif" >6.6</text>
<text x="1683.8" y="1466" font-size="30" text-anchor="middle" font-family="'Liberation Sans', Arial, sans-serif" >Resistance (<tspan font-family="'Liberation Serif', 'Times New Roman', serif">Ω</tspan>)</text>
<text x="0" y="0" font-size="30" text-anchor="middle" font-family="'Liberation Sans', Arial, sans-serif" transform="translate(1405 1085.5) rotate(-90)">Frequency (10<tspan dy="-11" font-size="20">3</tspan><tspan dy="11"> cm</tspan><tspan dy="-11" font-size="20">-1</tspan><tspan dy="11">)</tspan></text>
<text x="0" y="0" font-size="30" text-anchor="middle" font-family="'Liberation Sans', Arial, sans-serif" transform="translate(1988.8 1085.5) rotate(-90)">Frequency (10<tspan dy="-11" font-size="20">3</tspan><tspan dy="11"> cm</tspan><tspan dy="-11" font-size="20">-1</tspan><tspan dy="11">)</tspan></text>
<path d="M1511.91 820.96L1513.95 834.34M1517.27 858.1L1521.46 891.1M1525.43 914.75L1531.31 942.85M1537.56 965.99L1554.18 1016.01M1562.66 1038.44L1575.66 1069.06M1587.03 1090.07L1601.21 1111.23M1615.75 1130.27L1632.19 1149.23M1648.52 1166.8L1745.07 1263.7M1764.77 1276.43L1855.28 1310.57" stroke="#e8380d" stroke-width="3.4" stroke-linecap="round" fill="none"/>
<path d="M1492.63 821.7L1495.66 844.5M1497.61 868.39L1499.43 926.31M1500.16 950.29L1504.09 1085.61M1504.82 1109.59L1508.43 1222.71M1511 1246.5L1520.78 1299.3" stroke="#1a98c6" stroke-width="3.4" stroke-linecap="round" fill="none"/>
<circle cx="1510.1" cy="809.1" r="9.5" fill="url(#ballR)"/>
<circle cx="1515.76" cy="846.2" r="9.5" fill="url(#ballR)"/>
<circle cx="1522.97" cy="903" r="9.5" fill="url(#ballR)"/>
<circle cx="1533.77" cy="954.6" r="9.5" fill="url(#ballR)"/>
<circle cx="1557.96" cy="1027.4" r="9.5" fill="url(#ballR)"/>
<circle cx="1580.35" cy="1080.1" r="9.5" fill="url(#ballR)"/>
<circle cx="1607.89" cy="1121.2" r="9.5" fill="url(#ballR)"/>
<circle cx="1640.05" cy="1158.3" r="9.5" fill="url(#ballR)"/>
<circle cx="1753.54" cy="1272.2" r="9.5" fill="url(#ballR)"/>
<circle cx="1866.51" cy="1314.8" r="9.5" fill="url(#ballR)"/>
<circle cx="1491.06" cy="809.8" r="9.5" fill="url(#ballB)"/>
<circle cx="1497.23" cy="856.4" r="9.5" fill="url(#ballB)"/>
<circle cx="1499.81" cy="938.3" r="9.5" fill="url(#ballB)"/>
<circle cx="1504.44" cy="1097.6" r="9.5" fill="url(#ballB)"/>
<circle cx="1508.81" cy="1234.7" r="9.5" fill="url(#ballB)"/>
<circle cx="1522.97" cy="1311.1" r="9.5" fill="url(#ballB)"/>
<path d="M1613 827.3H1628M1654.5 827.3H1669.5" stroke="#e8380d" stroke-width="3" stroke-linecap="round"/>
<circle cx="1641.2" cy="827.3" r="9.5" fill="url(#ballR)"/>
<text x="1677.6" y="838.2" font-size="30" text-anchor="start" font-family="'Liberation Sans', Arial, sans-serif" >0.4 <tspan font-family="'Liberation Serif', 'Times New Roman', serif">μ</tspan>m ribbon</text>
<path d="M1613 875.3H1628M1654.5 875.3H1669.5" stroke="#1a98c6" stroke-width="3" stroke-linecap="round"/>
<circle cx="1641.2" cy="875.3" r="9.5" fill="url(#ballB)"/>
<text x="1677.6" y="886.2" font-size="30" text-anchor="start" font-family="'Liberation Sans', Arial, sans-serif" >0.9 <tspan font-family="'Liberation Serif', 'Times New Roman', serif">μ</tspan>m ribbon</text>
<text x="1545.5" y="1342.2" font-size="30" text-anchor="start" font-family="'Liberation Sans', Arial, sans-serif" ><tspan font-weight="bold">E</tspan> // <tspan font-style="italic">c</tspan></text>
<text x="1750.3" y="1342.2" font-size="30" text-anchor="start" font-family="'Liberation Sans', Arial, sans-serif" ><tspan font-weight="bold">E</tspan> // <tspan font-style="italic">b</tspan></text>
<path d="M1614.6 1358.4L1529.7 1358.4" stroke="#1a98c6" stroke-width="2.4"  fill="none"/>
<path d="M1510.2 1358.4L1531.7 1353.1L1531.7 1363.7Z" fill="#1a98c6"/>
<path d="M1749.2 1358.4L1840.7 1358.4" stroke="#e8380d" stroke-width="2.4"  fill="none"/>
<path d="M1860.2 1358.4L1838.7 1363.7L1838.7 1353.1Z" fill="#e8380d"/>
<path d="M97.4 2144.9L605.58 1553.06" stroke="#808080" stroke-width="3.4" stroke-dasharray="20 7 3.5 7" fill="none"/>
<circle cx="139.66" cy="2064.64" r="9.5" fill="url(#ballR)"/>
<circle cx="178.71" cy="2031.64" r="9.5" fill="url(#ballR)"/>
<circle cx="204.71" cy="1990.13" r="9.5" fill="url(#ballR)"/>
<circle cx="272.78" cy="1926.68" r="9.5" fill="url(#ballR)"/>
<circle cx="329.04" cy="1860.05" r="9.5" fill="url(#ballR)"/>
<circle cx="375.36" cy="1824.5" r="9.5" fill="url(#ballR)"/>
<circle cx="410.82" cy="1783.83" r="9.5" fill="url(#ballR)"/>
<circle cx="486.93" cy="1705.28" r="9.5" fill="url(#ballR)"/>
<circle cx="530.89" cy="1650.78" r="9.5" fill="url(#ballR)"/>
<circle cx="551.22" cy="1617.35" r="9.5" fill="url(#ballR)"/>
<rect x="97.4" y="1548.8" width="520" height="596.1" fill="none" stroke="#000" stroke-width="3.6"/>
<path d="M97.4 2144.9v-7.4M191.95 2144.9v-7.4M286.49 2144.9v-7.4M381.04 2144.9v-7.4M475.58 2144.9v-7.4M570.13 2144.9v-7.4M144.67 2144.9v-4.8M239.22 2144.9v-4.8M333.76 2144.9v-4.8M428.31 2144.9v-4.8M522.85 2144.9v-4.8M617.4 2144.9v-4.8" stroke="#000" stroke-width="3.4" fill="none"/>
<path d="M97.4 2144.9h7.4M97.4 2102.32h7.4M97.4 2059.74h7.4M97.4 2017.16h7.4M97.4 1974.59h7.4M97.4 1932.01h7.4M97.4 1889.43h7.4M97.4 1846.85h7.4M97.4 1804.27h7.4M97.4 1761.69h7.4M97.4 1719.11h7.4M97.4 1676.54h7.4M97.4 1633.96h7.4M97.4 1591.38h7.4M97.4 2123.61h4.8M97.4 2081.03h4.8M97.4 2038.45h4.8M97.4 1995.88h4.8M97.4 1953.3h4.8M97.4 1910.72h4.8M97.4 1868.14h4.8M97.4 1825.56h4.8M97.4 1782.98h4.8M97.4 1740.4h4.8M97.4 1697.83h4.8M97.4 1655.25h4.8M97.4 1612.67h4.8M97.4 1570.09h4.8" stroke="#000" stroke-width="3.4" fill="none"/>
<text x="97.4" y="2176.5" font-size="30" text-anchor="middle" font-family="'Liberation Sans', Arial, sans-serif" >0</text>
<text x="191.95" y="2176.5" font-size="30" text-anchor="middle" font-family="'Liberation Sans', Arial, sans-serif" >2</text>
<text x="286.49" y="2176.5" font-size="30" text-anchor="middle" font-family="'Liberation Sans', Arial, sans-serif" >4</text>
<text x="381.04" y="2176.5" font-size="30" text-anchor="middle" font-family="'Liberation Sans', Arial, sans-serif" >6</text>
<text x="475.58" y="2176.5" font-size="30" text-anchor="middle" font-family="'Liberation Sans', Arial, sans-serif" >8</text>
<text x="570.13" y="2176.5" font-size="30" text-anchor="middle" font-family="'Liberation Sans', Arial, sans-serif" >10</text>
<text x="88.2" y="2155.7" font-size="30" text-anchor="end" font-family="'Liberation Sans', Arial, sans-serif" >0</text>
<text x="88.2" y="2113.12" font-size="30" text-anchor="end" font-family="'Liberation Sans', Arial, sans-serif" >2</text>
<text x="88.2" y="2070.54" font-size="30" text-anchor="end" font-family="'Liberation Sans', Arial, sans-serif" >4</text>
<text x="88.2" y="2027.96" font-size="30" text-anchor="end" font-family="'Liberation Sans', Arial, sans-serif" >6</text>
<text x="88.2" y="1985.39" font-size="30" text-anchor="end" font-family="'Liberation Sans', Arial, sans-serif" >8</text>
<text x="88.2" y="1942.81" font-size="30" text-anchor="end" font-family="'Liberation Sans', Arial, sans-serif" >10</text>
<text x="88.2" y="1900.23" font-size="30" text-anchor="end" font-family="'Liberation Sans', Arial, sans-serif" >12</text>
<text x="88.2" y="1857.65" font-size="30" text-anchor="end" font-family="'Liberation Sans', Arial, sans-serif" >14</text>
<text x="88.2" y="1815.07" font-size="30" text-anchor="end" font-family="'Liberation Sans', Arial, sans-serif" >16</text>
<text x="88.2" y="1772.49" font-size="30" text-anchor="end" font-family="'Liberation Sans', Arial, sans-serif" >18</text>
<text x="88.2" y="1729.91" font-size="30" text-anchor="end" font-family="'Liberation Sans', Arial, sans-serif" >20</text>
<text x="88.2" y="1687.34" font-size="30" text-anchor="end" font-family="'Liberation Sans', Arial, sans-serif" >22</text>
<text x="88.2" y="1644.76" font-size="30" text-anchor="end" font-family="'Liberation Sans', Arial, sans-serif" >24</text>
<text x="88.2" y="1602.18" font-size="30" text-anchor="end" font-family="'Liberation Sans', Arial, sans-serif" >26</text>
<text x="357.4" y="2227.7" font-size="30" text-anchor="middle" font-family="'Liberation Sans', Arial, sans-serif" >Drude weight <tspan font-style="italic">D</tspan><tspan dy="7" font-size="20" font-style="italic">c</tspan><tspan dy="-7"> (10</tspan><tspan dy="-11" font-size="20">12</tspan><tspan dy="11"> </tspan><tspan font-family="'Liberation Serif', 'Times New Roman', serif">Ω</tspan><tspan dy="-11" font-size="20">-1</tspan><tspan dy="11"> s</tspan><tspan dy="-11" font-size="20">-1</tspan><tspan dy="11">)</tspan></text>
<text x="0" y="0" font-size="30" text-anchor="middle" font-family="'Liberation Sans', Arial, sans-serif" transform="translate(32 1844.2) rotate(-90)">Drude weight <tspan font-style="italic">D</tspan><tspan dy="7" font-size="20" font-style="italic">b</tspan><tspan dy="-7"> (10</tspan><tspan dy="-11" font-size="20">12</tspan><tspan dy="11"> </tspan><tspan font-family="'Liberation Serif', 'Times New Roman', serif">Ω</tspan><tspan dy="-11" font-size="20">-1</tspan><tspan dy="11"> s</tspan><tspan dy="-11" font-size="20">-1</tspan><tspan dy="11">)</tspan></text>
<circle cx="146.3" cy="1592.9" r="9.5" fill="url(#ballR)"/>
<text x="178.2" y="1603.5" font-size="30" text-anchor="start" font-family="'Liberation Sans', Arial, sans-serif" >Data</text>
<path d="M124.2 1629.6H169.8" stroke="#808080" stroke-width="3.4" stroke-dasharray="20 7 3.5 7"/>
<text x="178.2" y="1640.3" font-size="30" text-anchor="start" font-family="'Liberation Sans', Arial, sans-serif" >Linear fit</text>
<path d="M551.2 1773L321.71 2040.81" stroke="#000" stroke-width="2.6" stroke-dasharray="4.5 3" fill="none"/>
<path d="M308.7 2056L318.08 2035.06L327.95 2043.52Z" fill="#000"/>
<text x="238.1" y="2101.9" font-size="30" text-anchor="start" font-family="'Liberation Sans', Arial, sans-serif" >Increasing <tspan font-style="italic">t</tspan><tspan dy="7" font-size="20">intercalation</tspan></text>
<clipPath id="hclip"><rect x="802.4" y="1545.9" width="520" height="602.7"/></clipPath>
<g clip-path="url(#hclip)"><g filter="url(#jet)">
<rect x="793.12" y="1535.9" width="538.16" height="622.7" fill="#000000"/>
<rect x="791.12" y="2147" width="542.16" height="14" fill="url(#hr0)" shape-rendering="crispEdges"/>
<rect x="791.12" y="2147" width="542.16" height="14" fill="url(#hr1)" mask="url(#vm)" shape-rendering="crispEdges"/>
<rect x="791.12" y="2145" width="542.16" height="2" fill="url(#hr1)" shape-rendering="crispEdges"/>
<rect x="791.12" y="2145" width="542.16" height="2" fill="url(#hr2)" mask="url(#vm)" shape-rendering="crispEdges"/>
<rect x="791.12" y="2143" width="542.16" height="2" fill="url(#hr2)" shape-rendering="crispEdges"/>
<rect x="791.12" y="2143" width="542.16" height="2" fill="url(#hr3)" mask="url(#vm)" shape-rendering="crispEdges"/>
<rect x="791.12" y="2141" width="542.16" height="2" fill="url(#hr3)" shape-rendering="crispEdges"/>
<rect x="791.12" y="2141" width="542.16" height="2" fill="url(#hr4)" mask="url(#vm)" shape-rendering="crispEdges"/>
<rect x="791.12" y="2140" width="542.16" height="1" fill="url(#hr4)" shape-rendering="crispEdges"/>
<rect x="791.12" y="2140" width="542.16" height="1" fill="url(#hr5)" mask="url(#vm)" shape-rendering="crispEdges"/>
<rect x="791.12" y="2137" width="542.16" height="3" fill="url(#hr5)" shape-rendering="crispEdges"/>
<rect x="791.12" y="2137" width="542.16" height="3" fill="url(#hr6)" mask="url(#vm)" shape-rendering="crispEdges"/>
<rect x="791.12" y="2134" width="542.16" height="3" fill="url(#hr6)" shape-rendering="crispEdges"/>
<rect x="791.12" y="2134" width="542.16" height="3" fill="url(#hr7)" mask="url(#vm)" shape-rendering="crispEdges"/>
<rect x="791.12" y="2131" width="542.16" height="3" fill="url(#hr7)" shape-rendering="crispEdges"/>
<rect x="791.12" y="2131" width="542.16" height="3" fill="url(#hr8)" mask="url(#vm)" shape-rendering="crispEdges"/>
<rect x="791.12" y="2126" width="542.16" height="5" fill="url(#hr8)" shape-rendering="crispEdges"/>
<rect x="791.12" y="2126" width="542.16" height="5" fill="url(#hr9)" mask="url(#vm)" shape-rendering="crispEdges"/>
<rect x="791.12" y="2122" width="542.16" height="4" fill="url(#hr9)" shape-rendering="crispEdges"/>
<rect x="791.12" y="2122" width="542.16" height="4" fill="url(#hr10)" mask="url(#vm)" shape-rendering="crispEdges"/>
<rect x="791.12" y="2116" width="542.16" height="6" fill="url(#hr10)" shape-rendering="crispEdges"/>
<rect x="791.12" y="2116" width="542.16" height="6" fill="url(#hr11)" mask="url(#vm)" shape-rendering="crispEdges"/>
<rect x="791.12" y="2110" width="542.16" height="6" fill="url(#hr11)" shape-rendering="crispEdges"/>
<rect x="791.12" y="2110" width="542.16" height="6" fill="url(#hr12)" mask="url(#vm)" shape-rendering="crispEdges"/>
<rect x="791.12" y="2102" width="542.16" height="8" fill="url(#hr12)" shape-rendering="crispEdges"/>
<rect x="791.12" y="2102" width="542.16" height="8" fill="url(#hr13)" mask="url(#vm)" shape-rendering="crispEdges"/>
<rect x="791.12" y="2095" width="542.16" height="7" fill="url(#hr13)" shape-rendering="crispEdges"/>
<rect x="791.12" y="2095" width="542.16" height="7" fill="url(#hr14)" mask="url(#vm)" shape-rendering="crispEdges"/>
<rect x="791.12" y="2087" width="542.16" height="8" fill="url(#hr14)" shape-rendering="crispEdges"/>
<rect x="791.12" y="2087" width="542.16" height="8" fill="url(#hr15)" mask="url(#vm)" shape-rendering="crispEdges"/>
<rect x="791.12" y="2077" width="542.16" height="10" fill="url(#hr15)" shape-rendering="crispEdges"/>
<rect x="791.12" y="2077" width="542.16" height="10" fill="url(#hr16)" mask="url(#vm)" shape-rendering="crispEdges"/>
<rect x="791.12" y="2068" width="542.16" height="9" fill="url(#hr16)" shape-rendering="crispEdges"/>
<rect x="791.12" y="2068" width="542.16" height="9" fill="url(#hr17)" mask="url(#vm)" shape-rendering="crispEdges"/>
<rect x="791.12" y="2059" width="542.16" height="9" fill="url(#hr17)" shape-rendering="crispEdges"/>
<rect x="791.12" y="2059" width="542.16" height="9" fill="url(#hr18)" mask="url(#vm)" shape-rendering="crispEdges"/>
<rect x="791.12" y="2050" width="542.16" height="9" fill="url(#hr18)" shape-rendering="crispEdges"/>
<rect x="791.12" y="2050" width="542.16" height="9" fill="url(#hr19)" mask="url(#vm)" shape-rendering="crispEdges"/>
<rect x="791.12" y="2041" width="542.16" height="9" fill="url(#hr19)" shape-rendering="crispEdges"/>
<rect x="791.12" y="2041" width="542.16" height="9" fill="url(#hr20)" mask="url(#vm)" shape-rendering="crispEdges"/>
<rect x="791.12" y="2030" width="542.16" height="11" fill="url(#hr20)" shape-rendering="crispEdges"/>
<rect x="791.12" y="2030" width="542.16" height="11" fill="url(#hr21)" mask="url(#vm)" shape-rendering="crispEdges"/>
<rect x="791.12" y="2014" width="542.16" height="16" fill="url(#hr21)" shape-rendering="crispEdges"/>
<rect x="791.12" y="2014" width="542.16" height="16" fill="url(#hr22)" mask="url(#vm)" shape-rendering="crispEdges"/>
<rect x="791.12" y="1990" width="542.16" height="24" fill="url(#hr22)" shape-rendering="crispEdges"/>
<rect x="791.12" y="1990" width="542.16" height="24" fill="url(#hr23)" mask="url(#vm)" shape-rendering="crispEdges"/>
<rect x="791.12" y="1969" width="542.16" height="21" fill="url(#hr23)" shape-rendering="crispEdges"/>
<rect x="791.12" y="1969" width="542.16" height="21" fill="url(#hr24)" mask="url(#vm)" shape-rendering="crispEdges"/>
<rect x="791.12" y="1942" width="542.16" height="27" fill="url(#hr24)" shape-rendering="crispEdges"/>
<rect x="791.12" y="1942" width="542.16" height="27" fill="url(#hr25)" mask="url(#vm)" shape-rendering="crispEdges"/>
<rect x="791.12" y="1915" width="542.16" height="27" fill="url(#hr25)" shape-rendering="crispEdges"/>
<rect x="791.12" y="1915" width="542.16" height="27" fill="url(#hr26)" mask="url(#vm)" shape-rendering="crispEdges"/>
<rect x="791.12" y="1885" width="542.16" height="30" fill="url(#hr26)" shape-rendering="crispEdges"/>
<rect x="791.12" y="1885" width="542.16" height="30" fill="url(#hr27)" mask="url(#vm)" shape-rendering="crispEdges"/>
<rect x="791.12" y="1861" width="542.16" height="24" fill="url(#hr27)" shape-rendering="crispEdges"/>
<rect x="791.12" y="1861" width="542.16" height="24" fill="url(#hr28)" mask="url(#vm)" shape-rendering="crispEdges"/>
<rect x="791.12" y="1834" width="542.16" height="27" fill="url(#hr28)" shape-rendering="crispEdges"/>
<rect x="791.12" y="1834" width="542.16" height="27" fill="url(#hr29)" mask="url(#vm)" shape-rendering="crispEdges"/>
<rect x="791.12" y="1811" width="542.16" height="23" fill="url(#hr29)" shape-rendering="crispEdges"/>
<rect x="791.12" y="1811" width="542.16" height="23" fill="url(#hr30)" mask="url(#vm)" shape-rendering="crispEdges"/>
<rect x="791.12" y="1789" width="542.16" height="22" fill="url(#hr30)" shape-rendering="crispEdges"/>
<rect x="791.12" y="1789" width="542.16" height="22" fill="url(#hr31)" mask="url(#vm)" shape-rendering="crispEdges"/>
<rect x="791.12" y="1762" width="542.16" height="27" fill="url(#hr31)" shape-rendering="crispEdges"/>
<rect x="791.12" y="1762" width="542.16" height="27" fill="url(#hr32)" mask="url(#vm)" shape-rendering="crispEdges"/>
<rect x="791.12" y="1730" width="542.16" height="32" fill="url(#hr32)" shape-rendering="crispEdges"/>
<rect x="791.12" y="1730" width="542.16" height="32" fill="url(#hr33)" mask="url(#vm)" shape-rendering="crispEdges"/>
<rect x="791.12" y="1703" width="542.16" height="27" fill="url(#hr33)" shape-rendering="crispEdges"/>
<rect x="791.12" y="1703" width="542.16" height="27" fill="url(#hr34)" mask="url(#vm)" shape-rendering="crispEdges"/>
<rect x="791.12" y="1676" width="542.16" height="27" fill="url(#hr34)" shape-rendering="crispEdges"/>
<rect x="791.12" y="1676" width="542.16" height="27" fill="url(#hr35)" mask="url(#vm)" shape-rendering="crispEdges"/>
<rect x="791.12" y="1649" width="542.16" height="27" fill="url(#hr35)" shape-rendering="crispEdges"/>
<rect x="791.12" y="1649" width="542.16" height="27" fill="url(#hr36)" mask="url(#vm)" shape-rendering="crispEdges"/>
<rect x="791.12" y="1625" width="542.16" height="24" fill="url(#hr36)" shape-rendering="crispEdges"/>
<rect x="791.12" y="1625" width="542.16" height="24" fill="url(#hr37)" mask="url(#vm)" shape-rendering="crispEdges"/>
<rect x="791.12" y="1600" width="542.16" height="25" fill="url(#hr37)" shape-rendering="crispEdges"/>
<rect x="791.12" y="1600" width="542.16" height="25" fill="url(#hr38)" mask="url(#vm)" shape-rendering="crispEdges"/>
<rect x="791.12" y="1573" width="542.16" height="27" fill="url(#hr38)" shape-rendering="crispEdges"/>
<rect x="791.12" y="1573" width="542.16" height="27" fill="url(#hr39)" mask="url(#vm)" shape-rendering="crispEdges"/>
<rect x="791.12" y="1534" width="542.16" height="39" fill="url(#hr39)" shape-rendering="crispEdges"/>
<rect x="791.12" y="1534" width="542.16" height="39" fill="url(#hr40)" mask="url(#vm)" shape-rendering="crispEdges"/>
</g></g>
<path d="M1106.7 1963.2 1107.47 1952.49 1108.41 1941.78 1109.51 1931.08 1110.75 1920.37 1112.11 1909.66 1113.56 1898.95 1115.28 1888.25 1117.29 1877.54 1119.5 1866.83 1121.84 1856.12 1124.21 1845.42 1126.52 1834.71 1128.69 1824 1130.82 1813.29 1132.94 1802.58 1135.06 1791.88 1137.18 1781.17 1139.3 1770.46 1141.42 1759.75 1143.55 1749.05 1145.63 1738.34 1147.7 1727.63 1149.76 1716.92 1151.87 1706.22 1154.04 1695.51 1156.32 1684.8 1158.72 1674.09 1161.22 1663.38 1163.83 1652.68 1166.55 1641.97 1169.41 1631.26 1172.42 1620.55 1175.52 1609.85 1178.78 1599.14 1182.35 1588.43 1186.39 1577.72 1191.21 1567.02 1196.95 1556.31 1203.32 1545.6" fill="none" stroke="#e8a33a" stroke-width="1.6" stroke-linejoin="round" stroke-linecap="round" />
<path d="M1062.2 2148.6 1063.39 2141.97 1064.58 2139.22 1065.78 2137.12 1066.97 2135.34 1068.16 2133.78 1069.35 2132.36 1070.54 2131.06 1071.73 2129.85 1072.93 2128.71 1074.12 2127.64 1075.31 2126.61 1076.5 2125.64 1077.69 2124.7 1078.89 2123.8 1080.08 2122.92 1081.27 2122.08 1082.46 2121.27 1083.65 2120.47 1084.85 2119.7 1086.04 2118.95 1087.23 2118.22 1088.42 2117.51 1089.61 2116.81 1090.8 2116.12 1092 2115.45 1093.19 2114.8 1094.38 2114.15 1095.57 2113.52 1096.76 2112.9 1097.96 2112.29 1099.15 2111.69 1100.34 2111.1 1101.53 2110.52 1102.72 2109.94 1103.91 2109.38 1105.11 2108.82 1106.3 2108.28 1107.49 2107.73 1108.68 2107.2" fill="none" stroke="#e8a33a" stroke-width="1.6" stroke-linejoin="round" stroke-linecap="round" />
<path d="M1062.2 2148.6 1055.56 2147.4 1048.91 2146.19 1042.27 2144.96 1035.63 2143.71 1028.98 2142.44 1022.34 2141.15 1015.7 2139.85 1009.06 2138.54 1002.41 2137.22 995.77 2135.88 989.13 2134.54 982.48 2133.19 975.84 2131.84 969.2 2130.49 962.55 2129.14 955.91 2127.8 949.27 2126.46 942.62 2125.13 935.98 2123.81 929.34 2122.51 922.7 2121.22 916.05 2119.95 909.41 2118.7 902.77 2117.47 896.12 2116.27 889.48 2115.09 882.84 2113.94 876.19 2112.82 869.55 2111.72 862.91 2110.66 856.26 2109.62 849.62 2108.61 842.98 2107.64 836.34 2106.69 829.69 2105.77 823.05 2104.88 816.41 2104.01 809.76 2103.16 803.12 2102.34" fill="none" stroke="#e8a33a" stroke-width="1.6" stroke-linejoin="round" stroke-linecap="round" />
<rect x="807.4" y="1572.1" width="298.4" height="32.5" fill="#fff"/>
<path d="M808 1592.8H841.4" stroke="#e8a33a" stroke-width="1.6"/>
<text x="850.2" y="1598.2" font-size="28" text-anchor="start" font-family="'Liberation Sans', Arial, sans-serif" >Maximum of -Im(1/<tspan font-family="'Liberation Serif', 'Times New Roman', serif" font-style="italic">ε</tspan>)</text>
<rect x="1208.3" y="1919.8" width="101.4" height="219.5" fill="#fff"/>
<rect x="1221.9" y="1965.9" width="20.7" height="164.5" fill="url(#cbar)"/>
<text x="1212.2" y="1950.2" font-size="28" text-anchor="start" font-family="'Liberation Sans', Arial, sans-serif" >-Im(1/<tspan font-family="'Liberation Serif', 'Times New Roman', serif" font-style="italic">ε</tspan>)</text>
<text x="1247.6" y="1987.2" font-size="30" text-anchor="start" font-family="'Liberation Sans', Arial, sans-serif" >0.75</text>
<text x="1250.6" y="2127.5" font-size="30" text-anchor="start" font-family="'Liberation Sans', Arial, sans-serif" >0</text>
<rect x="802.4" y="1545.9" width="520" height="602.7" fill="none" stroke="#000" stroke-width="3.6"/>
<path d="M833.6 2148.6v-7.4M909.8 2148.6v-7.4M986 2148.6v-7.4M1062.2 2148.6v-7.4M1138.4 2148.6v-7.4M1214.6 2148.6v-7.4M1290.8 2148.6v-7.4M871.7 2148.6v-4.8M947.9 2148.6v-4.8M1024.1 2148.6v-4.8M1100.3 2148.6v-4.8M1176.5 2148.6v-4.8M1252.7 2148.6v-4.8" stroke="#000" stroke-width="3.4" fill="none"/>
<path d="M802.4 2148.6h7.4M802.4 2058.6h7.4M802.4 1968.6h7.4M802.4 1878.6h7.4M802.4 1788.6h7.4M802.4 1698.6h7.4M802.4 1608.6h7.4M802.4 2103.6h4.8M802.4 2013.6h4.8M802.4 1923.6h4.8M802.4 1833.6h4.8M802.4 1743.6h4.8M802.4 1653.6h4.8M802.4 1563.6h4.8" stroke="#000" stroke-width="3.4" fill="none"/>
<text x="833.6" y="2180" font-size="30" text-anchor="middle" font-family="'Liberation Sans', Arial, sans-serif" >15</text>
<text x="909.8" y="2180" font-size="30" text-anchor="middle" font-family="'Liberation Sans', Arial, sans-serif" >10</text>
<text x="986" y="2180" font-size="30" text-anchor="middle" font-family="'Liberation Sans', Arial, sans-serif" >5</text>
<text x="1062.2" y="2180" font-size="30" text-anchor="middle" font-family="'Liberation Sans', Arial, sans-serif" >0</text>
<text x="1138.4" y="2180" font-size="30" text-anchor="middle" font-family="'Liberation Sans', Arial, sans-serif" >5</text>
<text x="1214.6" y="2180" font-size="30" text-anchor="middle" font-family="'Liberation Sans', Arial, sans-serif" >10</text>
<text x="1290.8" y="2180" font-size="30" text-anchor="middle" font-family="'Liberation Sans', Arial, sans-serif" >15</text>
<text x="795.3" y="2159.4" font-size="30" text-anchor="end" font-family="'Liberation Sans', Arial, sans-serif" >0</text>
<text x="795.3" y="2069.4" font-size="30" text-anchor="end" font-family="'Liberation Sans', Arial, sans-serif" >1</text>
<text x="795.3" y="1979.4" font-size="30" text-anchor="end" font-family="'Liberation Sans', Arial, sans-serif" >2</text>
<text x="795.3" y="1889.4" font-size="30" text-anchor="end" font-family="'Liberation Sans', Arial, sans-serif" >3</text>
<text x="795.3" y="1799.4" font-size="30" text-anchor="end" font-family="'Liberation Sans', Arial, sans-serif" >4</text>
<text x="795.3" y="1709.4" font-size="30" text-anchor="end" font-family="'Liberation Sans', Arial, sans-serif" >5</text>
<text x="795.3" y="1619.4" font-size="30" text-anchor="end" font-family="'Liberation Sans', Arial, sans-serif" >6</text>
<text x="0" y="0" font-size="30" text-anchor="middle" font-family="'Liberation Sans', Arial, sans-serif" transform="translate(726 1848.8) rotate(-90)">Frequency <tspan font-family="'Liberation Serif', 'Times New Roman', serif" font-style="italic">ω</tspan> (10<tspan dy="-11" font-size="20">3</tspan><tspan dy="11"> cm</tspan><tspan dy="-11" font-size="20">-1</tspan><tspan dy="11">)</tspan></text>
<text x="803" y="2228" font-size="30" text-anchor="start" font-family="'Liberation Sans', Arial, sans-serif" ><tspan font-style="italic">q</tspan><tspan dy="7" font-size="20" font-style="italic">c</tspan></text>
<text x="901" y="2228" font-size="30" text-anchor="start" font-family="'Liberation Sans', Arial, sans-serif" >Wave vector <tspan font-style="italic">q</tspan> (10<tspan dy="-11" font-size="20">6</tspan><tspan dy="11"> m</tspan><tspan dy="-11" font-size="20">-1</tspan><tspan dy="11">)</tspan></text>
<text x="1292" y="2228" font-size="30" text-anchor="start" font-family="'Liberation Sans', Arial, sans-serif" ><tspan font-style="italic">q</tspan><tspan dy="7" font-size="20" font-style="italic">b</tspan></text>
<path d="M893 2218L845 2218" stroke="#000" stroke-width="2.4"  fill="none"/>
<path d="M831 2218L847 2213L847 2223Z" fill="#000"/>
<path d="M1228 2218L1276 2218" stroke="#000" stroke-width="2.4"  fill="none"/>
<path d="M1290 2218L1274 2223L1274 2213Z" fill="#000"/>
<path d="M1744.09 2037.74 1749.99 2033.92 1755.49 2030.09 1759.93 2026.26 1763.75 2022.44 1767.12 2018.61 1770.16 2014.78 1772.92 2010.95 1775.44 2007.13 1777.76 2003.3 1779.9 1999.47 1781.88 1995.65 1783.7 1991.82 1785.38 1987.99 1786.93 1984.17 1788.35 1980.34 1789.66 1976.51 1790.85 1972.68 1791.93 1968.86 1792.91 1965.03 1793.79 1961.2 1794.57 1957.38 1795.25 1953.55 1795.84 1949.72 1796.34 1945.89 1796.74 1942.07 1797.05 1938.24 1797.27 1934.41 1797.41 1930.59 1797.45 1926.76 1797.38 1921.23 1797.15 1915.7 1796.79 1910.16 1796.3 1904.63 1795.72 1899.1 1795.07 1893.57 1794.37 1888.04 1793.67 1882.51 1792.99 1876.97 1792.37 1871.44 1791.84 1865.91 1791.41 1860.38 1791.11 1854.85 1790.96 1849.32 1790.96 1843.78 1791.11 1838.25 1791.41 1832.72 1791.84 1827.19 1792.37 1821.66 1792.99 1816.13 1793.67 1810.59 1794.37 1805.06 1795.07 1799.53 1795.72 1794 1796.3 1788.47 1796.79 1782.94 1797.15 1777.4 1797.38 1771.87 1797.45 1766.34 1797.41 1762.51 1797.27 1758.69 1797.05 1754.86 1796.74 1751.03 1796.34 1747.21 1795.84 1743.38 1795.25 1739.55 1794.57 1735.72 1793.79 1731.9 1792.91 1728.07 1791.93 1724.24 1790.85 1720.42 1789.66 1716.59 1788.35 1712.76 1786.93 1708.93 1785.38 1705.11 1783.7 1701.28 1781.88 1697.45 1779.9 1693.63 1777.76 1689.8 1775.44 1685.97 1772.92 1682.15 1770.16 1678.32 1767.12 1674.49 1763.75 1670.66 1759.93 1666.84 1755.49 1663.01 1749.99 1659.18 1744.09 1655.36 1735.91 1655.36 1730.01 1659.18 1724.51 1663.01 1720.07 1666.84 1716.25 1670.66 1712.88 1674.49 1709.84 1678.32 1707.08 1682.15 1704.56 1685.97 1702.24 1689.8 1700.1 1693.63 1698.12 1697.45 1696.3 1701.28 1694.62 1705.11 1693.07 1708.93 1691.65 1712.76 1690.34 1716.59 1689.15 1720.42 1688.07 1724.24 1687.09 1728.07 1686.21 1731.9 1685.43 1735.72 1684.75 1739.55 1684.16 1743.38 1683.66 1747.21 1683.26 1751.03 1682.95 1754.86 1682.73 1758.69 1682.59 1762.51 1682.55 1766.34 1682.62 1771.87 1682.85 1777.4 1683.21 1782.94 1683.7 1788.47 1684.28 1794 1684.93 1799.53 1685.63 1805.06 1686.33 1810.59 1687.01 1816.13 1687.63 1821.66 1688.16 1827.19 1688.59 1832.72 1688.89 1838.25 1689.04 1843.78 1689.04 1849.32 1688.89 1854.85 1688.59 1860.38 1688.16 1865.91 1687.63 1871.44 1687.01 1876.97 1686.33 1882.51 1685.63 1888.04 1684.93 1893.57 1684.28 1899.1 1683.7 1904.63 1683.21 1910.16 1682.85 1915.7 1682.62 1921.23 1682.55 1926.76 1682.59 1930.59 1682.73 1934.41 1682.95 1938.24 1683.26 1942.07 1683.66 1945.89 1684.16 1949.72 1684.75 1953.55 1685.43 1957.38 1686.21 1961.2 1687.09 1965.03 1688.07 1968.86 1689.15 1972.68 1690.34 1976.51 1691.65 1980.34 1693.07 1984.17 1694.62 1987.99 1696.3 1991.82 1698.12 1995.65 1700.1 1999.47 1702.24 2003.3 1704.56 2007.13 1707.08 2010.95 1709.84 2014.78 1712.88 2018.61 1716.25 2022.44 1720.07 2026.26 1724.51 2030.09 1730.01 2033.92 1735.91 2037.74Z" fill="none" stroke="#6b8c2e" stroke-width="3.4" stroke-linejoin="round"/>
<path d="M1744.09 2054.16 1750.67 2049.89 1756.55 2045.63 1761.29 2041.37 1765.36 2037.1 1768.96 2032.84 1772.21 2028.57 1775.15 2024.31 1777.85 2020.04 1780.33 2015.78 1782.61 2011.51 1784.72 2007.25 1786.67 2002.99 1788.46 1998.72 1790.12 1994.46 1791.64 1990.19 1793.03 1985.93 1794.31 1981.66 1795.46 1977.4 1796.51 1973.13 1797.45 1968.87 1798.28 1964.6 1799.01 1960.34 1799.64 1956.08 1800.16 1951.81 1800.6 1947.55 1800.93 1943.28 1801.17 1939.02 1801.31 1934.75 1801.36 1930.49 1801.28 1924.7 1801.06 1918.91 1800.69 1913.12 1800.21 1907.33 1799.63 1901.54 1798.97 1895.76 1798.28 1889.97 1797.58 1884.18 1796.9 1878.39 1796.28 1872.6 1795.74 1866.81 1795.31 1861.02 1795.02 1855.23 1794.87 1849.44 1794.87 1843.66 1795.02 1837.87 1795.31 1832.08 1795.74 1826.29 1796.28 1820.5 1796.9 1814.71 1797.58 1808.92 1798.28 1803.13 1798.97 1797.34 1799.63 1791.56 1800.21 1785.77 1800.69 1779.98 1801.06 1774.19 1801.28 1768.4 1801.36 1762.61 1801.31 1758.35 1801.17 1754.08 1800.93 1749.82 1800.6 1745.55 1800.16 1741.29 1799.64 1737.02 1799.01 1732.76 1798.28 1728.5 1797.45 1724.23 1796.51 1719.97 1795.46 1715.7 1794.31 1711.44 1793.03 1707.17 1791.64 1702.91 1790.12 1698.64 1788.46 1694.38 1786.67 1690.11 1784.72 1685.85 1782.61 1681.59 1780.33 1677.32 1777.85 1673.06 1775.15 1668.79 1772.21 1664.53 1768.96 1660.26 1765.36 1656 1761.29 1651.73 1756.55 1647.47 1750.67 1643.21 1744.09 1638.94 1735.91 1638.94 1729.33 1643.21 1723.45 1647.47 1718.71 1651.73 1714.64 1656 1711.04 1660.26 1707.79 1664.53 1704.85 1668.79 1702.15 1673.06 1699.67 1677.32 1697.39 1681.59 1695.28 1685.85 1693.33 1690.11 1691.54 1694.38 1689.88 1698.64 1688.36 1702.91 1686.97 1707.17 1685.69 1711.44 1684.54 1715.7 1683.49 1719.97 1682.55 1724.23 1681.72 1728.5 1680.99 1732.76 1680.36 1737.02 1679.84 1741.29 1679.4 1745.55 1679.07 1749.82 1678.83 1754.08 1678.69 1758.35 1678.64 1762.61 1678.72 1768.4 1678.94 1774.19 1679.31 1779.98 1679.79 1785.77 1680.37 1791.56 1681.03 1797.34 1681.72 1803.13 1682.42 1808.92 1683.1 1814.71 1683.72 1820.5 1684.26 1826.29 1684.69 1832.08 1684.98 1837.87 1685.13 1843.66 1685.13 1849.44 1684.98 1855.23 1684.69 1861.02 1684.26 1866.81 1683.72 1872.6 1683.1 1878.39 1682.42 1884.18 1681.72 1889.97 1681.03 1895.76 1680.37 1901.54 1679.79 1907.33 1679.31 1913.12 1678.94 1918.91 1678.72 1924.7 1678.64 1930.49 1678.69 1934.75 1678.83 1939.02 1679.07 1943.28 1679.4 1947.55 1679.84 1951.81 1680.36 1956.08 1680.99 1960.34 1681.72 1964.6 1682.55 1968.87 1683.49 1973.13 1684.54 1977.4 1685.69 1981.66 1686.97 1985.93 1688.36 1990.19 1689.88 1994.46 1691.54 1998.72 1693.33 2002.99 1695.28 2007.25 1697.39 2011.51 1699.67 2015.78 1702.15 2020.04 1704.85 2024.31 1707.79 2028.57 1711.04 2032.84 1714.64 2037.1 1718.71 2041.37 1723.45 2045.63 1729.33 2049.89 1735.91 2054.16Z" fill="none" stroke="#b0b832" stroke-width="3.4" stroke-linejoin="round"/>
<path d="M1744.09 2074.49 1751.48 2069.65 1757.8 2064.82 1762.9 2059.98 1767.28 2055.14 1771.16 2050.31 1774.65 2045.47 1777.82 2040.63 1780.72 2035.8 1783.39 2030.96 1785.84 2026.12 1788.11 2021.28 1790.2 2016.45 1792.13 2011.61 1793.91 2006.77 1795.55 2001.94 1797.05 1997.1 1798.42 1992.26 1799.67 1987.43 1800.79 1982.59 1801.8 1977.75 1802.69 1972.92 1803.48 1968.08 1804.15 1963.24 1804.72 1958.4 1805.19 1953.57 1805.54 1948.73 1805.8 1943.89 1805.95 1939.06 1806 1934.22 1805.91 1928.17 1805.64 1922.13 1805.21 1916.08 1804.63 1910.03 1803.93 1903.99 1803.14 1897.94 1802.31 1891.9 1801.47 1885.85 1800.65 1879.8 1799.91 1873.76 1799.27 1867.71 1798.75 1861.67 1798.4 1855.62 1798.22 1849.57 1798.22 1843.53 1798.4 1837.48 1798.75 1831.43 1799.27 1825.39 1799.91 1819.34 1800.65 1813.3 1801.47 1807.25 1802.31 1801.2 1803.14 1795.16 1803.93 1789.11 1804.63 1783.07 1805.21 1777.02 1805.64 1770.97 1805.91 1764.93 1806 1758.88 1805.95 1754.04 1805.8 1749.21 1805.54 1744.37 1805.19 1739.53 1804.72 1734.7 1804.15 1729.86 1803.48 1725.02 1802.69 1720.18 1801.8 1715.35 1800.79 1710.51 1799.67 1705.67 1798.42 1700.84 1797.05 1696 1795.55 1691.16 1793.91 1686.33 1792.13 1681.49 1790.2 1676.65 1788.11 1671.82 1785.84 1666.98 1783.39 1662.14 1780.72 1657.3 1777.82 1652.47 1774.65 1647.63 1771.16 1642.79 1767.28 1637.96 1762.9 1633.12 1757.8 1628.28 1751.48 1623.45 1744.09 1618.61 1735.91 1618.61 1728.52 1623.45 1722.2 1628.28 1717.1 1633.12 1712.72 1637.96 1708.84 1642.79 1705.35 1647.63 1702.18 1652.47 1699.28 1657.3 1696.61 1662.14 1694.16 1666.98 1691.89 1671.82 1689.8 1676.65 1687.87 1681.49 1686.09 1686.33 1684.45 1691.16 1682.95 1696 1681.58 1700.84 1680.33 1705.67 1679.21 1710.51 1678.2 1715.35 1677.31 1720.18 1676.52 1725.02 1675.85 1729.86 1675.28 1734.7 1674.81 1739.53 1674.46 1744.37 1674.2 1749.21 1674.05 1754.04 1674 1758.88 1674.09 1764.93 1674.36 1770.97 1674.79 1777.02 1675.37 1783.07 1676.07 1789.11 1676.86 1795.16 1677.69 1801.2 1678.53 1807.25 1679.35 1813.3 1680.09 1819.34 1680.73 1825.39 1681.25 1831.43 1681.6 1837.48 1681.78 1843.53 1681.78 1849.57 1681.6 1855.62 1681.25 1861.67 1680.73 1867.71 1680.09 1873.76 1679.35 1879.8 1678.53 1885.85 1677.69 1891.9 1676.86 1897.94 1676.07 1903.99 1675.37 1910.03 1674.79 1916.08 1674.36 1922.13 1674.09 1928.17 1674 1934.22 1674.05 1939.06 1674.2 1943.89 1674.46 1948.73 1674.81 1953.57 1675.28 1958.4 1675.85 1963.24 1676.52 1968.08 1677.31 1972.92 1678.2 1977.75 1679.21 1982.59 1680.33 1987.43 1681.58 1992.26 1682.95 1997.1 1684.45 2001.94 1686.09 2006.77 1687.87 2011.61 1689.8 2016.45 1691.89 2021.28 1694.16 2026.12 1696.61 2030.96 1699.28 2035.8 1702.18 2040.63 1705.35 2045.47 1708.84 2050.31 1712.72 2055.14 1717.1 2059.98 1722.2 2064.82 1728.52 2069.65 1735.91 2074.49Z" fill="none" stroke="#e8c32e" stroke-width="3.4" stroke-linejoin="round"/>
<path d="M1744.09 2096.13 1752.25 2090.74 1759 2085.35 1764.45 2079.96 1769.12 2074.57 1773.26 2069.18 1776.99 2063.79 1780.37 2058.4 1783.47 2053.01 1786.32 2047.62 1788.94 2042.23 1791.36 2036.84 1793.6 2031.45 1795.66 2026.06 1797.56 2020.67 1799.3 2015.28 1800.91 2009.89 1802.37 2004.5 1803.7 1999.11 1804.9 1993.72 1805.98 1988.33 1806.93 1982.94 1807.77 1977.55 1808.49 1972.16 1809.1 1966.77 1809.59 1961.38 1809.98 1955.99 1810.25 1950.6 1810.41 1945.21 1810.47 1939.82 1810.36 1933.38 1810.05 1926.95 1809.54 1920.52 1808.86 1914.09 1808.05 1907.66 1807.13 1901.22 1806.16 1894.79 1805.17 1888.36 1804.23 1881.93 1803.36 1875.49 1802.6 1869.06 1802.01 1862.63 1801.59 1856.2 1801.38 1849.77 1801.38 1843.33 1801.59 1836.9 1802.01 1830.47 1802.6 1824.04 1803.36 1817.61 1804.23 1811.17 1805.17 1804.74 1806.16 1798.31 1807.13 1791.88 1808.05 1785.44 1808.86 1779.01 1809.54 1772.58 1810.05 1766.15 1810.36 1759.72 1810.47 1753.28 1810.41 1747.89 1810.25 1742.5 1809.98 1737.11 1809.59 1731.72 1809.1 1726.33 1808.49 1720.94 1807.77 1715.55 1806.93 1710.16 1805.98 1704.77 1804.9 1699.38 1803.7 1693.99 1802.37 1688.6 1800.91 1683.21 1799.3 1677.82 1797.56 1672.43 1795.66 1667.04 1793.6 1661.65 1791.36 1656.26 1788.94 1650.87 1786.32 1645.48 1783.47 1640.09 1780.37 1634.7 1776.99 1629.31 1773.26 1623.92 1769.12 1618.53 1764.45 1613.14 1759 1607.75 1752.25 1602.36 1744.09 1596.97 1735.91 1596.97 1727.75 1602.36 1721 1607.75 1715.55 1613.14 1710.88 1618.53 1706.74 1623.92 1703.01 1629.31 1699.63 1634.7 1696.53 1640.09 1693.68 1645.48 1691.06 1650.87 1688.64 1656.26 1686.4 1661.65 1684.34 1667.04 1682.44 1672.43 1680.7 1677.82 1679.09 1683.21 1677.63 1688.6 1676.3 1693.99 1675.1 1699.38 1674.02 1704.77 1673.07 1710.16 1672.23 1715.55 1671.51 1720.94 1670.9 1726.33 1670.41 1731.72 1670.02 1737.11 1669.75 1742.5 1669.59 1747.89 1669.53 1753.28 1669.64 1759.72 1669.95 1766.15 1670.46 1772.58 1671.14 1779.01 1671.95 1785.44 1672.87 1791.88 1673.84 1798.31 1674.83 1804.74 1675.77 1811.17 1676.64 1817.61 1677.4 1824.04 1677.99 1830.47 1678.41 1836.9 1678.62 1843.33 1678.62 1849.77 1678.41 1856.2 1677.99 1862.63 1677.4 1869.06 1676.64 1875.49 1675.77 1881.93 1674.83 1888.36 1673.84 1894.79 1672.87 1901.22 1671.95 1907.66 1671.14 1914.09 1670.46 1920.52 1669.95 1926.95 1669.64 1933.38 1669.53 1939.82 1669.59 1945.21 1669.75 1950.6 1670.02 1955.99 1670.41 1961.38 1670.9 1966.77 1671.51 1972.16 1672.23 1977.55 1673.07 1982.94 1674.02 1988.33 1675.1 1993.72 1676.3 1999.11 1677.63 2004.5 1679.09 2009.89 1680.7 2015.28 1682.44 2020.67 1684.34 2026.06 1686.4 2031.45 1688.64 2036.84 1691.06 2042.23 1693.68 2047.62 1696.53 2053.01 1699.63 2058.4 1703.01 2063.79 1706.74 2069.18 1710.88 2074.57 1715.55 2079.96 1721 2085.35 1727.75 2090.74 1735.91 2096.13Z" fill="none" stroke="#eca72c" stroke-width="3.4" stroke-linejoin="round"/>
<path d="M1776.95 2095.57 1780.22 2090.81 1783.25 2086.05 1786.06 2081.29 1788.69 2076.53 1791.14 2071.77 1793.43 2067.01 1795.57 2062.25 1797.58 2057.49 1799.47 2052.73 1801.23 2047.97 1802.87 2043.21 1804.41 2038.45 1805.84 2033.69 1807.17 2028.93 1808.39 2024.17 1809.53 2019.41 1810.57 2014.65 1811.52 2009.89 1812.38 2005.13 1813.16 2000.37 1813.85 1995.61 1814.46 1990.85 1814.98 1986.09 1815.42 1981.33 1815.78 1976.58 1816.06 1971.82 1816.26 1967.06 1816.38 1962.3 1816.42 1957.54 1816.3 1949.88 1815.96 1942.23 1815.41 1934.57 1814.68 1926.92 1813.8 1919.27 1812.81 1911.61 1811.76 1903.96 1810.69 1896.3 1809.67 1888.65 1808.72 1880.99 1807.91 1873.34 1807.27 1865.69 1806.82 1858.03 1806.59 1850.38 1806.59 1842.72 1806.82 1835.07 1807.27 1827.41 1807.91 1819.76 1808.72 1812.11 1809.67 1804.45 1810.69 1796.8 1811.76 1789.14 1812.81 1781.49 1813.8 1773.83 1814.68 1766.18 1815.41 1758.53 1815.96 1750.87 1816.3 1743.22 1816.42 1735.56 1816.38 1730.8 1816.26 1726.04 1816.06 1721.28 1815.78 1716.52 1815.42 1711.77 1814.98 1707.01 1814.46 1702.25 1813.85 1697.49 1813.16 1692.73 1812.38 1687.97 1811.52 1683.21 1810.57 1678.45 1809.53 1673.69 1808.39 1668.93 1807.17 1664.17 1805.84 1659.41 1804.41 1654.65 1802.87 1649.89 1801.23 1645.13 1799.47 1640.37 1797.58 1635.61 1795.57 1630.85 1793.43 1626.09 1791.14 1621.33 1788.69 1616.57 1786.06 1611.81 1783.25 1607.05 1780.22 1602.29 1776.95 1597.53" fill="none" stroke="#f07a2a" stroke-width="3.4" stroke-linejoin="round"/>
<path d="M1703.05 2095.57 1699.78 2090.81 1696.75 2086.05 1693.94 2081.29 1691.31 2076.53 1688.86 2071.77 1686.57 2067.01 1684.43 2062.25 1682.42 2057.49 1680.53 2052.73 1678.77 2047.97 1677.13 2043.21 1675.59 2038.45 1674.16 2033.69 1672.83 2028.93 1671.61 2024.17 1670.47 2019.41 1669.43 2014.65 1668.48 2009.89 1667.62 2005.13 1666.84 2000.37 1666.15 1995.61 1665.54 1990.85 1665.02 1986.09 1664.58 1981.33 1664.22 1976.58 1663.94 1971.82 1663.74 1967.06 1663.62 1962.3 1663.58 1957.54 1663.7 1949.88 1664.04 1942.23 1664.59 1934.57 1665.32 1926.92 1666.2 1919.27 1667.19 1911.61 1668.24 1903.96 1669.31 1896.3 1670.33 1888.65 1671.28 1880.99 1672.09 1873.34 1672.73 1865.69 1673.18 1858.03 1673.41 1850.38 1673.41 1842.72 1673.18 1835.07 1672.73 1827.41 1672.09 1819.76 1671.28 1812.11 1670.33 1804.45 1669.31 1796.8 1668.24 1789.14 1667.19 1781.49 1666.2 1773.83 1665.32 1766.18 1664.59 1758.53 1664.04 1750.87 1663.7 1743.22 1663.58 1735.56 1663.62 1730.8 1663.74 1726.04 1663.94 1721.28 1664.22 1716.52 1664.58 1711.77 1665.02 1707.01 1665.54 1702.25 1666.15 1697.49 1666.84 1692.73 1667.62 1687.97 1668.48 1683.21 1669.43 1678.45 1670.47 1673.69 1671.61 1668.93 1672.83 1664.17 1674.16 1659.41 1675.59 1654.65 1677.13 1649.89 1678.77 1645.13 1680.53 1640.37 1682.42 1635.61 1684.43 1630.85 1686.57 1626.09 1688.86 1621.33 1691.31 1616.57 1693.94 1611.81 1696.75 1607.05 1699.78 1602.29 1703.05 1597.53" fill="none" stroke="#f07a2a" stroke-width="3.4" stroke-linejoin="round"/>
<path d="M1811.68 2049.87 1812.35 2047.14 1812.99 2044.4 1813.61 2041.67 1814.2 2038.93 1814.77 2036.2 1815.31 2033.47 1815.82 2030.73 1816.31 2028 1816.78 2025.27 1817.22 2022.53 1817.64 2019.8 1818.03 2017.07 1818.41 2014.33 1818.75 2011.6 1819.08 2008.86 1819.38 2006.13 1819.66 2003.4 1819.91 2000.66 1820.15 1997.93 1820.36 1995.2 1820.54 1992.46 1820.71 1989.73 1820.85 1987 1820.98 1984.26 1821.07 1981.53 1821.15 1978.79 1821.21 1976.06 1821.24 1973.33 1821.25 1970.59 1821.09 1962.04 1820.63 1953.48 1819.89 1944.93 1818.89 1936.37 1817.69 1927.82 1816.35 1919.27 1814.92 1910.71 1813.47 1902.16 1812.08 1893.6 1810.8 1885.05 1809.7 1876.49 1808.82 1867.94 1808.21 1859.38 1807.9 1850.83 1807.9 1842.27 1808.21 1833.72 1808.82 1825.16 1809.7 1816.61 1810.8 1808.05 1812.08 1799.5 1813.47 1790.94 1814.92 1782.39 1816.35 1773.83 1817.69 1765.28 1818.89 1756.73 1819.89 1748.17 1820.63 1739.62 1821.09 1731.06 1821.25 1722.51 1821.24 1719.77 1821.21 1717.04 1821.15 1714.31 1821.07 1711.57 1820.98 1708.84 1820.85 1706.1 1820.71 1703.37 1820.54 1700.64 1820.36 1697.9 1820.15 1695.17 1819.91 1692.44 1819.66 1689.7 1819.38 1686.97 1819.08 1684.24 1818.75 1681.5 1818.41 1678.77 1818.03 1676.03 1817.64 1673.3 1817.22 1670.57 1816.78 1667.83 1816.31 1665.1 1815.82 1662.37 1815.31 1659.63 1814.77 1656.9 1814.2 1654.17 1813.61 1651.43 1812.99 1648.7 1812.35 1645.96 1811.68 1643.23" fill="none" stroke="#f3605a" stroke-width="3.4" stroke-linejoin="round"/>
<path d="M1668.32 2049.87 1667.65 2047.14 1667.01 2044.4 1666.39 2041.67 1665.8 2038.93 1665.23 2036.2 1664.69 2033.47 1664.18 2030.73 1663.69 2028 1663.22 2025.27 1662.78 2022.53 1662.36 2019.8 1661.97 2017.07 1661.59 2014.33 1661.25 2011.6 1660.92 2008.86 1660.62 2006.13 1660.34 2003.4 1660.09 2000.66 1659.85 1997.93 1659.64 1995.2 1659.46 1992.46 1659.29 1989.73 1659.15 1987 1659.02 1984.26 1658.93 1981.53 1658.85 1978.79 1658.79 1976.06 1658.76 1973.33 1658.75 1970.59 1658.91 1962.04 1659.37 1953.48 1660.11 1944.93 1661.11 1936.37 1662.31 1927.82 1663.65 1919.27 1665.08 1910.71 1666.53 1902.16 1667.92 1893.6 1669.2 1885.05 1670.3 1876.49 1671.18 1867.94 1671.79 1859.38 1672.1 1850.83 1672.1 1842.27 1671.79 1833.72 1671.18 1825.16 1670.3 1816.61 1669.2 1808.05 1667.92 1799.5 1666.53 1790.94 1665.08 1782.39 1663.65 1773.83 1662.31 1765.28 1661.11 1756.73 1660.11 1748.17 1659.37 1739.62 1658.91 1731.06 1658.75 1722.51 1658.76 1719.77 1658.79 1717.04 1658.85 1714.31 1658.93 1711.57 1659.02 1708.84 1659.15 1706.1 1659.29 1703.37 1659.46 1700.64 1659.64 1697.9 1659.85 1695.17 1660.09 1692.44 1660.34 1689.7 1660.62 1686.97 1660.92 1684.24 1661.25 1681.5 1661.59 1678.77 1661.97 1676.03 1662.36 1673.3 1662.78 1670.57 1663.22 1667.83 1663.69 1665.1 1664.18 1662.37 1664.69 1659.63 1665.23 1656.9 1665.8 1654.17 1666.39 1651.43 1667.01 1648.7 1667.65 1645.96 1668.32 1643.23" fill="none" stroke="#f3605a" stroke-width="3.4" stroke-linejoin="round"/>
<rect x="1479.7" y="1548.1" width="520.6" height="596.9" fill="none" stroke="#000" stroke-width="3.6"/>
<path d="M1554.07 2145v-7.4M1647.04 2145v-7.4M1740 2145v-7.4M1832.96 2145v-7.4M1925.93 2145v-7.4M1507.59 2145v-4.8M1600.55 2145v-4.8M1693.52 2145v-4.8M1786.48 2145v-4.8M1879.45 2145v-4.8M1972.41 2145v-4.8" stroke="#000" stroke-width="3.4" fill="none"/>
<path d="M1479.7 2126.35h7.4M1479.7 2033.08h7.4M1479.7 1939.82h7.4M1479.7 1846.55h7.4M1479.7 1753.28h7.4M1479.7 1660.02h7.4M1479.7 1566.75h7.4M1479.7 2079.71h4.8M1479.7 1986.45h4.8M1479.7 1893.18h4.8M1479.7 1799.92h4.8M1479.7 1706.65h4.8M1479.7 1613.39h4.8" stroke="#000" stroke-width="3.4" fill="none"/>
<text x="1554.07" y="2176.5" font-size="30" text-anchor="middle" font-family="'Liberation Sans', Arial, sans-serif" >-10</text>
<text x="1647.04" y="2176.5" font-size="30" text-anchor="middle" font-family="'Liberation Sans', Arial, sans-serif" >-5</text>
<text x="1740" y="2176.5" font-size="30" text-anchor="middle" font-family="'Liberation Sans', Arial, sans-serif" >0</text>
<text x="1832.96" y="2176.5" font-size="30" text-anchor="middle" font-family="'Liberation Sans', Arial, sans-serif" >5</text>
<text x="1925.93" y="2176.5" font-size="30" text-anchor="middle" font-family="'Liberation Sans', Arial, sans-serif" >10</text>
<text x="1470" y="2137.15" font-size="30" text-anchor="end" font-family="'Liberation Sans', Arial, sans-serif" >-15</text>
<text x="1470" y="2043.88" font-size="30" text-anchor="end" font-family="'Liberation Sans', Arial, sans-serif" >-10</text>
<text x="1470" y="1950.62" font-size="30" text-anchor="end" font-family="'Liberation Sans', Arial, sans-serif" >-5</text>
<text x="1470" y="1857.35" font-size="30" text-anchor="end" font-family="'Liberation Sans', Arial, sans-serif" >0</text>
<text x="1470" y="1764.08" font-size="30" text-anchor="end" font-family="'Liberation Sans', Arial, sans-serif" >5</text>
<text x="1470" y="1670.82" font-size="30" text-anchor="end" font-family="'Liberation Sans', Arial, sans-serif" >10</text>
<text x="1470" y="1577.55" font-size="30" text-anchor="end" font-family="'Liberation Sans', Arial, sans-serif" >15</text>
<text x="1739.8" y="2227.7" font-size="30" text-anchor="middle" font-family="'Liberation Sans', Arial, sans-serif" >Wave vector <tspan font-style="italic">q</tspan><tspan dy="7" font-size="20" font-style="italic">b</tspan><tspan dy="-7"> (10</tspan><tspan dy="-11" font-size="20">6</tspan><tspan dy="11"> m</tspan><tspan dy="-11" font-size="20">-1</tspan><tspan dy="11">)</tspan></text>
<text x="0" y="0" font-size="30" text-anchor="middle" font-family="'Liberation Sans', Arial, sans-serif" transform="translate(1411.2 1842.5) rotate(-90)">Wave vector <tspan font-style="italic">q</tspan><tspan dy="7" font-size="20" font-style="italic">c</tspan><tspan dy="-7"> (10</tspan><tspan dy="-11" font-size="20">6</tspan><tspan dy="11"> m</tspan><tspan dy="-11" font-size="20">-1</tspan><tspan dy="11">)</tspan></text>
<rect x="1902.4" y="1576.4" width="12.1" height="29.86" fill="#f00a28"/>
<rect x="1902.4" y="1605.96" width="12.1" height="29.86" fill="#f3605a"/>
<rect x="1902.4" y="1635.51" width="12.1" height="29.86" fill="#f07a2a"/>
<rect x="1902.4" y="1665.07" width="12.1" height="29.86" fill="#eca72c"/>
<rect x="1902.4" y="1694.63" width="12.1" height="29.86" fill="#e8c82e"/>
<rect x="1902.4" y="1724.19" width="12.1" height="29.86" fill="#b0b832"/>
<rect x="1902.4" y="1753.74" width="12.1" height="29.86" fill="#6b8c2e"/>
<path d="M1940.3 1782.2L1940.3 1596.4" stroke="#000" stroke-width="2.6" stroke-dasharray="7 4.5" fill="none"/>
<path d="M1940.3 1576.4L1946.3 1598.4L1934.3 1598.4Z" fill="#000"/>
<text x="1683.7" y="1587.4" font-size="30" text-anchor="start" font-family="'Liberation Sans', Arial, sans-serif" >3000 cm<tspan dy="-11" font-size="20">-1</tspan><tspan dy="11"></tspan></text>
<text x="1842.9" y="1826.3" font-size="30" text-anchor="start" font-family="'Liberation Sans', Arial, sans-serif" >Increasing</text>
<text x="1842.9" y="1870.4" font-size="30" text-anchor="start" font-family="'Liberation Sans', Arial, sans-serif" ><tspan font-style="italic">t</tspan><tspan dy="7" font-size="20">intercalation</tspan></text>
<text x="-1.5" y="37.5" font-size="52" text-anchor="start" font-family="'Liberation Sans', Arial, sans-serif" >a</text>
<text x="683.9" y="37.9" font-size="52" text-anchor="start" font-family="'Liberation Sans', Arial, sans-serif" >b</text>
<text x="1369" y="37.9" font-size="52" text-anchor="start" font-family="'Liberation Sans', Arial, sans-serif" >c</text>
<text x="1.5" y="787" font-size="52" text-anchor="start" font-family="'Liberation Sans', Arial, sans-serif" >d</text>
<text x="685.5" y="787" font-size="52" text-anchor="start" font-family="'Liberation Sans', Arial, sans-serif" >e</text>
<text x="1370" y="786" font-size="52" text-anchor="start" font-family="'Liberation Sans', Arial, sans-serif" >f</text>
<text x="-1" y="1535" font-size="52" text-anchor="start" font-family="'Liberation Sans', Arial, sans-serif" >g</text>
<text x="690" y="1548.5" font-size="52" text-anchor="start" font-family="'Liberation Sans', Arial, sans-serif" >h</text>
<text x="1371" y="1547" font-size="52" text-anchor="start" font-family="'Liberation Sans', Arial, sans-serif" >i</text>
</svg></body></html>
